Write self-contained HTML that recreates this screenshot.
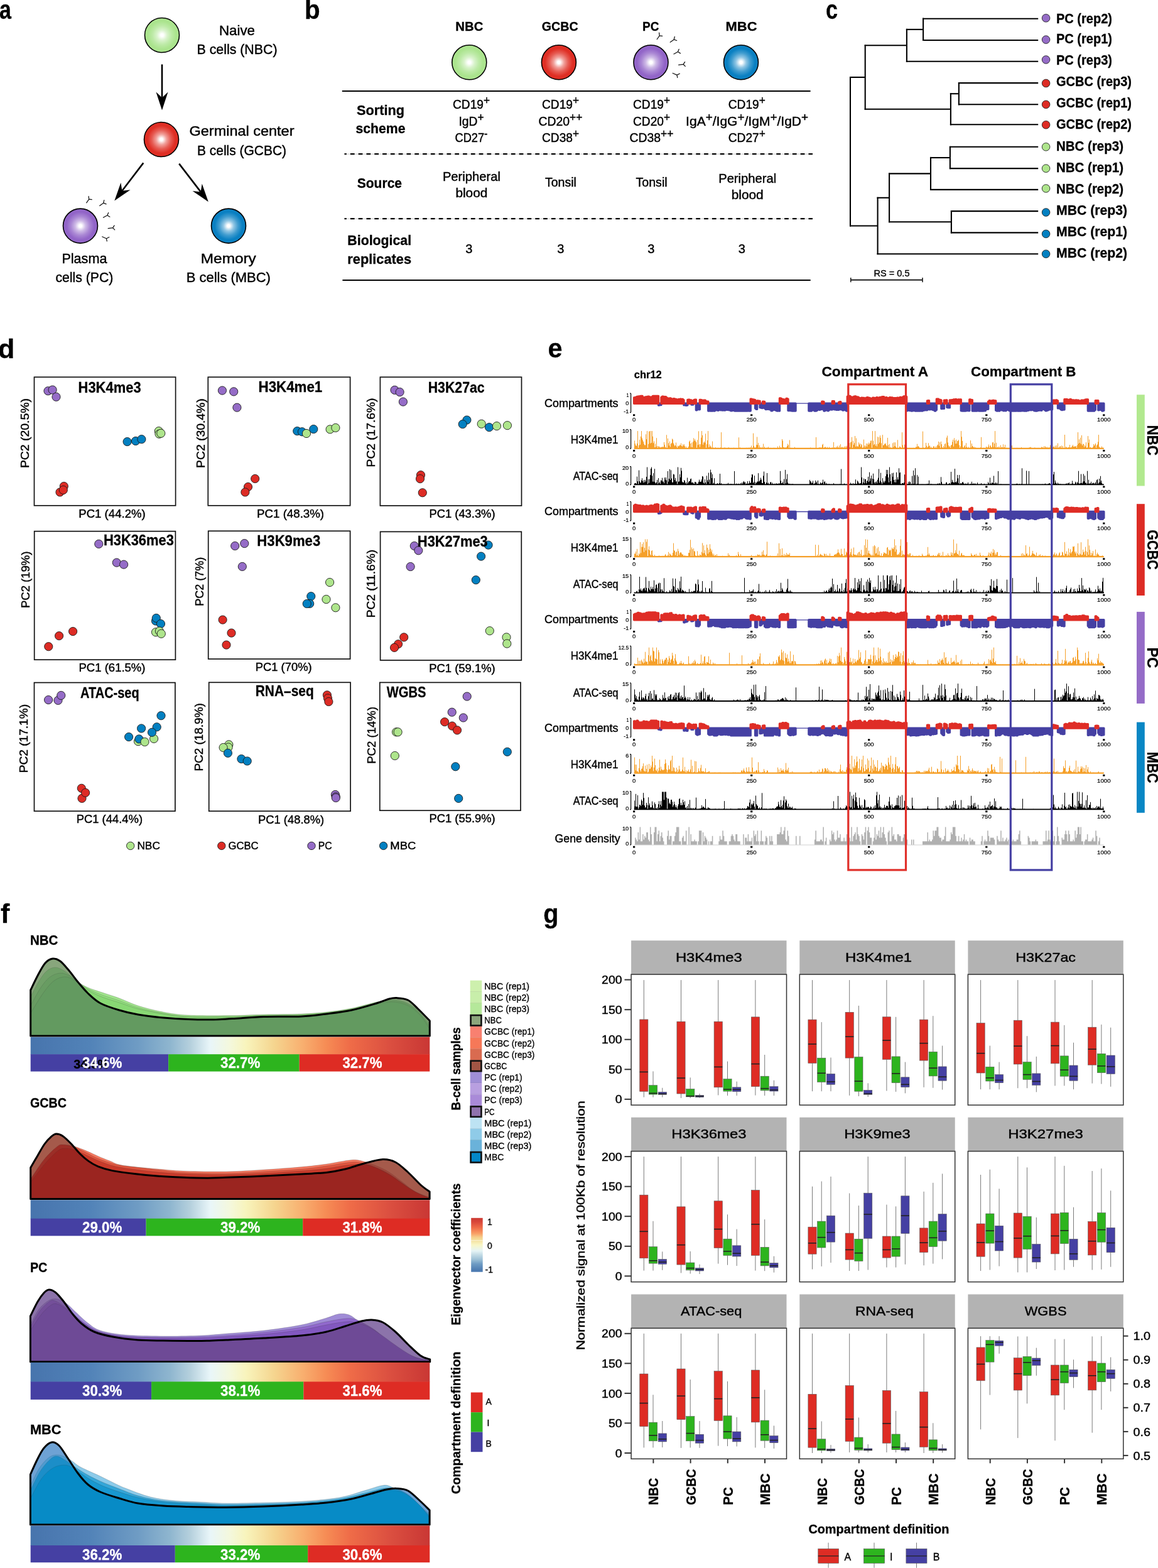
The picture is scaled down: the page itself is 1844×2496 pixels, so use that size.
<!DOCTYPE html>
<html><head><meta charset="utf-8"><title>Figure</title>
<style>html,body{margin:0;padding:0;background:#fff;}svg{display:block;}
text{font-family:"Liberation Sans", Arial, sans-serif;}</style></head>
<body><svg width="1844" height="2496" viewBox="0 0 1844 2496">
<defs><radialGradient id="gNBC" cx="50%" cy="50%" r="50%"><stop offset="0" stop-color="#fff"/><stop offset="0.08" stop-color="#fff"/><stop offset="0.3" stop-color="#d9f3cc"/><stop offset="0.55" stop-color="#bdeaa7"/><stop offset="0.8" stop-color="#abe48e"/><stop offset="1" stop-color="#abe48e"/></radialGradient>
<radialGradient id="gGCBC" cx="50%" cy="50%" r="50%"><stop offset="0" stop-color="#fff"/><stop offset="0.08" stop-color="#fff"/><stop offset="0.3" stop-color="#f1a19c"/><stop offset="0.55" stop-color="#e65c54"/><stop offset="0.8" stop-color="#df2e24"/><stop offset="1" stop-color="#df2e24"/></radialGradient>
<radialGradient id="gPC" cx="50%" cy="50%" r="50%"><stop offset="0" stop-color="#fff"/><stop offset="0.08" stop-color="#fff"/><stop offset="0.3" stop-color="#cebae6"/><stop offset="0.55" stop-color="#aa87d4"/><stop offset="0.8" stop-color="#9265c8"/><stop offset="1" stop-color="#9265c8"/></radialGradient>
<radialGradient id="gMBC" cx="50%" cy="50%" r="50%"><stop offset="0" stop-color="#fff"/><stop offset="0.08" stop-color="#fff"/><stop offset="0.3" stop-color="#91c6e4"/><stop offset="0.55" stop-color="#409ccf"/><stop offset="0.8" stop-color="#0a80c2"/><stop offset="1" stop-color="#0a80c2"/></radialGradient>
<linearGradient id="eigH" x1="0" y1="0" x2="1" y2="0"><stop offset="0" stop-color="#4774ad"/><stop offset="0.15" stop-color="#5283b8"/><stop offset="0.27" stop-color="#6f9cc4"/><stop offset="0.35" stop-color="#8fb6cf"/><stop offset="0.4" stop-color="#b5d0dd"/><stop offset="0.45" stop-color="#e9f6f9"/><stop offset="0.5" stop-color="#f4f8dc"/><stop offset="0.54" stop-color="#f8f4bc"/><stop offset="0.61" stop-color="#f5d58f"/><stop offset="0.68" stop-color="#f8b070"/><stop offset="0.74" stop-color="#f68c55"/><stop offset="0.8" stop-color="#ef6c48"/><stop offset="0.9" stop-color="#db4f40"/><stop offset="1" stop-color="#c93734"/></linearGradient>
<linearGradient id="eigV" x1="0" y1="1" x2="0" y2="0"><stop offset="0" stop-color="#4a78b0"/><stop offset="0.04" stop-color="#4f7db2"/><stop offset="0.15" stop-color="#6f9cc4"/><stop offset="0.23" stop-color="#9cc0d6"/><stop offset="0.32" stop-color="#c4dce6"/><stop offset="0.39" stop-color="#e6f4f6"/><stop offset="0.5" stop-color="#f8f6c6"/><stop offset="0.6" stop-color="#f4dc98"/><stop offset="0.64" stop-color="#f5cf8c"/><stop offset="0.71" stop-color="#f9a066"/><stop offset="0.82" stop-color="#ef6c48"/><stop offset="0.93" stop-color="#d8463a"/><stop offset="1" stop-color="#cc3a32"/></linearGradient>
<clipPath id="fc1"><path d="M48.7 1576C50.6 1572.2 56.1 1560.2 60 1553C63.9 1545.8 68 1537.5 72 1533C76 1528.5 80 1526.5 84 1526C88 1525.5 91.6 1526.8 95.9 1530C100.2 1533.2 105.2 1539.5 109.9 1545C114.6 1550.5 118.9 1557 123.9 1563C128.9 1569 133.9 1575.3 139.9 1581C145.9 1586.7 151.6 1592.5 159.9 1597C168.2 1601.5 179.8 1605 189.8 1608C199.8 1611 208.1 1613 219.8 1615C231.5 1617 246.5 1618.8 259.8 1620C273.1 1621.2 286.4 1622 299.7 1622.5C313 1623 328 1623.2 339.7 1623C351.4 1622.8 356.6 1622.2 370 1621.5C383.4 1620.8 401.7 1619.1 420 1618.5C438.3 1617.9 463.3 1618.7 479.9 1617.9C496.5 1617.2 506.5 1615.7 519.8 1614C533.1 1612.3 546.5 1610.8 559.8 1608C573.1 1605.2 589.8 1600 599.8 1597C609.8 1594 614.4 1591.4 619.7 1590C625 1588.6 626.7 1588.3 631.7 1588.6C636.7 1588.9 644 1589.1 649.7 1592C655.4 1594.9 659.9 1600.5 665.7 1606C671.5 1611.5 681.2 1621.8 684.3 1625V1649H48.7Z"/></clipPath>
<clipPath id="fc2"><path d="M48.7 1858.8C50.5 1855.7 55.7 1846.7 59.4 1840.4C63.1 1834.1 67.3 1826.2 71 1821C74.7 1815.8 78.5 1812.1 81.6 1809.4C84.7 1806.8 86.3 1805.3 89.4 1805.1C92.5 1804.9 96 1805.8 100 1808.4C104 1811.1 109.1 1816.3 113.6 1821C118.1 1825.7 122.7 1832 127.2 1836.5C131.7 1841 135.9 1844.7 140.7 1848.1C145.5 1851.5 149.7 1854.2 156.2 1856.8C162.7 1859.4 169.8 1861.7 179.5 1863.6C189.2 1865.5 202 1867 214.3 1868.4C226.6 1869.9 240.2 1871.3 253.1 1872.3C266 1873.3 278.9 1873.8 291.8 1874.3C304.7 1874.8 319.2 1875.2 330.6 1875.2C342 1875.2 345.1 1874.8 360 1874.3C374.9 1873.8 400 1872.9 420 1872C440 1871.1 463.3 1869.9 479.9 1869C496.5 1868.1 508.1 1867.7 519.8 1866.4C531.4 1865.1 539.8 1863.4 549.8 1861C559.8 1858.6 569.8 1854.6 579.8 1852C589.8 1849.4 601.4 1845.9 609.7 1845.6C618 1845.3 623 1846.6 629.7 1850C636.4 1853.4 643 1860 649.7 1866C656.4 1872 664 1880.8 669.7 1886C675.4 1891.2 681.7 1895.2 684.1 1897V1908.4H48.7Z"/></clipPath>
<clipPath id="fc3"><path d="M48.4 2095C50.3 2091.2 56.4 2078.2 60 2072C63.6 2065.8 67 2061.2 70 2058C73 2054.8 75 2053.2 78 2053C81 2052.8 84.3 2054.2 88 2057C91.7 2059.8 95.3 2064.2 100 2070C104.7 2075.8 110.9 2085.8 115.9 2092C120.9 2098.2 124.2 2102.3 129.9 2107C135.6 2111.7 141.6 2116.5 149.9 2120C158.2 2123.5 168.2 2125.8 179.9 2128C191.6 2130.2 206.5 2132 219.8 2133C233.1 2134 246.5 2133.8 259.8 2134C273.1 2134.2 288.1 2134.4 299.7 2134.5C311.3 2134.6 319.6 2134.6 329.7 2134.3C339.8 2134.1 344.9 2133.7 360 2133C375.1 2132.3 400 2131.2 420 2130C440 2128.8 463.3 2127.7 479.9 2126C496.5 2124.3 508.1 2122.5 519.8 2120C531.4 2117.5 540.5 2113.8 549.8 2111C559.1 2108.2 568.8 2104.7 575.8 2103C582.8 2101.3 586.1 2100.7 591.8 2101C597.4 2101.3 603.4 2101.8 609.7 2105C616 2108.2 623 2114.2 629.7 2120C636.4 2125.8 643 2133.7 649.7 2140C656.4 2146.3 663.9 2154 669.7 2158C675.5 2162 682.2 2163 684.7 2164V2167.8H48.4Z"/></clipPath>
<clipPath id="fc4"><path d="M48.4 2347C50.3 2342.8 56.4 2329 60 2322C63.6 2315 66.3 2309.3 70 2305C73.7 2300.7 78 2296.7 82 2296C86 2295.3 89.6 2296.8 93.9 2301C98.2 2305.2 102.9 2313.7 107.9 2321C112.9 2328.3 118.6 2338 123.9 2345C129.2 2352 133.9 2358 139.9 2363C145.9 2368 151.6 2371.3 159.9 2375C168.2 2378.7 179.8 2382 189.8 2385C199.8 2388 208.1 2391 219.8 2393C231.5 2395 246.5 2396.1 259.8 2397C273.1 2397.9 283 2398.1 299.7 2398.5C316.4 2398.9 339.9 2399.6 360 2399.5C380.1 2399.4 400 2398.8 420 2398C440 2397.2 463.3 2396 479.9 2395C496.5 2394 506.5 2393.5 519.8 2392C533.1 2390.5 548.1 2388.3 559.8 2386C571.5 2383.7 580.5 2380.5 589.8 2378C599.1 2375.5 608.7 2372.4 615.7 2371C622.7 2369.6 626 2369.1 631.7 2369.4C637.4 2369.7 643.4 2369.6 649.7 2373C656 2376.4 664 2384.8 669.7 2390C675.4 2395.2 681.7 2401.7 684.1 2404V2427.1H48.4Z"/></clipPath></defs>
<rect width="1844" height="2496" fill="#fff"/>
<text x="-0.9" y="29.5" font-size="43" font-weight="bold" stroke="#000" stroke-width="0.30" textLength="18.9" lengthAdjust="spacingAndGlyphs">a</text>
<text x="485" y="30.4" font-size="43" font-weight="bold" stroke="#000" stroke-width="0.30" textLength="24.7" lengthAdjust="spacingAndGlyphs">b</text>
<text x="1315.1" y="30.4" font-size="43" font-weight="bold" stroke="#000" stroke-width="0.30" textLength="19.1" lengthAdjust="spacingAndGlyphs">c</text>
<circle cx="258" cy="56" r="27.5" fill="url(#gNBC)" stroke="#000" stroke-width="1.6"/>
<circle cx="257" cy="222" r="27.5" fill="url(#gGCBC)" stroke="#000" stroke-width="1.6"/>
<circle cx="128" cy="359.6" r="27.5" fill="url(#gPC)" stroke="#000" stroke-width="1.6"/>
<circle cx="364" cy="359.6" r="27.5" fill="url(#gMBC)" stroke="#000" stroke-width="1.6"/>
<line x1="258" y1="102.5" x2="258" y2="155.5" stroke="#000" stroke-width="2.6"/>
<path d="M258 175.5 L248.5 146.5 L258 155.5 L267.5 146.5 Z" fill="#000"/>
<line x1="228.3" y1="259.4" x2="194.4" y2="303.7" stroke="#000" stroke-width="2.6"/>
<path d="M182.3 319.6 L192.4 290.8 L194.4 303.7 L207.5 302.3 Z" fill="#000"/>
<line x1="285.2" y1="260.6" x2="319.6" y2="305.4" stroke="#000" stroke-width="2.6"/>
<path d="M331.8 321.3 L306.6 304.1 L319.6 305.4 L321.7 292.5 Z" fill="#000"/>
<text x="377.5" y="55.5" font-size="22" text-anchor="middle" stroke="#000" stroke-width="0.42" textLength="57" lengthAdjust="spacingAndGlyphs">Naive</text>
<text x="377.5" y="86" font-size="22" text-anchor="middle" stroke="#000" stroke-width="0.42" textLength="128" lengthAdjust="spacingAndGlyphs">B cells (NBC)</text>
<text x="385" y="216" font-size="22" text-anchor="middle" stroke="#000" stroke-width="0.42" textLength="167" lengthAdjust="spacingAndGlyphs">Germinal center</text>
<text x="385" y="247" font-size="22" text-anchor="middle" stroke="#000" stroke-width="0.42" textLength="142" lengthAdjust="spacingAndGlyphs">B cells (GCBC)</text>
<text x="134.4" y="419" font-size="22" text-anchor="middle" stroke="#000" stroke-width="0.42" textLength="72" lengthAdjust="spacingAndGlyphs">Plasma</text>
<text x="134.4" y="449" font-size="22" text-anchor="middle" stroke="#000" stroke-width="0.42" textLength="92" lengthAdjust="spacingAndGlyphs">cells (PC)</text>
<text x="363.8" y="419" font-size="22" text-anchor="middle" stroke="#000" stroke-width="0.42" textLength="88" lengthAdjust="spacingAndGlyphs">Memory</text>
<text x="363.8" y="449" font-size="22" text-anchor="middle" stroke="#000" stroke-width="0.42" textLength="134" lengthAdjust="spacingAndGlyphs">B cells (MBC)</text>
<path d="M137.7 322.8L141.7 317.2M141.7 317.2L141.1 312.5M141.7 317.2L146.2 317.6M158.7 327.5L164.7 323.2M164.7 323.2L165.8 318.7M164.7 323.2L169.1 324.8M164.5 346.3L170.9 342.8M170.9 342.8L172.7 338.6M170.9 342.8L174.9 345.2M172.2 363.7L179.6 362.6M179.6 362.6L182.1 358.9M179.6 362.6L182.7 365.9M170.3 383.8L169.4 379.7M169.4 379.7L162.7 376.8M169.4 379.7L173.8 377.5" fill="none" stroke="#111" stroke-width="1.25" stroke-linecap="round"/>
<text x="747.3" y="48.5" font-size="21" font-weight="bold" text-anchor="middle" stroke="#000" stroke-width="0.30" textLength="44" lengthAdjust="spacingAndGlyphs">NBC</text>
<text x="891.8" y="48.5" font-size="21" font-weight="bold" text-anchor="middle" stroke="#000" stroke-width="0.30" textLength="58" lengthAdjust="spacingAndGlyphs">GCBC</text>
<text x="1036.2" y="48.5" font-size="21" font-weight="bold" text-anchor="middle" stroke="#000" stroke-width="0.30" textLength="26.4" lengthAdjust="spacingAndGlyphs">PC</text>
<text x="1180.5" y="48.5" font-size="21" font-weight="bold" text-anchor="middle" stroke="#000" stroke-width="0.30" textLength="50" lengthAdjust="spacingAndGlyphs">MBC</text>
<circle cx="747.3" cy="99.3" r="27.5" fill="url(#gNBC)" stroke="#000" stroke-width="1.6"/>
<circle cx="889.9" cy="99.3" r="27.5" fill="url(#gGCBC)" stroke="#000" stroke-width="1.6"/>
<circle cx="1036.5" cy="99.3" r="27.5" fill="url(#gPC)" stroke="#000" stroke-width="1.6"/>
<circle cx="1180" cy="99.3" r="27.5" fill="url(#gMBC)" stroke="#000" stroke-width="1.6"/>
<path d="M1046.2 62.5L1050.2 56.9M1050.2 56.9L1049.6 52.2M1050.2 56.9L1054.7 57.3M1067.2 67.2L1073.2 62.9M1073.2 62.9L1074.3 58.4M1073.2 62.9L1077.6 64.5M1073 86L1079.4 82.5M1079.4 82.5L1081.2 78.3M1079.4 82.5L1083.4 84.9M1080.7 103.4L1088.1 102.3M1088.1 102.3L1090.6 98.6M1088.1 102.3L1091.2 105.6M1078.8 123.5L1077.9 119.4M1077.9 119.4L1071.2 116.5M1077.9 119.4L1082.3 117.2" fill="none" stroke="#111" stroke-width="1.25" stroke-linecap="round"/>
<line x1="544.8" y1="145" x2="1290.6" y2="145" stroke="#000" stroke-width="2.2"/>
<line x1="548.5" y1="245.2" x2="1294" y2="245.2" stroke="#bdbdbd" stroke-width="0.8"/>
<line x1="548.5" y1="245.2" x2="1294" y2="245.2" stroke="#000" stroke-width="2.2" stroke-dasharray="6.7 6.1" stroke-dashoffset="3.4"/>
<line x1="548.5" y1="348.2" x2="1294" y2="348.2" stroke="#bdbdbd" stroke-width="0.8"/>
<line x1="548.5" y1="348.2" x2="1294" y2="348.2" stroke="#000" stroke-width="2.2" stroke-dasharray="6.7 6.1" stroke-dashoffset="3.4"/>
<line x1="545.4" y1="446" x2="1290.7" y2="446" stroke="#000" stroke-width="2.2"/>
<text x="606" y="183" font-size="22.5" font-weight="bold" text-anchor="middle" stroke="#000" stroke-width="0.30" textLength="76" lengthAdjust="spacingAndGlyphs">Sorting</text>
<text x="606" y="212.2" font-size="22.5" font-weight="bold" text-anchor="middle" stroke="#000" stroke-width="0.30" textLength="79" lengthAdjust="spacingAndGlyphs">scheme</text>
<text x="604.4" y="299" font-size="22.5" font-weight="bold" text-anchor="middle" stroke="#000" stroke-width="0.30" textLength="71.3" lengthAdjust="spacingAndGlyphs">Source</text>
<text x="604.2" y="390" font-size="22.5" font-weight="bold" text-anchor="middle" stroke="#000" stroke-width="0.30" textLength="101.7" lengthAdjust="spacingAndGlyphs">Biological</text>
<text x="604.2" y="419.5" font-size="22.5" font-weight="bold" text-anchor="middle" stroke="#000" stroke-width="0.30" textLength="101.7" lengthAdjust="spacingAndGlyphs">replicates</text>
<text x="750.5" y="173.3" font-size="20" text-anchor="middle" stroke="#000" stroke-width="0.42" textLength="59" lengthAdjust="spacingAndGlyphs">CD19<tspan dy="-7.5" font-size="18">+</tspan></text>
<text x="750.5" y="200.4" font-size="20" text-anchor="middle" stroke="#000" stroke-width="0.42" textLength="40" lengthAdjust="spacingAndGlyphs">IgD<tspan dy="-7.5" font-size="18">+</tspan></text>
<text x="750.5" y="226" font-size="20" text-anchor="middle" stroke="#000" stroke-width="0.42" textLength="52" lengthAdjust="spacingAndGlyphs">CD27<tspan dy="-7.5" font-size="18">-</tspan></text>
<text x="892.5" y="173.3" font-size="20" text-anchor="middle" stroke="#000" stroke-width="0.42" textLength="59" lengthAdjust="spacingAndGlyphs">CD19<tspan dy="-7.5" font-size="18">+</tspan></text>
<text x="892.5" y="200.4" font-size="20" text-anchor="middle" stroke="#000" stroke-width="0.42" textLength="70" lengthAdjust="spacingAndGlyphs">CD20<tspan dy="-7.5" font-size="18">++</tspan></text>
<text x="892.5" y="226" font-size="20" text-anchor="middle" stroke="#000" stroke-width="0.42" textLength="59" lengthAdjust="spacingAndGlyphs">CD38<tspan dy="-7.5" font-size="18">+</tspan></text>
<text x="1037.5" y="173.3" font-size="20" text-anchor="middle" stroke="#000" stroke-width="0.42" textLength="59" lengthAdjust="spacingAndGlyphs">CD19<tspan dy="-7.5" font-size="18">+</tspan></text>
<text x="1037.5" y="200.4" font-size="20" text-anchor="middle" stroke="#000" stroke-width="0.42" textLength="59" lengthAdjust="spacingAndGlyphs">CD20<tspan dy="-7.5" font-size="18">+</tspan></text>
<text x="1037.5" y="226" font-size="20" text-anchor="middle" stroke="#000" stroke-width="0.42" textLength="70" lengthAdjust="spacingAndGlyphs">CD38<tspan dy="-7.5" font-size="18">++</tspan></text>
<text x="1189.3" y="173.3" font-size="20" text-anchor="middle" stroke="#000" stroke-width="0.42" textLength="59" lengthAdjust="spacingAndGlyphs">CD19<tspan dy="-7.5" font-size="18">+</tspan></text>
<text x="1189.6" y="200.4" font-size="20" text-anchor="middle" stroke="#000" stroke-width="0.42" textLength="195" lengthAdjust="spacingAndGlyphs">IgA<tspan dy="-7.5" font-size="18">+</tspan><tspan dy="7.5">/IgG</tspan><tspan dy="-7.5" font-size="18">+</tspan><tspan dy="7.5">/IgM</tspan><tspan dy="-7.5" font-size="18">+</tspan><tspan dy="7.5">/IgD</tspan><tspan dy="-7.5" font-size="18">+</tspan></text>
<text x="1189.3" y="226" font-size="20" text-anchor="middle" stroke="#000" stroke-width="0.42" textLength="59" lengthAdjust="spacingAndGlyphs">CD27<tspan dy="-7.5" font-size="18">+</tspan></text>
<text x="750.9" y="287.6" font-size="20" text-anchor="middle" stroke="#000" stroke-width="0.42" textLength="92" lengthAdjust="spacingAndGlyphs">Peripheral</text>
<text x="750.9" y="314" font-size="20" text-anchor="middle" stroke="#000" stroke-width="0.42" textLength="51" lengthAdjust="spacingAndGlyphs">blood</text>
<text x="892.9" y="297" font-size="20" text-anchor="middle" stroke="#000" stroke-width="0.42" textLength="50" lengthAdjust="spacingAndGlyphs">Tonsil</text>
<text x="1037.6" y="297" font-size="20" text-anchor="middle" stroke="#000" stroke-width="0.42" textLength="50" lengthAdjust="spacingAndGlyphs">Tonsil</text>
<text x="1190.2" y="290.8" font-size="20" text-anchor="middle" stroke="#000" stroke-width="0.42" textLength="92" lengthAdjust="spacingAndGlyphs">Peripheral</text>
<text x="1190.2" y="317.2" font-size="20" text-anchor="middle" stroke="#000" stroke-width="0.42" textLength="51" lengthAdjust="spacingAndGlyphs">blood</text>
<text x="746.9" y="403" font-size="20" text-anchor="middle" stroke="#000" stroke-width="0.42">3</text>
<text x="892.7" y="403" font-size="20" text-anchor="middle" stroke="#000" stroke-width="0.42">3</text>
<text x="1036.8" y="403" font-size="20" text-anchor="middle" stroke="#000" stroke-width="0.42">3</text>
<text x="1181.2" y="403" font-size="20" text-anchor="middle" stroke="#000" stroke-width="0.42">3</text>
<line x1="1469" y1="29.7" x2="1653.2" y2="29.7" stroke="#000" stroke-width="2.1"/>
<line x1="1469" y1="64" x2="1653.2" y2="64" stroke="#000" stroke-width="2.1"/>
<line x1="1470.1" y1="28.6" x2="1470.1" y2="65" stroke="#000" stroke-width="2.1"/>
<line x1="1442.9" y1="46.9" x2="1470.1" y2="46.9" stroke="#000" stroke-width="2.1"/>
<line x1="1442.9" y1="97.8" x2="1653.2" y2="97.8" stroke="#000" stroke-width="2.1"/>
<line x1="1443.9" y1="45.8" x2="1443.9" y2="98.8" stroke="#000" stroke-width="2.1"/>
<line x1="1525.9" y1="132.1" x2="1653.2" y2="132.1" stroke="#000" stroke-width="2.1"/>
<line x1="1525.9" y1="166.3" x2="1653.2" y2="166.3" stroke="#000" stroke-width="2.1"/>
<line x1="1526.9" y1="131" x2="1526.9" y2="167.4" stroke="#000" stroke-width="2.1"/>
<line x1="1512.9" y1="149.2" x2="1526.9" y2="149.2" stroke="#000" stroke-width="2.1"/>
<line x1="1512.9" y1="198.3" x2="1653.2" y2="198.3" stroke="#000" stroke-width="2.1"/>
<line x1="1513.9" y1="148.1" x2="1513.9" y2="199.4" stroke="#000" stroke-width="2.1"/>
<line x1="1376.7" y1="72.3" x2="1443.9" y2="72.3" stroke="#000" stroke-width="2.1"/>
<line x1="1376.7" y1="173.8" x2="1513.9" y2="173.8" stroke="#000" stroke-width="2.1"/>
<line x1="1377.7" y1="71.3" x2="1377.7" y2="174.8" stroke="#000" stroke-width="2.1"/>
<line x1="1511.9" y1="233.8" x2="1653.2" y2="233.8" stroke="#000" stroke-width="2.1"/>
<line x1="1511.9" y1="268.1" x2="1653.2" y2="268.1" stroke="#000" stroke-width="2.1"/>
<line x1="1512.9" y1="232.8" x2="1512.9" y2="269.2" stroke="#000" stroke-width="2.1"/>
<line x1="1481" y1="251" x2="1512.9" y2="251" stroke="#000" stroke-width="2.1"/>
<line x1="1481" y1="301.9" x2="1653.2" y2="301.9" stroke="#000" stroke-width="2.1"/>
<line x1="1482" y1="249.9" x2="1482" y2="302.9" stroke="#000" stroke-width="2.1"/>
<line x1="1513.9" y1="336.1" x2="1653.2" y2="336.1" stroke="#000" stroke-width="2.1"/>
<line x1="1513.9" y1="370.4" x2="1653.2" y2="370.4" stroke="#000" stroke-width="2.1"/>
<line x1="1514.9" y1="335.1" x2="1514.9" y2="371.4" stroke="#000" stroke-width="2.1"/>
<line x1="1415" y1="276.4" x2="1482" y2="276.4" stroke="#000" stroke-width="2.1"/>
<line x1="1415" y1="353.2" x2="1514.9" y2="353.2" stroke="#000" stroke-width="2.1"/>
<line x1="1416.1" y1="275.4" x2="1416.1" y2="354.3" stroke="#000" stroke-width="2.1"/>
<line x1="1396.5" y1="314.8" x2="1416.1" y2="314.8" stroke="#000" stroke-width="2.1"/>
<line x1="1396.5" y1="404.2" x2="1653.2" y2="404.2" stroke="#000" stroke-width="2.1"/>
<line x1="1397.6" y1="313.8" x2="1397.6" y2="405.2" stroke="#000" stroke-width="2.1"/>
<line x1="1353" y1="123" x2="1377.7" y2="123" stroke="#000" stroke-width="2.1"/>
<line x1="1353" y1="359.5" x2="1397.6" y2="359.5" stroke="#000" stroke-width="2.1"/>
<line x1="1354" y1="122" x2="1354" y2="360.6" stroke="#000" stroke-width="2.1"/>
<circle cx="1665.6" cy="28.8" r="6.3" fill="#956cc7" stroke="#222" stroke-width="0.9"/>
<text x="1682" y="36.8" font-size="22.2" font-weight="bold" stroke="#000" stroke-width="0.30" textLength="89" lengthAdjust="spacingAndGlyphs">PC (rep2)</text>
<circle cx="1665.6" cy="63.1" r="6.3" fill="#956cc7" stroke="#222" stroke-width="0.9"/>
<text x="1682" y="69.2" font-size="22.2" font-weight="bold" stroke="#000" stroke-width="0.30" textLength="89" lengthAdjust="spacingAndGlyphs">PC (rep1)</text>
<circle cx="1665.6" cy="95" r="6.3" fill="#956cc7" stroke="#222" stroke-width="0.9"/>
<text x="1682" y="103" font-size="22.2" font-weight="bold" stroke="#000" stroke-width="0.30" textLength="89" lengthAdjust="spacingAndGlyphs">PC (rep3)</text>
<circle cx="1665.6" cy="132.5" r="6.3" fill="#dd2c25" stroke="#222" stroke-width="0.9"/>
<text x="1682" y="137.2" font-size="22.2" font-weight="bold" stroke="#000" stroke-width="0.30" textLength="120" lengthAdjust="spacingAndGlyphs">GCBC (rep3)</text>
<circle cx="1665.6" cy="166.3" r="6.3" fill="#dd2c25" stroke="#222" stroke-width="0.9"/>
<text x="1682" y="171" font-size="22.2" font-weight="bold" stroke="#000" stroke-width="0.30" textLength="120" lengthAdjust="spacingAndGlyphs">GCBC (rep1)</text>
<circle cx="1665.6" cy="198.7" r="6.3" fill="#dd2c25" stroke="#222" stroke-width="0.9"/>
<text x="1682" y="204.8" font-size="22.2" font-weight="bold" stroke="#000" stroke-width="0.30" textLength="120" lengthAdjust="spacingAndGlyphs">GCBC (rep2)</text>
<circle cx="1665.6" cy="233.8" r="6.3" fill="#aee58c" stroke="#222" stroke-width="0.9"/>
<text x="1682" y="239.9" font-size="22.2" font-weight="bold" stroke="#000" stroke-width="0.30" textLength="107" lengthAdjust="spacingAndGlyphs">NBC (rep3)</text>
<circle cx="1665.6" cy="268.1" r="6.3" fill="#aee58c" stroke="#222" stroke-width="0.9"/>
<text x="1682" y="273.7" font-size="22.2" font-weight="bold" stroke="#000" stroke-width="0.30" textLength="107" lengthAdjust="spacingAndGlyphs">NBC (rep1)</text>
<circle cx="1665.6" cy="300" r="6.3" fill="#aee58c" stroke="#222" stroke-width="0.9"/>
<text x="1682" y="308" font-size="22.2" font-weight="bold" stroke="#000" stroke-width="0.30" textLength="107" lengthAdjust="spacingAndGlyphs">NBC (rep2)</text>
<circle cx="1665.6" cy="338" r="6.3" fill="#0380c1" stroke="#222" stroke-width="0.9"/>
<text x="1682" y="341.8" font-size="22.2" font-weight="bold" stroke="#000" stroke-width="0.30" textLength="113" lengthAdjust="spacingAndGlyphs">MBC (rep3)</text>
<circle cx="1665.6" cy="372.3" r="6.3" fill="#0380c1" stroke="#222" stroke-width="0.9"/>
<text x="1682" y="376" font-size="22.2" font-weight="bold" stroke="#000" stroke-width="0.30" textLength="113" lengthAdjust="spacingAndGlyphs">MBC (rep1)</text>
<circle cx="1665.6" cy="404.2" r="6.3" fill="#0380c1" stroke="#222" stroke-width="0.9"/>
<text x="1682" y="410.3" font-size="22.2" font-weight="bold" stroke="#000" stroke-width="0.30" textLength="113" lengthAdjust="spacingAndGlyphs">MBC (rep2)</text>
<line x1="1354.8" y1="445.6" x2="1469" y2="445.6" stroke="#000" stroke-width="1.8"/>
<line x1="1354.8" y1="442" x2="1354.8" y2="449.2" stroke="#000" stroke-width="1.4"/>
<line x1="1469" y1="442" x2="1469" y2="449.2" stroke="#000" stroke-width="1.4"/>
<text x="1420" y="439.5" font-size="15.5" text-anchor="middle" stroke="#000" stroke-width="0.36" textLength="57" lengthAdjust="spacingAndGlyphs">RS = 0.5</text>
<text x="-3.1" y="570.3" font-size="43" font-weight="bold" stroke="#000" stroke-width="0.30">d</text>
<rect x="54.5" y="600.3" width="225.1" height="204.5" fill="none" stroke="#111" stroke-width="1.7"/>
<circle cx="76.5" cy="622.3" r="6.6" fill="#956cc7" stroke="#1a1a1a" stroke-width="0.9"/>
<circle cx="83.6" cy="620.6" r="6.6" fill="#956cc7" stroke="#1a1a1a" stroke-width="0.9"/>
<circle cx="89.5" cy="631.8" r="6.6" fill="#956cc7" stroke="#1a1a1a" stroke-width="0.9"/>
<circle cx="202.6" cy="703.1" r="6.6" fill="#0380c1" stroke="#1a1a1a" stroke-width="0.9"/>
<circle cx="216" cy="702" r="6.6" fill="#0380c1" stroke="#1a1a1a" stroke-width="0.9"/>
<circle cx="225.4" cy="699.2" r="6.6" fill="#0380c1" stroke="#1a1a1a" stroke-width="0.9"/>
<circle cx="252.8" cy="686.2" r="6.6" fill="#aee58c" stroke="#1a1a1a" stroke-width="0.9"/>
<circle cx="253.5" cy="690.8" r="6.6" fill="#aee58c" stroke="#1a1a1a" stroke-width="0.9"/>
<circle cx="256.3" cy="689.8" r="6.6" fill="#aee58c" stroke="#1a1a1a" stroke-width="0.9"/>
<circle cx="101.8" cy="774" r="6.6" fill="#dd2c25" stroke="#1a1a1a" stroke-width="0.9"/>
<circle cx="95.5" cy="783.5" r="6.6" fill="#dd2c25" stroke="#1a1a1a" stroke-width="0.9"/>
<circle cx="100.8" cy="780" r="6.6" fill="#dd2c25" stroke="#1a1a1a" stroke-width="0.9"/>
<text x="174.6" y="624.8" font-size="23" font-weight="bold" text-anchor="middle" stroke="#000" stroke-width="0.30" textLength="100.1" lengthAdjust="spacingAndGlyphs">H3K4me3</text>
<text x="178.5" y="824.2" font-size="18.5" text-anchor="middle" stroke="#000" stroke-width="0.42" textLength="106.4" lengthAdjust="spacingAndGlyphs">PC1 (44.2%)</text>
<text x="45.6" y="689.6" font-size="18.5" text-anchor="middle" stroke="#000" stroke-width="0.42" textLength="111" lengthAdjust="spacingAndGlyphs" transform="rotate(-90 45.6 689.6)">PC2 (20.5%)</text>
<rect x="331.3" y="600.3" width="226.3" height="204.5" fill="none" stroke="#111" stroke-width="1.7"/>
<circle cx="353.9" cy="621.6" r="6.6" fill="#956cc7" stroke="#1a1a1a" stroke-width="0.9"/>
<circle cx="372.2" cy="623.4" r="6.6" fill="#956cc7" stroke="#1a1a1a" stroke-width="0.9"/>
<circle cx="377.4" cy="648.7" r="6.6" fill="#956cc7" stroke="#1a1a1a" stroke-width="0.9"/>
<circle cx="473.3" cy="686.2" r="6.6" fill="#0380c1" stroke="#1a1a1a" stroke-width="0.9"/>
<circle cx="481" cy="687.3" r="6.6" fill="#0380c1" stroke="#1a1a1a" stroke-width="0.9"/>
<circle cx="488" cy="690" r="6.6" fill="#aee58c" stroke="#1a1a1a" stroke-width="0.9"/>
<circle cx="499.3" cy="683.1" r="6.6" fill="#0380c1" stroke="#1a1a1a" stroke-width="0.9"/>
<circle cx="525.6" cy="683.4" r="6.6" fill="#aee58c" stroke="#1a1a1a" stroke-width="0.9"/>
<circle cx="534.4" cy="681" r="6.6" fill="#aee58c" stroke="#1a1a1a" stroke-width="0.9"/>
<circle cx="406.2" cy="762" r="6.6" fill="#dd2c25" stroke="#1a1a1a" stroke-width="0.9"/>
<circle cx="395" cy="775" r="6.6" fill="#dd2c25" stroke="#1a1a1a" stroke-width="0.9"/>
<circle cx="390.4" cy="783.5" r="6.6" fill="#dd2c25" stroke="#1a1a1a" stroke-width="0.9"/>
<text x="462.4" y="623.6" font-size="23" font-weight="bold" text-anchor="middle" stroke="#000" stroke-width="0.30" textLength="101.8" lengthAdjust="spacingAndGlyphs">H3K4me1</text>
<text x="462.6" y="824.2" font-size="18.5" text-anchor="middle" stroke="#000" stroke-width="0.42" textLength="107" lengthAdjust="spacingAndGlyphs">PC1 (48.3%)</text>
<text x="326.4" y="689.6" font-size="18.5" text-anchor="middle" stroke="#000" stroke-width="0.42" textLength="110.6" lengthAdjust="spacingAndGlyphs" transform="rotate(-90 326.4 689.6)">PC2 (30.4%)</text>
<rect x="605.4" y="600.3" width="225.1" height="204.7" fill="none" stroke="#111" stroke-width="1.7"/>
<circle cx="628.5" cy="620.9" r="6.6" fill="#956cc7" stroke="#1a1a1a" stroke-width="0.9"/>
<circle cx="636.6" cy="624.1" r="6.6" fill="#956cc7" stroke="#1a1a1a" stroke-width="0.9"/>
<circle cx="641.9" cy="639.6" r="6.6" fill="#956cc7" stroke="#1a1a1a" stroke-width="0.9"/>
<circle cx="743.4" cy="668.6" r="6.6" fill="#0380c1" stroke="#1a1a1a" stroke-width="0.9"/>
<circle cx="736.7" cy="675.2" r="6.6" fill="#0380c1" stroke="#1a1a1a" stroke-width="0.9"/>
<circle cx="766.7" cy="674.8" r="6.6" fill="#aee58c" stroke="#1a1a1a" stroke-width="0.9"/>
<circle cx="779" cy="680.2" r="6.6" fill="#0380c1" stroke="#1a1a1a" stroke-width="0.9"/>
<circle cx="791" cy="678.2" r="6.6" fill="#aee58c" stroke="#1a1a1a" stroke-width="0.9"/>
<circle cx="807.9" cy="677.2" r="6.6" fill="#aee58c" stroke="#1a1a1a" stroke-width="0.9"/>
<circle cx="670" cy="756.2" r="6.6" fill="#dd2c25" stroke="#1a1a1a" stroke-width="0.9"/>
<circle cx="669" cy="762.2" r="6.6" fill="#dd2c25" stroke="#1a1a1a" stroke-width="0.9"/>
<circle cx="672.8" cy="784.3" r="6.6" fill="#dd2c25" stroke="#1a1a1a" stroke-width="0.9"/>
<text x="726.7" y="624.5" font-size="23" font-weight="bold" text-anchor="middle" stroke="#000" stroke-width="0.30" textLength="89.9" lengthAdjust="spacingAndGlyphs">H3K27ac</text>
<text x="736" y="823.8" font-size="18.5" text-anchor="middle" stroke="#000" stroke-width="0.42" textLength="105" lengthAdjust="spacingAndGlyphs">PC1 (43.3%)</text>
<text x="597.3" y="688.5" font-size="18.5" text-anchor="middle" stroke="#000" stroke-width="0.42" textLength="109.8" lengthAdjust="spacingAndGlyphs" transform="rotate(-90 597.3 688.5)">PC2 (17.6%)</text>
<rect x="54.7" y="845.7" width="224.7" height="204.5" fill="none" stroke="#111" stroke-width="1.7"/>
<circle cx="157.3" cy="865.9" r="6.6" fill="#956cc7" stroke="#1a1a1a" stroke-width="0.9"/>
<circle cx="185.8" cy="895.6" r="6.6" fill="#956cc7" stroke="#1a1a1a" stroke-width="0.9"/>
<circle cx="197.1" cy="898.6" r="6.6" fill="#956cc7" stroke="#1a1a1a" stroke-width="0.9"/>
<circle cx="248" cy="988.5" r="6.6" fill="#0380c1" stroke="#1a1a1a" stroke-width="0.9"/>
<circle cx="248.8" cy="983.9" r="6.6" fill="#0380c1" stroke="#1a1a1a" stroke-width="0.9"/>
<circle cx="256" cy="993" r="6.6" fill="#0380c1" stroke="#1a1a1a" stroke-width="0.9"/>
<circle cx="248" cy="1006.3" r="6.6" fill="#aee58c" stroke="#1a1a1a" stroke-width="0.9"/>
<circle cx="253.9" cy="1004.6" r="6.6" fill="#aee58c" stroke="#1a1a1a" stroke-width="0.9"/>
<circle cx="256.8" cy="1008.8" r="6.6" fill="#aee58c" stroke="#1a1a1a" stroke-width="0.9"/>
<circle cx="116.1" cy="1005.1" r="6.6" fill="#dd2c25" stroke="#1a1a1a" stroke-width="0.9"/>
<circle cx="94.1" cy="1012.2" r="6.6" fill="#dd2c25" stroke="#1a1a1a" stroke-width="0.9"/>
<circle cx="77.3" cy="1029.2" r="6.6" fill="#dd2c25" stroke="#1a1a1a" stroke-width="0.9"/>
<text x="220.9" y="868.1" font-size="23" font-weight="bold" text-anchor="middle" stroke="#000" stroke-width="0.30" textLength="111.9" lengthAdjust="spacingAndGlyphs">H3K36me3</text>
<text x="178.5" y="1068.7" font-size="18.5" text-anchor="middle" stroke="#000" stroke-width="0.42" textLength="106" lengthAdjust="spacingAndGlyphs">PC1 (61.5%)</text>
<text x="46.9" y="922.8" font-size="18.5" text-anchor="middle" stroke="#000" stroke-width="0.42" textLength="90.6" lengthAdjust="spacingAndGlyphs" transform="rotate(-90 46.9 922.8)">PC2 (19%)</text>
<rect x="331.7" y="845.3" width="225.9" height="203.7" fill="none" stroke="#111" stroke-width="1.7"/>
<circle cx="374.2" cy="869" r="6.6" fill="#956cc7" stroke="#1a1a1a" stroke-width="0.9"/>
<circle cx="389.3" cy="865.1" r="6.6" fill="#956cc7" stroke="#1a1a1a" stroke-width="0.9"/>
<circle cx="385.8" cy="901.9" r="6.6" fill="#956cc7" stroke="#1a1a1a" stroke-width="0.9"/>
<circle cx="495.3" cy="949.2" r="6.6" fill="#0380c1" stroke="#1a1a1a" stroke-width="0.9"/>
<circle cx="493.2" cy="960.9" r="6.6" fill="#0380c1" stroke="#1a1a1a" stroke-width="0.9"/>
<circle cx="488.7" cy="961" r="6.6" fill="#0380c1" stroke="#1a1a1a" stroke-width="0.9"/>
<circle cx="525.1" cy="927" r="6.6" fill="#aee58c" stroke="#1a1a1a" stroke-width="0.9"/>
<circle cx="519.5" cy="954" r="6.6" fill="#aee58c" stroke="#1a1a1a" stroke-width="0.9"/>
<circle cx="534.4" cy="967.3" r="6.6" fill="#aee58c" stroke="#1a1a1a" stroke-width="0.9"/>
<circle cx="354.6" cy="986.6" r="6.6" fill="#dd2c25" stroke="#1a1a1a" stroke-width="0.9"/>
<circle cx="368.5" cy="1007.6" r="6.6" fill="#dd2c25" stroke="#1a1a1a" stroke-width="0.9"/>
<circle cx="360.5" cy="1026.6" r="6.6" fill="#dd2c25" stroke="#1a1a1a" stroke-width="0.9"/>
<text x="459.8" y="869" font-size="23" font-weight="bold" text-anchor="middle" stroke="#000" stroke-width="0.30" textLength="100.9" lengthAdjust="spacingAndGlyphs">H3K9me3</text>
<text x="451.7" y="1067.8" font-size="18.5" text-anchor="middle" stroke="#000" stroke-width="0.42" textLength="89.8" lengthAdjust="spacingAndGlyphs">PC1 (70%)</text>
<text x="324.4" y="925.8" font-size="18.5" text-anchor="middle" stroke="#000" stroke-width="0.42" textLength="78" lengthAdjust="spacingAndGlyphs" transform="rotate(-90 324.4 925.8)">PC2 (7%)</text>
<rect x="605.6" y="846.4" width="224.7" height="204.6" fill="none" stroke="#111" stroke-width="1.7"/>
<circle cx="659.8" cy="869" r="6.6" fill="#956cc7" stroke="#1a1a1a" stroke-width="0.9"/>
<circle cx="666.3" cy="876.3" r="6.6" fill="#956cc7" stroke="#1a1a1a" stroke-width="0.9"/>
<circle cx="653.6" cy="902" r="6.6" fill="#956cc7" stroke="#1a1a1a" stroke-width="0.9"/>
<circle cx="777.6" cy="867.6" r="6.6" fill="#0380c1" stroke="#1a1a1a" stroke-width="0.9"/>
<circle cx="766.1" cy="885.6" r="6.6" fill="#0380c1" stroke="#1a1a1a" stroke-width="0.9"/>
<circle cx="757.8" cy="923.2" r="6.6" fill="#0380c1" stroke="#1a1a1a" stroke-width="0.9"/>
<circle cx="779.8" cy="1004.2" r="6.6" fill="#aee58c" stroke="#1a1a1a" stroke-width="0.9"/>
<circle cx="806.5" cy="1014.4" r="6.6" fill="#aee58c" stroke="#1a1a1a" stroke-width="0.9"/>
<circle cx="807.3" cy="1024.6" r="6.6" fill="#aee58c" stroke="#1a1a1a" stroke-width="0.9"/>
<circle cx="643.2" cy="1014.4" r="6.6" fill="#dd2c25" stroke="#1a1a1a" stroke-width="0.9"/>
<circle cx="634.1" cy="1025.3" r="6.6" fill="#dd2c25" stroke="#1a1a1a" stroke-width="0.9"/>
<circle cx="628" cy="1030.9" r="6.6" fill="#dd2c25" stroke="#1a1a1a" stroke-width="0.9"/>
<text x="720.8" y="869.8" font-size="23" font-weight="bold" text-anchor="middle" stroke="#000" stroke-width="0.30" textLength="111.9" lengthAdjust="spacingAndGlyphs">H3K27me3</text>
<text x="736" y="1070.2" font-size="18.5" text-anchor="middle" stroke="#000" stroke-width="0.42" textLength="105.5" lengthAdjust="spacingAndGlyphs">PC1 (59.1%)</text>
<text x="597.4" y="929.1" font-size="18.5" text-anchor="middle" stroke="#000" stroke-width="0.42" textLength="108.5" lengthAdjust="spacingAndGlyphs" transform="rotate(-90 597.4 929.1)">PC2 (11.6%)</text>
<rect x="54.5" y="1086.6" width="224.4" height="204.6" fill="none" stroke="#111" stroke-width="1.7"/>
<circle cx="77.1" cy="1114.1" r="6.6" fill="#956cc7" stroke="#1a1a1a" stroke-width="0.9"/>
<circle cx="92.5" cy="1114.9" r="6.6" fill="#956cc7" stroke="#1a1a1a" stroke-width="0.9"/>
<circle cx="97.3" cy="1107" r="6.6" fill="#956cc7" stroke="#1a1a1a" stroke-width="0.9"/>
<circle cx="220" cy="1180.2" r="6.6" fill="#aee58c" stroke="#1a1a1a" stroke-width="0.9"/>
<circle cx="245.1" cy="1175.9" r="6.6" fill="#aee58c" stroke="#1a1a1a" stroke-width="0.9"/>
<circle cx="256.5" cy="1139.2" r="6.6" fill="#0380c1" stroke="#1a1a1a" stroke-width="0.9"/>
<circle cx="249.7" cy="1157.3" r="6.6" fill="#0380c1" stroke="#1a1a1a" stroke-width="0.9"/>
<circle cx="225.1" cy="1159.5" r="6.6" fill="#0380c1" stroke="#1a1a1a" stroke-width="0.9"/>
<circle cx="242" cy="1165.8" r="6.6" fill="#0380c1" stroke="#1a1a1a" stroke-width="0.9"/>
<circle cx="205.1" cy="1173.1" r="6.6" fill="#0380c1" stroke="#1a1a1a" stroke-width="0.9"/>
<circle cx="221.4" cy="1176.4" r="6.6" fill="#0380c1" stroke="#1a1a1a" stroke-width="0.9"/>
<circle cx="230.5" cy="1181" r="6.6" fill="#aee58c" stroke="#1a1a1a" stroke-width="0.9"/>
<circle cx="129.8" cy="1254.8" r="6.6" fill="#dd2c25" stroke="#1a1a1a" stroke-width="0.9"/>
<circle cx="130.5" cy="1270.9" r="6.6" fill="#dd2c25" stroke="#1a1a1a" stroke-width="0.9"/>
<circle cx="136.1" cy="1261.9" r="6.6" fill="#dd2c25" stroke="#1a1a1a" stroke-width="0.9"/>
<text x="174.9" y="1111" font-size="23" font-weight="bold" text-anchor="middle" stroke="#000" stroke-width="0.30" textLength="93.6" lengthAdjust="spacingAndGlyphs">ATAC-seq</text>
<text x="174.4" y="1310.4" font-size="18.5" text-anchor="middle" stroke="#000" stroke-width="0.42" textLength="105.4" lengthAdjust="spacingAndGlyphs">PC1 (44.4%)</text>
<text x="43.6" y="1175.6" font-size="18.5" text-anchor="middle" stroke="#000" stroke-width="0.42" textLength="109.3" lengthAdjust="spacingAndGlyphs" transform="rotate(-90 43.6 1175.6)">PC2 (17.1%)</text>
<rect x="332.7" y="1086.3" width="225.4" height="204.9" fill="none" stroke="#111" stroke-width="1.7"/>
<circle cx="520.9" cy="1106.4" r="6.6" fill="#dd2c25" stroke="#1a1a1a" stroke-width="0.9"/>
<circle cx="522" cy="1111.5" r="6.6" fill="#dd2c25" stroke="#1a1a1a" stroke-width="0.9"/>
<circle cx="523.4" cy="1117" r="6.6" fill="#dd2c25" stroke="#1a1a1a" stroke-width="0.9"/>
<circle cx="364.4" cy="1185.3" r="6.6" fill="#aee58c" stroke="#1a1a1a" stroke-width="0.9"/>
<circle cx="363.6" cy="1189.5" r="6.6" fill="#aee58c" stroke="#1a1a1a" stroke-width="0.9"/>
<circle cx="355.6" cy="1190" r="6.6" fill="#aee58c" stroke="#1a1a1a" stroke-width="0.9"/>
<circle cx="362.9" cy="1198.8" r="6.6" fill="#0380c1" stroke="#1a1a1a" stroke-width="0.9"/>
<circle cx="384.4" cy="1208.1" r="6.6" fill="#0380c1" stroke="#1a1a1a" stroke-width="0.9"/>
<circle cx="393.7" cy="1211.5" r="6.6" fill="#0380c1" stroke="#1a1a1a" stroke-width="0.9"/>
<circle cx="533.9" cy="1264.9" r="6.6" fill="#956cc7" stroke="#1a1a1a" stroke-width="0.9"/>
<circle cx="534.8" cy="1268.3" r="6.6" fill="#956cc7" stroke="#1a1a1a" stroke-width="0.9"/>
<circle cx="534.8" cy="1270" r="6.6" fill="#956cc7" stroke="#1a1a1a" stroke-width="0.9"/>
<text x="453.2" y="1108.1" font-size="23" font-weight="bold" text-anchor="middle" stroke="#000" stroke-width="0.30" textLength="92.9" lengthAdjust="spacingAndGlyphs">RNA–seq</text>
<text x="463.6" y="1310.7" font-size="18.5" text-anchor="middle" stroke="#000" stroke-width="0.42" textLength="105.1" lengthAdjust="spacingAndGlyphs">PC1 (48.8%)</text>
<text x="322.8" y="1173.4" font-size="18.5" text-anchor="middle" stroke="#000" stroke-width="0.42" textLength="108.4" lengthAdjust="spacingAndGlyphs" transform="rotate(-90 322.8 1173.4)">PC2 (18.9%)</text>
<rect x="604.8" y="1086.4" width="224.2" height="203.8" fill="none" stroke="#111" stroke-width="1.7"/>
<circle cx="743.7" cy="1108.6" r="6.6" fill="#956cc7" stroke="#1a1a1a" stroke-width="0.9"/>
<circle cx="719.7" cy="1133.7" r="6.6" fill="#956cc7" stroke="#1a1a1a" stroke-width="0.9"/>
<circle cx="737.8" cy="1142.5" r="6.6" fill="#956cc7" stroke="#1a1a1a" stroke-width="0.9"/>
<circle cx="708.1" cy="1149.2" r="6.6" fill="#dd2c25" stroke="#1a1a1a" stroke-width="0.9"/>
<circle cx="720" cy="1155.6" r="6.6" fill="#dd2c25" stroke="#1a1a1a" stroke-width="0.9"/>
<circle cx="728" cy="1162.4" r="6.6" fill="#dd2c25" stroke="#1a1a1a" stroke-width="0.9"/>
<circle cx="631" cy="1165.3" r="6.6" fill="#aee58c" stroke="#1a1a1a" stroke-width="0.9"/>
<circle cx="633.6" cy="1165.3" r="6.6" fill="#aee58c" stroke="#1a1a1a" stroke-width="0.9"/>
<circle cx="628.8" cy="1203" r="6.6" fill="#aee58c" stroke="#1a1a1a" stroke-width="0.9"/>
<circle cx="807.8" cy="1196.8" r="6.6" fill="#0380c1" stroke="#1a1a1a" stroke-width="0.9"/>
<circle cx="725.3" cy="1220.3" r="6.6" fill="#0380c1" stroke="#1a1a1a" stroke-width="0.9"/>
<circle cx="730.2" cy="1270.9" r="6.6" fill="#0380c1" stroke="#1a1a1a" stroke-width="0.9"/>
<text x="647.1" y="1109.8" font-size="23" font-weight="bold" text-anchor="middle" stroke="#000" stroke-width="0.30" textLength="62.7" lengthAdjust="spacingAndGlyphs">WGBS</text>
<text x="736.1" y="1309.3" font-size="18.5" text-anchor="middle" stroke="#000" stroke-width="0.42" textLength="105.1" lengthAdjust="spacingAndGlyphs">PC1 (55.9%)</text>
<text x="597.8" y="1170.4" font-size="18.5" text-anchor="middle" stroke="#000" stroke-width="0.42" textLength="90.8" lengthAdjust="spacingAndGlyphs" transform="rotate(-90 597.8 1170.4)">PC2 (14%)</text>
<circle cx="207.7" cy="1346.4" r="6.2" fill="#aee58c" stroke="#1a1a1a" stroke-width="0.9"/>
<text x="218.4" y="1351.9" font-size="17" stroke="#000" stroke-width="0.40" textLength="36.5" lengthAdjust="spacingAndGlyphs">NBC</text>
<circle cx="352.8" cy="1346.4" r="6.2" fill="#dd2c25" stroke="#1a1a1a" stroke-width="0.9"/>
<text x="363.5" y="1351.9" font-size="17" stroke="#000" stroke-width="0.40" textLength="48.1" lengthAdjust="spacingAndGlyphs">GCBC</text>
<circle cx="496" cy="1346.4" r="6.2" fill="#956cc7" stroke="#1a1a1a" stroke-width="0.9"/>
<text x="506.7" y="1351.9" font-size="17" stroke="#000" stroke-width="0.40" textLength="22" lengthAdjust="spacingAndGlyphs">PC</text>
<circle cx="610.6" cy="1346.4" r="6.2" fill="#0380c1" stroke="#1a1a1a" stroke-width="0.9"/>
<text x="621.3" y="1351.9" font-size="17" stroke="#000" stroke-width="0.40" textLength="41" lengthAdjust="spacingAndGlyphs">MBC</text>
<text x="872.4" y="569" font-size="43" font-weight="bold" stroke="#000" stroke-width="0.30" textLength="23" lengthAdjust="spacingAndGlyphs">e</text>
<text x="1009.8" y="602" font-size="16" font-weight="bold" stroke="#000" stroke-width="0.27" textLength="44" lengthAdjust="spacingAndGlyphs">chr12</text>
<text x="1393.3" y="598.7" font-size="22" font-weight="bold" text-anchor="middle" stroke="#000" stroke-width="0.30" textLength="169.7" lengthAdjust="spacingAndGlyphs">Compartment A</text>
<text x="1629.8" y="598.7" font-size="22" font-weight="bold" text-anchor="middle" stroke="#000" stroke-width="0.30" textLength="167.4" lengthAdjust="spacingAndGlyphs">Compartment B</text>
<line x1="1009.6" y1="642.2" x2="1757.8" y2="642.2" stroke="#4540a3" stroke-width="1.3"/>
<path d="M1048.5 642.2V645.1H1050V644.2H1051.5V644.5H1053V642.2ZM1088.9 642.2V644.9H1090.4V644.7H1091.9V645.2H1093.4V645.1H1094.9V642.2ZM1100.9 642.2V644H1102.4V644H1103.9V642.2ZM1108.4 642.2V652.8H1109.9V651.6H1111.4V650.6H1112.9V651.8H1114.3V642.2ZM1127.8 642.2V654H1129.3V653.8H1130.8V654H1132.3V654H1133.8V654H1135.3V653.8H1136.8V654H1138.3V652.3H1139.8V652.9H1141.3V652.9H1142.8V653.3H1144.3V652.2H1145.8V652.3H1147.3V652.8H1148.8V652.2H1150.3V653H1151.8V652H1153.3V653H1154.8V651.2H1156.2V652.4H1157.7V651.5H1159.2V652.6H1160.7V651.6H1162.2V653.1H1163.7V653.7H1165.2V653.5H1166.7V652.6H1168.2V653.2H1169.7V654H1171.2V654H1172.7V654H1174.2V654H1175.7V654H1177.2V654H1178.7V654H1180.2V654H1181.7V654H1183.2V654H1184.7V654H1186.2V654H1187.7V654H1189.2V654H1190.7V653.6H1192.2V654H1193.7V654H1195.2V642.2ZM1202.6 642.2V650H1204.1V651.4H1205.6V642.2ZM1210.1 642.2V648.8H1211.6V649H1213.1V649.6H1214.6V642.2ZM1217.6 642.2V650.1H1219.1V651.5H1220.6V650.9H1222.1V651.4H1223.6V650.9H1225.1V651.8H1226.6V652.1H1228.1V653.9H1229.6V652.8H1231.1V652.6H1232.6V652.2H1234.1V652.6H1235.6V653.4H1237.1V654H1238.5V653.7H1240V654H1241.5V642.2ZM1255 642.2V653.5H1256.5V653.5H1258V653.1H1259.5V653.7H1261V654H1262.5V654H1264V654H1265.5V654H1267V642.2ZM1287.9 642.2V654H1289.4V654H1290.9V654H1292.4V652.9H1293.9V652.9H1295.4V652.8H1296.9V654H1298.4V654H1299.9V653.2H1301.4V651.9H1302.9V650.4H1304.4V652.2H1305.9V650.8H1307.4V651.6H1308.9V642.2ZM1311.9 642.2V654H1313.4V653.3H1314.9V652.2H1316.4V652.7H1317.9V653.7H1319.4V652.4H1320.9V651.9H1322.3V651.4H1323.8V652H1325.3V642.2ZM1328.3 642.2V651.7H1329.8V651.3H1331.3V652.2H1332.8V652H1334.3V652.4H1335.8V642.2ZM1338.8 642.2V651.9H1340.3V650.4H1341.8V653.1H1343.3V651.8H1344.8V651.7H1346.3V653H1347.8V654H1349.3V642.2ZM1443.6 642.2V653.8H1445.1V652.3H1446.5V652.2H1448V653.5H1449.5V653.4H1451V654H1452.5V653.9H1454V653H1455.5V653.4H1457V654H1458.5V654H1460V654H1461.5V654H1463V654H1464.5V654H1466V652.7H1467.5V654H1469V653.4H1470.5V653H1472V652.7H1473.5V652.6H1475V652.7H1476.5V642.2ZM1479.5 642.2V651.9H1481V651.5H1482.5V650.6H1484V651.8H1485.5V652.5H1487V652.7H1488.4V654H1489.9V652.4H1491.4V642.2ZM1498.9 642.2V650.5H1500.4V650.1H1501.9V650.4H1503.4V642.2ZM1507.9 642.2V648.4H1509.4V648.9H1510.9V648.9H1512.4V642.2ZM1530.3 642.2V653.7H1531.8V654H1533.3V654H1534.8V654H1536.3V654H1537.8V653.8H1539.3V652.2H1540.8V653.5H1542.3V653.7H1543.8V642.2ZM1548.3 642.2V654H1549.8V654H1551.3V654H1552.8V654H1554.3V654H1555.8V653.2H1557.3V653.9H1558.8V654H1560.3V654H1561.8V654H1563.3V654H1564.8V654H1566.3V653.8H1567.8V653.8H1569.3V651.8H1570.8V651.3H1572.2V651.3H1573.7V642.2ZM1585.7 642.2V653.3H1587.2V654H1588.7V652.2H1590.2V654H1591.7V652.2H1593.2V652.8H1594.7V651.4H1596.2V653.1H1597.7V653.7H1599.2V652.8H1600.7V653.7H1602.2V652.4H1603.7V651.6H1605.2V652.2H1606.7V653.6H1608.2V654H1609.7V654H1611.2V654H1612.6V654H1614.1V654H1615.6V654H1617.1V654H1618.6V653.9H1620.1V654H1621.6V654H1623.1V654H1624.6V654H1626.1V652.6H1627.6V653.7H1629.1V652.5H1630.6V654H1632.1V654H1633.6V654H1635.1V652.5H1636.6V653.3H1638.1V652.6H1639.6V652H1641.1V652.8H1642.6V651.1H1644.1V652.4H1645.6V653.1H1647.1V653.9H1648.6V654H1650.1V654H1651.6V652.9H1653.1V653.3H1654.5V651.8H1656V653H1657.5V653.2H1659V651.4H1660.5V650.6H1662V651.5H1663.5V652.6H1665V653.9H1666.5V653.3H1668V652.8H1669.5V652H1671V651.8H1672.5V651.1H1674V651.7H1675.5V642.2ZM1684.5 642.2V649.9H1686V649.9H1687.5V650.3H1689V651.8H1690.5V652.5H1692V650.8H1693.5V652H1695V642.2ZM1732.4 642.2V654H1733.9V654H1735.4V654H1736.9V654H1738.3V654H1739.8V654H1741.3V654H1742.8V652.6H1744.3V642.2ZM1748.8 642.2V652.8H1750.3V651.7H1751.8V652.3H1753.3V652H1754.8V654H1756.3V653.5H1757.8V642.2Z" fill="#4540a3" stroke="#4540a3" stroke-width="3.4" stroke-linejoin="round"/>
<path d="M1009.6 642.2V633H1011.1V632.7H1012.6V632.3H1014.1V631.5H1015.6V631.2H1017.1V630.9H1018.6V631.6H1020.1V630.4H1021.6V630.5H1023.1V632.5H1024.6V633.1H1026.1V632.7H1027.6V631.9H1029.1V632.1H1030.5V631.5H1032V631.2H1033.5V632H1035V632.7H1036.5V632.2H1038V631.8H1039.5V630.5H1041V630.4H1042.5V630.4H1044V630.4H1045.5V630.5H1047V630.4H1048.5V642.2ZM1053 642.2V632.4H1054.5V631.2H1056V631.5H1057.5V632.1H1059V631.8H1060.5V632.9H1062V633.9H1063.5V634.5H1065V634.2H1066.5V633.9H1068V634.8H1069.5V636.6H1071V636H1072.4V634.8H1073.9V635.9H1075.4V635.4H1076.9V636.5H1078.4V636.4H1079.9V635.8H1081.4V636.5H1082.9V635.3H1084.4V636.9H1085.9V635.5H1087.4V636.6H1088.9V642.2ZM1094.9 642.2V636.5H1096.4V636.3H1097.9V636.9H1099.4V636.9H1100.9V642.2ZM1103.9 642.2V637.5H1105.4V636.4H1106.9V636.1H1108.4V642.2ZM1114.3 642.2V636.4H1115.8V636.7H1117.3V637.8H1118.8V637.4H1120.3V637.2H1121.8V637.2H1123.3V638.8H1124.8V639.7H1126.3V639.2H1127.8V642.2ZM1195.2 642.2V635.1H1196.7V635.6H1198.1V635.9H1199.6V636.1H1201.1V636.7H1202.6V642.2ZM1205.6 642.2V637.9H1207.1V638.1H1208.6V638.4H1210.1V642.2ZM1214.6 642.2V639.3H1216.1V639.4H1217.6V642.2ZM1241.5 642.2V633.9H1243V634.4H1244.5V635.7H1246V635.8H1247.5V636H1249V636.9H1250.5V636.3H1252V634.5H1253.5V635.3H1255V642.2ZM1308.9 642.2V639.1H1310.4V639.5H1311.9V642.2ZM1325.3 642.2V638.8H1326.8V638.7H1328.3V642.2ZM1335.8 642.2V640.1H1337.3V639.7H1338.8V642.2ZM1349.3 642.2V631.1H1350.8V630.4H1352.3V630.5H1353.8V631.6H1355.3V632.2H1356.8V633.1H1358.3V632.3H1359.8V631.3H1361.3V631H1362.8V632.1H1364.2V632H1365.7V632.2H1367.2V633.5H1368.7V634.1H1370.2V634H1371.7V633.3H1373.2V633.8H1374.7V633.5H1376.2V635.1H1377.7V635.4H1379.2V633.2H1380.7V632.7H1382.2V634.1H1383.7V633.5H1385.2V634.6H1386.7V634.5H1388.2V634.7H1389.7V633.2H1391.2V633.4H1392.7V633.7H1394.2V633.9H1395.7V632.8H1397.2V633.6H1398.7V633.6H1400.2V632.6H1401.7V632.5H1403.2V632.2H1404.6V631.8H1406.1V631.8H1407.6V633.3H1409.1V633.7H1410.6V632.6H1412.1V633.8H1413.6V633.8H1415.1V634.9H1416.6V632.7H1418.1V633.7H1419.6V632.9H1421.1V633.6H1422.6V633.6H1424.1V633.8H1425.6V633.8H1427.1V633.7H1428.6V633.3H1430.1V634.1H1431.6V633.4H1433.1V632.5H1434.6V633.5H1436.1V632.9H1437.6V632H1439.1V630.9H1440.6V631.5H1442.1V631.4H1443.6V642.2ZM1476.5 642.2V638H1478V637.6H1479.5V642.2ZM1491.4 642.2V635.3H1492.9V635.3H1494.4V636.1H1495.9V636.4H1497.4V636.9H1498.9V642.2ZM1503.4 642.2V637.3H1504.9V637.1H1506.4V636.9H1507.9V642.2ZM1512.4 642.2V637H1513.9V637.9H1515.4V636.7H1516.9V637H1518.4V635.9H1519.9V636.2H1521.4V635.7H1522.9V636.8H1524.4V636.4H1525.9V636H1527.4V636.1H1528.9V635.9H1530.3V642.2ZM1543.8 642.2V636H1545.3V636.5H1546.8V636.6H1548.3V642.2ZM1573.7 642.2V639.1H1575.2V637.7H1576.7V638.2H1578.2V638.1H1579.7V637.7H1581.2V637.5H1582.7V638.6H1584.2V638H1585.7V642.2ZM1675.5 642.2V637.9H1677V637.1H1678.5V637.3H1680V637.4H1681.5V637H1683V637.9H1684.5V642.2ZM1695 642.2V635.7H1696.4V636.4H1697.9V635.8H1699.4V637H1700.9V637.7H1702.4V636.1H1703.9V635.8H1705.4V636.7H1706.9V637.3H1708.4V636.9H1709.9V637.9H1711.4V637.3H1712.9V636.9H1714.4V637.6H1715.9V637.3H1717.4V638.4H1718.9V638.3H1720.4V638.3H1721.9V637.3H1723.4V638.4H1724.9V637.1H1726.4V637.2H1727.9V636.3H1729.4V636H1730.9V636H1732.4V642.2ZM1744.3 642.2V637.8H1745.8V637.6H1747.3V637.8H1748.8V642.2Z" fill="#df2d26" stroke="#df2d26" stroke-width="3.4" stroke-linejoin="round"/>
<line x1="1004.6" y1="626.2" x2="1004.6" y2="656.6" stroke="#000" stroke-width="1.2"/>
<line x1="1003" y1="626.2" x2="1004.6" y2="626.2" stroke="#000" stroke-width="1.2"/>
<line x1="1003" y1="656.6" x2="1004.6" y2="656.6" stroke="#000" stroke-width="1.2"/>
<text x="1001.2" y="632.4" font-size="8.8" text-anchor="end" stroke="#000" stroke-width="0.21" textLength="3.8" lengthAdjust="spacingAndGlyphs">1</text>
<text x="1001.2" y="658.4" font-size="8.8" text-anchor="end" stroke="#000" stroke-width="0.21" textLength="8" lengthAdjust="spacingAndGlyphs">-1</text>
<text x="1001.2" y="645.4" font-size="8.8" text-anchor="end" stroke="#000" stroke-width="0.21" textLength="5" lengthAdjust="spacingAndGlyphs">0</text>
<text x="984.5" y="647.6" font-size="17.5" text-anchor="end" stroke="#000" stroke-width="0.41" textLength="117.4" lengthAdjust="spacingAndGlyphs">Compartments</text>
<rect x="1008" y="659.4" width="3.2" height="2.8" fill="#000"/>
<text x="1009.6" y="671.4" font-size="9.2" text-anchor="middle" stroke="#000" stroke-width="0.21" textLength="5.3" lengthAdjust="spacingAndGlyphs">0</text>
<rect x="1195.1" y="659.4" width="3.2" height="2.8" fill="#000"/>
<text x="1196.7" y="671.4" font-size="9.2" text-anchor="middle" stroke="#000" stroke-width="0.21" textLength="16" lengthAdjust="spacingAndGlyphs">250</text>
<rect x="1382.1" y="659.4" width="3.2" height="2.8" fill="#000"/>
<text x="1383.7" y="671.4" font-size="9.2" text-anchor="middle" stroke="#000" stroke-width="0.21" textLength="16" lengthAdjust="spacingAndGlyphs">500</text>
<rect x="1569.2" y="659.4" width="3.2" height="2.8" fill="#000"/>
<text x="1570.8" y="671.4" font-size="9.2" text-anchor="middle" stroke="#000" stroke-width="0.21" textLength="16" lengthAdjust="spacingAndGlyphs">750</text>
<rect x="1756.2" y="659.4" width="3.2" height="2.8" fill="#000"/>
<text x="1757.8" y="671.4" font-size="9.2" text-anchor="middle" stroke="#000" stroke-width="0.21" textLength="21.4" lengthAdjust="spacingAndGlyphs">1000</text>
<path d="M1010.5 714.2v-12.8M1011.5 714.2v-7.9M1012.5 714.2v-5.1M1013.5 714.2v-4.4M1014.5 714.2v-8.2M1015.5 714.2v-28.1M1017.5 714.2v-5.4M1018.5 714.2v-14.3M1019.5 714.2v-6.3M1020.5 714.2v-19.4M1021.5 714.2v-28.1M1022.5 714.2v-16.7M1023.5 714.2v-13.7M1024.5 714.2v-11.2M1025.5 714.2v-7.7M1026.5 714.2v-5.7M1027.5 714.2v-5.7M1028.5 714.2v-22.9M1029.5 714.2v-15M1030.5 714.2v-28.1M1032.5 714.2v-7.4M1033.5 714.2v-27.1M1034.5 714.2v-28.1M1035.5 714.2v-8.6M1036.5 714.2v-28.1M1037.5 714.2v-9.3M1038.5 714.2v-28.1M1039.5 714.2v-19.5M1040.5 714.2v-8.9M1041.5 714.2v-11.8M1042.5 714.2v-2.2M1043.5 714.2v-7.8M1044.5 714.2v-2.6M1045.5 714.2v-17M1046.5 714.2v-4.2M1048.5 714.2v-3.7M1049.5 714.2v-3.8M1050.5 714.2v-2.3M1051.5 714.2v-1.6M1052.5 714.2v-2.8M1053.5 714.2v-2.2M1054.5 714.2v-2.9M1055.5 714.2v-2.9M1056.5 714.2v-2.7M1057.5 714.2v-10.3M1058.5 714.2v-6.3M1059.5 714.2v-2.7M1060.5 714.2v-1.5M1061.5 714.2v-21.9M1063.5 714.2v-16.2M1064.5 714.2v-8.8M1065.5 714.2v-4.9M1066.5 714.2v-11.6M1067.5 714.2v-2.9M1068.5 714.2v-7.7M1069.5 714.2v-9.1M1070.5 714.2v-15.8M1071.5 714.2v-14.5M1072.5 714.2v-8.6M1073.5 714.2v-6.5M1074.5 714.2v-4M1075.5 714.2v-5.4M1076.5 714.2v-9.7M1077.5 714.2v-3.5M1079.5 714.2v-4.8M1080.5 714.2v-3.6M1081.5 714.2v-4.3M1082.5 714.2v-6M1083.5 714.2v-5.3M1084.5 714.2v-8.6M1085.5 714.2v-4.5M1086.5 714.2v-3.5M1087.5 714.2v-7M1088.5 714.2v-4.8M1089.5 714.2v-7M1090.5 714.2v-4M1091.5 714.2v-1.2M1092.5 714.2v-3.6M1094.5 714.2v-1M1095.5 714.2v-1M1096.5 714.2v-3.4M1097.5 714.2v-11.1M1098.5 714.2v-12.9M1099.5 714.2v-8.2M1100.5 714.2v-2.6M1101.5 714.2v-9.6M1102.5 714.2v-2.3M1103.5 714.2v-10.8M1104.5 714.2v-16.8M1105.5 714.2v-12.7M1106.5 714.2v-15.4M1107.5 714.2v-12.6M1108.5 714.2v-10.3M1110.5 714.2v-13.9M1111.5 714.2v-5.8M1112.5 714.2v-27.8M1113.5 714.2v-7M1114.5 714.2v-2.7M1115.5 714.2v-7M1116.5 714.2v-17.5M1117.5 714.2v-28.1M1118.5 714.2v-21.3M1119.5 714.2v-6.4M1120.5 714.2v-9.7M1121.5 714.2v-11.6M1122.5 714.2v-9.5M1123.5 714.2v-23.8M1125.5 714.2v-7M1126.5 714.2v-13.2M1127.5 714.2v-28.1M1128.5 714.2v-2.3M1129.5 714.2v-6.9M1130.5 714.2v-3M1131.5 714.2v-4.9M1132.5 714.2v-2.8M1133.5 714.2v-1.1M1134.5 714.2v-11.7M1135.5 714.2v-1.8M1136.5 714.2v-1M1137.5 714.2v-0.8M1138.5 714.2v-1.5M1139.5 714.2v-2M1141.5 714.2v-0.9M1142.5 714.2v-0.8M1143.5 714.2v-1.4M1144.5 714.2v-0.4M1145.5 714.2v-0.8M1146.5 714.2v-0.7M1147.5 714.2v-1.9M1148.5 714.2v-26.1M1150.5 714.2v-0.7M1151.5 714.2v-1.3M1152.5 714.2v-0.6M1153.5 714.2v-1.6M1154.5 714.2v-1.7M1155.5 714.2v-0.9M1157.5 714.2v-1.2M1158.5 714.2v-0.4M1159.5 714.2v-1.5M1160.5 714.2v-1.9M1161.5 714.2v-0.3M1162.5 714.2v-0.8M1163.5 714.2v-0.5M1165.5 714.2v-0.7M1166.5 714.2v-0.5M1167.5 714.2v-0.3M1168.5 714.2v-1.5M1169.5 714.2v-0.5M1172.5 714.2v-0.3M1173.5 714.2v-0.4M1174.5 714.2v-0.5M1175.5 714.2v-0.5M1176.5 714.2v-17.9M1177.5 714.2v-0.7M1178.5 714.2v-2M1181.5 714.2v-0.3M1182.5 714.2v-1M1183.5 714.2v-0.6M1185.5 714.2v-0.4M1188.5 714.2v-1.5M1189.5 714.2v-1M1190.5 714.2v-0.8M1191.5 714.2v-1.7M1192.5 714.2v-0.9M1193.5 714.2v-1.1M1194.5 714.2v-2.4M1195.5 714.2v-0.7M1196.5 714.2v-4.8M1197.5 714.2v-0.8M1198.5 714.2v-1.5M1199.5 714.2v-24.5M1200.5 714.2v-4.4M1201.5 714.2v-2.1M1203.5 714.2v-2.4M1204.5 714.2v-6M1205.5 714.2v-18.7M1206.5 714.2v-5.9M1207.5 714.2v-9.3M1208.5 714.2v-1.5M1209.5 714.2v-5.4M1210.5 714.2v-2.1M1211.5 714.2v-1.6M1212.5 714.2v-0.9M1213.5 714.2v-2.7M1214.5 714.2v-0.6M1215.5 714.2v-7.7M1216.5 714.2v-1.4M1217.5 714.2v-3.1M1219.5 714.2v-0.8M1220.5 714.2v-0.8M1221.5 714.2v-1.8M1222.5 714.2v-0.9M1223.5 714.2v-2.9M1224.5 714.2v-0.3M1225.5 714.2v-0.7M1226.5 714.2v-1.3M1227.5 714.2v-0.6M1228.5 714.2v-1.2M1229.5 714.2v-0.8M1231.5 714.2v-0.8M1232.5 714.2v-1.5M1234.5 714.2v-0.6M1235.5 714.2v-0.7M1236.5 714.2v-0.5M1237.5 714.2v-1.1M1238.5 714.2v-3.7M1239.5 714.2v-1.3M1240.5 714.2v-0.7M1241.5 714.2v-4.6M1242.5 714.2v-2M1243.5 714.2v-1.7M1244.5 714.2v-1.5M1245.5 714.2v-15.2M1246.5 714.2v-12.7M1247.5 714.2v-2.3M1248.5 714.2v-2.4M1250.5 714.2v-2.4M1251.5 714.2v-1.2M1252.5 714.2v-2.5M1253.5 714.2v-4M1254.5 714.2v-7.7M1255.5 714.2v-5.7M1256.5 714.2v-0.7M1257.5 714.2v-13.7M1258.5 714.2v-0.7M1259.5 714.2v-1.4M1260.5 714.2v-0.4M1261.5 714.2v-1.1M1262.5 714.2v-0.7M1263.5 714.2v-1.1M1265.5 714.2v-2.6M1266.5 714.2v-0.7M1267.5 714.2v-0.5M1289.5 714.2v-0.5M1290.5 714.2v-1.8M1292.5 714.2v-1.3M1293.5 714.2v-0.3M1294.5 714.2v-0.7M1296.5 714.2v-0.3M1297.5 714.2v-0.5M1298.5 714.2v-1.1M1299.5 714.2v-18.2M1300.5 714.2v-0.5M1301.5 714.2v-0.5M1302.5 714.2v-0.8M1303.5 714.2v-0.9M1304.5 714.2v-2M1305.5 714.2v-1.5M1306.5 714.2v-2.2M1307.5 714.2v-1.2M1308.5 714.2v-2M1309.5 714.2v-6.1M1310.5 714.2v-7.6M1312.5 714.2v-2M1313.5 714.2v-2.3M1314.5 714.2v-2.9M1315.5 714.2v-1.6M1316.5 714.2v-1M1317.5 714.2v-2.7M1318.5 714.2v-0.7M1319.5 714.2v-1.2M1320.5 714.2v-2.7M1321.5 714.2v-0.4M1322.5 714.2v-1.1M1323.5 714.2v-0.3M1324.5 714.2v-0.6M1325.5 714.2v-2M1327.5 714.2v-10.4M1328.5 714.2v-1.9M1329.5 714.2v-1.5M1330.5 714.2v-1M1331.5 714.2v-3M1332.5 714.2v-1.5M1333.5 714.2v-4.5M1334.5 714.2v-2.3M1335.5 714.2v-1.4M1336.5 714.2v-4.9M1337.5 714.2v-1.4M1338.5 714.2v-7M1339.5 714.2v-1.5M1340.5 714.2v-2.5M1341.5 714.2v-2.7M1343.5 714.2v-1.9M1344.5 714.2v-3.6M1345.5 714.2v-1.1M1346.5 714.2v-3.9M1347.5 714.2v-1.8M1348.5 714.2v-4.5M1349.5 714.2v-2.1M1350.5 714.2v-15.6M1351.5 714.2v-5.4M1352.5 714.2v-9.1M1353.5 714.2v-2.4M1354.5 714.2v-10M1355.5 714.2v-10.9M1356.5 714.2v-18.4M1358.5 714.2v-12.5M1359.5 714.2v-6.2M1360.5 714.2v-9M1361.5 714.2v-20.2M1362.5 714.2v-3.3M1363.5 714.2v-16.7M1364.5 714.2v-3.6M1365.5 714.2v-3.9M1366.5 714.2v-3.3M1367.5 714.2v-9.9M1368.5 714.2v-6.4M1369.5 714.2v-8.2M1370.5 714.2v-3.2M1371.5 714.2v-7.3M1372.5 714.2v-5.8M1374.5 714.2v-2M1375.5 714.2v-14.5M1376.5 714.2v-4.9M1377.5 714.2v-2M1378.5 714.2v-4.6M1379.5 714.2v-8.2M1380.5 714.2v-3.2M1381.5 714.2v-8.3M1382.5 714.2v-6.3M1383.5 714.2v-9.6M1384.5 714.2v-7M1385.5 714.2v-9.2M1386.5 714.2v-12.5M1387.5 714.2v-12.9M1389.5 714.2v-28.1M1390.5 714.2v-12.5M1391.5 714.2v-5.9M1392.5 714.2v-7.2M1393.5 714.2v-28.1M1394.5 714.2v-4.5M1395.5 714.2v-7.1M1396.5 714.2v-3.6M1397.5 714.2v-18.8M1398.5 714.2v-7.5M1399.5 714.2v-18.3M1400.5 714.2v-9.6M1401.5 714.2v-21M1402.5 714.2v-17.3M1403.5 714.2v-8.8M1405.5 714.2v-22M1406.5 714.2v-5.2M1407.5 714.2v-5.9M1408.5 714.2v-8M1409.5 714.2v-7.3M1410.5 714.2v-8.8M1411.5 714.2v-5.3M1412.5 714.2v-3.7M1413.5 714.2v-17.3M1414.5 714.2v-5.9M1415.5 714.2v-2M1416.5 714.2v-7.4M1417.5 714.2v-1.3M1418.5 714.2v-2.6M1420.5 714.2v-1.2M1421.5 714.2v-8.8M1422.5 714.2v-2.5M1423.5 714.2v-10M1424.5 714.2v-3.9M1425.5 714.2v-10M1426.5 714.2v-3.4M1427.5 714.2v-1.5M1428.5 714.2v-0.9M1429.5 714.2v-13.9M1430.5 714.2v-1.2M1431.5 714.2v-1M1432.5 714.2v-3.5M1433.5 714.2v-3.1M1434.5 714.2v-2M1436.5 714.2v-26M1437.5 714.2v-5.7M1438.5 714.2v-1.4M1439.5 714.2v-2M1440.5 714.2v-6.4M1441.5 714.2v-6.5M1442.5 714.2v-15.1M1443.5 714.2v-7.5M1444.5 714.2v-1.4M1445.5 714.2v-0.9M1446.5 714.2v-0.7M1448.5 714.2v-1.3M1449.5 714.2v-0.7M1451.5 714.2v-0.5M1452.5 714.2v-0.4M1453.5 714.2v-0.3M1454.5 714.2v-1.3M1455.5 714.2v-0.5M1457.5 714.2v-0.4M1458.5 714.2v-2.9M1459.5 714.2v-2.7M1460.5 714.2v-7.5M1461.5 714.2v-3.3M1462.5 714.2v-4.2M1463.5 714.2v-2.9M1464.5 714.2v-0.4M1465.5 714.2v-0.5M1467.5 714.2v-0.4M1469.5 714.2v-27.5M1470.5 714.2v-1.7M1471.5 714.2v-1M1472.5 714.2v-0.9M1473.5 714.2v-1.8M1474.5 714.2v-9.3M1475.5 714.2v-4.5M1476.5 714.2v-1.7M1477.5 714.2v-3.2M1478.5 714.2v-8.9M1479.5 714.2v-3.9M1480.5 714.2v-5M1482.5 714.2v-3.1M1483.5 714.2v-0.8M1484.5 714.2v-0.9M1485.5 714.2v-1.3M1486.5 714.2v-3.7M1487.5 714.2v-3.8M1488.5 714.2v-0.8M1489.5 714.2v-1.5M1490.5 714.2v-3.9M1491.5 714.2v-1M1492.5 714.2v-5M1493.5 714.2v-6.5M1494.5 714.2v-11.3M1495.5 714.2v-4.4M1496.5 714.2v-10.1M1498.5 714.2v-11.4M1499.5 714.2v-7.1M1500.5 714.2v-2.2M1501.5 714.2v-1.1M1502.5 714.2v-4.3M1503.5 714.2v-1.8M1504.5 714.2v-7.3M1505.5 714.2v-8.6M1506.5 714.2v-1.7M1507.5 714.2v-17.6M1508.5 714.2v-20.7M1509.5 714.2v-9.8M1510.5 714.2v-5M1511.5 714.2v-2.7M1512.5 714.2v-4.3M1514.5 714.2v-5.4M1515.5 714.2v-6.1M1516.5 714.2v-10.8M1517.5 714.2v-14.2M1518.5 714.2v-3.4M1519.5 714.2v-16.8M1520.5 714.2v-13M1521.5 714.2v-7.9M1522.5 714.2v-14.5M1523.5 714.2v-8.1M1524.5 714.2v-12.1M1525.5 714.2v-12.4M1526.5 714.2v-14M1527.5 714.2v-5.6M1529.5 714.2v-3.7M1530.5 714.2v-28.1M1531.5 714.2v-18.9M1532.5 714.2v-12.3M1533.5 714.2v-2.5M1534.5 714.2v-1.6M1535.5 714.2v-3.9M1536.5 714.2v-5.5M1537.5 714.2v-1.7M1538.5 714.2v-8.9M1539.5 714.2v-2.7M1540.5 714.2v-1.7M1541.5 714.2v-0.5M1542.5 714.2v-2.8M1543.5 714.2v-1M1545.5 714.2v-13.1M1546.5 714.2v-2M1547.5 714.2v-8.1M1548.5 714.2v-4.3M1549.5 714.2v-3.1M1550.5 714.2v-1.8M1551.5 714.2v-2.9M1552.5 714.2v-0.4M1553.5 714.2v-2.2M1556.5 714.2v-0.6M1557.5 714.2v-1M1558.5 714.2v-0.4M1560.5 714.2v-0.7M1561.5 714.2v-2M1562.5 714.2v-18.4M1563.5 714.2v-0.5M1564.5 714.2v-0.7M1565.5 714.2v-1.4M1566.5 714.2v-1.3M1567.5 714.2v-0.7M1568.5 714.2v-0.8M1569.5 714.2v-0.7M1570.5 714.2v-3.5M1571.5 714.2v-2.2M1572.5 714.2v-1.7M1573.5 714.2v-3.4M1574.5 714.2v-6.6M1576.5 714.2v-4.1M1577.5 714.2v-5.5M1578.5 714.2v-2.1M1579.5 714.2v-2.7M1580.5 714.2v-9.8M1581.5 714.2v-10.6M1582.5 714.2v-2.7M1583.5 714.2v-8.1M1584.5 714.2v-28.1M1585.5 714.2v-2M1586.5 714.2v-9.5M1587.5 714.2v-1.6M1588.5 714.2v-2.2M1589.5 714.2v-3.2M1591.5 714.2v-3.3M1592.5 714.2v-0.9M1593.5 714.2v-5.6M1594.5 714.2v-1.9M1595.5 714.2v-2.5M1596.5 714.2v-1.9M1597.5 714.2v-6.9M1598.5 714.2v-1.8M1599.5 714.2v-2.4M1600.5 714.2v-6.2M1601.5 714.2v-1.2M1602.5 714.2v-1.5M1603.5 714.2v-1.4M1604.5 714.2v-0.7M1605.5 714.2v-1.3M1607.5 714.2v-1M1608.5 714.2v-1.6M1609.5 714.2v-1.8M1610.5 714.2v-0.6M1611.5 714.2v-5M1612.5 714.2v-0.4M1613.5 714.2v-0.5M1614.5 714.2v-0.6M1615.5 714.2v-0.7M1616.5 714.2v-0.4M1617.5 714.2v-0.3M1618.5 714.2v-0.3M1619.5 714.2v-1.4M1620.5 714.2v-0.5M1622.5 714.2v-0.3M1624.5 714.2v-0.3M1626.5 714.2v-2.3M1627.5 714.2v-0.7M1628.5 714.2v-0.6M1629.5 714.2v-0.5M1630.5 714.2v-0.3M1631.5 714.2v-0.9M1632.5 714.2v-0.5M1634.5 714.2v-0.9M1635.5 714.2v-0.4M1636.5 714.2v-0.7M1638.5 714.2v-1.5M1639.5 714.2v-2M1640.5 714.2v-1.9M1641.5 714.2v-2.7M1642.5 714.2v-1.1M1643.5 714.2v-0.6M1644.5 714.2v-1.1M1645.5 714.2v-0.9M1646.5 714.2v-0.5M1647.5 714.2v-1.7M1648.5 714.2v-1.4M1649.5 714.2v-0.6M1650.5 714.2v-1.2M1651.5 714.2v-0.9M1653.5 714.2v-1.3M1654.5 714.2v-0.6M1655.5 714.2v-0.7M1656.5 714.2v-0.6M1657.5 714.2v-0.6M1658.5 714.2v-2.8M1659.5 714.2v-2.1M1660.5 714.2v-2M1661.5 714.2v-1.1M1662.5 714.2v-3.9M1663.5 714.2v-1.2M1664.5 714.2v-3.9M1665.5 714.2v-2.2M1666.5 714.2v-1.5M1667.5 714.2v-2.7M1669.5 714.2v-1.8M1670.5 714.2v-1.6M1671.5 714.2v-1.8M1672.5 714.2v-5.6M1673.5 714.2v-2M1674.5 714.2v-0.7M1675.5 714.2v-0.7M1676.5 714.2v-2M1677.5 714.2v-3.3M1678.5 714.2v-3.1M1679.5 714.2v-1.3M1680.5 714.2v-4.7M1681.5 714.2v-1.6M1682.5 714.2v-5.2M1684.5 714.2v-8.6M1685.5 714.2v-1.7M1686.5 714.2v-1.5M1687.5 714.2v-3.4M1688.5 714.2v-4M1689.5 714.2v-1.3M1690.5 714.2v-4.8M1691.5 714.2v-1.1M1692.5 714.2v-4.1M1693.5 714.2v-0.9M1694.5 714.2v-0.9M1695.5 714.2v-22.2M1696.5 714.2v-1.4M1697.5 714.2v-3.3M1698.5 714.2v-2.1M1700.5 714.2v-1.7M1701.5 714.2v-2.3M1702.5 714.2v-1.9M1703.5 714.2v-6.1M1704.5 714.2v-1.8M1705.5 714.2v-1.7M1706.5 714.2v-2.9M1707.5 714.2v-4.1M1708.5 714.2v-6M1709.5 714.2v-3.2M1710.5 714.2v-3.3M1711.5 714.2v-3.8M1712.5 714.2v-3.3M1713.5 714.2v-4.3M1715.5 714.2v-5.6M1716.5 714.2v-26.1M1717.5 714.2v-8M1718.5 714.2v-14.8M1719.5 714.2v-9.2M1720.5 714.2v-17.5M1721.5 714.2v-7.4M1722.5 714.2v-21.3M1723.5 714.2v-5M1724.5 714.2v-7.4M1725.5 714.2v-7.5M1726.5 714.2v-2.6M1727.5 714.2v-5.6M1728.5 714.2v-3.6M1729.5 714.2v-10.1M1731.5 714.2v-1.8M1732.5 714.2v-20.1M1733.5 714.2v-9.3M1734.5 714.2v-14.6M1735.5 714.2v-1.7M1736.5 714.2v-2.7M1737.5 714.2v-1.3M1738.5 714.2v-1M1739.5 714.2v-0.9M1740.5 714.2v-2.8M1741.5 714.2v-7.2M1742.5 714.2v-4.5M1743.5 714.2v-6.4M1744.5 714.2v-8.4M1746.5 714.2v-5.2M1747.5 714.2v-6.7M1748.5 714.2v-10.8M1749.5 714.2v-22.1M1750.5 714.2v-3M1751.5 714.2v-1.5M1752.5 714.2v-1.3M1753.5 714.2v-0.6M1754.5 714.2v-3.7M1755.5 714.2v-1.5M1756.5 714.2v-1.3M1757.5 714.2v-0.5" fill="none" stroke="#f5a02a" stroke-width="1.0"/>
<line x1="1009.6" y1="713.8" x2="1757.8" y2="713.8" stroke="#f5a02a" stroke-width="2.2"/>
<line x1="1004.6" y1="683.7" x2="1004.6" y2="714.2" stroke="#000" stroke-width="1.2"/>
<line x1="1003" y1="683.7" x2="1004.6" y2="683.7" stroke="#000" stroke-width="1.2"/>
<line x1="1003" y1="714.2" x2="1004.6" y2="714.2" stroke="#000" stroke-width="1.2"/>
<text x="1001.2" y="688.9" font-size="8.8" text-anchor="end" stroke="#000" stroke-width="0.21" textLength="10.2" lengthAdjust="spacingAndGlyphs">10</text>
<text x="1001.2" y="715.4" font-size="8.8" text-anchor="end" stroke="#000" stroke-width="0.21" textLength="5" lengthAdjust="spacingAndGlyphs">0</text>
<text x="984.5" y="705.6" font-size="17.5" text-anchor="end" stroke="#000" stroke-width="0.41" textLength="75.7" lengthAdjust="spacingAndGlyphs">H3K4me1</text>
<rect x="1008" y="716" width="3.2" height="2.8" fill="#000"/>
<text x="1009.6" y="728.6" font-size="9.2" text-anchor="middle" stroke="#000" stroke-width="0.21" textLength="5.3" lengthAdjust="spacingAndGlyphs">0</text>
<rect x="1195.1" y="716" width="3.2" height="2.8" fill="#000"/>
<text x="1196.7" y="728.6" font-size="9.2" text-anchor="middle" stroke="#000" stroke-width="0.21" textLength="16" lengthAdjust="spacingAndGlyphs">250</text>
<rect x="1382.1" y="716" width="3.2" height="2.8" fill="#000"/>
<text x="1383.7" y="728.6" font-size="9.2" text-anchor="middle" stroke="#000" stroke-width="0.21" textLength="16" lengthAdjust="spacingAndGlyphs">500</text>
<rect x="1569.2" y="716" width="3.2" height="2.8" fill="#000"/>
<text x="1570.8" y="728.6" font-size="9.2" text-anchor="middle" stroke="#000" stroke-width="0.21" textLength="16" lengthAdjust="spacingAndGlyphs">750</text>
<rect x="1756.2" y="716" width="3.2" height="2.8" fill="#000"/>
<text x="1757.8" y="728.6" font-size="9.2" text-anchor="middle" stroke="#000" stroke-width="0.21" textLength="21.4" lengthAdjust="spacingAndGlyphs">1000</text>
<path d="M1010.5 771.7v-2.1M1011.5 771.7v-2.8M1012.5 771.7v-2.5M1013.5 771.7v-1.4M1014.5 771.7v-13.1M1015.5 771.7v-5.6M1017.5 771.7v-23.1M1018.5 771.7v-5.6M1019.5 771.7v-3.2M1020.5 771.7v-3.8M1021.5 771.7v-7.1M1022.5 771.7v-10.4M1023.5 771.7v-6.2M1024.5 771.7v-3.3M1025.5 771.7v-7.5M1026.5 771.7v-4M1027.5 771.7v-7.9M1028.5 771.7v-5.2M1029.5 771.7v-12.7M1030.5 771.7v-28.1M1032.5 771.7v-8.8M1033.5 771.7v-2.9M1034.5 771.7v-9M1035.5 771.7v-15.5M1036.5 771.7v-25.6M1037.5 771.7v-28.1M1038.5 771.7v-14.3M1039.5 771.7v-5M1040.5 771.7v-18.5M1041.5 771.7v-4.9M1042.5 771.7v-25.4M1043.5 771.7v-3.5M1044.5 771.7v-2M1045.5 771.7v-4M1046.5 771.7v-7.8M1048.5 771.7v-10.6M1049.5 771.7v-2.7M1050.5 771.7v-4.6M1051.5 771.7v-1.3M1052.5 771.7v-7.2M1053.5 771.7v-6.6M1054.5 771.7v-11M1055.5 771.7v-5.2M1056.5 771.7v-5.1M1057.5 771.7v-2.4M1058.5 771.7v-11.6M1059.5 771.7v-8M1060.5 771.7v-11.7M1061.5 771.7v-7.2M1063.5 771.7v-21.7M1064.5 771.7v-4.9M1065.5 771.7v-9.6M1066.5 771.7v-24.8M1067.5 771.7v-7.7M1068.5 771.7v-23.3M1069.5 771.7v-10.1M1070.5 771.7v-3.9M1071.5 771.7v-3.9M1072.5 771.7v-17.1M1073.5 771.7v-16.3M1074.5 771.7v-7.5M1075.5 771.7v-10.9M1076.5 771.7v-5.1M1077.5 771.7v-5.8M1079.5 771.7v-28.1M1080.5 771.7v-4.6M1081.5 771.7v-5.4M1082.5 771.7v-16.8M1083.5 771.7v-11.8M1084.5 771.7v-26.9M1085.5 771.7v-22.2M1086.5 771.7v-5M1087.5 771.7v-3.6M1088.5 771.7v-3.8M1089.5 771.7v-7.5M1090.5 771.7v-6.4M1091.5 771.7v-2.1M1092.5 771.7v-3.9M1094.5 771.7v-11.2M1095.5 771.7v-2.3M1096.5 771.7v-4.6M1097.5 771.7v-5.8M1098.5 771.7v-5.9M1099.5 771.7v-9.1M1100.5 771.7v-10M1101.5 771.7v-3.5M1102.5 771.7v-3.6M1103.5 771.7v-3.8M1104.5 771.7v-2.2M1105.5 771.7v-1.3M1106.5 771.7v-4.7M1107.5 771.7v-4.5M1108.5 771.7v-3.6M1110.5 771.7v-1.9M1111.5 771.7v-1.8M1112.5 771.7v-4.7M1113.5 771.7v-8.1M1114.5 771.7v-5M1115.5 771.7v-4.6M1116.5 771.7v-5.3M1117.5 771.7v-8.4M1118.5 771.7v-13.8M1119.5 771.7v-13M1120.5 771.7v-3.2M1121.5 771.7v-1.9M1122.5 771.7v-8.6M1123.5 771.7v-3.7M1125.5 771.7v-14.3M1126.5 771.7v-7.4M1127.5 771.7v-4.4M1128.5 771.7v-19.1M1129.5 771.7v-8.2M1130.5 771.7v-1.5M1131.5 771.7v-24.1M1132.5 771.7v-19.7M1133.5 771.7v-10.6M1134.5 771.7v-16.8M1135.5 771.7v-1.7M1136.5 771.7v-3M1137.5 771.7v-10.5M1138.5 771.7v-0.9M1139.5 771.7v-0.9M1141.5 771.7v-1.5M1142.5 771.7v-2.6M1143.5 771.7v-1.6M1144.5 771.7v-0.6M1145.5 771.7v-2.6M1146.5 771.7v-17.6M1147.5 771.7v-1.2M1148.5 771.7v-2.7M1150.5 771.7v-0.7M1151.5 771.7v-0.7M1153.5 771.7v-0.3M1154.5 771.7v-0.5M1155.5 771.7v-0.4M1157.5 771.7v-1.2M1158.5 771.7v-0.8M1159.5 771.7v-3M1160.5 771.7v-0.6M1161.5 771.7v-1M1162.5 771.7v-1.1M1163.5 771.7v-1.2M1164.5 771.7v-1.2M1165.5 771.7v-1.2M1166.5 771.7v-0.5M1167.5 771.7v-1.1M1168.5 771.7v-0.6M1169.5 771.7v-21.7M1170.5 771.7v-0.8M1172.5 771.7v-2.1M1173.5 771.7v-0.3M1174.5 771.7v-1.4M1175.5 771.7v-0.5M1176.5 771.7v-1.9M1177.5 771.7v-0.9M1178.5 771.7v-0.5M1179.5 771.7v-2.8M1180.5 771.7v-0.6M1181.5 771.7v-3.6M1182.5 771.7v-1.2M1183.5 771.7v-4.3M1184.5 771.7v-5.9M1185.5 771.7v-3.8M1186.5 771.7v-4.3M1188.5 771.7v-2.2M1189.5 771.7v-1.5M1190.5 771.7v-5.6M1191.5 771.7v-1.8M1192.5 771.7v-2.1M1193.5 771.7v-6.1M1194.5 771.7v-3.2M1195.5 771.7v-3M1196.5 771.7v-11.5M1197.5 771.7v-16.7M1198.5 771.7v-16.2M1199.5 771.7v-2.7M1200.5 771.7v-4.4M1201.5 771.7v-14.5M1203.5 771.7v-4.2M1204.5 771.7v-2.5M1205.5 771.7v-4.4M1206.5 771.7v-5.3M1207.5 771.7v-18.5M1208.5 771.7v-5.1M1209.5 771.7v-6.2M1210.5 771.7v-7.6M1211.5 771.7v-11.1M1212.5 771.7v-8.1M1213.5 771.7v-2.7M1214.5 771.7v-2.6M1215.5 771.7v-14.2M1216.5 771.7v-21.1M1217.5 771.7v-4.6M1219.5 771.7v-1.2M1220.5 771.7v-3.6M1221.5 771.7v-18.7M1222.5 771.7v-2M1223.5 771.7v-3.3M1224.5 771.7v-0.7M1225.5 771.7v-0.8M1226.5 771.7v-3.7M1227.5 771.7v-4.7M1228.5 771.7v-0.9M1229.5 771.7v-3.4M1230.5 771.7v-1.4M1231.5 771.7v-0.5M1232.5 771.7v-1.8M1234.5 771.7v-2M1235.5 771.7v-0.8M1236.5 771.7v-2.4M1237.5 771.7v-1.7M1238.5 771.7v-1.2M1239.5 771.7v-1.3M1240.5 771.7v-2.7M1241.5 771.7v-1.4M1242.5 771.7v-21.9M1243.5 771.7v-6.3M1244.5 771.7v-2.3M1245.5 771.7v-2.7M1246.5 771.7v-4.7M1247.5 771.7v-1.6M1248.5 771.7v-9.1M1250.5 771.7v-23.8M1251.5 771.7v-2.3M1252.5 771.7v-9M1253.5 771.7v-17M1254.5 771.7v-3.3M1255.5 771.7v-1.9M1256.5 771.7v-0.9M1257.5 771.7v-1.9M1258.5 771.7v-0.9M1259.5 771.7v-0.8M1260.5 771.7v-1.2M1261.5 771.7v-0.9M1262.5 771.7v-1.5M1263.5 771.7v-0.6M1265.5 771.7v-0.4M1266.5 771.7v-0.6M1289.5 771.7v-7.8M1290.5 771.7v-5.6M1291.5 771.7v-4.9M1292.5 771.7v-2.4M1293.5 771.7v-3.3M1294.5 771.7v-6.3M1296.5 771.7v-2.2M1297.5 771.7v-1.9M1298.5 771.7v-6.8M1299.5 771.7v-3.4M1300.5 771.7v-5.1M1301.5 771.7v-1.2M1302.5 771.7v-6.9M1303.5 771.7v-1.3M1304.5 771.7v-0.5M1305.5 771.7v-1M1306.5 771.7v-3.8M1307.5 771.7v-2.1M1308.5 771.7v-2.4M1309.5 771.7v-3.4M1310.5 771.7v-8.1M1312.5 771.7v-4.6M1313.5 771.7v-5.5M1314.5 771.7v-0.8M1315.5 771.7v-3.1M1316.5 771.7v-1.4M1317.5 771.7v-0.8M1318.5 771.7v-1.3M1319.5 771.7v-0.7M1320.5 771.7v-1.5M1323.5 771.7v-0.7M1325.5 771.7v-0.7M1327.5 771.7v-2.5M1328.5 771.7v-0.9M1329.5 771.7v-0.4M1334.5 771.7v-0.3M1337.5 771.7v-1.2M1338.5 771.7v-0.7M1339.5 771.7v-25.1M1340.5 771.7v-0.3M1341.5 771.7v-0.3M1343.5 771.7v-0.3M1344.5 771.7v-2.2M1345.5 771.7v-0.4M1346.5 771.7v-0.3M1347.5 771.7v-0.5M1348.5 771.7v-0.4M1349.5 771.7v-0.4M1350.5 771.7v-25.3M1351.5 771.7v-1.2M1352.5 771.7v-1.3M1353.5 771.7v-0.8M1354.5 771.7v-3.3M1355.5 771.7v-1.7M1356.5 771.7v-1.4M1358.5 771.7v-2.7M1359.5 771.7v-0.4M1360.5 771.7v-1.4M1361.5 771.7v-1.7M1362.5 771.7v-8.4M1363.5 771.7v-1.4M1364.5 771.7v-1.4M1365.5 771.7v-6.6M1366.5 771.7v-5M1367.5 771.7v-2.4M1368.5 771.7v-1.7M1369.5 771.7v-2.6M1370.5 771.7v-2.3M1371.5 771.7v-28.1M1372.5 771.7v-11.6M1374.5 771.7v-3.8M1375.5 771.7v-10.1M1376.5 771.7v-2.4M1377.5 771.7v-8.9M1378.5 771.7v-8.9M1379.5 771.7v-2.4M1380.5 771.7v-5.7M1381.5 771.7v-6.7M1382.5 771.7v-12.8M1383.5 771.7v-4.5M1384.5 771.7v-20M1385.5 771.7v-6.2M1386.5 771.7v-10.1M1387.5 771.7v-14.7M1389.5 771.7v-9.6M1390.5 771.7v-17.9M1391.5 771.7v-8.8M1392.5 771.7v-4M1393.5 771.7v-1.9M1394.5 771.7v-4.5M1395.5 771.7v-5.4M1396.5 771.7v-2.2M1397.5 771.7v-7.9M1398.5 771.7v-11M1399.5 771.7v-25.1M1400.5 771.7v-3.2M1401.5 771.7v-6.2M1402.5 771.7v-19M1403.5 771.7v-4M1405.5 771.7v-10.5M1406.5 771.7v-3.5M1407.5 771.7v-6.2M1408.5 771.7v-3.5M1409.5 771.7v-6M1410.5 771.7v-13.7M1411.5 771.7v-23.8M1412.5 771.7v-16.8M1413.5 771.7v-23.6M1414.5 771.7v-11.7M1415.5 771.7v-3.8M1416.5 771.7v-28.1M1417.5 771.7v-16.7M1418.5 771.7v-5.7M1420.5 771.7v-18.4M1421.5 771.7v-12.8M1422.5 771.7v-19.1M1423.5 771.7v-7.7M1424.5 771.7v-4M1425.5 771.7v-8.4M1426.5 771.7v-3.7M1427.5 771.7v-19.8M1428.5 771.7v-8.2M1429.5 771.7v-12.1M1430.5 771.7v-8.3M1431.5 771.7v-26.3M1432.5 771.7v-18.9M1433.5 771.7v-19.9M1434.5 771.7v-1.5M1436.5 771.7v-2.7M1437.5 771.7v-2.8M1438.5 771.7v-2M1439.5 771.7v-3.5M1440.5 771.7v-16.3M1441.5 771.7v-3.8M1442.5 771.7v-6.7M1443.5 771.7v-9.3M1444.5 771.7v-1M1445.5 771.7v-0.9M1446.5 771.7v-4.8M1447.5 771.7v-1.5M1448.5 771.7v-5.3M1449.5 771.7v-4.3M1451.5 771.7v-1.3M1452.5 771.7v-14M1453.5 771.7v-1.2M1454.5 771.7v-22.7M1455.5 771.7v-1.7M1456.5 771.7v-15.3M1457.5 771.7v-26.4M1458.5 771.7v-0.3M1459.5 771.7v-0.5M1460.5 771.7v-15.5M1461.5 771.7v-1.6M1462.5 771.7v-13.1M1463.5 771.7v-0.6M1464.5 771.7v-0.4M1465.5 771.7v-0.4M1467.5 771.7v-0.9M1468.5 771.7v-0.4M1469.5 771.7v-0.9M1470.5 771.7v-0.5M1471.5 771.7v-0.6M1472.5 771.7v-0.3M1473.5 771.7v-0.8M1474.5 771.7v-0.7M1475.5 771.7v-1.2M1476.5 771.7v-0.8M1477.5 771.7v-1.7M1478.5 771.7v-1.1M1479.5 771.7v-7M1480.5 771.7v-0.7M1482.5 771.7v-1.7M1483.5 771.7v-0.5M1484.5 771.7v-0.9M1485.5 771.7v-0.7M1486.5 771.7v-0.3M1487.5 771.7v-0.3M1491.5 771.7v-0.7M1492.5 771.7v-1.2M1493.5 771.7v-2.1M1494.5 771.7v-0.6M1495.5 771.7v-2.3M1496.5 771.7v-2.3M1498.5 771.7v-12.4M1499.5 771.7v-4.4M1500.5 771.7v-1M1502.5 771.7v-0.4M1503.5 771.7v-0.4M1505.5 771.7v-0.5M1506.5 771.7v-3.5M1507.5 771.7v-4M1508.5 771.7v-0.8M1509.5 771.7v-0.6M1510.5 771.7v-1.3M1511.5 771.7v-2.1M1512.5 771.7v-2.8M1514.5 771.7v-20.7M1515.5 771.7v-3.9M1516.5 771.7v-7.9M1517.5 771.7v-4.9M1518.5 771.7v-3.5M1519.5 771.7v-3.6M1520.5 771.7v-25.5M1521.5 771.7v-4.5M1522.5 771.7v-3.6M1523.5 771.7v-5.5M1524.5 771.7v-15.7M1525.5 771.7v-10.3M1526.5 771.7v-2.3M1527.5 771.7v-15.6M1529.5 771.7v-2.7M1530.5 771.7v-2M1531.5 771.7v-2.3M1532.5 771.7v-4M1533.5 771.7v-4.6M1534.5 771.7v-2.3M1535.5 771.7v-1.6M1536.5 771.7v-0.6M1537.5 771.7v-2.1M1538.5 771.7v-1.5M1539.5 771.7v-0.9M1540.5 771.7v-1.4M1541.5 771.7v-3.9M1542.5 771.7v-0.8M1543.5 771.7v-0.5M1545.5 771.7v-1.7M1546.5 771.7v-1M1547.5 771.7v-4.9M1548.5 771.7v-1.6M1549.5 771.7v-1.2M1550.5 771.7v-2.1M1551.5 771.7v-2M1552.5 771.7v-0.9M1553.5 771.7v-2.1M1554.5 771.7v-0.8M1555.5 771.7v-0.6M1556.5 771.7v-3.5M1557.5 771.7v-0.9M1558.5 771.7v-0.3M1560.5 771.7v-1M1561.5 771.7v-0.3M1562.5 771.7v-2.7M1564.5 771.7v-0.3M1565.5 771.7v-0.3M1567.5 771.7v-1.8M1568.5 771.7v-0.5M1569.5 771.7v-0.5M1570.5 771.7v-0.4M1571.5 771.7v-0.5M1572.5 771.7v-0.6M1573.5 771.7v-4.4M1574.5 771.7v-2.5M1576.5 771.7v-11.3M1577.5 771.7v-2.2M1578.5 771.7v-1.6M1579.5 771.7v-3.5M1580.5 771.7v-3.4M1581.5 771.7v-2.3M1582.5 771.7v-14.2M1583.5 771.7v-1.9M1584.5 771.7v-2.1M1585.5 771.7v-3.9M1586.5 771.7v-1.3M1587.5 771.7v-3.1M1588.5 771.7v-0.6M1589.5 771.7v-21.7M1591.5 771.7v-0.8M1592.5 771.7v-1.1M1593.5 771.7v-0.3M1594.5 771.7v-1.1M1595.5 771.7v-0.5M1596.5 771.7v-0.3M1598.5 771.7v-0.4M1602.5 771.7v-0.5M1603.5 771.7v-0.5M1604.5 771.7v-0.3M1605.5 771.7v-0.6M1608.5 771.7v-0.6M1609.5 771.7v-0.3M1612.5 771.7v-0.8M1614.5 771.7v-0.3M1615.5 771.7v-0.3M1616.5 771.7v-0.6M1617.5 771.7v-0.8M1618.5 771.7v-1.3M1619.5 771.7v-2M1620.5 771.7v-1.1M1622.5 771.7v-0.6M1623.5 771.7v-1.4M1625.5 771.7v-0.3M1626.5 771.7v-1.2M1627.5 771.7v-26.3M1629.5 771.7v-0.6M1630.5 771.7v-0.4M1634.5 771.7v-22.3M1636.5 771.7v-0.3M1638.5 771.7v-21.8M1639.5 771.7v-0.4M1640.5 771.7v-0.4M1641.5 771.7v-0.5M1643.5 771.7v-0.4M1644.5 771.7v-0.4M1645.5 771.7v-0.3M1646.5 771.7v-0.3M1647.5 771.7v-0.4M1650.5 771.7v-0.3M1651.5 771.7v-0.3M1655.5 771.7v-0.4M1657.5 771.7v-0.4M1658.5 771.7v-0.3M1659.5 771.7v-0.9M1660.5 771.7v-0.9M1661.5 771.7v-0.6M1662.5 771.7v-0.6M1663.5 771.7v-1M1664.5 771.7v-2.1M1665.5 771.7v-0.4M1666.5 771.7v-0.6M1667.5 771.7v-0.9M1669.5 771.7v-1.5M1670.5 771.7v-2.3M1671.5 771.7v-2.6M1672.5 771.7v-0.8M1673.5 771.7v-1.9M1674.5 771.7v-0.8M1675.5 771.7v-2M1676.5 771.7v-1.7M1677.5 771.7v-16.5M1678.5 771.7v-20.5M1679.5 771.7v-1.8M1680.5 771.7v-6.9M1681.5 771.7v-3.5M1682.5 771.7v-1.8M1684.5 771.7v-3.4M1685.5 771.7v-1.5M1686.5 771.7v-1.1M1687.5 771.7v-1.1M1688.5 771.7v-1.1M1689.5 771.7v-1.2M1690.5 771.7v-0.3M1692.5 771.7v-0.9M1693.5 771.7v-0.4M1694.5 771.7v-0.3M1695.5 771.7v-0.8M1696.5 771.7v-0.8M1697.5 771.7v-1.8M1698.5 771.7v-2.2M1700.5 771.7v-2.7M1701.5 771.7v-2.1M1702.5 771.7v-3.6M1703.5 771.7v-0.4M1704.5 771.7v-0.3M1705.5 771.7v-1.8M1706.5 771.7v-0.8M1707.5 771.7v-6.3M1708.5 771.7v-2.2M1709.5 771.7v-0.9M1710.5 771.7v-0.9M1711.5 771.7v-1.3M1712.5 771.7v-4.9M1713.5 771.7v-3.2M1715.5 771.7v-4.6M1716.5 771.7v-2.8M1717.5 771.7v-22M1718.5 771.7v-1.5M1719.5 771.7v-2.3M1720.5 771.7v-2.4M1721.5 771.7v-17.1M1722.5 771.7v-2.9M1723.5 771.7v-2.2M1724.5 771.7v-5.1M1725.5 771.7v-17.2M1726.5 771.7v-5.5M1727.5 771.7v-14.4M1728.5 771.7v-3.2M1729.5 771.7v-3M1731.5 771.7v-22M1732.5 771.7v-2M1733.5 771.7v-8M1734.5 771.7v-1.4M1735.5 771.7v-2.4M1736.5 771.7v-2.1M1737.5 771.7v-4.9M1738.5 771.7v-1.2M1739.5 771.7v-2.3M1740.5 771.7v-2.6M1741.5 771.7v-3.2M1742.5 771.7v-0.9M1743.5 771.7v-2.5M1744.5 771.7v-4.3M1746.5 771.7v-7.4M1747.5 771.7v-8.8M1748.5 771.7v-1.1M1749.5 771.7v-3.1M1750.5 771.7v-9.7M1751.5 771.7v-3.8M1752.5 771.7v-13.9M1753.5 771.7v-6.6M1754.5 771.7v-3M1755.5 771.7v-1.2M1756.5 771.7v-0.6M1757.5 771.7v-0.7" fill="none" stroke="#000" stroke-width="1.0"/>
<line x1="1009.6" y1="771.4" x2="1757.8" y2="771.4" stroke="#000" stroke-width="1.8"/>
<line x1="1004.6" y1="742.6" x2="1004.6" y2="771.7" stroke="#000" stroke-width="1.2"/>
<line x1="1003" y1="742.6" x2="1004.6" y2="742.6" stroke="#000" stroke-width="1.2"/>
<line x1="1003" y1="771.7" x2="1004.6" y2="771.7" stroke="#000" stroke-width="1.2"/>
<text x="1001.2" y="747.8" font-size="8.8" text-anchor="end" stroke="#000" stroke-width="0.21" textLength="10.2" lengthAdjust="spacingAndGlyphs">20</text>
<text x="1001.2" y="772.9" font-size="8.8" text-anchor="end" stroke="#000" stroke-width="0.21" textLength="5" lengthAdjust="spacingAndGlyphs">0</text>
<text x="984.5" y="764.1" font-size="17.5" text-anchor="end" stroke="#000" stroke-width="0.41" textLength="71.7" lengthAdjust="spacingAndGlyphs">ATAC-seq</text>
<rect x="1008" y="773.5" width="3.2" height="2.8" fill="#000"/>
<text x="1009.6" y="785.9" font-size="9.2" text-anchor="middle" stroke="#000" stroke-width="0.21" textLength="5.3" lengthAdjust="spacingAndGlyphs">0</text>
<rect x="1195.1" y="773.5" width="3.2" height="2.8" fill="#000"/>
<text x="1196.7" y="785.9" font-size="9.2" text-anchor="middle" stroke="#000" stroke-width="0.21" textLength="16" lengthAdjust="spacingAndGlyphs">250</text>
<rect x="1382.1" y="773.5" width="3.2" height="2.8" fill="#000"/>
<text x="1383.7" y="785.9" font-size="9.2" text-anchor="middle" stroke="#000" stroke-width="0.21" textLength="16" lengthAdjust="spacingAndGlyphs">500</text>
<rect x="1569.2" y="773.5" width="3.2" height="2.8" fill="#000"/>
<text x="1570.8" y="785.9" font-size="9.2" text-anchor="middle" stroke="#000" stroke-width="0.21" textLength="16" lengthAdjust="spacingAndGlyphs">750</text>
<rect x="1756.2" y="773.5" width="3.2" height="2.8" fill="#000"/>
<text x="1757.8" y="785.9" font-size="9.2" text-anchor="middle" stroke="#000" stroke-width="0.21" textLength="21.4" lengthAdjust="spacingAndGlyphs">1000</text>
<line x1="1009.6" y1="814.5" x2="1757.8" y2="814.5" stroke="#4540a3" stroke-width="1.3"/>
<path d="M1048.5 814.5V817.2H1050V817H1051.5V816.3H1053V814.5ZM1088.9 814.5V818.3H1090.4V818.5H1091.9V818.6H1093.4V818.5H1094.9V814.5ZM1100.9 814.5V816.4H1102.4V817H1103.9V814.5ZM1108.4 814.5V823.9H1109.9V824.4H1111.4V825.9H1112.9V823.1H1114.3V814.5ZM1127.8 814.5V825.7H1129.3V824.5H1130.8V825.5H1132.3V825.8H1133.8V826.3H1135.3V826.3H1136.8V825.9H1138.3V826.1H1139.8V823.6H1141.3V824.6H1142.8V825H1144.3V826.2H1145.8V826.3H1147.3V826.3H1148.8V826.3H1150.3V825.4H1151.8V825.3H1153.3V825.9H1154.8V826H1156.2V824.5H1157.7V823.6H1159.2V823.8H1160.7V824H1162.2V822.5H1163.7V824.8H1165.2V825H1166.7V825.1H1168.2V825.6H1169.7V825.4H1171.2V825H1172.7V826.3H1174.2V825.3H1175.7V826.3H1177.2V825.3H1178.7V823.6H1180.2V825H1181.7V823.9H1183.2V822.3H1184.7V822.4H1186.2V823.6H1187.7V825.1H1189.2V825.5H1190.7V825.6H1192.2V825.3H1193.7V826.1H1195.2V814.5ZM1202.6 814.5V821.9H1204.1V823.8H1205.6V814.5ZM1210.1 814.5V820.3H1211.6V820.8H1213.1V820H1214.6V814.5ZM1217.6 814.5V825.9H1219.1V826H1220.6V826.3H1222.1V826.2H1223.6V824.6H1225.1V822.9H1226.6V824.7H1228.1V824.7H1229.6V825.3H1231.1V823.9H1232.6V824.5H1234.1V825.8H1235.6V825.5H1237.1V825H1238.5V826H1240V826.3H1241.5V814.5ZM1255 814.5V822.5H1256.5V824.5H1258V824.6H1259.5V824.5H1261V823.5H1262.5V823.7H1264V824.8H1265.5V826H1267V814.5ZM1287.9 814.5V824.9H1289.4V824.6H1290.9V825.3H1292.4V824.8H1293.9V824.3H1295.4V824.9H1296.9V824.3H1298.4V824.8H1299.9V823.8H1301.4V825.9H1302.9V826.1H1304.4V825.6H1305.9V825.6H1307.4V825.5H1308.9V814.5ZM1311.9 814.5V826.3H1313.4V824.5H1314.9V825.9H1316.4V824.1H1317.9V825H1319.4V824.7H1320.9V825H1322.3V825.5H1323.8V824.8H1325.3V814.5ZM1328.3 814.5V824.1H1329.8V825.4H1331.3V825.8H1332.8V825.8H1334.3V824.9H1335.8V814.5ZM1338.8 814.5V823.5H1340.3V824.4H1341.8V824.7H1343.3V823.2H1344.8V824.2H1346.3V823.5H1347.8V823.8H1349.3V814.5ZM1443.6 814.5V825.8H1445.1V825.3H1446.5V824.5H1448V826.3H1449.5V824.5H1451V825.1H1452.5V825H1454V824.6H1455.5V825.7H1457V825.6H1458.5V824.3H1460V825.8H1461.5V824.8H1463V824.2H1464.5V826.3H1466V825.1H1467.5V825.5H1469V825.3H1470.5V826.3H1472V826.3H1473.5V826.3H1475V824.6H1476.5V814.5ZM1479.5 814.5V825.3H1481V826.3H1482.5V825.8H1484V825.7H1485.5V826H1487V824.6H1488.4V824.7H1489.9V825.9H1491.4V814.5ZM1498.9 814.5V822.3H1500.4V822.9H1501.9V823.3H1503.4V814.5ZM1507.9 814.5V819.8H1509.4V821.9H1510.9V820.8H1512.4V814.5ZM1530.3 814.5V825.1H1531.8V826.3H1533.3V826.3H1534.8V826.2H1536.3V826.3H1537.8V826.3H1539.3V824.8H1540.8V826.3H1542.3V826.3H1543.8V814.5ZM1548.3 814.5V823.1H1549.8V824.3H1551.3V825.9H1552.8V826.3H1554.3V825.8H1555.8V825.8H1557.3V824.3H1558.8V825.5H1560.3V823.1H1561.8V824.3H1563.3V824.7H1564.8V824.4H1566.3V823.9H1567.8V825.5H1569.3V824.4H1570.8V823.6H1572.2V824.4H1573.7V814.5ZM1585.7 814.5V825.5H1587.2V824.6H1588.7V824.6H1590.2V823.8H1591.7V823.4H1593.2V823.3H1594.7V821.9H1596.2V822.2H1597.7V821.6H1599.2V823.7H1600.7V823.9H1602.2V822.6H1603.7V824.7H1605.2V825.7H1606.7V825.1H1608.2V825H1609.7V825.9H1611.2V825.4H1612.6V825.3H1614.1V826.1H1615.6V824.5H1617.1V823.4H1618.6V823.8H1620.1V824.6H1621.6V823.9H1623.1V825.2H1624.6V824.1H1626.1V823.7H1627.6V824.1H1629.1V823H1630.6V824.6H1632.1V823.9H1633.6V825.6H1635.1V825.3H1636.6V826.3H1638.1V825.4H1639.6V825.4H1641.1V824.3H1642.6V824.2H1644.1V825.3H1645.6V824.5H1647.1V826.3H1648.6V826.3H1650.1V824.5H1651.6V825.1H1653.1V824.8H1654.5V824H1656V823.9H1657.5V822.9H1659V823.8H1660.5V823H1662V823.3H1663.5V822.4H1665V821.6H1666.5V822.2H1668V822.7H1669.5V823.2H1671V825.5H1672.5V825.7H1674V824.3H1675.5V814.5ZM1684.5 814.5V822.9H1686V821.2H1687.5V823.7H1689V822.1H1690.5V824.6H1692V824.6H1693.5V822.6H1695V814.5ZM1732.4 814.5V825.3H1733.9V824.5H1735.4V821.9H1736.9V824.6H1738.3V823.2H1739.8V825.9H1741.3V826.3H1742.8V825.4H1744.3V814.5ZM1748.8 814.5V824.3H1750.3V825.8H1751.8V826.3H1753.3V826.3H1754.8V826.2H1756.3V824.6H1757.8V814.5Z" fill="#4540a3" stroke="#4540a3" stroke-width="3.4" stroke-linejoin="round"/>
<path d="M1009.6 814.5V804.7H1011.1V803.4H1012.6V805.4H1014.1V804.2H1015.6V806.4H1017.1V804.8H1018.6V804.8H1020.1V806.1H1021.6V805.7H1023.1V805.1H1024.6V806.1H1026.1V806.3H1027.6V805.9H1029.1V805.5H1030.5V806.8H1032V806.8H1033.5V805.6H1035V804.9H1036.5V804.7H1038V806.7H1039.5V806H1041V804.6H1042.5V803.3H1044V805H1045.5V802.7H1047V803.1H1048.5V814.5ZM1053 814.5V805.1H1054.5V806.5H1056V803.5H1057.5V804.7H1059V806H1060.5V806H1062V807.2H1063.5V806.6H1065V805.5H1066.5V805.1H1068V806.6H1069.5V809H1071V808.2H1072.4V808.2H1073.9V808.6H1075.4V807.9H1076.9V808.9H1078.4V810.2H1079.9V807.7H1081.4V807.9H1082.9V806.6H1084.4V806.2H1085.9V807.3H1087.4V807.3H1088.9V814.5ZM1094.9 814.5V808.3H1096.4V808.3H1097.9V809.6H1099.4V808.1H1100.9V814.5ZM1103.9 814.5V808.8H1105.4V808H1106.9V807.3H1108.4V814.5ZM1114.3 814.5V808H1115.8V809H1117.3V809.4H1118.8V807.5H1120.3V808.6H1121.8V807.7H1123.3V812H1124.8V810.7H1126.3V811.3H1127.8V814.5ZM1195.2 814.5V809H1196.7V807H1198.1V808.1H1199.6V809.6H1201.1V807.7H1202.6V814.5ZM1205.6 814.5V810.6H1207.1V810.4H1208.6V810.9H1210.1V814.5ZM1214.6 814.5V811.5H1216.1V811.3H1217.6V814.5ZM1241.5 814.5V808.2H1243V808.9H1244.5V808.7H1246V809.7H1247.5V808.1H1249V808.4H1250.5V808.3H1252V810.2H1253.5V809.4H1255V814.5ZM1308.9 814.5V810.9H1310.4V811.2H1311.9V814.5ZM1325.3 814.5V811.7H1326.8V810.3H1328.3V814.5ZM1335.8 814.5V810.9H1337.3V811.4H1338.8V814.5ZM1349.3 814.5V805.4H1350.8V804.7H1352.3V803.9H1353.8V803.3H1355.3V803.6H1356.8V803.8H1358.3V804.2H1359.8V805.1H1361.3V805.3H1362.8V805.1H1364.2V804.9H1365.7V804.1H1367.2V804.2H1368.7V802.9H1370.2V803H1371.7V805.2H1373.2V807H1374.7V804.4H1376.2V804.3H1377.7V804.9H1379.2V804H1380.7V803.6H1382.2V805.9H1383.7V805.4H1385.2V804.2H1386.7V804H1388.2V806.8H1389.7V806H1391.2V806.4H1392.7V805.3H1394.2V804.6H1395.7V805.2H1397.2V803.1H1398.7V802.7H1400.2V802.7H1401.7V804.7H1403.2V805.4H1404.6V803.9H1406.1V804.8H1407.6V806.1H1409.1V805.9H1410.6V804.8H1412.1V803.5H1413.6V805.5H1415.1V804.8H1416.6V806.5H1418.1V805.6H1419.6V804.4H1421.1V804.2H1422.6V807H1424.1V806.8H1425.6V804.7H1427.1V804.6H1428.6V803.2H1430.1V803.2H1431.6V805.3H1433.1V805.7H1434.6V806.2H1436.1V804H1437.6V804.8H1439.1V804.1H1440.6V805.3H1442.1V804.3H1443.6V814.5ZM1476.5 814.5V809.9H1478V809.6H1479.5V814.5ZM1491.4 814.5V808.1H1492.9V807.9H1494.4V808.4H1495.9V807.8H1497.4V807.3H1498.9V814.5ZM1503.4 814.5V810.4H1504.9V809.9H1506.4V809.8H1507.9V814.5ZM1512.4 814.5V808.1H1513.9V807.1H1515.4V809.1H1516.9V808.1H1518.4V809.6H1519.9V808.9H1521.4V808.4H1522.9V808.7H1524.4V809.2H1525.9V808.5H1527.4V808.3H1528.9V808.1H1530.3V814.5ZM1543.8 814.5V810.1H1545.3V809.7H1546.8V808.5H1548.3V814.5ZM1573.7 814.5V810.6H1575.2V810.5H1576.7V811.1H1578.2V811.1H1579.7V810.9H1581.2V810.9H1582.7V811.3H1584.2V811.3H1585.7V814.5ZM1675.5 814.5V810.8H1677V810H1678.5V810.3H1680V810.7H1681.5V809.8H1683V810.1H1684.5V814.5ZM1695 814.5V809.6H1696.4V808.2H1697.9V807.6H1699.4V808H1700.9V808.4H1702.4V808.7H1703.9V808.9H1705.4V808.3H1706.9V809.4H1708.4V808.4H1709.9V809H1711.4V809.5H1712.9V808.8H1714.4V808.8H1715.9V809.5H1717.4V809.3H1718.9V809.2H1720.4V809.6H1721.9V810H1723.4V809H1724.9V809.9H1726.4V809.9H1727.9V808.2H1729.4V808.7H1730.9V808.4H1732.4V814.5ZM1744.3 814.5V809.6H1745.8V809.8H1747.3V808.7H1748.8V814.5Z" fill="#df2d26" stroke="#df2d26" stroke-width="3.4" stroke-linejoin="round"/>
<line x1="1004.6" y1="798.5" x2="1004.6" y2="828.9" stroke="#000" stroke-width="1.2"/>
<line x1="1003" y1="798.5" x2="1004.6" y2="798.5" stroke="#000" stroke-width="1.2"/>
<line x1="1003" y1="828.9" x2="1004.6" y2="828.9" stroke="#000" stroke-width="1.2"/>
<text x="1001.2" y="804.7" font-size="8.8" text-anchor="end" stroke="#000" stroke-width="0.21" textLength="3.8" lengthAdjust="spacingAndGlyphs">1</text>
<text x="1001.2" y="830.7" font-size="8.8" text-anchor="end" stroke="#000" stroke-width="0.21" textLength="8" lengthAdjust="spacingAndGlyphs">-1</text>
<text x="1001.2" y="817.7" font-size="8.8" text-anchor="end" stroke="#000" stroke-width="0.21" textLength="5" lengthAdjust="spacingAndGlyphs">0</text>
<text x="984.5" y="819.9" font-size="17.5" text-anchor="end" stroke="#000" stroke-width="0.41" textLength="117.4" lengthAdjust="spacingAndGlyphs">Compartments</text>
<rect x="1008" y="831.7" width="3.2" height="2.8" fill="#000"/>
<text x="1009.6" y="843.7" font-size="9.2" text-anchor="middle" stroke="#000" stroke-width="0.21" textLength="5.3" lengthAdjust="spacingAndGlyphs">0</text>
<rect x="1195.1" y="831.7" width="3.2" height="2.8" fill="#000"/>
<text x="1196.7" y="843.7" font-size="9.2" text-anchor="middle" stroke="#000" stroke-width="0.21" textLength="16" lengthAdjust="spacingAndGlyphs">250</text>
<rect x="1382.1" y="831.7" width="3.2" height="2.8" fill="#000"/>
<text x="1383.7" y="843.7" font-size="9.2" text-anchor="middle" stroke="#000" stroke-width="0.21" textLength="16" lengthAdjust="spacingAndGlyphs">500</text>
<rect x="1569.2" y="831.7" width="3.2" height="2.8" fill="#000"/>
<text x="1570.8" y="843.7" font-size="9.2" text-anchor="middle" stroke="#000" stroke-width="0.21" textLength="16" lengthAdjust="spacingAndGlyphs">750</text>
<rect x="1756.2" y="831.7" width="3.2" height="2.8" fill="#000"/>
<text x="1757.8" y="843.7" font-size="9.2" text-anchor="middle" stroke="#000" stroke-width="0.21" textLength="21.4" lengthAdjust="spacingAndGlyphs">1000</text>
<path d="M1010.5 886.5v-5.1M1011.5 886.5v-5.1M1012.5 886.5v-8.6M1013.5 886.5v-2.3M1014.5 886.5v-12.7M1015.5 886.5v-2.8M1017.5 886.5v-5.6M1018.5 886.5v-3.9M1019.5 886.5v-23.5M1020.5 886.5v-6.1M1021.5 886.5v-15.8M1022.5 886.5v-20.5M1023.5 886.5v-15.8M1024.5 886.5v-23.3M1025.5 886.5v-7.8M1026.5 886.5v-14.4M1027.5 886.5v-28.1M1028.5 886.5v-10.2M1029.5 886.5v-24M1030.5 886.5v-28.1M1032.5 886.5v-11.7M1033.5 886.5v-16.9M1034.5 886.5v-10.6M1035.5 886.5v-4.1M1036.5 886.5v-2.5M1037.5 886.5v-9.5M1038.5 886.5v-10.5M1039.5 886.5v-2.7M1040.5 886.5v-1.4M1041.5 886.5v-0.8M1042.5 886.5v-3.5M1043.5 886.5v-1M1044.5 886.5v-1M1045.5 886.5v-1.3M1046.5 886.5v-0.8M1048.5 886.5v-1.4M1049.5 886.5v-2.3M1050.5 886.5v-0.3M1051.5 886.5v-0.4M1052.5 886.5v-0.3M1053.5 886.5v-1.4M1054.5 886.5v-1.8M1055.5 886.5v-1.3M1056.5 886.5v-1.8M1057.5 886.5v-1M1058.5 886.5v-2.2M1059.5 886.5v-4.5M1060.5 886.5v-2.5M1061.5 886.5v-1.2M1063.5 886.5v-3M1064.5 886.5v-7.8M1065.5 886.5v-1.5M1066.5 886.5v-5.6M1067.5 886.5v-4.2M1068.5 886.5v-2.7M1069.5 886.5v-1.9M1070.5 886.5v-2.2M1071.5 886.5v-6.6M1072.5 886.5v-21.9M1073.5 886.5v-10.6M1074.5 886.5v-9.4M1075.5 886.5v-2.8M1076.5 886.5v-7.5M1077.5 886.5v-8.9M1079.5 886.5v-12.8M1080.5 886.5v-9.2M1081.5 886.5v-3.1M1082.5 886.5v-6.1M1083.5 886.5v-7M1084.5 886.5v-7.5M1085.5 886.5v-5.4M1086.5 886.5v-3.7M1087.5 886.5v-4.1M1088.5 886.5v-2M1089.5 886.5v-1.6M1090.5 886.5v-2.7M1091.5 886.5v-0.8M1092.5 886.5v-1.8M1094.5 886.5v-0.5M1095.5 886.5v-1.3M1096.5 886.5v-6.6M1097.5 886.5v-6.3M1098.5 886.5v-11.1M1099.5 886.5v-27.2M1100.5 886.5v-1.4M1101.5 886.5v-15.1M1102.5 886.5v-12.3M1103.5 886.5v-1.3M1104.5 886.5v-13.5M1105.5 886.5v-9.6M1106.5 886.5v-8.4M1107.5 886.5v-2.2M1108.5 886.5v-1.7M1110.5 886.5v-9.2M1111.5 886.5v-2M1112.5 886.5v-2.2M1113.5 886.5v-1.4M1114.5 886.5v-3.9M1115.5 886.5v-3.1M1116.5 886.5v-2.3M1117.5 886.5v-7.8M1118.5 886.5v-22.1M1119.5 886.5v-5.8M1120.5 886.5v-18.3M1121.5 886.5v-6.1M1122.5 886.5v-10.6M1123.5 886.5v-3.5M1125.5 886.5v-19.6M1126.5 886.5v-14.4M1127.5 886.5v-5.1M1128.5 886.5v-11.8M1129.5 886.5v-7.4M1130.5 886.5v-20.2M1131.5 886.5v-13M1132.5 886.5v-8.3M1133.5 886.5v-11.3M1134.5 886.5v-5.3M1135.5 886.5v-2.5M1136.5 886.5v-5M1137.5 886.5v-1.1M1138.5 886.5v-2.7M1139.5 886.5v-3M1141.5 886.5v-4.3M1142.5 886.5v-0.8M1143.5 886.5v-0.5M1144.5 886.5v-0.4M1145.5 886.5v-0.4M1146.5 886.5v-0.5M1148.5 886.5v-1M1149.5 886.5v-0.5M1150.5 886.5v-1.8M1151.5 886.5v-1.4M1152.5 886.5v-0.4M1153.5 886.5v-0.6M1154.5 886.5v-0.7M1155.5 886.5v-1.5M1157.5 886.5v-1.2M1158.5 886.5v-0.7M1159.5 886.5v-5.8M1160.5 886.5v-2M1161.5 886.5v-3.4M1162.5 886.5v-1M1163.5 886.5v-1.4M1164.5 886.5v-0.5M1165.5 886.5v-1M1166.5 886.5v-0.6M1167.5 886.5v-1.1M1168.5 886.5v-0.4M1169.5 886.5v-0.8M1170.5 886.5v-0.6M1172.5 886.5v-2.5M1173.5 886.5v-0.6M1174.5 886.5v-1.5M1175.5 886.5v-7.9M1176.5 886.5v-4.1M1177.5 886.5v-1.3M1178.5 886.5v-0.6M1179.5 886.5v-4.3M1180.5 886.5v-0.5M1181.5 886.5v-1.1M1182.5 886.5v-0.5M1183.5 886.5v-0.8M1184.5 886.5v-0.3M1185.5 886.5v-0.9M1186.5 886.5v-0.5M1188.5 886.5v-0.7M1190.5 886.5v-0.5M1191.5 886.5v-0.5M1195.5 886.5v-0.6M1196.5 886.5v-3M1197.5 886.5v-1.1M1198.5 886.5v-0.8M1199.5 886.5v-0.9M1200.5 886.5v-0.9M1201.5 886.5v-1.1M1203.5 886.5v-2M1204.5 886.5v-0.9M1205.5 886.5v-2M1206.5 886.5v-4.1M1207.5 886.5v-2.9M1208.5 886.5v-2.9M1209.5 886.5v-3.6M1210.5 886.5v-1.2M1211.5 886.5v-2.8M1212.5 886.5v-1.8M1213.5 886.5v-8.1M1214.5 886.5v-3.6M1215.5 886.5v-10.5M1216.5 886.5v-3.5M1217.5 886.5v-3.1M1219.5 886.5v-2.6M1220.5 886.5v-4.1M1221.5 886.5v-24.2M1222.5 886.5v-1.1M1223.5 886.5v-0.5M1224.5 886.5v-0.7M1225.5 886.5v-0.6M1226.5 886.5v-2.1M1227.5 886.5v-1.5M1228.5 886.5v-0.4M1229.5 886.5v-1.6M1230.5 886.5v-1M1231.5 886.5v-0.6M1232.5 886.5v-0.4M1234.5 886.5v-1M1235.5 886.5v-1.1M1236.5 886.5v-1.9M1237.5 886.5v-0.9M1238.5 886.5v-5.5M1239.5 886.5v-1.5M1240.5 886.5v-21.7M1241.5 886.5v-1.6M1242.5 886.5v-12.7M1243.5 886.5v-1.3M1244.5 886.5v-2.8M1245.5 886.5v-13.7M1246.5 886.5v-2.5M1247.5 886.5v-1.2M1248.5 886.5v-4.8M1250.5 886.5v-3.5M1251.5 886.5v-2.1M1252.5 886.5v-6.2M1253.5 886.5v-2.5M1254.5 886.5v-4.5M1255.5 886.5v-3.4M1256.5 886.5v-3.2M1257.5 886.5v-6M1258.5 886.5v-1.4M1259.5 886.5v-0.7M1260.5 886.5v-0.5M1261.5 886.5v-0.3M1262.5 886.5v-0.4M1263.5 886.5v-0.3M1265.5 886.5v-0.5M1266.5 886.5v-1M1289.5 886.5v-0.3M1291.5 886.5v-0.3M1294.5 886.5v-0.4M1296.5 886.5v-0.4M1297.5 886.5v-0.7M1298.5 886.5v-19.4M1299.5 886.5v-0.3M1300.5 886.5v-0.4M1301.5 886.5v-3.6M1302.5 886.5v-0.7M1303.5 886.5v-19M1304.5 886.5v-0.7M1305.5 886.5v-3.1M1306.5 886.5v-4.9M1307.5 886.5v-3.9M1308.5 886.5v-2.6M1309.5 886.5v-2.6M1310.5 886.5v-1.8M1312.5 886.5v-5.4M1313.5 886.5v-4.3M1314.5 886.5v-1.2M1315.5 886.5v-4.9M1316.5 886.5v-1.5M1317.5 886.5v-2.8M1318.5 886.5v-1.3M1319.5 886.5v-2.2M1320.5 886.5v-1M1321.5 886.5v-5.4M1322.5 886.5v-0.3M1323.5 886.5v-1.1M1324.5 886.5v-0.9M1325.5 886.5v-1.1M1327.5 886.5v-0.9M1328.5 886.5v-3.5M1329.5 886.5v-3.5M1330.5 886.5v-4.6M1331.5 886.5v-3.9M1332.5 886.5v-5.5M1333.5 886.5v-6.6M1334.5 886.5v-12M1335.5 886.5v-7.1M1336.5 886.5v-6.2M1337.5 886.5v-3.8M1338.5 886.5v-2.6M1339.5 886.5v-12.9M1340.5 886.5v-4.6M1341.5 886.5v-4.6M1343.5 886.5v-1.8M1344.5 886.5v-13.4M1345.5 886.5v-2.2M1346.5 886.5v-3.5M1347.5 886.5v-8.6M1348.5 886.5v-6.7M1349.5 886.5v-22.8M1350.5 886.5v-10.1M1351.5 886.5v-16.9M1352.5 886.5v-2.1M1353.5 886.5v-4.2M1354.5 886.5v-7.5M1355.5 886.5v-13M1356.5 886.5v-3.4M1358.5 886.5v-4.7M1359.5 886.5v-15M1360.5 886.5v-3.5M1361.5 886.5v-3.7M1362.5 886.5v-3.4M1363.5 886.5v-2.2M1364.5 886.5v-3.3M1365.5 886.5v-5.9M1366.5 886.5v-2M1367.5 886.5v-7.4M1368.5 886.5v-8.2M1369.5 886.5v-1.7M1370.5 886.5v-4.8M1371.5 886.5v-11.3M1372.5 886.5v-2.3M1374.5 886.5v-3.3M1375.5 886.5v-2.4M1376.5 886.5v-18.7M1377.5 886.5v-3.3M1378.5 886.5v-28.1M1379.5 886.5v-14.5M1380.5 886.5v-2.8M1381.5 886.5v-27.5M1382.5 886.5v-6M1383.5 886.5v-9.8M1384.5 886.5v-5.3M1385.5 886.5v-5M1386.5 886.5v-2.8M1387.5 886.5v-3.4M1389.5 886.5v-3.1M1390.5 886.5v-17M1391.5 886.5v-2M1392.5 886.5v-18.7M1393.5 886.5v-17M1394.5 886.5v-5.2M1395.5 886.5v-6.1M1396.5 886.5v-13.8M1397.5 886.5v-3.3M1398.5 886.5v-15.7M1399.5 886.5v-3.4M1400.5 886.5v-9.1M1401.5 886.5v-2.1M1402.5 886.5v-1.9M1403.5 886.5v-5.6M1405.5 886.5v-1.7M1406.5 886.5v-4.5M1407.5 886.5v-7.3M1408.5 886.5v-6.2M1409.5 886.5v-6.2M1410.5 886.5v-5.1M1411.5 886.5v-5M1412.5 886.5v-14.6M1413.5 886.5v-15.7M1414.5 886.5v-3.2M1415.5 886.5v-11.9M1416.5 886.5v-10.1M1417.5 886.5v-10.1M1418.5 886.5v-11.7M1420.5 886.5v-14.7M1421.5 886.5v-12.9M1422.5 886.5v-12.4M1423.5 886.5v-15.2M1424.5 886.5v-28.1M1425.5 886.5v-8.2M1426.5 886.5v-18.3M1427.5 886.5v-11.8M1428.5 886.5v-3.6M1429.5 886.5v-3.2M1430.5 886.5v-4.9M1431.5 886.5v-3.7M1432.5 886.5v-7M1433.5 886.5v-17.6M1434.5 886.5v-28.1M1436.5 886.5v-10M1437.5 886.5v-3.2M1438.5 886.5v-4.5M1439.5 886.5v-3.6M1440.5 886.5v-3.2M1441.5 886.5v-8.3M1442.5 886.5v-7.4M1443.5 886.5v-2.8M1444.5 886.5v-23.5M1445.5 886.5v-4M1446.5 886.5v-4.7M1447.5 886.5v-2.8M1448.5 886.5v-5.5M1449.5 886.5v-5.9M1451.5 886.5v-1.7M1452.5 886.5v-0.6M1453.5 886.5v-3.1M1454.5 886.5v-1.2M1455.5 886.5v-0.9M1456.5 886.5v-0.5M1457.5 886.5v-1.7M1458.5 886.5v-0.8M1459.5 886.5v-1.9M1460.5 886.5v-1.5M1461.5 886.5v-0.5M1462.5 886.5v-1.4M1463.5 886.5v-2.8M1464.5 886.5v-0.5M1465.5 886.5v-0.6M1467.5 886.5v-1.4M1468.5 886.5v-5M1469.5 886.5v-2.7M1470.5 886.5v-0.9M1471.5 886.5v-1.6M1472.5 886.5v-1M1473.5 886.5v-1M1474.5 886.5v-2.4M1475.5 886.5v-1.5M1476.5 886.5v-3.6M1477.5 886.5v-15.7M1478.5 886.5v-3.2M1479.5 886.5v-5.7M1480.5 886.5v-3.1M1482.5 886.5v-0.9M1483.5 886.5v-2M1484.5 886.5v-1.2M1485.5 886.5v-2.2M1486.5 886.5v-3M1487.5 886.5v-1.1M1488.5 886.5v-0.5M1489.5 886.5v-2.1M1490.5 886.5v-1M1491.5 886.5v-1.1M1492.5 886.5v-2.5M1493.5 886.5v-4.5M1494.5 886.5v-6.5M1495.5 886.5v-2.9M1496.5 886.5v-6.1M1498.5 886.5v-1.8M1499.5 886.5v-2.5M1500.5 886.5v-0.9M1501.5 886.5v-8M1502.5 886.5v-1.1M1503.5 886.5v-0.6M1504.5 886.5v-0.5M1505.5 886.5v-1.1M1506.5 886.5v-3.1M1507.5 886.5v-1.9M1508.5 886.5v-1.8M1509.5 886.5v-5.6M1510.5 886.5v-2.5M1511.5 886.5v-1.7M1512.5 886.5v-2.1M1514.5 886.5v-7.2M1515.5 886.5v-3.4M1516.5 886.5v-6.6M1517.5 886.5v-2M1518.5 886.5v-27.8M1519.5 886.5v-5.3M1520.5 886.5v-6.1M1521.5 886.5v-10.5M1522.5 886.5v-6.8M1523.5 886.5v-21.2M1524.5 886.5v-4.7M1525.5 886.5v-4.6M1526.5 886.5v-2.6M1527.5 886.5v-9.9M1529.5 886.5v-2.1M1530.5 886.5v-5.2M1531.5 886.5v-6.4M1532.5 886.5v-3M1533.5 886.5v-2.2M1534.5 886.5v-3M1535.5 886.5v-2.4M1536.5 886.5v-0.7M1537.5 886.5v-0.8M1538.5 886.5v-0.4M1539.5 886.5v-0.4M1540.5 886.5v-0.8M1541.5 886.5v-1.1M1542.5 886.5v-0.6M1543.5 886.5v-0.5M1545.5 886.5v-1.2M1546.5 886.5v-5.8M1547.5 886.5v-3.7M1548.5 886.5v-2.5M1549.5 886.5v-0.5M1550.5 886.5v-2.2M1551.5 886.5v-3.5M1552.5 886.5v-3.6M1553.5 886.5v-0.7M1554.5 886.5v-4.9M1555.5 886.5v-1.4M1556.5 886.5v-2M1557.5 886.5v-2.1M1558.5 886.5v-1.7M1560.5 886.5v-6.7M1561.5 886.5v-2.9M1562.5 886.5v-1M1563.5 886.5v-1.8M1564.5 886.5v-1.4M1565.5 886.5v-2.6M1566.5 886.5v-1M1567.5 886.5v-0.8M1568.5 886.5v-0.5M1570.5 886.5v-0.3M1571.5 886.5v-0.3M1572.5 886.5v-0.3M1573.5 886.5v-3.2M1574.5 886.5v-7M1576.5 886.5v-6.3M1577.5 886.5v-4.6M1578.5 886.5v-8.4M1579.5 886.5v-1.9M1580.5 886.5v-6.6M1581.5 886.5v-12.6M1582.5 886.5v-6.8M1583.5 886.5v-10.9M1584.5 886.5v-2.9M1585.5 886.5v-5.8M1586.5 886.5v-3.3M1587.5 886.5v-7.4M1588.5 886.5v-7.8M1589.5 886.5v-1.6M1591.5 886.5v-0.5M1592.5 886.5v-1M1593.5 886.5v-2.9M1594.5 886.5v-0.3M1595.5 886.5v-0.5M1596.5 886.5v-0.5M1598.5 886.5v-0.4M1601.5 886.5v-0.5M1602.5 886.5v-1M1604.5 886.5v-0.4M1605.5 886.5v-1.8M1607.5 886.5v-0.7M1609.5 886.5v-0.6M1610.5 886.5v-0.5M1611.5 886.5v-0.8M1612.5 886.5v-0.5M1613.5 886.5v-0.3M1614.5 886.5v-0.8M1615.5 886.5v-0.6M1616.5 886.5v-0.4M1617.5 886.5v-0.8M1618.5 886.5v-0.7M1619.5 886.5v-0.5M1620.5 886.5v-0.7M1622.5 886.5v-0.3M1623.5 886.5v-1.3M1624.5 886.5v-1.1M1625.5 886.5v-1.2M1626.5 886.5v-5.1M1627.5 886.5v-1.2M1628.5 886.5v-5.9M1629.5 886.5v-1.8M1630.5 886.5v-4.3M1631.5 886.5v-2.6M1632.5 886.5v-2M1633.5 886.5v-18.5M1634.5 886.5v-4.7M1635.5 886.5v-5.7M1636.5 886.5v-2.2M1638.5 886.5v-3.7M1639.5 886.5v-16.1M1640.5 886.5v-1.3M1641.5 886.5v-2.1M1642.5 886.5v-2.8M1643.5 886.5v-5.6M1644.5 886.5v-9.6M1645.5 886.5v-5.1M1646.5 886.5v-4.9M1647.5 886.5v-3.8M1648.5 886.5v-2.9M1649.5 886.5v-1.7M1650.5 886.5v-6.9M1651.5 886.5v-1.7M1653.5 886.5v-0.6M1654.5 886.5v-3.4M1655.5 886.5v-1.9M1656.5 886.5v-4.2M1657.5 886.5v-0.9M1658.5 886.5v-0.7M1659.5 886.5v-2.2M1660.5 886.5v-2.1M1661.5 886.5v-1M1662.5 886.5v-1.7M1663.5 886.5v-0.9M1664.5 886.5v-2.1M1665.5 886.5v-1.1M1666.5 886.5v-1.3M1667.5 886.5v-0.8M1669.5 886.5v-0.5M1670.5 886.5v-0.7M1671.5 886.5v-1.1M1672.5 886.5v-0.7M1673.5 886.5v-0.5M1674.5 886.5v-1.4M1675.5 886.5v-0.7M1676.5 886.5v-1.5M1677.5 886.5v-3.9M1678.5 886.5v-4.1M1679.5 886.5v-7M1680.5 886.5v-2.2M1681.5 886.5v-3.7M1682.5 886.5v-5.5M1684.5 886.5v-3.1M1685.5 886.5v-1.9M1686.5 886.5v-5.7M1687.5 886.5v-7.2M1688.5 886.5v-0.8M1689.5 886.5v-2.6M1690.5 886.5v-2.4M1691.5 886.5v-8M1692.5 886.5v-7.1M1693.5 886.5v-2.7M1694.5 886.5v-1.6M1695.5 886.5v-23.6M1696.5 886.5v-5.2M1697.5 886.5v-4.5M1698.5 886.5v-9M1700.5 886.5v-3.8M1701.5 886.5v-13.5M1702.5 886.5v-2.1M1703.5 886.5v-7M1704.5 886.5v-12.3M1705.5 886.5v-5.4M1706.5 886.5v-7.6M1707.5 886.5v-9M1708.5 886.5v-16.6M1709.5 886.5v-16M1710.5 886.5v-17M1711.5 886.5v-8.2M1712.5 886.5v-5.5M1713.5 886.5v-8.4M1715.5 886.5v-5.6M1716.5 886.5v-21.6M1717.5 886.5v-3.8M1718.5 886.5v-2.5M1719.5 886.5v-5.5M1720.5 886.5v-4M1721.5 886.5v-23.3M1722.5 886.5v-3.1M1723.5 886.5v-3.5M1724.5 886.5v-11.7M1725.5 886.5v-7.2M1726.5 886.5v-8.4M1727.5 886.5v-3.6M1728.5 886.5v-15.9M1729.5 886.5v-9.3M1731.5 886.5v-7.7M1732.5 886.5v-28.1M1733.5 886.5v-3.4M1734.5 886.5v-18.2M1735.5 886.5v-11.2M1736.5 886.5v-2.3M1737.5 886.5v-6.7M1738.5 886.5v-2.7M1739.5 886.5v-5.7M1740.5 886.5v-9.3M1741.5 886.5v-1.3M1742.5 886.5v-2.2M1743.5 886.5v-1.3M1744.5 886.5v-11.8M1746.5 886.5v-4.2M1747.5 886.5v-6.7M1748.5 886.5v-3.9M1749.5 886.5v-3.9M1750.5 886.5v-1.9M1751.5 886.5v-0.7M1752.5 886.5v-1.2M1753.5 886.5v-1.2M1754.5 886.5v-1.3M1755.5 886.5v-2.3M1756.5 886.5v-1M1757.5 886.5v-0.6" fill="none" stroke="#f5a02a" stroke-width="1.0"/>
<line x1="1009.6" y1="886.1" x2="1757.8" y2="886.1" stroke="#f5a02a" stroke-width="2.2"/>
<line x1="1004.6" y1="856" x2="1004.6" y2="886.5" stroke="#000" stroke-width="1.2"/>
<line x1="1003" y1="856" x2="1004.6" y2="856" stroke="#000" stroke-width="1.2"/>
<line x1="1003" y1="886.5" x2="1004.6" y2="886.5" stroke="#000" stroke-width="1.2"/>
<text x="1001.2" y="861.2" font-size="8.8" text-anchor="end" stroke="#000" stroke-width="0.21" textLength="10.2" lengthAdjust="spacingAndGlyphs">15</text>
<text x="1001.2" y="887.7" font-size="8.8" text-anchor="end" stroke="#000" stroke-width="0.21" textLength="5" lengthAdjust="spacingAndGlyphs">0</text>
<text x="984.5" y="877.9" font-size="17.5" text-anchor="end" stroke="#000" stroke-width="0.41" textLength="75.7" lengthAdjust="spacingAndGlyphs">H3K4me1</text>
<rect x="1008" y="888.3" width="3.2" height="2.8" fill="#000"/>
<text x="1009.6" y="900.9" font-size="9.2" text-anchor="middle" stroke="#000" stroke-width="0.21" textLength="5.3" lengthAdjust="spacingAndGlyphs">0</text>
<rect x="1195.1" y="888.3" width="3.2" height="2.8" fill="#000"/>
<text x="1196.7" y="900.9" font-size="9.2" text-anchor="middle" stroke="#000" stroke-width="0.21" textLength="16" lengthAdjust="spacingAndGlyphs">250</text>
<rect x="1382.1" y="888.3" width="3.2" height="2.8" fill="#000"/>
<text x="1383.7" y="900.9" font-size="9.2" text-anchor="middle" stroke="#000" stroke-width="0.21" textLength="16" lengthAdjust="spacingAndGlyphs">500</text>
<rect x="1569.2" y="888.3" width="3.2" height="2.8" fill="#000"/>
<text x="1570.8" y="900.9" font-size="9.2" text-anchor="middle" stroke="#000" stroke-width="0.21" textLength="16" lengthAdjust="spacingAndGlyphs">750</text>
<rect x="1756.2" y="888.3" width="3.2" height="2.8" fill="#000"/>
<text x="1757.8" y="900.9" font-size="9.2" text-anchor="middle" stroke="#000" stroke-width="0.21" textLength="21.4" lengthAdjust="spacingAndGlyphs">1000</text>
<path d="M1010.5 944v-1.1M1011.5 944v-0.6M1012.5 944v-0.8M1013.5 944v-2.6M1014.5 944v-3.4M1015.5 944v-0.7M1017.5 944v-5.7M1018.5 944v-26M1019.5 944v-4.7M1020.5 944v-7.1M1021.5 944v-4.1M1022.5 944v-2.8M1023.5 944v-5.6M1024.5 944v-7.6M1025.5 944v-7.1M1026.5 944v-8.6M1027.5 944v-4.1M1028.5 944v-25.5M1029.5 944v-8.2M1030.5 944v-3.3M1032.5 944v-7.7M1033.5 944v-19.2M1034.5 944v-5.4M1035.5 944v-3.3M1036.5 944v-10.2M1037.5 944v-6.3M1038.5 944v-6.5M1039.5 944v-9.6M1040.5 944v-6M1041.5 944v-20.3M1042.5 944v-2.6M1043.5 944v-7.3M1044.5 944v-12.8M1045.5 944v-13.7M1046.5 944v-8.4M1048.5 944v-14.9M1049.5 944v-16.5M1050.5 944v-2.3M1051.5 944v-15.9M1052.5 944v-5.8M1053.5 944v-1.2M1054.5 944v-5.9M1055.5 944v-3.5M1056.5 944v-2.3M1057.5 944v-23.7M1058.5 944v-1.3M1059.5 944v-1.1M1060.5 944v-0.8M1061.5 944v-2.8M1063.5 944v-1.3M1064.5 944v-0.6M1065.5 944v-1.3M1066.5 944v-4.4M1067.5 944v-2.9M1068.5 944v-0.9M1069.5 944v-6.4M1070.5 944v-2.1M1071.5 944v-23.3M1072.5 944v-11.1M1073.5 944v-10.1M1074.5 944v-1.3M1075.5 944v-22.9M1076.5 944v-5.2M1077.5 944v-4.1M1079.5 944v-8M1080.5 944v-5.8M1081.5 944v-4.2M1082.5 944v-18.7M1083.5 944v-7.5M1084.5 944v-26.1M1085.5 944v-2.5M1086.5 944v-5.4M1087.5 944v-4.5M1088.5 944v-3.5M1089.5 944v-2.7M1090.5 944v-0.9M1091.5 944v-3.3M1092.5 944v-1.5M1094.5 944v-1.3M1095.5 944v-0.5M1096.5 944v-0.9M1097.5 944v-6.5M1098.5 944v-0.8M1099.5 944v-1.6M1100.5 944v-0.6M1101.5 944v-2.8M1102.5 944v-1.5M1103.5 944v-2.1M1104.5 944v-3.3M1105.5 944v-3.5M1106.5 944v-3.3M1107.5 944v-15.1M1108.5 944v-13.9M1110.5 944v-3.9M1111.5 944v-21.5M1112.5 944v-13.6M1113.5 944v-1.2M1114.5 944v-3M1115.5 944v-1.2M1116.5 944v-2.1M1117.5 944v-3.7M1118.5 944v-19M1119.5 944v-0.9M1120.5 944v-1.8M1121.5 944v-0.9M1122.5 944v-0.7M1123.5 944v-8.4M1125.5 944v-1.7M1126.5 944v-1M1127.5 944v-1M1128.5 944v-1.2M1129.5 944v-7M1130.5 944v-7.7M1131.5 944v-0.9M1132.5 944v-3.2M1133.5 944v-19.2M1134.5 944v-1.9M1135.5 944v-0.5M1137.5 944v-0.3M1139.5 944v-0.6M1144.5 944v-0.3M1146.5 944v-0.6M1149.5 944v-0.3M1150.5 944v-0.3M1152.5 944v-1M1158.5 944v-0.7M1161.5 944v-0.6M1163.5 944v-0.3M1169.5 944v-0.6M1174.5 944v-0.4M1175.5 944v-0.3M1176.5 944v-0.3M1177.5 944v-0.6M1178.5 944v-0.7M1179.5 944v-0.3M1180.5 944v-0.3M1181.5 944v-1.4M1183.5 944v-0.4M1185.5 944v-24.2M1186.5 944v-0.3M1188.5 944v-0.6M1189.5 944v-0.7M1190.5 944v-1.2M1191.5 944v-0.4M1192.5 944v-1.1M1193.5 944v-4.7M1194.5 944v-0.5M1195.5 944v-2.6M1196.5 944v-2.9M1197.5 944v-2.2M1198.5 944v-3.7M1199.5 944v-5.9M1200.5 944v-1.1M1201.5 944v-1.7M1203.5 944v-2.1M1204.5 944v-0.8M1205.5 944v-1M1206.5 944v-2.5M1207.5 944v-3.8M1208.5 944v-14.5M1209.5 944v-1.4M1210.5 944v-2.5M1211.5 944v-0.9M1212.5 944v-1.3M1213.5 944v-0.4M1214.5 944v-1.8M1215.5 944v-0.9M1216.5 944v-1.3M1217.5 944v-2.6M1219.5 944v-4.5M1220.5 944v-0.6M1221.5 944v-2.2M1222.5 944v-0.9M1223.5 944v-1.2M1224.5 944v-2.3M1225.5 944v-4.9M1226.5 944v-0.7M1227.5 944v-1.8M1228.5 944v-0.4M1229.5 944v-0.5M1230.5 944v-2.8M1231.5 944v-1.9M1232.5 944v-1.2M1234.5 944v-2.8M1235.5 944v-1M1236.5 944v-6M1237.5 944v-1.6M1238.5 944v-2.6M1239.5 944v-2.5M1240.5 944v-3.8M1241.5 944v-1.8M1242.5 944v-2.9M1243.5 944v-16.3M1244.5 944v-2.8M1245.5 944v-7.7M1246.5 944v-5.4M1247.5 944v-2.1M1248.5 944v-2.1M1250.5 944v-2.1M1251.5 944v-1.4M1252.5 944v-5.5M1253.5 944v-7.8M1254.5 944v-22.4M1255.5 944v-2.3M1256.5 944v-3.4M1257.5 944v-1.6M1258.5 944v-4.5M1259.5 944v-2.5M1260.5 944v-1.6M1261.5 944v-1.7M1262.5 944v-0.5M1263.5 944v-0.6M1266.5 944v-0.7M1267.5 944v-0.5M1290.5 944v-0.5M1291.5 944v-0.4M1293.5 944v-0.4M1294.5 944v-0.3M1297.5 944v-0.5M1299.5 944v-0.4M1300.5 944v-0.3M1302.5 944v-0.3M1306.5 944v-0.4M1307.5 944v-0.5M1308.5 944v-0.4M1309.5 944v-1.3M1310.5 944v-0.6M1312.5 944v-3.7M1313.5 944v-0.9M1314.5 944v-2M1315.5 944v-3.5M1316.5 944v-4M1317.5 944v-1.5M1318.5 944v-1.6M1319.5 944v-4.7M1320.5 944v-7.2M1321.5 944v-3.3M1322.5 944v-8.1M1323.5 944v-10.2M1324.5 944v-8.5M1325.5 944v-23M1327.5 944v-14.2M1328.5 944v-2.9M1329.5 944v-2.6M1330.5 944v-5.4M1331.5 944v-2.2M1332.5 944v-2.4M1333.5 944v-13M1334.5 944v-3.5M1335.5 944v-1.4M1336.5 944v-7.3M1337.5 944v-6.7M1338.5 944v-1.4M1339.5 944v-2.8M1340.5 944v-15.1M1341.5 944v-2.7M1343.5 944v-5.3M1344.5 944v-2.2M1345.5 944v-8.2M1346.5 944v-16M1347.5 944v-22.3M1348.5 944v-2.4M1349.5 944v-7.1M1350.5 944v-4.6M1351.5 944v-9.7M1352.5 944v-4.1M1353.5 944v-4.8M1354.5 944v-3.4M1355.5 944v-7.6M1356.5 944v-4.6M1358.5 944v-5.9M1359.5 944v-7.8M1360.5 944v-5.4M1361.5 944v-24M1362.5 944v-5.8M1363.5 944v-3.7M1364.5 944v-4.3M1365.5 944v-17.1M1366.5 944v-8.2M1367.5 944v-22.3M1368.5 944v-13.5M1369.5 944v-18.9M1370.5 944v-2.8M1371.5 944v-23.7M1372.5 944v-2M1374.5 944v-4.4M1375.5 944v-12.5M1376.5 944v-5.5M1377.5 944v-3.5M1378.5 944v-2.3M1379.5 944v-18.2M1380.5 944v-3.9M1381.5 944v-21.5M1382.5 944v-2.3M1383.5 944v-17.8M1384.5 944v-24.1M1385.5 944v-16.1M1386.5 944v-20.2M1387.5 944v-2.7M1389.5 944v-2.8M1390.5 944v-9.4M1391.5 944v-5.7M1392.5 944v-4.5M1393.5 944v-9.9M1394.5 944v-5.5M1395.5 944v-2.4M1396.5 944v-6.3M1397.5 944v-5.4M1398.5 944v-28.1M1399.5 944v-2.3M1400.5 944v-4.3M1401.5 944v-5.4M1402.5 944v-17.8M1403.5 944v-7M1405.5 944v-2.4M1406.5 944v-28.1M1407.5 944v-7.1M1408.5 944v-20.8M1409.5 944v-2.7M1410.5 944v-8.1M1411.5 944v-7.5M1412.5 944v-28.1M1413.5 944v-28.1M1414.5 944v-5.3M1415.5 944v-13.9M1416.5 944v-26.7M1417.5 944v-20.6M1418.5 944v-27.7M1420.5 944v-28.1M1421.5 944v-13M1422.5 944v-19.9M1423.5 944v-3.8M1424.5 944v-10.2M1425.5 944v-16.4M1426.5 944v-11.2M1427.5 944v-28.1M1428.5 944v-2.9M1429.5 944v-15.1M1430.5 944v-3.1M1431.5 944v-3.4M1432.5 944v-14.2M1433.5 944v-6.1M1434.5 944v-22.1M1436.5 944v-2.7M1437.5 944v-2.4M1438.5 944v-5.3M1439.5 944v-8.4M1440.5 944v-9.7M1441.5 944v-9.6M1442.5 944v-9M1443.5 944v-5.4M1444.5 944v-3.2M1445.5 944v-2.5M1446.5 944v-1M1447.5 944v-0.8M1448.5 944v-3.3M1449.5 944v-4M1451.5 944v-2.5M1452.5 944v-3M1453.5 944v-1.2M1454.5 944v-0.7M1455.5 944v-1.3M1456.5 944v-3.5M1457.5 944v-0.9M1458.5 944v-1.9M1459.5 944v-0.5M1460.5 944v-1.8M1461.5 944v-1.8M1462.5 944v-0.6M1463.5 944v-1.4M1464.5 944v-0.5M1465.5 944v-0.9M1467.5 944v-3.7M1468.5 944v-1M1469.5 944v-0.7M1470.5 944v-0.3M1471.5 944v-0.6M1472.5 944v-0.3M1473.5 944v-0.4M1474.5 944v-0.4M1475.5 944v-0.3M1477.5 944v-0.6M1478.5 944v-2.8M1479.5 944v-3.5M1480.5 944v-0.4M1482.5 944v-0.4M1484.5 944v-1.1M1485.5 944v-0.3M1486.5 944v-0.5M1490.5 944v-0.5M1492.5 944v-1.2M1493.5 944v-0.7M1494.5 944v-5M1495.5 944v-0.8M1496.5 944v-1.7M1498.5 944v-1.3M1499.5 944v-0.9M1500.5 944v-1.6M1501.5 944v-0.9M1502.5 944v-5.2M1503.5 944v-4.2M1504.5 944v-1.2M1505.5 944v-1.3M1506.5 944v-6M1507.5 944v-1.3M1508.5 944v-0.9M1509.5 944v-0.9M1510.5 944v-0.8M1511.5 944v-3.5M1512.5 944v-4.1M1514.5 944v-0.7M1515.5 944v-0.7M1516.5 944v-2.5M1517.5 944v-3.4M1518.5 944v-19.7M1519.5 944v-1.4M1520.5 944v-1.2M1521.5 944v-3.7M1522.5 944v-2M1523.5 944v-23.1M1524.5 944v-2.3M1525.5 944v-5.9M1526.5 944v-1.9M1527.5 944v-0.9M1529.5 944v-3.6M1530.5 944v-4.8M1531.5 944v-4.7M1532.5 944v-1.2M1533.5 944v-0.5M1534.5 944v-0.3M1535.5 944v-0.6M1536.5 944v-1M1537.5 944v-0.4M1538.5 944v-1.6M1539.5 944v-1.2M1540.5 944v-1.4M1541.5 944v-2.8M1542.5 944v-0.7M1543.5 944v-1.2M1545.5 944v-4.8M1546.5 944v-6.6M1547.5 944v-2.4M1548.5 944v-0.9M1549.5 944v-1.4M1550.5 944v-6.7M1551.5 944v-2.1M1552.5 944v-2.1M1553.5 944v-1.4M1554.5 944v-4.7M1555.5 944v-1.1M1556.5 944v-1.4M1557.5 944v-1.7M1558.5 944v-0.4M1560.5 944v-2.3M1561.5 944v-0.5M1562.5 944v-0.7M1563.5 944v-1.2M1564.5 944v-1.7M1565.5 944v-1.1M1566.5 944v-4.8M1567.5 944v-0.8M1568.5 944v-1.1M1569.5 944v-1.5M1570.5 944v-3.7M1571.5 944v-1.1M1572.5 944v-1.9M1573.5 944v-4.3M1574.5 944v-3.2M1576.5 944v-12M1577.5 944v-10.7M1578.5 944v-22.1M1579.5 944v-4.6M1580.5 944v-3.5M1581.5 944v-8.7M1582.5 944v-19.5M1583.5 944v-8.2M1584.5 944v-8.4M1585.5 944v-6.5M1586.5 944v-11.3M1587.5 944v-22.3M1588.5 944v-11M1589.5 944v-2.7M1591.5 944v-1.5M1592.5 944v-4.5M1593.5 944v-1M1594.5 944v-6.7M1595.5 944v-3.6M1596.5 944v-4.1M1597.5 944v-1M1598.5 944v-0.5M1599.5 944v-0.9M1600.5 944v-3M1601.5 944v-0.5M1602.5 944v-1.3M1603.5 944v-21.3M1604.5 944v-0.7M1605.5 944v-0.5M1607.5 944v-0.5M1608.5 944v-18.3M1609.5 944v-0.3M1610.5 944v-1.5M1612.5 944v-23.9M1613.5 944v-0.5M1614.5 944v-0.5M1616.5 944v-0.3M1617.5 944v-0.4M1618.5 944v-0.6M1619.5 944v-0.3M1620.5 944v-0.6M1622.5 944v-0.5M1628.5 944v-0.4M1635.5 944v-0.5M1638.5 944v-0.8M1639.5 944v-0.6M1640.5 944v-0.3M1641.5 944v-0.6M1642.5 944v-0.3M1643.5 944v-0.4M1644.5 944v-0.9M1645.5 944v-0.9M1646.5 944v-4.4M1647.5 944v-2.1M1648.5 944v-1.5M1649.5 944v-1.2M1650.5 944v-25.5M1651.5 944v-2.6M1653.5 944v-16.4M1654.5 944v-0.4M1655.5 944v-2.7M1657.5 944v-0.4M1659.5 944v-0.9M1661.5 944v-0.7M1663.5 944v-0.3M1665.5 944v-0.3M1666.5 944v-0.5M1672.5 944v-0.3M1676.5 944v-1.1M1677.5 944v-0.8M1678.5 944v-1.8M1679.5 944v-4M1680.5 944v-1.6M1681.5 944v-1.1M1682.5 944v-2M1684.5 944v-1.2M1685.5 944v-3.3M1686.5 944v-0.6M1687.5 944v-1.1M1688.5 944v-1.3M1689.5 944v-6.3M1690.5 944v-0.8M1691.5 944v-3M1692.5 944v-6.2M1693.5 944v-1.7M1694.5 944v-0.6M1695.5 944v-4.1M1696.5 944v-1.1M1697.5 944v-7.8M1698.5 944v-11.6M1700.5 944v-0.8M1701.5 944v-1.7M1702.5 944v-0.7M1703.5 944v-4.2M1704.5 944v-6.2M1705.5 944v-8.6M1706.5 944v-0.8M1707.5 944v-1.6M1708.5 944v-1.6M1709.5 944v-5.9M1710.5 944v-1.7M1711.5 944v-6.7M1712.5 944v-2.8M1713.5 944v-2.4M1715.5 944v-7.3M1716.5 944v-3.3M1717.5 944v-3.1M1718.5 944v-13M1719.5 944v-7.7M1720.5 944v-2.9M1721.5 944v-2.7M1722.5 944v-23.9M1723.5 944v-4.6M1724.5 944v-12.1M1725.5 944v-2.3M1726.5 944v-6.5M1727.5 944v-5.4M1728.5 944v-4.9M1729.5 944v-6.9M1731.5 944v-4.3M1732.5 944v-3.9M1733.5 944v-1.6M1734.5 944v-8.8M1735.5 944v-7.4M1736.5 944v-2.2M1737.5 944v-3.9M1738.5 944v-1.2M1739.5 944v-1.4M1740.5 944v-1.5M1741.5 944v-1.7M1742.5 944v-1.3M1743.5 944v-2.3M1744.5 944v-5.7M1746.5 944v-2.1M1747.5 944v-2.5M1748.5 944v-11.5M1749.5 944v-6.2M1750.5 944v-3.9M1751.5 944v-7.4M1752.5 944v-2.5M1753.5 944v-4.2M1754.5 944v-2.5M1755.5 944v-18.1M1756.5 944v-24.2M1757.5 944v-1.5" fill="none" stroke="#000" stroke-width="1.0"/>
<line x1="1009.6" y1="943.7" x2="1757.8" y2="943.7" stroke="#000" stroke-width="1.8"/>
<line x1="1004.6" y1="914.9" x2="1004.6" y2="944" stroke="#000" stroke-width="1.2"/>
<line x1="1003" y1="914.9" x2="1004.6" y2="914.9" stroke="#000" stroke-width="1.2"/>
<line x1="1003" y1="944" x2="1004.6" y2="944" stroke="#000" stroke-width="1.2"/>
<text x="1001.2" y="920.1" font-size="8.8" text-anchor="end" stroke="#000" stroke-width="0.21" textLength="10.2" lengthAdjust="spacingAndGlyphs">15</text>
<text x="1001.2" y="945.2" font-size="8.8" text-anchor="end" stroke="#000" stroke-width="0.21" textLength="5" lengthAdjust="spacingAndGlyphs">0</text>
<text x="984.5" y="936.4" font-size="17.5" text-anchor="end" stroke="#000" stroke-width="0.41" textLength="71.7" lengthAdjust="spacingAndGlyphs">ATAC-seq</text>
<rect x="1008" y="945.8" width="3.2" height="2.8" fill="#000"/>
<text x="1009.6" y="958.2" font-size="9.2" text-anchor="middle" stroke="#000" stroke-width="0.21" textLength="5.3" lengthAdjust="spacingAndGlyphs">0</text>
<rect x="1195.1" y="945.8" width="3.2" height="2.8" fill="#000"/>
<text x="1196.7" y="958.2" font-size="9.2" text-anchor="middle" stroke="#000" stroke-width="0.21" textLength="16" lengthAdjust="spacingAndGlyphs">250</text>
<rect x="1382.1" y="945.8" width="3.2" height="2.8" fill="#000"/>
<text x="1383.7" y="958.2" font-size="9.2" text-anchor="middle" stroke="#000" stroke-width="0.21" textLength="16" lengthAdjust="spacingAndGlyphs">500</text>
<rect x="1569.2" y="945.8" width="3.2" height="2.8" fill="#000"/>
<text x="1570.8" y="958.2" font-size="9.2" text-anchor="middle" stroke="#000" stroke-width="0.21" textLength="16" lengthAdjust="spacingAndGlyphs">750</text>
<rect x="1756.2" y="945.8" width="3.2" height="2.8" fill="#000"/>
<text x="1757.8" y="958.2" font-size="9.2" text-anchor="middle" stroke="#000" stroke-width="0.21" textLength="21.4" lengthAdjust="spacingAndGlyphs">1000</text>
<line x1="1009.6" y1="986.8" x2="1757.8" y2="986.8" stroke="#4540a3" stroke-width="1.3"/>
<path d="M1048.5 986.8V988.8H1050V988.6H1051.5V988.6H1053V986.8ZM1088.9 986.8V990.7H1090.4V989.5H1091.9V989.9H1093.4V989.1H1094.9V986.8ZM1100.9 986.8V988.9H1102.4V988.6H1103.9V986.8ZM1108.4 986.8V996.6H1109.9V995.8H1111.4V996.9H1112.9V995.1H1114.3V986.8ZM1127.8 986.8V997H1129.3V996.6H1130.8V996.9H1132.3V996H1133.8V995.3H1135.3V994.1H1136.8V995.3H1138.3V996.5H1139.8V996.4H1141.3V996.7H1142.8V996.7H1144.3V996.5H1145.8V997.5H1147.3V997.3H1148.8V998.5H1150.3V998.6H1151.8V998.6H1153.3V998.6H1154.8V996.6H1156.2V996.3H1157.7V997.6H1159.2V997.4H1160.7V996.4H1162.2V995.3H1163.7V997.4H1165.2V997.3H1166.7V998.6H1168.2V998.6H1169.7V998.1H1171.2V998.6H1172.7V998.3H1174.2V998.2H1175.7V998.6H1177.2V998.6H1178.7V998.6H1180.2V998.6H1181.7V998.6H1183.2V998.6H1184.7V998.4H1186.2V998.6H1187.7V998.5H1189.2V998.6H1190.7V998.4H1192.2V997.2H1193.7V996.9H1195.2V986.8ZM1202.6 986.8V998.2H1204.1V998.6H1205.6V986.8ZM1210.1 986.8V995.6H1211.6V994.2H1213.1V992.7H1214.6V986.8ZM1217.6 986.8V997.2H1219.1V998.6H1220.6V998.6H1222.1V998.5H1223.6V998H1225.1V996.7H1226.6V995.3H1228.1V994.8H1229.6V997.4H1231.1V997.7H1232.6V997.9H1234.1V998H1235.6V997.4H1237.1V997H1238.5V997.4H1240V998.3H1241.5V986.8ZM1255 986.8V998.6H1256.5V998.6H1258V998.6H1259.5V998.5H1261V998.6H1262.5V998.6H1264V997.8H1265.5V998.4H1267V986.8ZM1287.9 986.8V997.2H1289.4V997.5H1290.9V998.1H1292.4V996.5H1293.9V997.5H1295.4V997.7H1296.9V996.7H1298.4V997.5H1299.9V998.4H1301.4V998.6H1302.9V998.6H1304.4V998.5H1305.9V998.6H1307.4V998.6H1308.9V986.8ZM1311.9 986.8V997.4H1313.4V995.3H1314.9V994.6H1316.4V995.4H1317.9V997.1H1319.4V996.9H1320.9V997.6H1322.3V997.2H1323.8V998H1325.3V986.8ZM1328.3 986.8V994.6H1329.8V994.5H1331.3V995.6H1332.8V995.5H1334.3V995.5H1335.8V986.8ZM1338.8 986.8V997.8H1340.3V998.6H1341.8V998.1H1343.3V996.8H1344.8V997.1H1346.3V998H1347.8V998.4H1349.3V986.8ZM1443.6 986.8V998.6H1445.1V998.6H1446.5V998.6H1448V997.9H1449.5V997.4H1451V998.6H1452.5V996.7H1454V998.3H1455.5V998.2H1457V998.5H1458.5V996.8H1460V997H1461.5V997.2H1463V998.1H1464.5V998.2H1466V998.5H1467.5V998.6H1469V998.6H1470.5V998.6H1472V998.6H1473.5V998.6H1475V998H1476.5V986.8ZM1479.5 986.8V998.6H1481V998.4H1482.5V998.6H1484V998.2H1485.5V998.6H1487V997.3H1488.4V997.8H1489.9V995.2H1491.4V986.8ZM1498.9 986.8V996.4H1500.4V994.6H1501.9V995.6H1503.4V986.8ZM1507.9 986.8V994.3H1509.4V993.1H1510.9V993.6H1512.4V986.8ZM1530.3 986.8V995.6H1531.8V997.1H1533.3V996.4H1534.8V996.9H1536.3V995.9H1537.8V995.6H1539.3V997H1540.8V996.5H1542.3V998.4H1543.8V986.8ZM1548.3 986.8V998.6H1549.8V998H1551.3V998.6H1552.8V998.6H1554.3V998.6H1555.8V997.6H1557.3V997.2H1558.8V997H1560.3V998.1H1561.8V996.1H1563.3V995.6H1564.8V996.2H1566.3V997.3H1567.8V996.6H1569.3V995.5H1570.8V997.5H1572.2V996.2H1573.7V986.8ZM1585.7 986.8V997.8H1587.2V998.6H1588.7V998.6H1590.2V998.6H1591.7V998.6H1593.2V998.6H1594.7V998.2H1596.2V998.6H1597.7V997.6H1599.2V998.4H1600.7V996.3H1602.2V997.5H1603.7V996.6H1605.2V995.5H1606.7V996.1H1608.2V997.3H1609.7V995.9H1611.2V995.2H1612.6V996.4H1614.1V998.1H1615.6V998.5H1617.1V998.6H1618.6V998.6H1620.1V998.6H1621.6V998.6H1623.1V997.4H1624.6V995.4H1626.1V996.3H1627.6V998.1H1629.1V998.5H1630.6V998.6H1632.1V997.8H1633.6V998.2H1635.1V998.1H1636.6V997.9H1638.1V998.2H1639.6V998.6H1641.1V997.8H1642.6V997.4H1644.1V997.3H1645.6V996.1H1647.1V997.4H1648.6V998.6H1650.1V996.4H1651.6V996.7H1653.1V995.3H1654.5V997.5H1656V997.9H1657.5V996.8H1659V997.6H1660.5V996.2H1662V998H1663.5V997.6H1665V996.7H1666.5V998.6H1668V998.6H1669.5V998.5H1671V997H1672.5V996.8H1674V996.3H1675.5V986.8ZM1684.5 986.8V995.7H1686V993.3H1687.5V993.9H1689V995.2H1690.5V996.4H1692V994.4H1693.5V996.8H1695V986.8ZM1732.4 986.8V996.5H1733.9V998.6H1735.4V998.6H1736.9V997.8H1738.3V998.6H1739.8V997.5H1741.3V998.6H1742.8V997.6H1744.3V986.8ZM1748.8 986.8V997.5H1750.3V997.6H1751.8V995.1H1753.3V997H1754.8V997.7H1756.3V996.7H1757.8V986.8Z" fill="#4540a3" stroke="#4540a3" stroke-width="3.4" stroke-linejoin="round"/>
<path d="M1009.6 986.8V978.1H1011.1V977.1H1012.6V977.2H1014.1V976.5H1015.6V975.4H1017.1V977.3H1018.6V976.2H1020.1V977.1H1021.6V977.1H1023.1V978.1H1024.6V977H1026.1V977H1027.6V976.9H1029.1V975.5H1030.5V975.8H1032V975H1033.5V975H1035V975H1036.5V975.4H1038V975H1039.5V975H1041V975H1042.5V975H1044V976.5H1045.5V976H1047V976H1048.5V986.8ZM1053 986.8V979H1054.5V980.4H1056V979.3H1057.5V977.1H1059V976.9H1060.5V978.4H1062V977H1063.5V977.8H1065V978.3H1066.5V976.1H1068V976H1069.5V979.1H1071V978.7H1072.4V979.4H1073.9V979.8H1075.4V978.8H1076.9V979.6H1078.4V981.8H1079.9V980.8H1081.4V979.3H1082.9V980H1084.4V980.6H1085.9V979.7H1087.4V979.3H1088.9V986.8ZM1094.9 986.8V980.5H1096.4V981.5H1097.9V981.1H1099.4V982.2H1100.9V986.8ZM1103.9 986.8V980.9H1105.4V980.1H1106.9V979.9H1108.4V986.8ZM1114.3 986.8V980.4H1115.8V979.7H1117.3V981H1118.8V980H1120.3V979.7H1121.8V981.8H1123.3V982.8H1124.8V982.4H1126.3V982.8H1127.8V986.8ZM1195.2 986.8V980.3H1196.7V979.3H1198.1V979.3H1199.6V980.4H1201.1V980.7H1202.6V986.8ZM1205.6 986.8V981.6H1207.1V981.3H1208.6V982.6H1210.1V986.8ZM1214.6 986.8V982.8H1216.1V983.2H1217.6V986.8ZM1241.5 986.8V980.1H1243V978.6H1244.5V977.8H1246V978.7H1247.5V977.8H1249V979.3H1250.5V979.6H1252V978.1H1253.5V977.2H1255V986.8ZM1308.9 986.8V982.5H1310.4V983.4H1311.9V986.8ZM1325.3 986.8V983.3H1326.8V984.5H1328.3V986.8ZM1335.8 986.8V983.5H1337.3V983.6H1338.8V986.8ZM1349.3 986.8V975H1350.8V977.7H1352.3V976.6H1353.8V978.8H1355.3V977.1H1356.8V978.5H1358.3V980.2H1359.8V979.9H1361.3V977.6H1362.8V977.3H1364.2V975H1365.7V975H1367.2V975.6H1368.7V975.9H1370.2V977H1371.7V977.9H1373.2V977.5H1374.7V978.3H1376.2V978.5H1377.7V976.6H1379.2V978H1380.7V978.6H1382.2V978.5H1383.7V977.4H1385.2V978.4H1386.7V976.3H1388.2V977.2H1389.7V976.8H1391.2V978.7H1392.7V977.4H1394.2V977.4H1395.7V976H1397.2V975.9H1398.7V976.9H1400.2V978.1H1401.7V975.3H1403.2V975.9H1404.6V975.4H1406.1V975H1407.6V975.1H1409.1V975H1410.6V975.2H1412.1V975.5H1413.6V976.1H1415.1V977H1416.6V977.6H1418.1V975.4H1419.6V976.7H1421.1V976.7H1422.6V976.9H1424.1V978.5H1425.6V979.6H1427.1V978.2H1428.6V977H1430.1V978H1431.6V977.1H1433.1V976.1H1434.6V975.2H1436.1V976H1437.6V977.6H1439.1V975H1440.6V975.6H1442.1V976.3H1443.6V986.8ZM1476.5 986.8V981.2H1478V981.9H1479.5V986.8ZM1491.4 986.8V981.4H1492.9V979.9H1494.4V980.8H1495.9V980.2H1497.4V981.9H1498.9V986.8ZM1503.4 986.8V980.8H1504.9V980.9H1506.4V980.5H1507.9V986.8ZM1512.4 986.8V980.6H1513.9V981.4H1515.4V981H1516.9V981H1518.4V980.7H1519.9V981.3H1521.4V981.7H1522.9V980.2H1524.4V981.1H1525.9V980.5H1527.4V980.8H1528.9V980.4H1530.3V986.8ZM1543.8 986.8V980.8H1545.3V980.4H1546.8V980.4H1548.3V986.8ZM1573.7 986.8V984H1575.2V983.6H1576.7V983.3H1578.2V983.1H1579.7V981.4H1581.2V982H1582.7V982.7H1584.2V983H1585.7V986.8ZM1675.5 986.8V982.1H1677V981.5H1678.5V981.4H1680V981.9H1681.5V981.9H1683V982.4H1684.5V986.8ZM1695 986.8V980.5H1696.4V980.3H1697.9V978.6H1699.4V980.1H1700.9V981.5H1702.4V980.8H1703.9V982.3H1705.4V982.1H1706.9V981.5H1708.4V981.2H1709.9V981.8H1711.4V981.1H1712.9V980.9H1714.4V981.1H1715.9V981.4H1717.4V981H1718.9V980.7H1720.4V982.1H1721.9V980.9H1723.4V979.9H1724.9V979.9H1726.4V981H1727.9V981H1729.4V982.2H1730.9V981.2H1732.4V986.8ZM1744.3 986.8V980.9H1745.8V982.2H1747.3V983.4H1748.8V986.8Z" fill="#df2d26" stroke="#df2d26" stroke-width="3.4" stroke-linejoin="round"/>
<line x1="1004.6" y1="970.8" x2="1004.6" y2="1001.2" stroke="#000" stroke-width="1.2"/>
<line x1="1003" y1="970.8" x2="1004.6" y2="970.8" stroke="#000" stroke-width="1.2"/>
<line x1="1003" y1="1001.2" x2="1004.6" y2="1001.2" stroke="#000" stroke-width="1.2"/>
<text x="1001.2" y="977" font-size="8.8" text-anchor="end" stroke="#000" stroke-width="0.21" textLength="3.8" lengthAdjust="spacingAndGlyphs">1</text>
<text x="1001.2" y="1003" font-size="8.8" text-anchor="end" stroke="#000" stroke-width="0.21" textLength="8" lengthAdjust="spacingAndGlyphs">-1</text>
<text x="1001.2" y="990" font-size="8.8" text-anchor="end" stroke="#000" stroke-width="0.21" textLength="5" lengthAdjust="spacingAndGlyphs">0</text>
<text x="984.5" y="992.2" font-size="17.5" text-anchor="end" stroke="#000" stroke-width="0.41" textLength="117.4" lengthAdjust="spacingAndGlyphs">Compartments</text>
<rect x="1008" y="1004" width="3.2" height="2.8" fill="#000"/>
<text x="1009.6" y="1016" font-size="9.2" text-anchor="middle" stroke="#000" stroke-width="0.21" textLength="5.3" lengthAdjust="spacingAndGlyphs">0</text>
<rect x="1195.1" y="1004" width="3.2" height="2.8" fill="#000"/>
<text x="1196.7" y="1016" font-size="9.2" text-anchor="middle" stroke="#000" stroke-width="0.21" textLength="16" lengthAdjust="spacingAndGlyphs">250</text>
<rect x="1382.1" y="1004" width="3.2" height="2.8" fill="#000"/>
<text x="1383.7" y="1016" font-size="9.2" text-anchor="middle" stroke="#000" stroke-width="0.21" textLength="16" lengthAdjust="spacingAndGlyphs">500</text>
<rect x="1569.2" y="1004" width="3.2" height="2.8" fill="#000"/>
<text x="1570.8" y="1016" font-size="9.2" text-anchor="middle" stroke="#000" stroke-width="0.21" textLength="16" lengthAdjust="spacingAndGlyphs">750</text>
<rect x="1756.2" y="1004" width="3.2" height="2.8" fill="#000"/>
<text x="1757.8" y="1016" font-size="9.2" text-anchor="middle" stroke="#000" stroke-width="0.21" textLength="21.4" lengthAdjust="spacingAndGlyphs">1000</text>
<path d="M1010.5 1058.8v-2.8M1011.5 1058.8v-1.6M1012.5 1058.8v-1.4M1013.5 1058.8v-1.6M1014.5 1058.8v-1.4M1015.5 1058.8v-11.9M1017.5 1058.8v-7M1018.5 1058.8v-1.6M1019.5 1058.8v-7M1020.5 1058.8v-1.1M1021.5 1058.8v-8.6M1022.5 1058.8v-6.6M1023.5 1058.8v-4.7M1024.5 1058.8v-2.8M1025.5 1058.8v-10.2M1026.5 1058.8v-4.2M1027.5 1058.8v-21.1M1028.5 1058.8v-6.2M1029.5 1058.8v-5.2M1030.5 1058.8v-5.4M1032.5 1058.8v-15.9M1033.5 1058.8v-28.1M1034.5 1058.8v-6.1M1035.5 1058.8v-14.1M1036.5 1058.8v-16.3M1037.5 1058.8v-7.8M1038.5 1058.8v-6M1039.5 1058.8v-28.1M1040.5 1058.8v-22.9M1041.5 1058.8v-21.9M1042.5 1058.8v-5.8M1043.5 1058.8v-11M1044.5 1058.8v-10M1045.5 1058.8v-28.1M1046.5 1058.8v-9.2M1048.5 1058.8v-24M1049.5 1058.8v-20.5M1050.5 1058.8v-2.3M1051.5 1058.8v-9.3M1052.5 1058.8v-2.4M1053.5 1058.8v-1.9M1054.5 1058.8v-9.6M1055.5 1058.8v-7.1M1056.5 1058.8v-3M1057.5 1058.8v-6.3M1058.5 1058.8v-8.6M1059.5 1058.8v-8.6M1060.5 1058.8v-11.4M1061.5 1058.8v-11.7M1063.5 1058.8v-8.8M1064.5 1058.8v-5.1M1065.5 1058.8v-14.4M1066.5 1058.8v-11M1067.5 1058.8v-3.8M1068.5 1058.8v-8.3M1069.5 1058.8v-10M1070.5 1058.8v-19.7M1071.5 1058.8v-15.3M1072.5 1058.8v-6.8M1073.5 1058.8v-1.9M1074.5 1058.8v-10.8M1075.5 1058.8v-17.5M1076.5 1058.8v-7.5M1077.5 1058.8v-5.4M1079.5 1058.8v-1M1080.5 1058.8v-0.9M1081.5 1058.8v-2M1082.5 1058.8v-4.2M1083.5 1058.8v-2.7M1084.5 1058.8v-6.8M1085.5 1058.8v-3.2M1086.5 1058.8v-1.9M1087.5 1058.8v-2.5M1088.5 1058.8v-4.1M1089.5 1058.8v-0.8M1092.5 1058.8v-1.6M1094.5 1058.8v-0.7M1096.5 1058.8v-14.2M1097.5 1058.8v-3.1M1098.5 1058.8v-0.9M1099.5 1058.8v-1.5M1100.5 1058.8v-2.6M1101.5 1058.8v-1.8M1102.5 1058.8v-4.2M1103.5 1058.8v-2.7M1104.5 1058.8v-6.3M1105.5 1058.8v-2.7M1106.5 1058.8v-8.4M1107.5 1058.8v-5.9M1108.5 1058.8v-2.2M1110.5 1058.8v-3.3M1111.5 1058.8v-2.2M1112.5 1058.8v-1.9M1113.5 1058.8v-1.7M1114.5 1058.8v-2.3M1115.5 1058.8v-3.2M1116.5 1058.8v-16.6M1117.5 1058.8v-1.3M1118.5 1058.8v-2.9M1119.5 1058.8v-6.2M1120.5 1058.8v-2.3M1121.5 1058.8v-13.4M1122.5 1058.8v-14.3M1123.5 1058.8v-3.3M1125.5 1058.8v-5M1126.5 1058.8v-4.6M1127.5 1058.8v-3.8M1128.5 1058.8v-14.2M1129.5 1058.8v-2.8M1130.5 1058.8v-1.7M1131.5 1058.8v-8.8M1132.5 1058.8v-0.8M1133.5 1058.8v-0.9M1134.5 1058.8v-0.8M1135.5 1058.8v-4.2M1136.5 1058.8v-2.4M1137.5 1058.8v-0.6M1138.5 1058.8v-3.1M1139.5 1058.8v-0.8M1141.5 1058.8v-0.5M1142.5 1058.8v-0.5M1143.5 1058.8v-0.8M1144.5 1058.8v-0.4M1145.5 1058.8v-0.9M1146.5 1058.8v-0.6M1147.5 1058.8v-0.5M1148.5 1058.8v-1M1149.5 1058.8v-0.3M1150.5 1058.8v-0.5M1151.5 1058.8v-0.3M1152.5 1058.8v-0.8M1153.5 1058.8v-0.5M1154.5 1058.8v-0.5M1159.5 1058.8v-0.4M1160.5 1058.8v-0.7M1161.5 1058.8v-19.7M1164.5 1058.8v-0.5M1165.5 1058.8v-1M1167.5 1058.8v-0.6M1169.5 1058.8v-0.8M1170.5 1058.8v-0.4M1172.5 1058.8v-0.6M1173.5 1058.8v-2.6M1175.5 1058.8v-0.4M1177.5 1058.8v-0.8M1180.5 1058.8v-1M1181.5 1058.8v-15.6M1182.5 1058.8v-1.2M1183.5 1058.8v-1M1184.5 1058.8v-1.1M1185.5 1058.8v-0.8M1188.5 1058.8v-0.6M1189.5 1058.8v-0.6M1190.5 1058.8v-0.4M1191.5 1058.8v-3M1192.5 1058.8v-1.6M1193.5 1058.8v-0.9M1194.5 1058.8v-1.6M1195.5 1058.8v-2.2M1196.5 1058.8v-3.3M1197.5 1058.8v-4.8M1198.5 1058.8v-8.3M1199.5 1058.8v-3.8M1200.5 1058.8v-6.2M1201.5 1058.8v-5M1203.5 1058.8v-5.9M1204.5 1058.8v-1.7M1205.5 1058.8v-2M1206.5 1058.8v-9.4M1207.5 1058.8v-9.3M1208.5 1058.8v-1.6M1209.5 1058.8v-13.7M1210.5 1058.8v-18.8M1211.5 1058.8v-1.7M1212.5 1058.8v-1.9M1213.5 1058.8v-0.9M1214.5 1058.8v-0.5M1215.5 1058.8v-3.4M1216.5 1058.8v-1.7M1217.5 1058.8v-1.2M1219.5 1058.8v-0.7M1220.5 1058.8v-0.6M1221.5 1058.8v-0.6M1222.5 1058.8v-1.5M1223.5 1058.8v-0.9M1224.5 1058.8v-1.6M1225.5 1058.8v-3.5M1226.5 1058.8v-0.6M1227.5 1058.8v-0.7M1228.5 1058.8v-0.6M1229.5 1058.8v-0.8M1230.5 1058.8v-2.1M1231.5 1058.8v-5.9M1232.5 1058.8v-1.4M1234.5 1058.8v-2.8M1235.5 1058.8v-1.4M1236.5 1058.8v-8.1M1237.5 1058.8v-4.6M1238.5 1058.8v-2.4M1239.5 1058.8v-14.2M1240.5 1058.8v-13M1241.5 1058.8v-15.6M1242.5 1058.8v-7.7M1243.5 1058.8v-9.4M1244.5 1058.8v-24.9M1245.5 1058.8v-20.1M1246.5 1058.8v-7.9M1247.5 1058.8v-22.3M1248.5 1058.8v-6.5M1250.5 1058.8v-19.2M1251.5 1058.8v-11.9M1252.5 1058.8v-11.1M1253.5 1058.8v-17.1M1254.5 1058.8v-5.4M1255.5 1058.8v-10.3M1256.5 1058.8v-6.1M1257.5 1058.8v-3.1M1258.5 1058.8v-22.1M1259.5 1058.8v-3.1M1260.5 1058.8v-6.2M1261.5 1058.8v-6.7M1262.5 1058.8v-6.1M1263.5 1058.8v-16.5M1265.5 1058.8v-6.8M1266.5 1058.8v-5.8M1267.5 1058.8v-2.5M1289.5 1058.8v-0.5M1290.5 1058.8v-0.8M1292.5 1058.8v-0.8M1293.5 1058.8v-0.5M1294.5 1058.8v-0.4M1296.5 1058.8v-0.5M1297.5 1058.8v-1.4M1298.5 1058.8v-0.5M1299.5 1058.8v-0.6M1300.5 1058.8v-2.2M1301.5 1058.8v-1.6M1302.5 1058.8v-1.1M1303.5 1058.8v-2.7M1304.5 1058.8v-1.8M1305.5 1058.8v-2M1306.5 1058.8v-7.3M1307.5 1058.8v-2.8M1308.5 1058.8v-7.6M1309.5 1058.8v-5.2M1310.5 1058.8v-3.8M1312.5 1058.8v-6.5M1313.5 1058.8v-8.9M1314.5 1058.8v-10.4M1315.5 1058.8v-2.8M1316.5 1058.8v-8.2M1317.5 1058.8v-1.4M1318.5 1058.8v-3.6M1319.5 1058.8v-4.1M1320.5 1058.8v-6.5M1321.5 1058.8v-10.4M1322.5 1058.8v-4.8M1323.5 1058.8v-9.7M1324.5 1058.8v-1.5M1325.5 1058.8v-2.6M1327.5 1058.8v-3.1M1328.5 1058.8v-1.5M1329.5 1058.8v-1.1M1330.5 1058.8v-2.5M1331.5 1058.8v-3.5M1332.5 1058.8v-1.1M1333.5 1058.8v-14.9M1334.5 1058.8v-4.4M1335.5 1058.8v-13.8M1336.5 1058.8v-19.5M1337.5 1058.8v-15.3M1338.5 1058.8v-6.9M1339.5 1058.8v-28.1M1340.5 1058.8v-5.1M1341.5 1058.8v-5.1M1343.5 1058.8v-3.8M1344.5 1058.8v-12.9M1345.5 1058.8v-9.4M1346.5 1058.8v-6.3M1347.5 1058.8v-1.7M1348.5 1058.8v-21.2M1349.5 1058.8v-7.5M1350.5 1058.8v-2.5M1351.5 1058.8v-14.6M1352.5 1058.8v-4.6M1353.5 1058.8v-4.9M1354.5 1058.8v-11.7M1355.5 1058.8v-4.3M1356.5 1058.8v-5.9M1358.5 1058.8v-10.4M1359.5 1058.8v-3.2M1360.5 1058.8v-3.4M1361.5 1058.8v-9.6M1362.5 1058.8v-5.7M1363.5 1058.8v-4.3M1364.5 1058.8v-7M1365.5 1058.8v-8.9M1366.5 1058.8v-7.6M1367.5 1058.8v-24.1M1368.5 1058.8v-9.9M1369.5 1058.8v-12.3M1370.5 1058.8v-20.5M1371.5 1058.8v-5.1M1372.5 1058.8v-4.2M1374.5 1058.8v-2.2M1375.5 1058.8v-2.6M1376.5 1058.8v-6.9M1377.5 1058.8v-9.4M1378.5 1058.8v-23.6M1379.5 1058.8v-1.8M1380.5 1058.8v-5.5M1381.5 1058.8v-2.1M1382.5 1058.8v-9.8M1383.5 1058.8v-9.3M1384.5 1058.8v-9.4M1385.5 1058.8v-9.3M1386.5 1058.8v-16.4M1387.5 1058.8v-9.5M1389.5 1058.8v-5.9M1390.5 1058.8v-15.1M1391.5 1058.8v-28.1M1392.5 1058.8v-3.5M1393.5 1058.8v-15.6M1394.5 1058.8v-5.4M1395.5 1058.8v-8.5M1396.5 1058.8v-8.1M1397.5 1058.8v-4.9M1398.5 1058.8v-28.1M1399.5 1058.8v-11M1400.5 1058.8v-6.3M1401.5 1058.8v-26.1M1402.5 1058.8v-13.4M1403.5 1058.8v-7.5M1405.5 1058.8v-4.5M1406.5 1058.8v-10.9M1407.5 1058.8v-2.9M1408.5 1058.8v-6.3M1409.5 1058.8v-5M1410.5 1058.8v-3.3M1411.5 1058.8v-6.2M1412.5 1058.8v-3.5M1413.5 1058.8v-3.8M1414.5 1058.8v-20.1M1415.5 1058.8v-3.6M1416.5 1058.8v-21.7M1417.5 1058.8v-4.8M1418.5 1058.8v-9.4M1420.5 1058.8v-7.7M1421.5 1058.8v-5.4M1422.5 1058.8v-16.1M1423.5 1058.8v-6.2M1424.5 1058.8v-9.8M1425.5 1058.8v-12.8M1426.5 1058.8v-17.5M1427.5 1058.8v-11.7M1428.5 1058.8v-15M1429.5 1058.8v-12.7M1430.5 1058.8v-21.6M1431.5 1058.8v-20.9M1432.5 1058.8v-14.4M1433.5 1058.8v-5.6M1434.5 1058.8v-19.1M1436.5 1058.8v-4.7M1437.5 1058.8v-15.6M1438.5 1058.8v-22.3M1439.5 1058.8v-6.7M1440.5 1058.8v-4.2M1441.5 1058.8v-10.7M1442.5 1058.8v-8.5M1443.5 1058.8v-14.1M1444.5 1058.8v-4.6M1445.5 1058.8v-2.6M1446.5 1058.8v-10.5M1447.5 1058.8v-3.4M1448.5 1058.8v-3.6M1449.5 1058.8v-1.3M1451.5 1058.8v-4.6M1452.5 1058.8v-2.2M1453.5 1058.8v-4.7M1454.5 1058.8v-7.5M1455.5 1058.8v-2.4M1456.5 1058.8v-3.9M1457.5 1058.8v-3.4M1458.5 1058.8v-1.1M1459.5 1058.8v-0.6M1460.5 1058.8v-0.6M1461.5 1058.8v-1.4M1462.5 1058.8v-0.3M1463.5 1058.8v-0.5M1464.5 1058.8v-0.5M1465.5 1058.8v-1.1M1467.5 1058.8v-0.5M1468.5 1058.8v-0.6M1470.5 1058.8v-0.7M1471.5 1058.8v-0.5M1474.5 1058.8v-0.5M1476.5 1058.8v-0.6M1477.5 1058.8v-8.3M1478.5 1058.8v-1.3M1479.5 1058.8v-1.2M1482.5 1058.8v-2.7M1483.5 1058.8v-0.3M1484.5 1058.8v-0.8M1485.5 1058.8v-0.4M1486.5 1058.8v-0.6M1487.5 1058.8v-1.9M1488.5 1058.8v-0.8M1489.5 1058.8v-1.6M1490.5 1058.8v-2.2M1491.5 1058.8v-0.9M1492.5 1058.8v-1.5M1493.5 1058.8v-7.3M1494.5 1058.8v-3.9M1495.5 1058.8v-3.7M1496.5 1058.8v-9.6M1498.5 1058.8v-7.1M1499.5 1058.8v-8.3M1500.5 1058.8v-10.6M1501.5 1058.8v-8.2M1502.5 1058.8v-3.7M1503.5 1058.8v-20.5M1504.5 1058.8v-1.5M1505.5 1058.8v-11.8M1506.5 1058.8v-12.8M1507.5 1058.8v-3.3M1508.5 1058.8v-2.3M1509.5 1058.8v-3M1510.5 1058.8v-5.7M1511.5 1058.8v-1.1M1512.5 1058.8v-1.7M1514.5 1058.8v-11.6M1515.5 1058.8v-3.6M1516.5 1058.8v-5M1517.5 1058.8v-5.2M1518.5 1058.8v-5.8M1519.5 1058.8v-7.5M1520.5 1058.8v-4.8M1521.5 1058.8v-2.1M1522.5 1058.8v-16.2M1523.5 1058.8v-3.1M1524.5 1058.8v-5.2M1525.5 1058.8v-3.8M1526.5 1058.8v-4.8M1527.5 1058.8v-1.8M1529.5 1058.8v-7.1M1530.5 1058.8v-1.2M1531.5 1058.8v-9M1532.5 1058.8v-0.5M1534.5 1058.8v-0.3M1535.5 1058.8v-0.4M1536.5 1058.8v-1.2M1537.5 1058.8v-0.3M1538.5 1058.8v-1.5M1539.5 1058.8v-0.3M1540.5 1058.8v-0.9M1541.5 1058.8v-1.1M1542.5 1058.8v-1.9M1543.5 1058.8v-1M1545.5 1058.8v-5.6M1546.5 1058.8v-1.3M1547.5 1058.8v-1M1548.5 1058.8v-2.7M1549.5 1058.8v-0.7M1550.5 1058.8v-1.8M1551.5 1058.8v-1.1M1552.5 1058.8v-0.6M1553.5 1058.8v-0.3M1555.5 1058.8v-1.2M1556.5 1058.8v-0.3M1557.5 1058.8v-3.9M1558.5 1058.8v-1.4M1560.5 1058.8v-0.4M1561.5 1058.8v-0.5M1562.5 1058.8v-0.8M1563.5 1058.8v-0.3M1565.5 1058.8v-0.5M1566.5 1058.8v-3M1567.5 1058.8v-5.7M1568.5 1058.8v-0.6M1569.5 1058.8v-0.7M1570.5 1058.8v-0.9M1571.5 1058.8v-2M1572.5 1058.8v-2.2M1573.5 1058.8v-1.4M1574.5 1058.8v-9.6M1576.5 1058.8v-7.8M1577.5 1058.8v-8.9M1578.5 1058.8v-5.6M1579.5 1058.8v-24.5M1580.5 1058.8v-3.5M1581.5 1058.8v-10.6M1582.5 1058.8v-28.1M1583.5 1058.8v-4.8M1584.5 1058.8v-4.1M1585.5 1058.8v-6.5M1586.5 1058.8v-1.9M1587.5 1058.8v-0.6M1588.5 1058.8v-0.4M1591.5 1058.8v-0.9M1592.5 1058.8v-0.5M1593.5 1058.8v-1M1594.5 1058.8v-0.5M1595.5 1058.8v-0.6M1596.5 1058.8v-1M1597.5 1058.8v-0.3M1599.5 1058.8v-0.4M1602.5 1058.8v-0.3M1603.5 1058.8v-0.6M1604.5 1058.8v-0.3M1605.5 1058.8v-0.3M1608.5 1058.8v-0.4M1609.5 1058.8v-1.1M1610.5 1058.8v-0.5M1611.5 1058.8v-1M1612.5 1058.8v-0.7M1613.5 1058.8v-0.5M1614.5 1058.8v-1M1615.5 1058.8v-2M1616.5 1058.8v-1M1617.5 1058.8v-0.8M1618.5 1058.8v-1.1M1619.5 1058.8v-14.9M1620.5 1058.8v-1.1M1622.5 1058.8v-4.5M1623.5 1058.8v-1.8M1624.5 1058.8v-11.2M1625.5 1058.8v-2.8M1626.5 1058.8v-3.9M1627.5 1058.8v-6.3M1628.5 1058.8v-2.7M1629.5 1058.8v-1.4M1630.5 1058.8v-10M1631.5 1058.8v-7M1632.5 1058.8v-6.1M1633.5 1058.8v-0.6M1634.5 1058.8v-2.2M1635.5 1058.8v-3.6M1636.5 1058.8v-1M1638.5 1058.8v-1.4M1639.5 1058.8v-0.4M1640.5 1058.8v-1.9M1641.5 1058.8v-1.4M1642.5 1058.8v-1.5M1643.5 1058.8v-1.6M1644.5 1058.8v-0.4M1645.5 1058.8v-2.1M1647.5 1058.8v-0.6M1648.5 1058.8v-1M1649.5 1058.8v-3.3M1650.5 1058.8v-1.6M1651.5 1058.8v-1.1M1653.5 1058.8v-0.5M1654.5 1058.8v-0.6M1655.5 1058.8v-0.7M1656.5 1058.8v-0.8M1657.5 1058.8v-1.1M1658.5 1058.8v-2.9M1659.5 1058.8v-1.2M1660.5 1058.8v-0.8M1661.5 1058.8v-0.7M1662.5 1058.8v-2.1M1663.5 1058.8v-2.4M1664.5 1058.8v-1.2M1665.5 1058.8v-1.5M1666.5 1058.8v-0.5M1667.5 1058.8v-1M1669.5 1058.8v-2M1670.5 1058.8v-2.6M1671.5 1058.8v-0.4M1673.5 1058.8v-0.4M1674.5 1058.8v-0.8M1675.5 1058.8v-0.9M1676.5 1058.8v-3.8M1677.5 1058.8v-0.7M1678.5 1058.8v-1M1679.5 1058.8v-2.1M1680.5 1058.8v-4.1M1681.5 1058.8v-9.7M1682.5 1058.8v-3.1M1684.5 1058.8v-22.9M1685.5 1058.8v-3.5M1686.5 1058.8v-2.2M1687.5 1058.8v-2.4M1688.5 1058.8v-2M1689.5 1058.8v-1.3M1690.5 1058.8v-3.3M1691.5 1058.8v-8.6M1692.5 1058.8v-1.7M1693.5 1058.8v-2M1694.5 1058.8v-3.3M1695.5 1058.8v-7.5M1696.5 1058.8v-25.9M1697.5 1058.8v-5.7M1698.5 1058.8v-7.6M1700.5 1058.8v-3.8M1701.5 1058.8v-5.5M1702.5 1058.8v-3.8M1703.5 1058.8v-6.1M1704.5 1058.8v-6.7M1705.5 1058.8v-3.4M1706.5 1058.8v-3.2M1707.5 1058.8v-4.5M1708.5 1058.8v-11.6M1709.5 1058.8v-12.5M1710.5 1058.8v-6.5M1711.5 1058.8v-7.2M1712.5 1058.8v-13.5M1713.5 1058.8v-9.4M1715.5 1058.8v-28.1M1716.5 1058.8v-24.1M1717.5 1058.8v-8.8M1718.5 1058.8v-8.1M1719.5 1058.8v-2.4M1720.5 1058.8v-3.4M1721.5 1058.8v-2.1M1722.5 1058.8v-3.3M1723.5 1058.8v-2.9M1724.5 1058.8v-6.1M1725.5 1058.8v-7M1726.5 1058.8v-3.6M1727.5 1058.8v-1.6M1728.5 1058.8v-19.7M1729.5 1058.8v-5M1731.5 1058.8v-2.8M1732.5 1058.8v-11.4M1733.5 1058.8v-21.9M1734.5 1058.8v-5.1M1735.5 1058.8v-2.7M1736.5 1058.8v-1.5M1737.5 1058.8v-5.4M1738.5 1058.8v-8.5M1739.5 1058.8v-2.1M1740.5 1058.8v-4.3M1741.5 1058.8v-2.6M1742.5 1058.8v-1.4M1743.5 1058.8v-2.3M1744.5 1058.8v-3.4M1746.5 1058.8v-1.8M1747.5 1058.8v-10.8M1748.5 1058.8v-7.7M1749.5 1058.8v-18.1M1750.5 1058.8v-4.2M1751.5 1058.8v-3.4M1752.5 1058.8v-6.6M1753.5 1058.8v-3.9M1754.5 1058.8v-4.7M1755.5 1058.8v-3.4M1756.5 1058.8v-2.9M1757.5 1058.8v-1.9" fill="none" stroke="#f5a02a" stroke-width="1.0"/>
<line x1="1009.6" y1="1058.4" x2="1757.8" y2="1058.4" stroke="#f5a02a" stroke-width="2.2"/>
<line x1="1004.6" y1="1028.3" x2="1004.6" y2="1058.8" stroke="#000" stroke-width="1.2"/>
<line x1="1003" y1="1028.3" x2="1004.6" y2="1028.3" stroke="#000" stroke-width="1.2"/>
<line x1="1003" y1="1058.8" x2="1004.6" y2="1058.8" stroke="#000" stroke-width="1.2"/>
<text x="1001.2" y="1033.5" font-size="8.8" text-anchor="end" stroke="#000" stroke-width="0.21" textLength="16.5" lengthAdjust="spacingAndGlyphs">12.5</text>
<text x="1001.2" y="1060" font-size="8.8" text-anchor="end" stroke="#000" stroke-width="0.21" textLength="5" lengthAdjust="spacingAndGlyphs">0</text>
<text x="984.5" y="1050.2" font-size="17.5" text-anchor="end" stroke="#000" stroke-width="0.41" textLength="75.7" lengthAdjust="spacingAndGlyphs">H3K4me1</text>
<rect x="1008" y="1060.6" width="3.2" height="2.8" fill="#000"/>
<text x="1009.6" y="1073.2" font-size="9.2" text-anchor="middle" stroke="#000" stroke-width="0.21" textLength="5.3" lengthAdjust="spacingAndGlyphs">0</text>
<rect x="1195.1" y="1060.6" width="3.2" height="2.8" fill="#000"/>
<text x="1196.7" y="1073.2" font-size="9.2" text-anchor="middle" stroke="#000" stroke-width="0.21" textLength="16" lengthAdjust="spacingAndGlyphs">250</text>
<rect x="1382.1" y="1060.6" width="3.2" height="2.8" fill="#000"/>
<text x="1383.7" y="1073.2" font-size="9.2" text-anchor="middle" stroke="#000" stroke-width="0.21" textLength="16" lengthAdjust="spacingAndGlyphs">500</text>
<rect x="1569.2" y="1060.6" width="3.2" height="2.8" fill="#000"/>
<text x="1570.8" y="1073.2" font-size="9.2" text-anchor="middle" stroke="#000" stroke-width="0.21" textLength="16" lengthAdjust="spacingAndGlyphs">750</text>
<rect x="1756.2" y="1060.6" width="3.2" height="2.8" fill="#000"/>
<text x="1757.8" y="1073.2" font-size="9.2" text-anchor="middle" stroke="#000" stroke-width="0.21" textLength="21.4" lengthAdjust="spacingAndGlyphs">1000</text>
<path d="M1010.5 1116.3v-18.9M1011.5 1116.3v-10.6M1012.5 1116.3v-4.8M1013.5 1116.3v-8.4M1014.5 1116.3v-2.7M1015.5 1116.3v-3.1M1017.5 1116.3v-7.4M1018.5 1116.3v-14.8M1019.5 1116.3v-1.3M1020.5 1116.3v-3M1021.5 1116.3v-17.3M1022.5 1116.3v-6M1023.5 1116.3v-3.4M1024.5 1116.3v-6.3M1025.5 1116.3v-5.3M1026.5 1116.3v-2.9M1027.5 1116.3v-8.3M1028.5 1116.3v-11.8M1029.5 1116.3v-2.6M1030.5 1116.3v-3.9M1032.5 1116.3v-8.1M1033.5 1116.3v-13.2M1034.5 1116.3v-1.7M1035.5 1116.3v-16.3M1036.5 1116.3v-1.7M1037.5 1116.3v-12.4M1038.5 1116.3v-4M1039.5 1116.3v-4.5M1040.5 1116.3v-1.9M1041.5 1116.3v-17.8M1042.5 1116.3v-1.8M1043.5 1116.3v-11.3M1044.5 1116.3v-9M1045.5 1116.3v-11.1M1046.5 1116.3v-2.8M1048.5 1116.3v-2.3M1049.5 1116.3v-1.8M1050.5 1116.3v-5M1051.5 1116.3v-3.1M1052.5 1116.3v-2.7M1053.5 1116.3v-0.9M1054.5 1116.3v-2.7M1055.5 1116.3v-9.9M1056.5 1116.3v-5.5M1057.5 1116.3v-3.8M1058.5 1116.3v-14.1M1059.5 1116.3v-5M1060.5 1116.3v-5M1061.5 1116.3v-1.5M1063.5 1116.3v-6.9M1064.5 1116.3v-3.9M1065.5 1116.3v-8.3M1066.5 1116.3v-3.5M1067.5 1116.3v-10.4M1068.5 1116.3v-11.4M1069.5 1116.3v-2.9M1070.5 1116.3v-3.1M1071.5 1116.3v-6.5M1072.5 1116.3v-7.2M1073.5 1116.3v-10M1074.5 1116.3v-4.1M1075.5 1116.3v-13.8M1076.5 1116.3v-6.1M1077.5 1116.3v-13.5M1079.5 1116.3v-9.1M1080.5 1116.3v-13M1081.5 1116.3v-14.5M1082.5 1116.3v-4.7M1083.5 1116.3v-7.9M1084.5 1116.3v-3.9M1085.5 1116.3v-9.1M1086.5 1116.3v-6.3M1087.5 1116.3v-6.5M1088.5 1116.3v-3.3M1089.5 1116.3v-25M1090.5 1116.3v-5.3M1091.5 1116.3v-7.6M1092.5 1116.3v-4.8M1094.5 1116.3v-3.1M1095.5 1116.3v-6.5M1096.5 1116.3v-2.6M1097.5 1116.3v-2.1M1098.5 1116.3v-6.3M1099.5 1116.3v-1.3M1100.5 1116.3v-1.5M1101.5 1116.3v-2.9M1102.5 1116.3v-1.2M1103.5 1116.3v-1.2M1104.5 1116.3v-2.5M1105.5 1116.3v-4M1106.5 1116.3v-3M1107.5 1116.3v-2.5M1108.5 1116.3v-13.9M1110.5 1116.3v-8.2M1111.5 1116.3v-2.4M1112.5 1116.3v-3.3M1113.5 1116.3v-14.2M1114.5 1116.3v-1.4M1115.5 1116.3v-13.9M1116.5 1116.3v-16.8M1117.5 1116.3v-14.7M1118.5 1116.3v-2.3M1119.5 1116.3v-3.6M1120.5 1116.3v-21M1121.5 1116.3v-4.7M1122.5 1116.3v-3.9M1123.5 1116.3v-14.6M1125.5 1116.3v-2.8M1126.5 1116.3v-10M1127.5 1116.3v-7.1M1128.5 1116.3v-9.7M1129.5 1116.3v-10.8M1130.5 1116.3v-3.4M1131.5 1116.3v-2.4M1132.5 1116.3v-2M1133.5 1116.3v-4.9M1134.5 1116.3v-6.7M1135.5 1116.3v-1.5M1136.5 1116.3v-0.6M1137.5 1116.3v-3.1M1138.5 1116.3v-1.2M1139.5 1116.3v-0.4M1141.5 1116.3v-1.1M1142.5 1116.3v-1.1M1143.5 1116.3v-0.6M1144.5 1116.3v-0.5M1145.5 1116.3v-0.6M1146.5 1116.3v-0.7M1147.5 1116.3v-0.6M1148.5 1116.3v-0.3M1149.5 1116.3v-0.3M1150.5 1116.3v-0.4M1153.5 1116.3v-0.3M1157.5 1116.3v-0.5M1161.5 1116.3v-0.5M1162.5 1116.3v-0.4M1163.5 1116.3v-0.6M1165.5 1116.3v-0.7M1166.5 1116.3v-0.3M1167.5 1116.3v-0.6M1168.5 1116.3v-2.8M1169.5 1116.3v-0.5M1170.5 1116.3v-1.6M1172.5 1116.3v-1.5M1173.5 1116.3v-2.5M1174.5 1116.3v-2.6M1175.5 1116.3v-2.6M1176.5 1116.3v-1.1M1177.5 1116.3v-1.1M1178.5 1116.3v-3.4M1179.5 1116.3v-0.5M1180.5 1116.3v-0.3M1181.5 1116.3v-0.5M1184.5 1116.3v-0.9M1185.5 1116.3v-0.5M1186.5 1116.3v-2.3M1188.5 1116.3v-1.5M1189.5 1116.3v-1.9M1190.5 1116.3v-2.6M1191.5 1116.3v-1.6M1192.5 1116.3v-3.8M1193.5 1116.3v-3.7M1194.5 1116.3v-6.4M1195.5 1116.3v-2.3M1196.5 1116.3v-19.6M1197.5 1116.3v-13.2M1198.5 1116.3v-11.2M1199.5 1116.3v-10.4M1200.5 1116.3v-26.2M1201.5 1116.3v-6.9M1203.5 1116.3v-26.6M1204.5 1116.3v-9.7M1205.5 1116.3v-5.9M1206.5 1116.3v-8.2M1207.5 1116.3v-1.6M1208.5 1116.3v-7.6M1209.5 1116.3v-10.1M1210.5 1116.3v-2.6M1211.5 1116.3v-2.2M1212.5 1116.3v-0.7M1213.5 1116.3v-0.8M1214.5 1116.3v-2M1215.5 1116.3v-0.8M1216.5 1116.3v-3.1M1217.5 1116.3v-14.6M1219.5 1116.3v-24.2M1222.5 1116.3v-1M1223.5 1116.3v-0.3M1226.5 1116.3v-0.3M1227.5 1116.3v-0.4M1228.5 1116.3v-0.4M1229.5 1116.3v-0.7M1230.5 1116.3v-1.2M1231.5 1116.3v-1M1232.5 1116.3v-0.5M1234.5 1116.3v-1M1235.5 1116.3v-1.5M1236.5 1116.3v-1.5M1237.5 1116.3v-1M1238.5 1116.3v-3M1239.5 1116.3v-2.6M1240.5 1116.3v-2M1241.5 1116.3v-1.3M1242.5 1116.3v-2.8M1243.5 1116.3v-3M1244.5 1116.3v-3.6M1245.5 1116.3v-5M1246.5 1116.3v-5M1247.5 1116.3v-4.1M1248.5 1116.3v-2.4M1250.5 1116.3v-6.2M1251.5 1116.3v-1.6M1252.5 1116.3v-4.5M1253.5 1116.3v-1.8M1254.5 1116.3v-2M1255.5 1116.3v-1.4M1256.5 1116.3v-0.6M1257.5 1116.3v-0.7M1258.5 1116.3v-2.2M1259.5 1116.3v-0.3M1261.5 1116.3v-0.5M1262.5 1116.3v-0.6M1265.5 1116.3v-0.4M1267.5 1116.3v-22M1290.5 1116.3v-1M1291.5 1116.3v-0.6M1293.5 1116.3v-1.8M1294.5 1116.3v-1M1296.5 1116.3v-0.4M1297.5 1116.3v-0.3M1298.5 1116.3v-1.7M1299.5 1116.3v-2.2M1300.5 1116.3v-1.5M1301.5 1116.3v-1.4M1302.5 1116.3v-0.7M1303.5 1116.3v-2.4M1304.5 1116.3v-23.1M1305.5 1116.3v-0.7M1306.5 1116.3v-1.5M1307.5 1116.3v-0.7M1308.5 1116.3v-2.6M1309.5 1116.3v-18.8M1310.5 1116.3v-1.2M1312.5 1116.3v-1.2M1313.5 1116.3v-3.1M1314.5 1116.3v-1.6M1315.5 1116.3v-2.3M1316.5 1116.3v-2.2M1317.5 1116.3v-2.2M1318.5 1116.3v-2.1M1319.5 1116.3v-1.8M1320.5 1116.3v-1M1321.5 1116.3v-1.1M1322.5 1116.3v-1.4M1323.5 1116.3v-0.5M1324.5 1116.3v-1.7M1325.5 1116.3v-2.2M1327.5 1116.3v-0.6M1328.5 1116.3v-0.6M1329.5 1116.3v-0.8M1330.5 1116.3v-0.5M1331.5 1116.3v-0.7M1332.5 1116.3v-0.6M1335.5 1116.3v-0.3M1336.5 1116.3v-0.3M1337.5 1116.3v-0.6M1338.5 1116.3v-0.9M1339.5 1116.3v-0.5M1340.5 1116.3v-0.7M1341.5 1116.3v-0.5M1343.5 1116.3v-0.4M1344.5 1116.3v-0.6M1345.5 1116.3v-0.7M1346.5 1116.3v-1.7M1347.5 1116.3v-0.8M1348.5 1116.3v-0.6M1349.5 1116.3v-3.4M1350.5 1116.3v-4.9M1351.5 1116.3v-2.7M1352.5 1116.3v-3.7M1353.5 1116.3v-2.5M1354.5 1116.3v-2.9M1355.5 1116.3v-0.8M1356.5 1116.3v-2.2M1358.5 1116.3v-0.6M1359.5 1116.3v-1.7M1360.5 1116.3v-1.8M1361.5 1116.3v-0.7M1362.5 1116.3v-0.9M1363.5 1116.3v-1M1364.5 1116.3v-2.2M1365.5 1116.3v-1M1366.5 1116.3v-13.8M1367.5 1116.3v-0.6M1368.5 1116.3v-1.5M1369.5 1116.3v-0.8M1370.5 1116.3v-1.5M1371.5 1116.3v-0.8M1372.5 1116.3v-2.9M1374.5 1116.3v-2.7M1375.5 1116.3v-2.2M1376.5 1116.3v-1.1M1377.5 1116.3v-8.5M1378.5 1116.3v-4.2M1379.5 1116.3v-23M1380.5 1116.3v-7M1381.5 1116.3v-8.5M1382.5 1116.3v-1.5M1383.5 1116.3v-18.4M1384.5 1116.3v-4.1M1385.5 1116.3v-27.3M1386.5 1116.3v-1.5M1387.5 1116.3v-4.4M1389.5 1116.3v-4.2M1390.5 1116.3v-3.8M1391.5 1116.3v-3M1392.5 1116.3v-4.2M1393.5 1116.3v-2.8M1394.5 1116.3v-13.9M1395.5 1116.3v-10.4M1396.5 1116.3v-7.7M1397.5 1116.3v-13.5M1398.5 1116.3v-15.5M1399.5 1116.3v-25.1M1400.5 1116.3v-9.1M1401.5 1116.3v-4.3M1402.5 1116.3v-17.8M1403.5 1116.3v-2.7M1405.5 1116.3v-3M1406.5 1116.3v-17.9M1407.5 1116.3v-2M1408.5 1116.3v-2.2M1409.5 1116.3v-18.8M1410.5 1116.3v-12.8M1411.5 1116.3v-5.6M1412.5 1116.3v-2.2M1413.5 1116.3v-21.2M1414.5 1116.3v-4.2M1415.5 1116.3v-15.2M1416.5 1116.3v-2.2M1417.5 1116.3v-2M1418.5 1116.3v-16.3M1420.5 1116.3v-15.3M1421.5 1116.3v-26M1422.5 1116.3v-1.9M1423.5 1116.3v-9M1424.5 1116.3v-1.9M1425.5 1116.3v-6.6M1426.5 1116.3v-1.9M1427.5 1116.3v-2M1428.5 1116.3v-11.7M1429.5 1116.3v-6.7M1430.5 1116.3v-6.6M1431.5 1116.3v-3.6M1432.5 1116.3v-1.2M1433.5 1116.3v-15.5M1434.5 1116.3v-9.9M1436.5 1116.3v-2.1M1437.5 1116.3v-5.2M1438.5 1116.3v-2.4M1439.5 1116.3v-17.2M1440.5 1116.3v-7.4M1441.5 1116.3v-4M1442.5 1116.3v-8.7M1443.5 1116.3v-5.4M1444.5 1116.3v-3.2M1445.5 1116.3v-1.6M1446.5 1116.3v-2.8M1447.5 1116.3v-2.8M1448.5 1116.3v-15.2M1449.5 1116.3v-1.6M1451.5 1116.3v-0.4M1452.5 1116.3v-0.6M1453.5 1116.3v-0.4M1456.5 1116.3v-0.4M1457.5 1116.3v-0.3M1458.5 1116.3v-0.3M1461.5 1116.3v-0.7M1462.5 1116.3v-0.4M1463.5 1116.3v-4.5M1464.5 1116.3v-0.6M1465.5 1116.3v-0.8M1467.5 1116.3v-0.3M1468.5 1116.3v-0.5M1469.5 1116.3v-26.1M1470.5 1116.3v-2.3M1471.5 1116.3v-1.7M1472.5 1116.3v-9M1473.5 1116.3v-2M1474.5 1116.3v-3M1475.5 1116.3v-4.2M1476.5 1116.3v-2.6M1477.5 1116.3v-12.4M1478.5 1116.3v-7.5M1479.5 1116.3v-4.2M1480.5 1116.3v-1.2M1482.5 1116.3v-2.8M1483.5 1116.3v-2.7M1484.5 1116.3v-2.5M1485.5 1116.3v-3.3M1486.5 1116.3v-2.5M1487.5 1116.3v-6.6M1488.5 1116.3v-4.9M1489.5 1116.3v-12.1M1490.5 1116.3v-2.3M1491.5 1116.3v-3.4M1492.5 1116.3v-3.3M1493.5 1116.3v-9.5M1494.5 1116.3v-21.7M1495.5 1116.3v-4.7M1496.5 1116.3v-25.6M1498.5 1116.3v-8.9M1499.5 1116.3v-28.1M1500.5 1116.3v-5.2M1501.5 1116.3v-9.8M1502.5 1116.3v-1.6M1503.5 1116.3v-7.2M1504.5 1116.3v-26.7M1505.5 1116.3v-19.4M1506.5 1116.3v-9.2M1507.5 1116.3v-1M1508.5 1116.3v-1.1M1509.5 1116.3v-0.7M1510.5 1116.3v-1M1511.5 1116.3v-2.1M1512.5 1116.3v-5.6M1514.5 1116.3v-1.3M1515.5 1116.3v-1.8M1516.5 1116.3v-2.4M1517.5 1116.3v-3.1M1518.5 1116.3v-9.8M1519.5 1116.3v-10.2M1520.5 1116.3v-3.9M1521.5 1116.3v-20.5M1522.5 1116.3v-2.5M1523.5 1116.3v-12.6M1524.5 1116.3v-13.2M1525.5 1116.3v-28.1M1526.5 1116.3v-6.1M1527.5 1116.3v-4.4M1529.5 1116.3v-6.4M1530.5 1116.3v-13.3M1531.5 1116.3v-20.1M1532.5 1116.3v-2.9M1533.5 1116.3v-3.2M1534.5 1116.3v-2.8M1535.5 1116.3v-2.3M1536.5 1116.3v-5.5M1537.5 1116.3v-8.4M1538.5 1116.3v-2.4M1539.5 1116.3v-8.6M1540.5 1116.3v-4.5M1541.5 1116.3v-4.5M1542.5 1116.3v-9.2M1543.5 1116.3v-2M1545.5 1116.3v-6.8M1546.5 1116.3v-1.8M1547.5 1116.3v-5.5M1548.5 1116.3v-1.2M1549.5 1116.3v-1.1M1550.5 1116.3v-1.6M1551.5 1116.3v-1.4M1552.5 1116.3v-0.6M1553.5 1116.3v-0.5M1554.5 1116.3v-0.4M1555.5 1116.3v-24.2M1556.5 1116.3v-0.7M1557.5 1116.3v-0.7M1558.5 1116.3v-0.3M1560.5 1116.3v-1.1M1561.5 1116.3v-1.5M1562.5 1116.3v-0.3M1563.5 1116.3v-0.7M1564.5 1116.3v-2.9M1565.5 1116.3v-3.4M1566.5 1116.3v-0.8M1567.5 1116.3v-3M1568.5 1116.3v-5M1569.5 1116.3v-3.2M1570.5 1116.3v-4.6M1571.5 1116.3v-1.6M1572.5 1116.3v-10.1M1573.5 1116.3v-2M1574.5 1116.3v-4.2M1576.5 1116.3v-3.1M1577.5 1116.3v-1.7M1578.5 1116.3v-5.7M1579.5 1116.3v-1.7M1580.5 1116.3v-5.6M1581.5 1116.3v-1.7M1582.5 1116.3v-4.5M1583.5 1116.3v-3.4M1584.5 1116.3v-2.7M1585.5 1116.3v-1.8M1586.5 1116.3v-2.3M1587.5 1116.3v-1.7M1588.5 1116.3v-0.5M1589.5 1116.3v-1.2M1591.5 1116.3v-1.7M1592.5 1116.3v-3.4M1593.5 1116.3v-0.5M1594.5 1116.3v-0.4M1595.5 1116.3v-1M1596.5 1116.3v-1.8M1597.5 1116.3v-17.3M1598.5 1116.3v-0.7M1599.5 1116.3v-1M1600.5 1116.3v-0.7M1601.5 1116.3v-2.2M1602.5 1116.3v-1.3M1603.5 1116.3v-1.6M1604.5 1116.3v-0.8M1605.5 1116.3v-2.7M1607.5 1116.3v-1.4M1608.5 1116.3v-3.9M1609.5 1116.3v-0.4M1610.5 1116.3v-0.8M1611.5 1116.3v-0.8M1612.5 1116.3v-0.3M1613.5 1116.3v-0.5M1614.5 1116.3v-1.4M1615.5 1116.3v-0.9M1616.5 1116.3v-0.3M1617.5 1116.3v-0.3M1618.5 1116.3v-0.5M1619.5 1116.3v-0.7M1620.5 1116.3v-1.7M1622.5 1116.3v-1.3M1623.5 1116.3v-1.4M1624.5 1116.3v-1.1M1625.5 1116.3v-2.6M1626.5 1116.3v-0.8M1627.5 1116.3v-2.9M1628.5 1116.3v-1M1629.5 1116.3v-1.4M1630.5 1116.3v-0.9M1631.5 1116.3v-2.8M1634.5 1116.3v-0.4M1635.5 1116.3v-0.7M1636.5 1116.3v-0.5M1638.5 1116.3v-0.3M1639.5 1116.3v-0.3M1640.5 1116.3v-0.4M1641.5 1116.3v-0.3M1644.5 1116.3v-1.3M1645.5 1116.3v-0.3M1646.5 1116.3v-0.3M1647.5 1116.3v-19.7M1653.5 1116.3v-0.3M1654.5 1116.3v-0.5M1657.5 1116.3v-0.3M1659.5 1116.3v-0.5M1660.5 1116.3v-0.3M1662.5 1116.3v-0.4M1665.5 1116.3v-0.3M1669.5 1116.3v-0.3M1670.5 1116.3v-0.7M1671.5 1116.3v-0.6M1672.5 1116.3v-0.8M1673.5 1116.3v-0.4M1675.5 1116.3v-2.1M1676.5 1116.3v-0.8M1677.5 1116.3v-1.4M1678.5 1116.3v-0.9M1679.5 1116.3v-17.9M1680.5 1116.3v-18.6M1681.5 1116.3v-1.2M1682.5 1116.3v-4.7M1684.5 1116.3v-5.7M1685.5 1116.3v-6.5M1686.5 1116.3v-1.2M1687.5 1116.3v-1.2M1688.5 1116.3v-6.9M1689.5 1116.3v-1.7M1690.5 1116.3v-7.4M1691.5 1116.3v-4.3M1692.5 1116.3v-10.4M1693.5 1116.3v-7.8M1694.5 1116.3v-9.4M1695.5 1116.3v-20M1696.5 1116.3v-13.1M1697.5 1116.3v-15.7M1698.5 1116.3v-28.1M1700.5 1116.3v-12.8M1701.5 1116.3v-23.9M1702.5 1116.3v-6.3M1703.5 1116.3v-10.9M1704.5 1116.3v-11.7M1705.5 1116.3v-2.9M1706.5 1116.3v-3M1707.5 1116.3v-3.6M1708.5 1116.3v-6.5M1709.5 1116.3v-13.9M1710.5 1116.3v-6.2M1711.5 1116.3v-20.5M1712.5 1116.3v-1.8M1713.5 1116.3v-7.5M1715.5 1116.3v-3.5M1716.5 1116.3v-3.2M1717.5 1116.3v-4.5M1718.5 1116.3v-8.5M1719.5 1116.3v-5.2M1720.5 1116.3v-4.3M1721.5 1116.3v-1.7M1722.5 1116.3v-1.8M1723.5 1116.3v-5.3M1724.5 1116.3v-4.4M1725.5 1116.3v-6.7M1726.5 1116.3v-1.6M1727.5 1116.3v-4.2M1728.5 1116.3v-1.9M1729.5 1116.3v-2.1M1731.5 1116.3v-1.9M1732.5 1116.3v-6.7M1733.5 1116.3v-1.2M1734.5 1116.3v-2.1M1735.5 1116.3v-1.3M1736.5 1116.3v-5.7M1737.5 1116.3v-3.1M1738.5 1116.3v-1.3M1739.5 1116.3v-8.4M1740.5 1116.3v-1M1741.5 1116.3v-3.5M1742.5 1116.3v-10.9M1743.5 1116.3v-4.7M1744.5 1116.3v-16.9M1746.5 1116.3v-5M1747.5 1116.3v-4.1M1748.5 1116.3v-3.7M1749.5 1116.3v-10.1M1750.5 1116.3v-9.8M1751.5 1116.3v-8.5M1752.5 1116.3v-3.5M1753.5 1116.3v-1.2M1754.5 1116.3v-3.5M1755.5 1116.3v-2.4M1756.5 1116.3v-3.7M1757.5 1116.3v-1.1" fill="none" stroke="#000" stroke-width="1.0"/>
<line x1="1009.6" y1="1116" x2="1757.8" y2="1116" stroke="#000" stroke-width="1.8"/>
<line x1="1004.6" y1="1087.2" x2="1004.6" y2="1116.3" stroke="#000" stroke-width="1.2"/>
<line x1="1003" y1="1087.2" x2="1004.6" y2="1087.2" stroke="#000" stroke-width="1.2"/>
<line x1="1003" y1="1116.3" x2="1004.6" y2="1116.3" stroke="#000" stroke-width="1.2"/>
<text x="1001.2" y="1092.4" font-size="8.8" text-anchor="end" stroke="#000" stroke-width="0.21" textLength="10.2" lengthAdjust="spacingAndGlyphs">15</text>
<text x="1001.2" y="1117.5" font-size="8.8" text-anchor="end" stroke="#000" stroke-width="0.21" textLength="5" lengthAdjust="spacingAndGlyphs">0</text>
<text x="984.5" y="1108.7" font-size="17.5" text-anchor="end" stroke="#000" stroke-width="0.41" textLength="71.7" lengthAdjust="spacingAndGlyphs">ATAC-seq</text>
<rect x="1008" y="1118.1" width="3.2" height="2.8" fill="#000"/>
<text x="1009.6" y="1130.5" font-size="9.2" text-anchor="middle" stroke="#000" stroke-width="0.21" textLength="5.3" lengthAdjust="spacingAndGlyphs">0</text>
<rect x="1195.1" y="1118.1" width="3.2" height="2.8" fill="#000"/>
<text x="1196.7" y="1130.5" font-size="9.2" text-anchor="middle" stroke="#000" stroke-width="0.21" textLength="16" lengthAdjust="spacingAndGlyphs">250</text>
<rect x="1382.1" y="1118.1" width="3.2" height="2.8" fill="#000"/>
<text x="1383.7" y="1130.5" font-size="9.2" text-anchor="middle" stroke="#000" stroke-width="0.21" textLength="16" lengthAdjust="spacingAndGlyphs">500</text>
<rect x="1569.2" y="1118.1" width="3.2" height="2.8" fill="#000"/>
<text x="1570.8" y="1130.5" font-size="9.2" text-anchor="middle" stroke="#000" stroke-width="0.21" textLength="16" lengthAdjust="spacingAndGlyphs">750</text>
<rect x="1756.2" y="1118.1" width="3.2" height="2.8" fill="#000"/>
<text x="1757.8" y="1130.5" font-size="9.2" text-anchor="middle" stroke="#000" stroke-width="0.21" textLength="21.4" lengthAdjust="spacingAndGlyphs">1000</text>
<line x1="1009.6" y1="1159.1" x2="1757.8" y2="1159.1" stroke="#4540a3" stroke-width="1.3"/>
<path d="M1048.5 1159.1V1161.1H1050V1161.2H1051.5V1161.7H1053V1159.1ZM1088.9 1159.1V1163.1H1090.4V1162.1H1091.9V1162.7H1093.4V1163.3H1094.9V1159.1ZM1100.9 1159.1V1161.3H1102.4V1161.3H1103.9V1159.1ZM1108.4 1159.1V1168.6H1109.9V1169.7H1111.4V1167.3H1112.9V1168.8H1114.3V1159.1ZM1127.8 1159.1V1168.5H1129.3V1169.9H1130.8V1169.8H1132.3V1168.4H1133.8V1169.2H1135.3V1169.6H1136.8V1170.8H1138.3V1169.9H1139.8V1170.9H1141.3V1170H1142.8V1168H1144.3V1167.5H1145.8V1168.9H1147.3V1169.5H1148.8V1169.5H1150.3V1169.3H1151.8V1169.1H1153.3V1167.8H1154.8V1169.3H1156.2V1168.3H1157.7V1169.1H1159.2V1169.9H1160.7V1168.3H1162.2V1169.1H1163.7V1170.8H1165.2V1170.9H1166.7V1170.9H1168.2V1170.9H1169.7V1170.8H1171.2V1170.9H1172.7V1170.9H1174.2V1170.2H1175.7V1170.9H1177.2V1170.9H1178.7V1170.9H1180.2V1170.9H1181.7V1170.9H1183.2V1170.9H1184.7V1170.9H1186.2V1170.9H1187.7V1170.9H1189.2V1170H1190.7V1170.9H1192.2V1170.8H1193.7V1170.9H1195.2V1159.1ZM1202.6 1159.1V1170.7H1204.1V1170.9H1205.6V1159.1ZM1210.1 1159.1V1167.6H1211.6V1167.2H1213.1V1166.7H1214.6V1159.1ZM1217.6 1159.1V1170.9H1219.1V1170.9H1220.6V1170.9H1222.1V1170.9H1223.6V1170.9H1225.1V1170.9H1226.6V1170.7H1228.1V1169.7H1229.6V1170.9H1231.1V1168.7H1232.6V1168.6H1234.1V1168.9H1235.6V1169.8H1237.1V1169.7H1238.5V1168.8H1240V1170.7H1241.5V1159.1ZM1255 1159.1V1168.3H1256.5V1169.8H1258V1170.4H1259.5V1168.2H1261V1169.2H1262.5V1170.1H1264V1169.4H1265.5V1169.1H1267V1159.1ZM1287.9 1159.1V1169H1289.4V1169.8H1290.9V1168.7H1292.4V1168.1H1293.9V1169.8H1295.4V1168.7H1296.9V1169.6H1298.4V1169.6H1299.9V1169.7H1301.4V1170.3H1302.9V1169.1H1304.4V1169.4H1305.9V1167.8H1307.4V1167.5H1308.9V1159.1ZM1311.9 1159.1V1167.8H1313.4V1169.1H1314.9V1170.6H1316.4V1170.2H1317.9V1169.9H1319.4V1170.4H1320.9V1170.9H1322.3V1170.9H1323.8V1170.3H1325.3V1159.1ZM1328.3 1159.1V1167.8H1329.8V1166.9H1331.3V1165.8H1332.8V1167.8H1334.3V1168.6H1335.8V1159.1ZM1338.8 1159.1V1169.6H1340.3V1168.5H1341.8V1170.1H1343.3V1169.5H1344.8V1170H1346.3V1170.9H1347.8V1169.9H1349.3V1159.1ZM1443.6 1159.1V1168.8H1445.1V1169.6H1446.5V1168.6H1448V1168.8H1449.5V1170.7H1451V1170.6H1452.5V1169.4H1454V1170.2H1455.5V1170.4H1457V1169.6H1458.5V1170.9H1460V1169.2H1461.5V1170.5H1463V1168.5H1464.5V1169.7H1466V1168H1467.5V1169.2H1469V1168.6H1470.5V1169.6H1472V1168.7H1473.5V1168.4H1475V1169.1H1476.5V1159.1ZM1479.5 1159.1V1169.1H1481V1170.1H1482.5V1167.1H1484V1168.5H1485.5V1168.8H1487V1168.2H1488.4V1168.4H1489.9V1167.9H1491.4V1159.1ZM1498.9 1159.1V1167.2H1500.4V1169.1H1501.9V1170.2H1503.4V1159.1ZM1507.9 1159.1V1164.9H1509.4V1166.3H1510.9V1166H1512.4V1159.1ZM1530.3 1159.1V1169.9H1531.8V1170.2H1533.3V1170.9H1534.8V1170.9H1536.3V1170.3H1537.8V1170.3H1539.3V1168.8H1540.8V1169.9H1542.3V1169.9H1543.8V1159.1ZM1548.3 1159.1V1170.7H1549.8V1170.9H1551.3V1170.5H1552.8V1170.1H1554.3V1168.2H1555.8V1167.8H1557.3V1170.2H1558.8V1170.8H1560.3V1169.7H1561.8V1170H1563.3V1169.3H1564.8V1169.5H1566.3V1170.1H1567.8V1170.9H1569.3V1170.4H1570.8V1170.9H1572.2V1170.9H1573.7V1159.1ZM1585.7 1159.1V1170.9H1587.2V1168.8H1588.7V1169.2H1590.2V1170.2H1591.7V1170H1593.2V1168.4H1594.7V1167H1596.2V1167.5H1597.7V1167.4H1599.2V1169H1600.7V1169.9H1602.2V1169.8H1603.7V1169.5H1605.2V1170.6H1606.7V1169.7H1608.2V1168.9H1609.7V1170.1H1611.2V1170H1612.6V1170.9H1614.1V1170.9H1615.6V1168.8H1617.1V1169.8H1618.6V1170.9H1620.1V1169.7H1621.6V1168.3H1623.1V1169.3H1624.6V1169H1626.1V1169.1H1627.6V1169.1H1629.1V1167.5H1630.6V1167.3H1632.1V1167.3H1633.6V1166.9H1635.1V1168.4H1636.6V1167.5H1638.1V1167.1H1639.6V1166.4H1641.1V1167.8H1642.6V1168.5H1644.1V1169.8H1645.6V1170.9H1647.1V1170.9H1648.6V1170.6H1650.1V1170.9H1651.6V1170.9H1653.1V1169H1654.5V1169.7H1656V1169.8H1657.5V1169.5H1659V1169.6H1660.5V1168.6H1662V1166.7H1663.5V1168.2H1665V1167.9H1666.5V1167.9H1668V1167.5H1669.5V1167.2H1671V1169.4H1672.5V1168.7H1674V1170.4H1675.5V1159.1ZM1684.5 1159.1V1165.4H1686V1165.9H1687.5V1166.3H1689V1168H1690.5V1167.6H1692V1168.6H1693.5V1168.3H1695V1159.1ZM1732.4 1159.1V1170.2H1733.9V1169.9H1735.4V1169.1H1736.9V1169.8H1738.3V1169.7H1739.8V1169.1H1741.3V1170.5H1742.8V1168.3H1744.3V1159.1ZM1748.8 1159.1V1166.9H1750.3V1169.4H1751.8V1169H1753.3V1170.4H1754.8V1169.1H1756.3V1169.8H1757.8V1159.1Z" fill="#4540a3" stroke="#4540a3" stroke-width="3.4" stroke-linejoin="round"/>
<path d="M1009.6 1159.1V1147.9H1011.1V1149H1012.6V1148.9H1014.1V1147.3H1015.6V1148.9H1017.1V1151.1H1018.6V1151.2H1020.1V1150H1021.6V1150H1023.1V1150.3H1024.6V1148.3H1026.1V1150.2H1027.6V1148.9H1029.1V1148.6H1030.5V1150H1032V1150.7H1033.5V1149.2H1035V1149.3H1036.5V1147.3H1038V1147.3H1039.5V1147.3H1041V1147.3H1042.5V1149.1H1044V1147.3H1045.5V1148.3H1047V1148.4H1048.5V1159.1ZM1053 1159.1V1148.4H1054.5V1149.5H1056V1150.1H1057.5V1149.3H1059V1150.3H1060.5V1150.3H1062V1152.2H1063.5V1150.7H1065V1150.6H1066.5V1150H1068V1149.8H1069.5V1152.6H1071V1152.5H1072.4V1153.1H1073.9V1153.7H1075.4V1152.4H1076.9V1153.5H1078.4V1153.2H1079.9V1153H1081.4V1152.1H1082.9V1153H1084.4V1151.7H1085.9V1152H1087.4V1152.3H1088.9V1159.1ZM1094.9 1159.1V1153.8H1096.4V1152H1097.9V1153H1099.4V1153.8H1100.9V1159.1ZM1103.9 1159.1V1153.5H1105.4V1154.7H1106.9V1153.5H1108.4V1159.1ZM1114.3 1159.1V1152.2H1115.8V1152.3H1117.3V1154.2H1118.8V1153H1120.3V1153.5H1121.8V1154.6H1123.3V1155.2H1124.8V1156.2H1126.3V1156.2H1127.8V1159.1ZM1195.2 1159.1V1153.3H1196.7V1154.2H1198.1V1152.7H1199.6V1153.6H1201.1V1153.3H1202.6V1159.1ZM1205.6 1159.1V1154.7H1207.1V1155.1H1208.6V1155.6H1210.1V1159.1ZM1214.6 1159.1V1155.2H1216.1V1155H1217.6V1159.1ZM1241.5 1159.1V1152H1243V1152.9H1244.5V1151.8H1246V1150.8H1247.5V1151.3H1249V1152H1250.5V1150.6H1252V1151.7H1253.5V1152.3H1255V1159.1ZM1308.9 1159.1V1157H1310.4V1156H1311.9V1159.1ZM1325.3 1159.1V1156.7H1326.8V1155.9H1328.3V1159.1ZM1335.8 1159.1V1156H1337.3V1155.4H1338.8V1159.1ZM1349.3 1159.1V1149.8H1350.8V1151.2H1352.3V1149H1353.8V1150.4H1355.3V1151.1H1356.8V1151H1358.3V1148.5H1359.8V1148.9H1361.3V1147.6H1362.8V1150.3H1364.2V1150.4H1365.7V1147.8H1367.2V1149.8H1368.7V1147.3H1370.2V1149.2H1371.7V1150.6H1373.2V1150.5H1374.7V1150.7H1376.2V1148.3H1377.7V1150.2H1379.2V1152.1H1380.7V1151.6H1382.2V1149.8H1383.7V1147.6H1385.2V1147.3H1386.7V1147.6H1388.2V1148.7H1389.7V1148.5H1391.2V1148.1H1392.7V1147.3H1394.2V1149.5H1395.7V1148.9H1397.2V1147.5H1398.7V1148.3H1400.2V1147.3H1401.7V1147.6H1403.2V1148.7H1404.6V1148.3H1406.1V1149.3H1407.6V1148.5H1409.1V1147.3H1410.6V1147.4H1412.1V1149.8H1413.6V1148H1415.1V1150.8H1416.6V1149.8H1418.1V1150H1419.6V1151.2H1421.1V1149.9H1422.6V1149.3H1424.1V1150.6H1425.6V1152.3H1427.1V1150.9H1428.6V1150.2H1430.1V1150H1431.6V1151.1H1433.1V1150.7H1434.6V1151.9H1436.1V1151.7H1437.6V1151.6H1439.1V1151H1440.6V1151.3H1442.1V1150.6H1443.6V1159.1ZM1476.5 1159.1V1154.2H1478V1154.3H1479.5V1159.1ZM1491.4 1159.1V1153.6H1492.9V1153.2H1494.4V1154.1H1495.9V1152.3H1497.4V1152.8H1498.9V1159.1ZM1503.4 1159.1V1152.1H1504.9V1152.7H1506.4V1153.6H1507.9V1159.1ZM1512.4 1159.1V1152.6H1513.9V1153.2H1515.4V1152H1516.9V1153H1518.4V1152.9H1519.9V1152H1521.4V1152.1H1522.9V1153H1524.4V1153.4H1525.9V1153.5H1527.4V1152.9H1528.9V1153.7H1530.3V1159.1ZM1543.8 1159.1V1153.6H1545.3V1153.8H1546.8V1153.4H1548.3V1159.1ZM1573.7 1159.1V1154.8H1575.2V1155.2H1576.7V1154.9H1578.2V1155.7H1579.7V1154.6H1581.2V1154.8H1582.7V1154.5H1584.2V1154.8H1585.7V1159.1ZM1675.5 1159.1V1154.7H1677V1153.9H1678.5V1155.1H1680V1154.8H1681.5V1155.7H1683V1155.5H1684.5V1159.1ZM1695 1159.1V1153.3H1696.4V1152.4H1697.9V1153.1H1699.4V1153H1700.9V1152.6H1702.4V1151.2H1703.9V1151.8H1705.4V1151.4H1706.9V1152.2H1708.4V1151.4H1709.9V1150.1H1711.4V1152.3H1712.9V1151.8H1714.4V1152.5H1715.9V1153.4H1717.4V1151.8H1718.9V1152.8H1720.4V1153.7H1721.9V1152.2H1723.4V1152.9H1724.9V1152.8H1726.4V1152.2H1727.9V1152.8H1729.4V1154.3H1730.9V1152.6H1732.4V1159.1ZM1744.3 1159.1V1155.5H1745.8V1155.1H1747.3V1155.5H1748.8V1159.1Z" fill="#df2d26" stroke="#df2d26" stroke-width="3.4" stroke-linejoin="round"/>
<line x1="1004.6" y1="1143.1" x2="1004.6" y2="1173.5" stroke="#000" stroke-width="1.2"/>
<line x1="1003" y1="1143.1" x2="1004.6" y2="1143.1" stroke="#000" stroke-width="1.2"/>
<line x1="1003" y1="1173.5" x2="1004.6" y2="1173.5" stroke="#000" stroke-width="1.2"/>
<text x="1001.2" y="1149.3" font-size="8.8" text-anchor="end" stroke="#000" stroke-width="0.21" textLength="3.8" lengthAdjust="spacingAndGlyphs">1</text>
<text x="1001.2" y="1175.3" font-size="8.8" text-anchor="end" stroke="#000" stroke-width="0.21" textLength="8" lengthAdjust="spacingAndGlyphs">-1</text>
<text x="1001.2" y="1162.3" font-size="8.8" text-anchor="end" stroke="#000" stroke-width="0.21" textLength="5" lengthAdjust="spacingAndGlyphs">0</text>
<text x="984.5" y="1164.5" font-size="17.5" text-anchor="end" stroke="#000" stroke-width="0.41" textLength="117.4" lengthAdjust="spacingAndGlyphs">Compartments</text>
<rect x="1008" y="1176.3" width="3.2" height="2.8" fill="#000"/>
<text x="1009.6" y="1188.3" font-size="9.2" text-anchor="middle" stroke="#000" stroke-width="0.21" textLength="5.3" lengthAdjust="spacingAndGlyphs">0</text>
<rect x="1195.1" y="1176.3" width="3.2" height="2.8" fill="#000"/>
<text x="1196.7" y="1188.3" font-size="9.2" text-anchor="middle" stroke="#000" stroke-width="0.21" textLength="16" lengthAdjust="spacingAndGlyphs">250</text>
<rect x="1382.1" y="1176.3" width="3.2" height="2.8" fill="#000"/>
<text x="1383.7" y="1188.3" font-size="9.2" text-anchor="middle" stroke="#000" stroke-width="0.21" textLength="16" lengthAdjust="spacingAndGlyphs">500</text>
<rect x="1569.2" y="1176.3" width="3.2" height="2.8" fill="#000"/>
<text x="1570.8" y="1188.3" font-size="9.2" text-anchor="middle" stroke="#000" stroke-width="0.21" textLength="16" lengthAdjust="spacingAndGlyphs">750</text>
<rect x="1756.2" y="1176.3" width="3.2" height="2.8" fill="#000"/>
<text x="1757.8" y="1188.3" font-size="9.2" text-anchor="middle" stroke="#000" stroke-width="0.21" textLength="21.4" lengthAdjust="spacingAndGlyphs">1000</text>
<path d="M1010.5 1231.1v-25.5M1011.5 1231.1v-14M1012.5 1231.1v-4.7M1013.5 1231.1v-13.9M1014.5 1231.1v-3.2M1015.5 1231.1v-3.5M1017.5 1231.1v-8.4M1018.5 1231.1v-22.9M1019.5 1231.1v-5.2M1020.5 1231.1v-2.8M1021.5 1231.1v-7.3M1022.5 1231.1v-7.7M1023.5 1231.1v-11.4M1024.5 1231.1v-15.9M1025.5 1231.1v-4.4M1026.5 1231.1v-3M1027.5 1231.1v-12.4M1028.5 1231.1v-3M1029.5 1231.1v-7.1M1030.5 1231.1v-13.9M1032.5 1231.1v-2.6M1033.5 1231.1v-15M1034.5 1231.1v-6.9M1035.5 1231.1v-7.5M1036.5 1231.1v-12.7M1037.5 1231.1v-9.8M1038.5 1231.1v-28.1M1039.5 1231.1v-18.7M1040.5 1231.1v-3.7M1041.5 1231.1v-9.3M1042.5 1231.1v-23.4M1043.5 1231.1v-13.1M1044.5 1231.1v-5.2M1045.5 1231.1v-3.8M1046.5 1231.1v-7.3M1048.5 1231.1v-4.3M1049.5 1231.1v-9.3M1050.5 1231.1v-21.8M1051.5 1231.1v-4.2M1052.5 1231.1v-10.6M1053.5 1231.1v-6.7M1054.5 1231.1v-5M1055.5 1231.1v-6M1056.5 1231.1v-4.9M1057.5 1231.1v-6.1M1058.5 1231.1v-15.1M1059.5 1231.1v-22.2M1060.5 1231.1v-16.4M1061.5 1231.1v-6.4M1063.5 1231.1v-5.2M1064.5 1231.1v-12.8M1065.5 1231.1v-6.8M1066.5 1231.1v-6.2M1067.5 1231.1v-19.5M1068.5 1231.1v-21.4M1069.5 1231.1v-3.6M1070.5 1231.1v-28.1M1071.5 1231.1v-3.7M1072.5 1231.1v-9.8M1073.5 1231.1v-8.6M1074.5 1231.1v-3.7M1075.5 1231.1v-1.9M1076.5 1231.1v-3.3M1077.5 1231.1v-9M1079.5 1231.1v-6.1M1080.5 1231.1v-2.8M1081.5 1231.1v-12.1M1082.5 1231.1v-6.3M1083.5 1231.1v-3.2M1084.5 1231.1v-2.9M1085.5 1231.1v-3.6M1086.5 1231.1v-5.9M1087.5 1231.1v-25.3M1088.5 1231.1v-3.8M1089.5 1231.1v-3.4M1090.5 1231.1v-10.4M1091.5 1231.1v-1.6M1092.5 1231.1v-4.7M1094.5 1231.1v-4M1095.5 1231.1v-3.4M1096.5 1231.1v-6.2M1097.5 1231.1v-2.4M1098.5 1231.1v-2.7M1099.5 1231.1v-6.4M1100.5 1231.1v-21.7M1101.5 1231.1v-1.7M1102.5 1231.1v-12M1103.5 1231.1v-0.9M1104.5 1231.1v-2.1M1105.5 1231.1v-2.7M1106.5 1231.1v-19.7M1107.5 1231.1v-1.3M1108.5 1231.1v-19.1M1110.5 1231.1v-1.6M1111.5 1231.1v-2.6M1112.5 1231.1v-7.9M1113.5 1231.1v-3.9M1114.5 1231.1v-2.4M1115.5 1231.1v-8.5M1116.5 1231.1v-13.6M1117.5 1231.1v-3.3M1118.5 1231.1v-3.2M1119.5 1231.1v-3.1M1120.5 1231.1v-3.6M1121.5 1231.1v-1.6M1122.5 1231.1v-2.6M1123.5 1231.1v-8.1M1125.5 1231.1v-1.5M1126.5 1231.1v-2.2M1127.5 1231.1v-1.7M1128.5 1231.1v-3.1M1129.5 1231.1v-3.4M1130.5 1231.1v-0.6M1131.5 1231.1v-0.5M1132.5 1231.1v-0.5M1133.5 1231.1v-0.9M1134.5 1231.1v-0.7M1135.5 1231.1v-1.3M1136.5 1231.1v-0.6M1137.5 1231.1v-0.6M1138.5 1231.1v-1.6M1141.5 1231.1v-0.4M1142.5 1231.1v-0.3M1143.5 1231.1v-0.3M1144.5 1231.1v-1.4M1146.5 1231.1v-1.5M1147.5 1231.1v-0.8M1148.5 1231.1v-0.3M1153.5 1231.1v-0.5M1154.5 1231.1v-0.3M1155.5 1231.1v-0.3M1157.5 1231.1v-0.5M1158.5 1231.1v-0.3M1159.5 1231.1v-0.5M1160.5 1231.1v-0.3M1161.5 1231.1v-0.3M1162.5 1231.1v-0.6M1163.5 1231.1v-0.5M1164.5 1231.1v-1.1M1165.5 1231.1v-0.4M1166.5 1231.1v-0.4M1167.5 1231.1v-1.7M1168.5 1231.1v-0.8M1170.5 1231.1v-1.7M1172.5 1231.1v-0.9M1173.5 1231.1v-0.5M1174.5 1231.1v-0.3M1175.5 1231.1v-1.2M1176.5 1231.1v-0.9M1177.5 1231.1v-0.6M1178.5 1231.1v-0.7M1179.5 1231.1v-1.4M1180.5 1231.1v-4.3M1181.5 1231.1v-4.9M1182.5 1231.1v-2.5M1183.5 1231.1v-4.7M1184.5 1231.1v-7.7M1185.5 1231.1v-4.2M1186.5 1231.1v-2.5M1188.5 1231.1v-9.3M1189.5 1231.1v-3.2M1190.5 1231.1v-2.6M1191.5 1231.1v-2.8M1192.5 1231.1v-9.9M1193.5 1231.1v-2.5M1194.5 1231.1v-3.2M1195.5 1231.1v-1.4M1196.5 1231.1v-2.3M1197.5 1231.1v-25.4M1198.5 1231.1v-9.2M1199.5 1231.1v-1.7M1200.5 1231.1v-2.6M1201.5 1231.1v-3.4M1203.5 1231.1v-4M1204.5 1231.1v-5.4M1205.5 1231.1v-4.7M1206.5 1231.1v-1.5M1207.5 1231.1v-17.8M1208.5 1231.1v-4.6M1209.5 1231.1v-1.2M1210.5 1231.1v-1.7M1211.5 1231.1v-1.2M1212.5 1231.1v-0.8M1213.5 1231.1v-1.7M1214.5 1231.1v-2.1M1215.5 1231.1v-1.7M1216.5 1231.1v-6.9M1217.5 1231.1v-3.7M1219.5 1231.1v-0.9M1220.5 1231.1v-2.1M1221.5 1231.1v-4.7M1222.5 1231.1v-4.3M1223.5 1231.1v-0.7M1226.5 1231.1v-0.3M1227.5 1231.1v-0.5M1229.5 1231.1v-0.9M1230.5 1231.1v-0.5M1231.5 1231.1v-0.8M1232.5 1231.1v-0.5M1236.5 1231.1v-1.2M1237.5 1231.1v-0.4M1238.5 1231.1v-9.4M1239.5 1231.1v-1M1240.5 1231.1v-6.4M1241.5 1231.1v-1.9M1242.5 1231.1v-2M1243.5 1231.1v-8.2M1244.5 1231.1v-4.1M1245.5 1231.1v-5.6M1246.5 1231.1v-4.1M1247.5 1231.1v-6.5M1248.5 1231.1v-3.4M1250.5 1231.1v-5.3M1251.5 1231.1v-16.5M1252.5 1231.1v-4.3M1253.5 1231.1v-6.6M1254.5 1231.1v-4.3M1255.5 1231.1v-9M1256.5 1231.1v-1.1M1257.5 1231.1v-1M1258.5 1231.1v-1.5M1259.5 1231.1v-1.4M1260.5 1231.1v-1M1261.5 1231.1v-3.3M1262.5 1231.1v-0.6M1263.5 1231.1v-1.5M1265.5 1231.1v-1.1M1266.5 1231.1v-0.3M1289.5 1231.1v-1.5M1290.5 1231.1v-2.5M1291.5 1231.1v-2.3M1292.5 1231.1v-2.7M1293.5 1231.1v-1.8M1294.5 1231.1v-1.1M1296.5 1231.1v-2.6M1297.5 1231.1v-1.2M1298.5 1231.1v-1.1M1299.5 1231.1v-1.7M1300.5 1231.1v-0.6M1301.5 1231.1v-3.7M1302.5 1231.1v-2.5M1303.5 1231.1v-0.7M1304.5 1231.1v-6.1M1305.5 1231.1v-2.1M1306.5 1231.1v-1.6M1307.5 1231.1v-2.8M1308.5 1231.1v-2.2M1309.5 1231.1v-7.7M1310.5 1231.1v-6.6M1312.5 1231.1v-3.3M1313.5 1231.1v-8.3M1314.5 1231.1v-8.3M1315.5 1231.1v-6.2M1316.5 1231.1v-3.3M1317.5 1231.1v-8.3M1318.5 1231.1v-3.4M1319.5 1231.1v-6M1320.5 1231.1v-1.5M1321.5 1231.1v-4.2M1322.5 1231.1v-1.3M1323.5 1231.1v-3.6M1324.5 1231.1v-2.4M1325.5 1231.1v-2.2M1327.5 1231.1v-2.8M1328.5 1231.1v-3.5M1329.5 1231.1v-0.5M1330.5 1231.1v-3M1331.5 1231.1v-1.2M1332.5 1231.1v-1M1333.5 1231.1v-0.6M1334.5 1231.1v-0.6M1335.5 1231.1v-2.7M1336.5 1231.1v-0.9M1337.5 1231.1v-6.5M1338.5 1231.1v-14M1339.5 1231.1v-3.4M1340.5 1231.1v-3M1341.5 1231.1v-5.2M1343.5 1231.1v-3.7M1344.5 1231.1v-2.3M1345.5 1231.1v-2.5M1346.5 1231.1v-2.2M1347.5 1231.1v-5.8M1348.5 1231.1v-9.7M1349.5 1231.1v-6.9M1350.5 1231.1v-27.3M1351.5 1231.1v-4.4M1352.5 1231.1v-8.1M1353.5 1231.1v-15.2M1354.5 1231.1v-7M1355.5 1231.1v-5.6M1356.5 1231.1v-28.1M1358.5 1231.1v-10.6M1359.5 1231.1v-8.2M1360.5 1231.1v-22.5M1361.5 1231.1v-8.8M1362.5 1231.1v-12.5M1363.5 1231.1v-17.7M1364.5 1231.1v-27M1365.5 1231.1v-18.8M1366.5 1231.1v-3.1M1367.5 1231.1v-8.2M1368.5 1231.1v-23M1369.5 1231.1v-4.4M1370.5 1231.1v-5.7M1371.5 1231.1v-10.8M1372.5 1231.1v-22.1M1374.5 1231.1v-28.1M1375.5 1231.1v-8.5M1376.5 1231.1v-3M1377.5 1231.1v-4M1378.5 1231.1v-14.1M1379.5 1231.1v-6.6M1380.5 1231.1v-6M1381.5 1231.1v-23.6M1382.5 1231.1v-8.4M1383.5 1231.1v-20.6M1384.5 1231.1v-2.1M1385.5 1231.1v-4.3M1386.5 1231.1v-12.1M1387.5 1231.1v-25.2M1389.5 1231.1v-7.6M1390.5 1231.1v-21.4M1391.5 1231.1v-4.5M1392.5 1231.1v-14.3M1393.5 1231.1v-10.4M1394.5 1231.1v-10.7M1395.5 1231.1v-3.9M1396.5 1231.1v-8.9M1397.5 1231.1v-21.1M1398.5 1231.1v-3.1M1399.5 1231.1v-3.9M1400.5 1231.1v-6.9M1401.5 1231.1v-4.6M1402.5 1231.1v-8.7M1403.5 1231.1v-17.1M1405.5 1231.1v-12.6M1406.5 1231.1v-11.7M1407.5 1231.1v-11M1408.5 1231.1v-6.5M1409.5 1231.1v-10.2M1410.5 1231.1v-15M1411.5 1231.1v-12.5M1412.5 1231.1v-12.3M1413.5 1231.1v-6.1M1414.5 1231.1v-24.8M1415.5 1231.1v-17.6M1416.5 1231.1v-13.9M1417.5 1231.1v-9.2M1418.5 1231.1v-28.1M1420.5 1231.1v-7.2M1421.5 1231.1v-14.9M1422.5 1231.1v-8.8M1423.5 1231.1v-2M1424.5 1231.1v-6.4M1425.5 1231.1v-14.5M1426.5 1231.1v-25.9M1427.5 1231.1v-2.7M1428.5 1231.1v-12M1429.5 1231.1v-11.1M1430.5 1231.1v-7.5M1431.5 1231.1v-8.7M1432.5 1231.1v-10.5M1433.5 1231.1v-2.2M1434.5 1231.1v-2.4M1436.5 1231.1v-5.2M1437.5 1231.1v-4.5M1438.5 1231.1v-1.8M1439.5 1231.1v-1.2M1440.5 1231.1v-1.5M1441.5 1231.1v-1.5M1442.5 1231.1v-3.9M1443.5 1231.1v-1.8M1444.5 1231.1v-1.4M1446.5 1231.1v-0.5M1447.5 1231.1v-1M1448.5 1231.1v-0.6M1452.5 1231.1v-0.3M1455.5 1231.1v-0.5M1456.5 1231.1v-0.4M1457.5 1231.1v-2.6M1458.5 1231.1v-1.1M1459.5 1231.1v-3.9M1460.5 1231.1v-4.1M1461.5 1231.1v-2.3M1462.5 1231.1v-4.1M1463.5 1231.1v-3M1464.5 1231.1v-3.5M1465.5 1231.1v-1.6M1467.5 1231.1v-0.6M1468.5 1231.1v-1.9M1469.5 1231.1v-0.6M1470.5 1231.1v-0.8M1471.5 1231.1v-4.2M1472.5 1231.1v-0.5M1473.5 1231.1v-4.4M1474.5 1231.1v-2.8M1475.5 1231.1v-3.8M1476.5 1231.1v-4.2M1477.5 1231.1v-2.9M1478.5 1231.1v-5.8M1479.5 1231.1v-8.9M1480.5 1231.1v-3.3M1482.5 1231.1v-2.4M1483.5 1231.1v-10.5M1484.5 1231.1v-1M1485.5 1231.1v-2.7M1486.5 1231.1v-3.3M1487.5 1231.1v-2.1M1488.5 1231.1v-0.6M1489.5 1231.1v-2.5M1490.5 1231.1v-0.9M1491.5 1231.1v-1.4M1492.5 1231.1v-7.7M1493.5 1231.1v-6.7M1494.5 1231.1v-2.1M1495.5 1231.1v-1.8M1496.5 1231.1v-3M1498.5 1231.1v-19.7M1499.5 1231.1v-6.5M1500.5 1231.1v-0.7M1501.5 1231.1v-2M1502.5 1231.1v-5.5M1503.5 1231.1v-1.7M1504.5 1231.1v-1.1M1505.5 1231.1v-8M1506.5 1231.1v-1.7M1507.5 1231.1v-3.7M1508.5 1231.1v-3.8M1509.5 1231.1v-6.3M1510.5 1231.1v-3.8M1511.5 1231.1v-1.2M1512.5 1231.1v-2.8M1514.5 1231.1v-2M1515.5 1231.1v-6.8M1516.5 1231.1v-3.6M1517.5 1231.1v-4.1M1518.5 1231.1v-5.1M1519.5 1231.1v-10.4M1520.5 1231.1v-3.6M1521.5 1231.1v-3M1522.5 1231.1v-14.4M1523.5 1231.1v-12.6M1524.5 1231.1v-28.1M1525.5 1231.1v-12.7M1526.5 1231.1v-7M1527.5 1231.1v-5.8M1529.5 1231.1v-28.1M1530.5 1231.1v-2.5M1531.5 1231.1v-5.3M1532.5 1231.1v-4.6M1533.5 1231.1v-4.7M1534.5 1231.1v-2.6M1535.5 1231.1v-1.7M1536.5 1231.1v-1.2M1537.5 1231.1v-1.4M1538.5 1231.1v-1.1M1539.5 1231.1v-1.5M1540.5 1231.1v-5.7M1541.5 1231.1v-4M1542.5 1231.1v-11.7M1543.5 1231.1v-6.8M1545.5 1231.1v-3.8M1546.5 1231.1v-4.7M1547.5 1231.1v-2.2M1548.5 1231.1v-7.9M1549.5 1231.1v-5.2M1550.5 1231.1v-2.8M1551.5 1231.1v-4.2M1552.5 1231.1v-3.9M1553.5 1231.1v-3M1554.5 1231.1v-4.2M1555.5 1231.1v-1.6M1556.5 1231.1v-3.3M1557.5 1231.1v-4.8M1558.5 1231.1v-1.5M1560.5 1231.1v-1.9M1561.5 1231.1v-3.2M1562.5 1231.1v-0.4M1563.5 1231.1v-0.3M1564.5 1231.1v-1.4M1565.5 1231.1v-0.5M1566.5 1231.1v-0.4M1567.5 1231.1v-2.3M1568.5 1231.1v-1.1M1569.5 1231.1v-3.7M1570.5 1231.1v-1.5M1571.5 1231.1v-0.8M1572.5 1231.1v-8.5M1573.5 1231.1v-3.3M1574.5 1231.1v-8M1576.5 1231.1v-2.6M1577.5 1231.1v-4.1M1578.5 1231.1v-13.9M1579.5 1231.1v-14.7M1580.5 1231.1v-5.5M1581.5 1231.1v-6.9M1582.5 1231.1v-2M1583.5 1231.1v-10.3M1584.5 1231.1v-5.8M1585.5 1231.1v-2.6M1586.5 1231.1v-1.8M1587.5 1231.1v-2.3M1588.5 1231.1v-0.7M1589.5 1231.1v-0.7M1591.5 1231.1v-0.8M1592.5 1231.1v-26.3M1593.5 1231.1v-2.3M1594.5 1231.1v-1.1M1595.5 1231.1v-23.6M1596.5 1231.1v-0.6M1598.5 1231.1v-1.3M1600.5 1231.1v-0.3M1601.5 1231.1v-0.5M1602.5 1231.1v-0.4M1604.5 1231.1v-0.5M1605.5 1231.1v-1M1608.5 1231.1v-0.7M1609.5 1231.1v-0.5M1610.5 1231.1v-0.5M1611.5 1231.1v-0.3M1613.5 1231.1v-1.6M1614.5 1231.1v-0.9M1616.5 1231.1v-1.4M1617.5 1231.1v-20.9M1618.5 1231.1v-0.3M1620.5 1231.1v-0.3M1622.5 1231.1v-0.6M1623.5 1231.1v-0.5M1624.5 1231.1v-0.3M1625.5 1231.1v-0.3M1626.5 1231.1v-1.6M1627.5 1231.1v-0.3M1628.5 1231.1v-0.3M1629.5 1231.1v-0.5M1630.5 1231.1v-0.6M1631.5 1231.1v-0.5M1633.5 1231.1v-26.3M1634.5 1231.1v-0.4M1635.5 1231.1v-0.9M1636.5 1231.1v-0.3M1638.5 1231.1v-0.3M1640.5 1231.1v-1.5M1642.5 1231.1v-0.7M1644.5 1231.1v-1.7M1645.5 1231.1v-0.9M1646.5 1231.1v-3.5M1647.5 1231.1v-0.9M1648.5 1231.1v-0.5M1649.5 1231.1v-1.2M1650.5 1231.1v-1.7M1651.5 1231.1v-2.5M1653.5 1231.1v-1.4M1654.5 1231.1v-3.3M1655.5 1231.1v-2.7M1656.5 1231.1v-1.2M1657.5 1231.1v-0.8M1658.5 1231.1v-1.8M1659.5 1231.1v-1.9M1660.5 1231.1v-1M1661.5 1231.1v-0.5M1662.5 1231.1v-1.3M1663.5 1231.1v-1.5M1664.5 1231.1v-2.6M1665.5 1231.1v-1.5M1666.5 1231.1v-0.9M1667.5 1231.1v-3M1669.5 1231.1v-1.3M1670.5 1231.1v-1.8M1671.5 1231.1v-2.1M1672.5 1231.1v-0.4M1673.5 1231.1v-1.8M1674.5 1231.1v-0.3M1675.5 1231.1v-0.4M1676.5 1231.1v-1.2M1677.5 1231.1v-3.5M1678.5 1231.1v-23.5M1679.5 1231.1v-2.4M1680.5 1231.1v-1.1M1681.5 1231.1v-2.6M1682.5 1231.1v-3.2M1684.5 1231.1v-3.9M1685.5 1231.1v-1M1686.5 1231.1v-1.5M1687.5 1231.1v-0.8M1688.5 1231.1v-1.4M1689.5 1231.1v-0.8M1690.5 1231.1v-1.6M1691.5 1231.1v-1.3M1692.5 1231.1v-3.4M1693.5 1231.1v-11.5M1694.5 1231.1v-8.6M1695.5 1231.1v-8.1M1696.5 1231.1v-20.7M1697.5 1231.1v-2.5M1698.5 1231.1v-3.6M1700.5 1231.1v-2.8M1701.5 1231.1v-3.7M1702.5 1231.1v-8.9M1703.5 1231.1v-12.2M1704.5 1231.1v-4.4M1705.5 1231.1v-3.8M1706.5 1231.1v-3M1707.5 1231.1v-2.2M1708.5 1231.1v-2.2M1709.5 1231.1v-4.7M1710.5 1231.1v-2.2M1711.5 1231.1v-6.7M1712.5 1231.1v-1.6M1713.5 1231.1v-20.4M1715.5 1231.1v-1.3M1716.5 1231.1v-10.6M1717.5 1231.1v-3M1718.5 1231.1v-2.6M1719.5 1231.1v-2.7M1720.5 1231.1v-6.8M1721.5 1231.1v-11.2M1722.5 1231.1v-7.8M1723.5 1231.1v-10.7M1724.5 1231.1v-2.1M1725.5 1231.1v-8.9M1726.5 1231.1v-3M1727.5 1231.1v-8M1728.5 1231.1v-2.3M1729.5 1231.1v-13.2M1731.5 1231.1v-6.4M1732.5 1231.1v-10M1733.5 1231.1v-2.5M1734.5 1231.1v-1M1735.5 1231.1v-0.7M1736.5 1231.1v-3.3M1737.5 1231.1v-1.1M1738.5 1231.1v-0.3M1739.5 1231.1v-1.3M1740.5 1231.1v-0.5M1741.5 1231.1v-1.5M1742.5 1231.1v-0.3M1746.5 1231.1v-0.9M1747.5 1231.1v-1.2M1748.5 1231.1v-1.8M1749.5 1231.1v-3.1M1755.5 1231.1v-0.4M1756.5 1231.1v-1M1757.5 1231.1v-0.3" fill="none" stroke="#f5a02a" stroke-width="1.0"/>
<line x1="1009.6" y1="1230.7" x2="1757.8" y2="1230.7" stroke="#f5a02a" stroke-width="2.2"/>
<line x1="1004.6" y1="1200.6" x2="1004.6" y2="1231.1" stroke="#000" stroke-width="1.2"/>
<line x1="1003" y1="1200.6" x2="1004.6" y2="1200.6" stroke="#000" stroke-width="1.2"/>
<line x1="1003" y1="1231.1" x2="1004.6" y2="1231.1" stroke="#000" stroke-width="1.2"/>
<text x="1001.2" y="1205.8" font-size="8.8" text-anchor="end" stroke="#000" stroke-width="0.21" textLength="5" lengthAdjust="spacingAndGlyphs">6</text>
<text x="1001.2" y="1232.3" font-size="8.8" text-anchor="end" stroke="#000" stroke-width="0.21" textLength="5" lengthAdjust="spacingAndGlyphs">0</text>
<text x="984.5" y="1222.5" font-size="17.5" text-anchor="end" stroke="#000" stroke-width="0.41" textLength="75.7" lengthAdjust="spacingAndGlyphs">H3K4me1</text>
<rect x="1008" y="1232.9" width="3.2" height="2.8" fill="#000"/>
<text x="1009.6" y="1245.5" font-size="9.2" text-anchor="middle" stroke="#000" stroke-width="0.21" textLength="5.3" lengthAdjust="spacingAndGlyphs">0</text>
<rect x="1195.1" y="1232.9" width="3.2" height="2.8" fill="#000"/>
<text x="1196.7" y="1245.5" font-size="9.2" text-anchor="middle" stroke="#000" stroke-width="0.21" textLength="16" lengthAdjust="spacingAndGlyphs">250</text>
<rect x="1382.1" y="1232.9" width="3.2" height="2.8" fill="#000"/>
<text x="1383.7" y="1245.5" font-size="9.2" text-anchor="middle" stroke="#000" stroke-width="0.21" textLength="16" lengthAdjust="spacingAndGlyphs">500</text>
<rect x="1569.2" y="1232.9" width="3.2" height="2.8" fill="#000"/>
<text x="1570.8" y="1245.5" font-size="9.2" text-anchor="middle" stroke="#000" stroke-width="0.21" textLength="16" lengthAdjust="spacingAndGlyphs">750</text>
<rect x="1756.2" y="1232.9" width="3.2" height="2.8" fill="#000"/>
<text x="1757.8" y="1245.5" font-size="9.2" text-anchor="middle" stroke="#000" stroke-width="0.21" textLength="21.4" lengthAdjust="spacingAndGlyphs">1000</text>
<path d="M1010.5 1288.6v-14.2M1011.5 1288.6v-4.9M1012.5 1288.6v-24.8M1013.5 1288.6v-4.5M1014.5 1288.6v-4.6M1015.5 1288.6v-22.7M1017.5 1288.6v-3.9M1018.5 1288.6v-7.4M1019.5 1288.6v-7.4M1020.5 1288.6v-5.4M1021.5 1288.6v-15.9M1022.5 1288.6v-13.7M1023.5 1288.6v-7.4M1024.5 1288.6v-26.5M1025.5 1288.6v-18.4M1026.5 1288.6v-6.3M1027.5 1288.6v-3.1M1028.5 1288.6v-3.8M1029.5 1288.6v-10.6M1030.5 1288.6v-7.1M1032.5 1288.6v-19.4M1033.5 1288.6v-6.6M1034.5 1288.6v-9.7M1035.5 1288.6v-3M1036.5 1288.6v-3.9M1037.5 1288.6v-3.2M1038.5 1288.6v-13M1039.5 1288.6v-6.6M1040.5 1288.6v-2.8M1041.5 1288.6v-0.9M1042.5 1288.6v-11.2M1043.5 1288.6v-8.6M1044.5 1288.6v-1.7M1045.5 1288.6v-1.7M1046.5 1288.6v-3.6M1048.5 1288.6v-8.4M1049.5 1288.6v-13.3M1050.5 1288.6v-2.3M1051.5 1288.6v-7.6M1052.5 1288.6v-13.5M1053.5 1288.6v-5.2M1054.5 1288.6v-28.1M1055.5 1288.6v-28.1M1056.5 1288.6v-28.1M1057.5 1288.6v-15.3M1058.5 1288.6v-28.1M1059.5 1288.6v-28.1M1060.5 1288.6v-28.1M1061.5 1288.6v-18.9M1063.5 1288.6v-17.6M1064.5 1288.6v-17.1M1065.5 1288.6v-9.3M1066.5 1288.6v-11.2M1067.5 1288.6v-8.5M1068.5 1288.6v-15.4M1069.5 1288.6v-15.7M1070.5 1288.6v-12.3M1071.5 1288.6v-4.1M1072.5 1288.6v-6.9M1073.5 1288.6v-12.4M1074.5 1288.6v-8.4M1075.5 1288.6v-3.7M1076.5 1288.6v-6.6M1077.5 1288.6v-3.5M1079.5 1288.6v-5.4M1080.5 1288.6v-8.4M1081.5 1288.6v-16.6M1082.5 1288.6v-17.8M1083.5 1288.6v-6.9M1084.5 1288.6v-10.7M1085.5 1288.6v-6.8M1086.5 1288.6v-7.1M1087.5 1288.6v-15.6M1088.5 1288.6v-11.6M1089.5 1288.6v-7.4M1090.5 1288.6v-13.3M1091.5 1288.6v-2.4M1092.5 1288.6v-3.6M1094.5 1288.6v-5.5M1095.5 1288.6v-1.4M1096.5 1288.6v-8.7M1097.5 1288.6v-1.3M1098.5 1288.6v-15.3M1099.5 1288.6v-1.3M1100.5 1288.6v-2.9M1101.5 1288.6v-1.4M1102.5 1288.6v-0.4M1103.5 1288.6v-2.7M1104.5 1288.6v-1.3M1105.5 1288.6v-0.5M1106.5 1288.6v-1.7M1107.5 1288.6v-3M1108.5 1288.6v-19M1110.5 1288.6v-0.6M1111.5 1288.6v-0.7M1112.5 1288.6v-0.9M1113.5 1288.6v-0.8M1114.5 1288.6v-1.7M1115.5 1288.6v-1.3M1116.5 1288.6v-2.5M1117.5 1288.6v-6.8M1118.5 1288.6v-2.8M1119.5 1288.6v-4.6M1120.5 1288.6v-4.4M1121.5 1288.6v-2.8M1122.5 1288.6v-2.7M1123.5 1288.6v-16.7M1125.5 1288.6v-1.5M1126.5 1288.6v-1.1M1127.5 1288.6v-3.8M1128.5 1288.6v-2.4M1129.5 1288.6v-2.3M1130.5 1288.6v-1.7M1131.5 1288.6v-0.3M1132.5 1288.6v-0.3M1133.5 1288.6v-0.4M1134.5 1288.6v-0.4M1135.5 1288.6v-0.7M1136.5 1288.6v-0.5M1137.5 1288.6v-0.9M1138.5 1288.6v-0.7M1139.5 1288.6v-1.3M1141.5 1288.6v-0.3M1142.5 1288.6v-0.4M1143.5 1288.6v-0.5M1144.5 1288.6v-1M1145.5 1288.6v-0.9M1146.5 1288.6v-0.5M1147.5 1288.6v-0.4M1149.5 1288.6v-0.5M1152.5 1288.6v-1.4M1153.5 1288.6v-13.5M1155.5 1288.6v-0.5M1157.5 1288.6v-0.9M1159.5 1288.6v-0.3M1162.5 1288.6v-0.4M1163.5 1288.6v-1.6M1165.5 1288.6v-0.9M1172.5 1288.6v-0.6M1174.5 1288.6v-0.7M1175.5 1288.6v-1.8M1176.5 1288.6v-1.2M1177.5 1288.6v-1.2M1178.5 1288.6v-1.8M1179.5 1288.6v-0.6M1180.5 1288.6v-0.7M1181.5 1288.6v-0.8M1182.5 1288.6v-2.2M1183.5 1288.6v-0.8M1184.5 1288.6v-0.6M1185.5 1288.6v-2.1M1186.5 1288.6v-0.7M1188.5 1288.6v-1.4M1189.5 1288.6v-2.5M1190.5 1288.6v-5.4M1191.5 1288.6v-5.2M1192.5 1288.6v-3.5M1193.5 1288.6v-11M1194.5 1288.6v-16M1195.5 1288.6v-1.9M1196.5 1288.6v-8M1197.5 1288.6v-9.5M1198.5 1288.6v-7.1M1199.5 1288.6v-9.5M1200.5 1288.6v-13.6M1201.5 1288.6v-4.5M1203.5 1288.6v-22.1M1204.5 1288.6v-8.5M1205.5 1288.6v-6.5M1206.5 1288.6v-5.8M1207.5 1288.6v-1.7M1208.5 1288.6v-1.5M1209.5 1288.6v-3.4M1210.5 1288.6v-1M1211.5 1288.6v-0.9M1212.5 1288.6v-3.5M1213.5 1288.6v-26.3M1214.5 1288.6v-0.3M1215.5 1288.6v-1.1M1216.5 1288.6v-0.9M1217.5 1288.6v-1.5M1219.5 1288.6v-1.4M1220.5 1288.6v-1.2M1221.5 1288.6v-0.4M1222.5 1288.6v-0.4M1224.5 1288.6v-0.7M1225.5 1288.6v-1.3M1226.5 1288.6v-0.6M1227.5 1288.6v-1.7M1228.5 1288.6v-0.8M1229.5 1288.6v-0.9M1230.5 1288.6v-2.1M1231.5 1288.6v-1.8M1232.5 1288.6v-0.6M1234.5 1288.6v-2.4M1235.5 1288.6v-2.1M1236.5 1288.6v-4.3M1237.5 1288.6v-4.7M1238.5 1288.6v-5.2M1239.5 1288.6v-12.2M1240.5 1288.6v-8M1241.5 1288.6v-4.4M1242.5 1288.6v-3.4M1243.5 1288.6v-15M1244.5 1288.6v-5.4M1245.5 1288.6v-2.9M1246.5 1288.6v-7.5M1247.5 1288.6v-14.2M1248.5 1288.6v-21.1M1250.5 1288.6v-11.2M1251.5 1288.6v-16.3M1252.5 1288.6v-14.1M1253.5 1288.6v-5.2M1254.5 1288.6v-2.8M1255.5 1288.6v-9.3M1256.5 1288.6v-2.4M1257.5 1288.6v-4.5M1258.5 1288.6v-4.1M1259.5 1288.6v-2M1260.5 1288.6v-2.7M1261.5 1288.6v-4.5M1262.5 1288.6v-1.2M1263.5 1288.6v-0.7M1265.5 1288.6v-1.9M1266.5 1288.6v-1.6M1267.5 1288.6v-1.2M1290.5 1288.6v-0.3M1291.5 1288.6v-0.6M1292.5 1288.6v-0.4M1304.5 1288.6v-0.6M1306.5 1288.6v-0.7M1309.5 1288.6v-0.4M1310.5 1288.6v-0.3M1312.5 1288.6v-0.5M1318.5 1288.6v-0.7M1320.5 1288.6v-0.3M1323.5 1288.6v-0.3M1324.5 1288.6v-0.3M1325.5 1288.6v-2.2M1327.5 1288.6v-13.2M1328.5 1288.6v-1.2M1329.5 1288.6v-0.3M1330.5 1288.6v-0.4M1334.5 1288.6v-21.6M1337.5 1288.6v-0.5M1338.5 1288.6v-3.3M1339.5 1288.6v-1.1M1340.5 1288.6v-0.5M1341.5 1288.6v-0.8M1343.5 1288.6v-1.8M1344.5 1288.6v-0.4M1345.5 1288.6v-0.9M1346.5 1288.6v-3.4M1347.5 1288.6v-6.4M1348.5 1288.6v-5.1M1349.5 1288.6v-2.8M1350.5 1288.6v-24M1351.5 1288.6v-9.3M1352.5 1288.6v-4.7M1353.5 1288.6v-28.1M1354.5 1288.6v-2.9M1355.5 1288.6v-3.9M1356.5 1288.6v-21.9M1358.5 1288.6v-17.1M1359.5 1288.6v-23.4M1360.5 1288.6v-2.8M1361.5 1288.6v-14.1M1362.5 1288.6v-27M1363.5 1288.6v-19.6M1364.5 1288.6v-12.1M1365.5 1288.6v-5.8M1366.5 1288.6v-2.5M1367.5 1288.6v-2.1M1368.5 1288.6v-18.7M1369.5 1288.6v-7.1M1370.5 1288.6v-4.7M1371.5 1288.6v-2M1372.5 1288.6v-7.1M1374.5 1288.6v-3.5M1375.5 1288.6v-2.6M1376.5 1288.6v-16.3M1377.5 1288.6v-15M1378.5 1288.6v-2.2M1379.5 1288.6v-4.2M1380.5 1288.6v-2.7M1381.5 1288.6v-4M1382.5 1288.6v-3.9M1383.5 1288.6v-4M1384.5 1288.6v-1.5M1385.5 1288.6v-2.5M1386.5 1288.6v-5M1387.5 1288.6v-3.7M1389.5 1288.6v-1.7M1390.5 1288.6v-1.8M1391.5 1288.6v-4.5M1392.5 1288.6v-1.8M1393.5 1288.6v-6.6M1394.5 1288.6v-2.5M1395.5 1288.6v-22.5M1396.5 1288.6v-28.1M1397.5 1288.6v-9.7M1398.5 1288.6v-15.1M1399.5 1288.6v-3M1400.5 1288.6v-23.7M1401.5 1288.6v-5M1402.5 1288.6v-2.4M1403.5 1288.6v-3.6M1405.5 1288.6v-2.3M1406.5 1288.6v-3.2M1407.5 1288.6v-1.3M1408.5 1288.6v-7.5M1409.5 1288.6v-3.6M1410.5 1288.6v-2.3M1411.5 1288.6v-5.8M1412.5 1288.6v-5.8M1413.5 1288.6v-5.8M1414.5 1288.6v-2.7M1415.5 1288.6v-12.7M1416.5 1288.6v-20M1417.5 1288.6v-7.5M1418.5 1288.6v-5.9M1420.5 1288.6v-8.2M1421.5 1288.6v-3.2M1422.5 1288.6v-2.9M1423.5 1288.6v-2.7M1424.5 1288.6v-5.3M1425.5 1288.6v-5.7M1426.5 1288.6v-7.4M1427.5 1288.6v-6.5M1428.5 1288.6v-18.6M1429.5 1288.6v-6.6M1430.5 1288.6v-22.2M1431.5 1288.6v-6.3M1432.5 1288.6v-2.6M1433.5 1288.6v-20.8M1434.5 1288.6v-3.1M1436.5 1288.6v-23M1437.5 1288.6v-2.4M1438.5 1288.6v-2.5M1439.5 1288.6v-3.9M1440.5 1288.6v-13.9M1441.5 1288.6v-10.8M1442.5 1288.6v-5.1M1443.5 1288.6v-1.7M1444.5 1288.6v-5.6M1445.5 1288.6v-1.5M1446.5 1288.6v-3.9M1447.5 1288.6v-2M1448.5 1288.6v-1.3M1449.5 1288.6v-0.8M1451.5 1288.6v-0.9M1452.5 1288.6v-18.9M1453.5 1288.6v-5.8M1454.5 1288.6v-1.2M1455.5 1288.6v-1.9M1456.5 1288.6v-1M1457.5 1288.6v-0.4M1458.5 1288.6v-0.3M1459.5 1288.6v-0.5M1461.5 1288.6v-0.3M1463.5 1288.6v-0.3M1465.5 1288.6v-0.5M1467.5 1288.6v-0.8M1468.5 1288.6v-0.3M1469.5 1288.6v-1.3M1470.5 1288.6v-1.2M1471.5 1288.6v-0.8M1472.5 1288.6v-1.4M1473.5 1288.6v-1.5M1474.5 1288.6v-0.5M1475.5 1288.6v-0.4M1476.5 1288.6v-2.7M1477.5 1288.6v-5.4M1478.5 1288.6v-1.4M1479.5 1288.6v-0.5M1480.5 1288.6v-0.5M1482.5 1288.6v-0.3M1483.5 1288.6v-0.7M1485.5 1288.6v-0.5M1487.5 1288.6v-0.6M1492.5 1288.6v-1.6M1493.5 1288.6v-19.6M1494.5 1288.6v-1.1M1495.5 1288.6v-2.4M1496.5 1288.6v-0.7M1498.5 1288.6v-0.5M1499.5 1288.6v-1.2M1500.5 1288.6v-1.7M1501.5 1288.6v-0.5M1502.5 1288.6v-0.8M1503.5 1288.6v-0.4M1504.5 1288.6v-1.5M1505.5 1288.6v-1M1506.5 1288.6v-5.7M1507.5 1288.6v-2.6M1508.5 1288.6v-3.2M1509.5 1288.6v-1.1M1510.5 1288.6v-1.7M1511.5 1288.6v-1.7M1512.5 1288.6v-6.4M1514.5 1288.6v-4.9M1515.5 1288.6v-3.1M1516.5 1288.6v-7.5M1517.5 1288.6v-1.6M1518.5 1288.6v-13.6M1519.5 1288.6v-2.5M1520.5 1288.6v-7.4M1521.5 1288.6v-14.6M1522.5 1288.6v-8.4M1523.5 1288.6v-2.2M1524.5 1288.6v-1.9M1525.5 1288.6v-1.3M1526.5 1288.6v-7M1527.5 1288.6v-1.2M1529.5 1288.6v-2M1530.5 1288.6v-15.1M1531.5 1288.6v-1M1532.5 1288.6v-3.4M1533.5 1288.6v-0.6M1534.5 1288.6v-3.4M1535.5 1288.6v-2.7M1536.5 1288.6v-0.5M1537.5 1288.6v-1.9M1538.5 1288.6v-1.1M1539.5 1288.6v-0.9M1540.5 1288.6v-1.9M1541.5 1288.6v-6.5M1542.5 1288.6v-2.8M1543.5 1288.6v-6.1M1545.5 1288.6v-5.4M1546.5 1288.6v-21.8M1547.5 1288.6v-6.9M1548.5 1288.6v-2.2M1549.5 1288.6v-6.3M1550.5 1288.6v-9.8M1551.5 1288.6v-3.6M1552.5 1288.6v-10.7M1553.5 1288.6v-4M1554.5 1288.6v-4.6M1555.5 1288.6v-0.6M1556.5 1288.6v-1.3M1557.5 1288.6v-7.5M1558.5 1288.6v-1.5M1560.5 1288.6v-0.4M1561.5 1288.6v-0.4M1562.5 1288.6v-0.6M1563.5 1288.6v-0.5M1564.5 1288.6v-1.4M1565.5 1288.6v-1M1566.5 1288.6v-0.5M1567.5 1288.6v-1.1M1568.5 1288.6v-6.6M1569.5 1288.6v-2.7M1570.5 1288.6v-1.2M1571.5 1288.6v-2.9M1572.5 1288.6v-4.4M1573.5 1288.6v-2M1574.5 1288.6v-7.8M1576.5 1288.6v-12.6M1577.5 1288.6v-4.6M1578.5 1288.6v-5.5M1579.5 1288.6v-6M1580.5 1288.6v-7.3M1581.5 1288.6v-1.8M1582.5 1288.6v-4.7M1583.5 1288.6v-17.6M1584.5 1288.6v-4.3M1585.5 1288.6v-13.2M1586.5 1288.6v-3.1M1587.5 1288.6v-3.4M1588.5 1288.6v-1.2M1589.5 1288.6v-1.4M1591.5 1288.6v-2.3M1592.5 1288.6v-4.9M1593.5 1288.6v-3.5M1594.5 1288.6v-4.7M1595.5 1288.6v-1.1M1596.5 1288.6v-0.4M1597.5 1288.6v-0.8M1598.5 1288.6v-1M1600.5 1288.6v-0.3M1602.5 1288.6v-0.4M1603.5 1288.6v-0.8M1604.5 1288.6v-2.4M1605.5 1288.6v-1M1607.5 1288.6v-0.4M1608.5 1288.6v-0.4M1609.5 1288.6v-0.7M1610.5 1288.6v-5.7M1611.5 1288.6v-2.4M1612.5 1288.6v-0.6M1613.5 1288.6v-2.7M1614.5 1288.6v-1.3M1615.5 1288.6v-2.1M1616.5 1288.6v-1.6M1617.5 1288.6v-0.3M1619.5 1288.6v-0.3M1622.5 1288.6v-0.5M1623.5 1288.6v-0.3M1624.5 1288.6v-0.8M1625.5 1288.6v-0.3M1626.5 1288.6v-0.7M1628.5 1288.6v-17.1M1631.5 1288.6v-1.1M1633.5 1288.6v-0.3M1636.5 1288.6v-0.3M1639.5 1288.6v-0.6M1640.5 1288.6v-0.3M1642.5 1288.6v-0.3M1645.5 1288.6v-0.8M1646.5 1288.6v-0.3M1653.5 1288.6v-0.5M1655.5 1288.6v-0.3M1656.5 1288.6v-0.5M1659.5 1288.6v-0.4M1667.5 1288.6v-0.5M1670.5 1288.6v-0.4M1671.5 1288.6v-0.5M1672.5 1288.6v-2.2M1673.5 1288.6v-1.2M1674.5 1288.6v-1.9M1675.5 1288.6v-3.6M1676.5 1288.6v-3.6M1677.5 1288.6v-23.1M1678.5 1288.6v-8.1M1679.5 1288.6v-1.7M1680.5 1288.6v-4.2M1681.5 1288.6v-1.7M1682.5 1288.6v-1.3M1684.5 1288.6v-1.6M1685.5 1288.6v-4.5M1686.5 1288.6v-2.8M1687.5 1288.6v-0.5M1688.5 1288.6v-0.5M1689.5 1288.6v-3.2M1690.5 1288.6v-2.4M1691.5 1288.6v-8.2M1692.5 1288.6v-1.3M1693.5 1288.6v-0.5M1694.5 1288.6v-5.9M1695.5 1288.6v-26.7M1696.5 1288.6v-3.6M1697.5 1288.6v-4.8M1698.5 1288.6v-1.4M1700.5 1288.6v-3.2M1701.5 1288.6v-7.7M1702.5 1288.6v-2M1703.5 1288.6v-8.1M1704.5 1288.6v-5.6M1705.5 1288.6v-4.7M1706.5 1288.6v-4.5M1707.5 1288.6v-25.7M1708.5 1288.6v-26.3M1709.5 1288.6v-4.2M1710.5 1288.6v-2.7M1711.5 1288.6v-7.1M1712.5 1288.6v-1.9M1713.5 1288.6v-4.9M1715.5 1288.6v-28.1M1716.5 1288.6v-4.6M1717.5 1288.6v-13.7M1718.5 1288.6v-28.1M1719.5 1288.6v-9.8M1720.5 1288.6v-8.6M1721.5 1288.6v-4.6M1722.5 1288.6v-9M1723.5 1288.6v-27.3M1724.5 1288.6v-2.7M1725.5 1288.6v-3M1726.5 1288.6v-6.4M1727.5 1288.6v-3M1728.5 1288.6v-1.9M1729.5 1288.6v-14.9M1731.5 1288.6v-22.8M1732.5 1288.6v-3.3M1733.5 1288.6v-3M1734.5 1288.6v-7.3M1735.5 1288.6v-7.2M1736.5 1288.6v-11.8M1737.5 1288.6v-2M1738.5 1288.6v-2.3M1739.5 1288.6v-1M1740.5 1288.6v-3.2M1741.5 1288.6v-1.3M1742.5 1288.6v-2.3M1743.5 1288.6v-1.8M1744.5 1288.6v-3.8M1746.5 1288.6v-5.7M1747.5 1288.6v-2.6M1748.5 1288.6v-4.6M1749.5 1288.6v-4.7M1750.5 1288.6v-4.8M1751.5 1288.6v-2.4M1752.5 1288.6v-17M1753.5 1288.6v-1.4M1754.5 1288.6v-2M1755.5 1288.6v-1.8M1756.5 1288.6v-4.5M1757.5 1288.6v-1.3" fill="none" stroke="#000" stroke-width="1.0"/>
<line x1="1009.6" y1="1288.3" x2="1757.8" y2="1288.3" stroke="#000" stroke-width="1.8"/>
<line x1="1004.6" y1="1259.5" x2="1004.6" y2="1288.6" stroke="#000" stroke-width="1.2"/>
<line x1="1003" y1="1259.5" x2="1004.6" y2="1259.5" stroke="#000" stroke-width="1.2"/>
<line x1="1003" y1="1288.6" x2="1004.6" y2="1288.6" stroke="#000" stroke-width="1.2"/>
<text x="1001.2" y="1264.7" font-size="8.8" text-anchor="end" stroke="#000" stroke-width="0.21" textLength="10.2" lengthAdjust="spacingAndGlyphs">10</text>
<text x="1001.2" y="1289.8" font-size="8.8" text-anchor="end" stroke="#000" stroke-width="0.21" textLength="5" lengthAdjust="spacingAndGlyphs">0</text>
<text x="984.5" y="1281" font-size="17.5" text-anchor="end" stroke="#000" stroke-width="0.41" textLength="71.7" lengthAdjust="spacingAndGlyphs">ATAC-seq</text>
<rect x="1008" y="1290.4" width="3.2" height="2.8" fill="#000"/>
<text x="1009.6" y="1302.8" font-size="9.2" text-anchor="middle" stroke="#000" stroke-width="0.21" textLength="5.3" lengthAdjust="spacingAndGlyphs">0</text>
<rect x="1195.1" y="1290.4" width="3.2" height="2.8" fill="#000"/>
<text x="1196.7" y="1302.8" font-size="9.2" text-anchor="middle" stroke="#000" stroke-width="0.21" textLength="16" lengthAdjust="spacingAndGlyphs">250</text>
<rect x="1382.1" y="1290.4" width="3.2" height="2.8" fill="#000"/>
<text x="1383.7" y="1302.8" font-size="9.2" text-anchor="middle" stroke="#000" stroke-width="0.21" textLength="16" lengthAdjust="spacingAndGlyphs">500</text>
<rect x="1569.2" y="1290.4" width="3.2" height="2.8" fill="#000"/>
<text x="1570.8" y="1302.8" font-size="9.2" text-anchor="middle" stroke="#000" stroke-width="0.21" textLength="16" lengthAdjust="spacingAndGlyphs">750</text>
<rect x="1756.2" y="1290.4" width="3.2" height="2.8" fill="#000"/>
<text x="1757.8" y="1302.8" font-size="9.2" text-anchor="middle" stroke="#000" stroke-width="0.21" textLength="21.4" lengthAdjust="spacingAndGlyphs">1000</text>
<path d="M1011.1 1345V1333.6H1012.6V1336.5H1014.1V1339.3H1015.6V1325H1017.1V1336.5H1018.6V1316.5H1020.1V1339.3H1021.6V1339.3H1023.1V1327.9H1024.6V1336.5H1026.1V1330.8H1027.6V1333.6H1029.1V1325H1030.5V1325H1032V1336.5H1033.5V1339.3H1035V1316.5H1036.5V1327.9H1038V1345ZM1041 1345V1325H1042.5V1316.5H1044V1316.5H1045.5V1339.3H1047V1327.9H1048.5V1322.2H1050V1339.3H1051.5V1330.8H1053V1325H1054.5V1333.6H1056V1339.3H1057.5V1345ZM1062 1345V1330.8H1063.5V1322.2H1065V1336.5H1066.5V1330.8H1068V1330.8H1069.5V1345ZM1071 1345V1339.3H1072.4V1339.3H1073.9V1330.8H1075.4V1325H1076.9V1316.5H1078.4V1316.5H1079.9V1316.5H1081.4V1339.3H1082.9V1339.3H1084.4V1345ZM1085.9 1345V1333.6H1087.4V1330.8H1088.9V1339.3H1090.4V1339.3H1091.9V1322.2H1093.4V1345ZM1096.4 1345V1316.5H1097.9V1345ZM1099.4 1345V1327.9H1100.9V1339.3H1102.4V1339.3H1103.9V1339.3H1105.4V1336.5H1106.9V1339.3H1108.4V1339.3H1109.9V1345ZM1111.4 1345V1339.3H1112.9V1322.2H1114.3V1322.2H1115.8V1322.2H1117.3V1345ZM1118.8 1345V1325H1120.3V1339.3H1121.8V1330.8H1123.3V1333.6H1124.8V1336.5H1126.3V1345ZM1127.8 1345V1339.3H1129.3V1345ZM1130.8 1345V1339.3H1132.3V1339.3H1133.8V1330.8H1135.3V1345ZM1144.3 1345V1339.3H1145.8V1330.8H1147.3V1336.5H1148.8V1336.5H1150.3V1322.2H1151.8V1330.8H1153.3V1339.3H1154.8V1339.3H1156.2V1339.3H1157.7V1345ZM1160.7 1345V1339.3H1162.2V1339.3H1163.7V1330.8H1165.2V1327.9H1166.7V1330.8H1168.2V1336.5H1169.7V1339.3H1171.2V1327.9H1172.7V1327.9H1174.2V1339.3H1175.7V1339.3H1177.2V1339.3H1178.7V1345ZM1183.2 1345V1327.9H1184.7V1345ZM1186.2 1345V1333.6H1187.7V1333.6H1189.2V1339.3H1190.7V1327.9H1192.2V1339.3H1193.7V1339.3H1195.2V1339.3H1196.7V1333.6H1198.1V1345ZM1199.6 1345V1322.2H1201.1V1330.8H1202.6V1327.9H1204.1V1339.3H1205.6V1322.2H1207.1V1339.3H1208.6V1345ZM1210.1 1345V1339.3H1211.6V1322.2H1213.1V1339.3H1214.6V1339.3H1216.1V1345ZM1217.6 1345V1339.3H1219.1V1330.8H1220.6V1333.6H1222.1V1345ZM1225.1 1345V1330.8H1226.6V1339.3H1228.1V1330.8H1229.6V1339.3H1231.1V1345ZM1237.1 1345V1327.9H1238.5V1327.9H1240V1327.9H1241.5V1325H1243V1316.5H1244.5V1327.9H1246V1327.9H1247.5V1322.2H1249V1316.5H1250.5V1336.5H1252V1339.3H1253.5V1322.2H1255V1330.8H1256.5V1345ZM1267 1345V1330.8H1268.5V1345ZM1273 1345V1330.8H1274.5V1345ZM1296.9 1345V1336.5H1298.4V1322.2H1299.9V1339.3H1301.4V1339.3H1302.9V1339.3H1304.4V1339.3H1305.9V1336.5H1307.4V1336.5H1308.9V1339.3H1310.4V1316.5H1311.9V1345ZM1313.4 1345V1339.3H1314.9V1333.6H1316.4V1345ZM1320.9 1345V1336.5H1322.3V1339.3H1323.8V1322.2H1325.3V1327.9H1326.8V1325H1328.3V1336.5H1329.8V1339.3H1331.3V1336.5H1332.8V1322.2H1334.3V1333.6H1335.8V1333.6H1337.3V1327.9H1338.8V1339.3H1340.3V1339.3H1341.8V1339.3H1343.3V1333.6H1344.8V1339.3H1346.3V1339.3H1347.8V1327.9H1349.3V1339.3H1350.8V1345ZM1352.3 1345V1333.6H1353.8V1339.3H1355.3V1316.5H1356.8V1339.3H1358.3V1330.8H1359.8V1327.9H1361.3V1325H1362.8V1336.5H1364.2V1316.5H1365.7V1327.9H1367.2V1330.8H1368.7V1339.3H1370.2V1345ZM1371.7 1345V1327.9H1373.2V1330.8H1374.7V1336.5H1376.2V1325H1377.7V1316.5H1379.2V1345ZM1380.7 1345V1322.2H1382.2V1316.5H1383.7V1325H1385.2V1333.6H1386.7V1333.6H1388.2V1345ZM1389.7 1345V1339.3H1391.2V1333.6H1392.7V1316.5H1394.2V1336.5H1395.7V1327.9H1397.2V1330.8H1398.7V1322.2H1400.2V1333.6H1401.7V1316.5H1403.2V1333.6H1404.6V1325H1406.1V1316.5H1407.6V1327.9H1409.1V1333.6H1410.6V1339.3H1412.1V1345ZM1413.6 1345V1325H1415.1V1322.2H1416.6V1339.3H1418.1V1339.3H1419.6V1316.5H1421.1V1330.8H1422.6V1327.9H1424.1V1336.5H1425.6V1336.5H1427.1V1339.3H1428.6V1327.9H1430.1V1327.9H1431.6V1330.8H1433.1V1330.8H1434.6V1339.3H1436.1V1339.3H1437.6V1333.6H1439.1V1327.9H1440.6V1327.9H1442.1V1333.6H1443.6V1336.5H1445.1V1345ZM1451 1345V1336.5H1452.5V1345ZM1454 1345V1336.5H1455.5V1345ZM1469 1345V1339.3H1470.5V1339.3H1472V1339.3H1473.5V1339.3H1475V1339.3H1476.5V1325H1478V1339.3H1479.5V1336.5H1481V1339.3H1482.5V1339.3H1484V1336.5H1485.5V1322.2H1487V1330.8H1488.4V1322.2H1489.9V1322.2H1491.4V1316.5H1492.9V1316.5H1494.4V1330.8H1495.9V1333.6H1497.4V1333.6H1498.9V1339.3H1500.4V1336.5H1501.9V1336.5H1503.4V1330.8H1504.9V1316.5H1506.4V1339.3H1507.9V1339.3H1509.4V1339.3H1510.9V1339.3H1512.4V1336.5H1513.9V1325H1515.4V1327.9H1516.9V1316.5H1518.4V1316.5H1519.9V1316.5H1521.4V1330.8H1522.9V1339.3H1524.4V1339.3H1525.9V1330.8H1527.4V1339.3H1528.9V1339.3H1530.3V1333.6H1531.8V1339.3H1533.3V1336.5H1534.8V1327.9H1536.3V1339.3H1537.8V1336.5H1539.3V1339.3H1540.8V1339.3H1542.3V1345ZM1543.8 1345V1333.6H1545.3V1339.3H1546.8V1336.5H1548.3V1336.5H1549.8V1339.3H1551.3V1339.3H1552.8V1345ZM1561.8 1345V1339.3H1563.3V1330.8H1564.8V1345ZM1566.3 1345V1339.3H1567.8V1336.5H1569.3V1339.3H1570.8V1339.3H1572.2V1322.2H1573.7V1330.8H1575.2V1339.3H1576.7V1333.6H1578.2V1333.6H1579.7V1333.6H1581.2V1333.6H1582.7V1336.5H1584.2V1345ZM1587.2 1345V1330.8H1588.7V1336.5H1590.2V1339.3H1591.7V1339.3H1593.2V1322.2H1594.7V1339.3H1596.2V1333.6H1597.7V1339.3H1599.2V1339.3H1600.7V1336.5H1602.2V1333.6H1603.7V1339.3H1605.2V1336.5H1606.7V1345ZM1608.2 1345V1339.3H1609.7V1322.2H1611.2V1339.3H1612.6V1336.5H1614.1V1339.3H1615.6V1339.3H1617.1V1339.3H1618.6V1336.5H1620.1V1336.5H1621.6V1327.9H1623.1V1322.2H1624.6V1339.3H1626.1V1345ZM1636.6 1345V1330.8H1638.1V1333.6H1639.6V1339.3H1641.1V1345ZM1642.6 1345V1339.3H1644.1V1339.3H1645.6V1339.3H1647.1V1339.3H1648.6V1336.5H1650.1V1339.3H1651.6V1339.3H1653.1V1345ZM1660.5 1345V1339.3H1662V1339.3H1663.5V1339.3H1665V1322.2H1666.5V1339.3H1668V1336.5H1669.5V1322.2H1671V1336.5H1672.5V1339.3H1674V1322.2H1675.5V1322.2H1677V1339.3H1678.5V1330.8H1680V1345ZM1681.5 1345V1339.3H1683V1316.5H1684.5V1330.8H1686V1339.3H1687.5V1345ZM1690.5 1345V1333.6H1692V1336.5H1693.5V1336.5H1695V1327.9H1696.4V1322.2H1697.9V1327.9H1699.4V1339.3H1700.9V1322.2H1702.4V1327.9H1703.9V1339.3H1705.4V1339.3H1706.9V1339.3H1708.4V1336.5H1709.9V1339.3H1711.4V1322.2H1712.9V1333.6H1714.4V1327.9H1715.9V1316.5H1717.4V1316.5H1718.9V1327.9H1720.4V1316.5H1721.9V1339.3H1723.4V1339.3H1724.9V1345ZM1726.4 1345V1339.3H1727.9V1336.5H1729.4V1336.5H1730.9V1327.9H1732.4V1339.3H1733.9V1339.3H1735.4V1339.3H1736.9V1339.3H1738.3V1336.5H1739.8V1333.6H1741.3V1339.3H1742.8V1339.3H1744.3V1322.2H1745.8V1330.8H1747.3V1345ZM1748.8 1345V1339.3H1750.3V1333.6H1751.8V1345Z" fill="#b0b0b0"/>
<line x1="1009.6" y1="1345" x2="1757.8" y2="1345" stroke="#d0d0d0" stroke-width="1"/>
<line x1="1004.6" y1="1316.5" x2="1004.6" y2="1345" stroke="#000" stroke-width="1.2"/>
<line x1="1003" y1="1316.5" x2="1004.6" y2="1316.5" stroke="#000" stroke-width="1.2"/>
<line x1="1003" y1="1345" x2="1004.6" y2="1345" stroke="#000" stroke-width="1.2"/>
<text x="1001.2" y="1321.7" font-size="8.8" text-anchor="end" stroke="#000" stroke-width="0.21" textLength="10.2" lengthAdjust="spacingAndGlyphs">10</text>
<text x="1001.2" y="1346.2" font-size="8.8" text-anchor="end" stroke="#000" stroke-width="0.21" textLength="5" lengthAdjust="spacingAndGlyphs">0</text>
<text x="987.6" y="1341.2" font-size="17.5" text-anchor="end" stroke="#000" stroke-width="0.41" textLength="104" lengthAdjust="spacingAndGlyphs">Gene density</text>
<rect x="1008" y="1346.8" width="3.2" height="2.8" fill="#000"/>
<text x="1009.6" y="1359.8" font-size="9.2" text-anchor="middle" stroke="#000" stroke-width="0.21" textLength="5.3" lengthAdjust="spacingAndGlyphs">0</text>
<rect x="1195.1" y="1346.8" width="3.2" height="2.8" fill="#000"/>
<text x="1196.7" y="1359.8" font-size="9.2" text-anchor="middle" stroke="#000" stroke-width="0.21" textLength="16" lengthAdjust="spacingAndGlyphs">250</text>
<rect x="1382.1" y="1346.8" width="3.2" height="2.8" fill="#000"/>
<text x="1383.7" y="1359.8" font-size="9.2" text-anchor="middle" stroke="#000" stroke-width="0.21" textLength="16" lengthAdjust="spacingAndGlyphs">500</text>
<rect x="1569.2" y="1346.8" width="3.2" height="2.8" fill="#000"/>
<text x="1570.8" y="1359.8" font-size="9.2" text-anchor="middle" stroke="#000" stroke-width="0.21" textLength="16" lengthAdjust="spacingAndGlyphs">750</text>
<rect x="1756.2" y="1346.8" width="3.2" height="2.8" fill="#000"/>
<text x="1757.8" y="1359.8" font-size="9.2" text-anchor="middle" stroke="#000" stroke-width="0.21" textLength="21.4" lengthAdjust="spacingAndGlyphs">1000</text>
<rect x="1350.8" y="611.8" width="91.7" height="773.1" fill="none" stroke="#e0302a" stroke-width="3.2"/>
<rect x="1609.3" y="611.8" width="65.5" height="773.1" fill="none" stroke="#4540a3" stroke-width="3.2"/>
<rect x="1810" y="628.3" width="12.8" height="145.2" fill="#b2e98f"/>
<text x="1827.2" y="700.9" font-size="24" font-weight="bold" text-anchor="middle" stroke="#000" stroke-width="0.30" textLength="48.3" lengthAdjust="spacingAndGlyphs" transform="rotate(90 1827.2 700.9)">NBC</text>
<rect x="1810" y="802.2" width="12.8" height="145.8" fill="#dd2c25"/>
<text x="1827.2" y="875.1" font-size="24" font-weight="bold" text-anchor="middle" stroke="#000" stroke-width="0.30" textLength="63.5" lengthAdjust="spacingAndGlyphs" transform="rotate(90 1827.2 875.1)">GCBC</text>
<rect x="1810" y="973.9" width="12.8" height="146" fill="#956cc7"/>
<text x="1827.2" y="1046.9" font-size="24" font-weight="bold" text-anchor="middle" stroke="#000" stroke-width="0.30" textLength="33" lengthAdjust="spacingAndGlyphs" transform="rotate(90 1827.2 1046.9)">PC</text>
<rect x="1810" y="1149.6" width="12.8" height="144.2" fill="#0a87c4"/>
<text x="1827.2" y="1221.7" font-size="24" font-weight="bold" text-anchor="middle" stroke="#000" stroke-width="0.30" textLength="50" lengthAdjust="spacingAndGlyphs" transform="rotate(90 1827.2 1221.7)">MBC</text>
<text x="1.1" y="1468.7" font-size="43" font-weight="bold" stroke="#000" stroke-width="0.30">f</text>
<text x="47.9" y="1503.9" font-size="22" font-weight="bold" stroke="#000" stroke-width="0.30" textLength="44.5" lengthAdjust="spacingAndGlyphs">NBC</text>
<path d="M48.7 1587C50.9 1582.8 57.8 1568.8 62 1562C66.2 1555.2 69.8 1549.7 74 1546C78.2 1542.3 82.7 1540.3 87 1540C91.3 1539.7 95.8 1541.8 100 1544C104.2 1546.2 108.3 1550 112 1553C115.7 1556 117.3 1558.8 122 1562C126.7 1565.2 133.7 1569.2 140 1572C146.3 1574.8 151.7 1576.2 160 1579C168.3 1581.8 180 1585.3 190 1589C200 1592.7 208.3 1597.3 220 1601C231.7 1604.7 246.7 1608.5 260 1611C273.3 1613.5 281.7 1615.1 300 1616C318.3 1616.9 350 1616.7 370 1616.5C390 1616.3 401.7 1615.4 420 1615C438.3 1614.6 463.3 1614.7 480 1614C496.7 1613.3 506.7 1612.5 520 1611C533.3 1609.5 546.7 1607.7 560 1605C573.3 1602.3 589.2 1597.3 600 1595C610.8 1592.7 617.5 1591 625 1591C632.5 1591 638.3 1592.2 645 1595C651.7 1597.8 658.5 1602.2 665 1608C671.5 1613.8 681.1 1626.3 684.3 1630V1649H48.7Z" fill="#a0e48c" stroke="#333" stroke-width="0.5" stroke-opacity="0.45"/>
<path d="M48.7 1601C51.4 1596.2 59.8 1579.7 65 1572C70.2 1564.3 74.8 1558.8 80 1555C85.2 1551.2 91 1549.3 96 1549C101 1548.7 105.3 1550.7 110 1553C114.7 1555.3 119 1559.5 124 1563C129 1566.5 134 1570.7 140 1574C146 1577.3 151.7 1579.8 160 1583C168.3 1586.2 180 1589.5 190 1593C200 1596.5 208.3 1600.7 220 1604C231.7 1607.3 246.7 1610.7 260 1613C273.3 1615.3 281.7 1617.2 300 1618C318.3 1618.8 350 1618.3 370 1618C390 1617.7 401.7 1616.5 420 1616C438.3 1615.5 463.3 1615.7 480 1615C496.7 1614.3 506.7 1613.5 520 1612C533.3 1610.5 546.7 1608.7 560 1606C573.3 1603.3 589.2 1598.2 600 1596C610.8 1593.8 617 1592.7 625 1593C633 1593.3 641 1594.8 648 1598C655 1601.2 661 1606 667 1612C673 1618 681.4 1630.3 684.3 1634V1649H48.7Z" fill="#91de7d" stroke="#333" stroke-width="0.5" stroke-opacity="0.45"/>
<path d="M48.7 1613C51.9 1607.8 62 1590.5 68 1582C74 1573.5 79.3 1566.5 85 1562C90.7 1557.5 96.8 1555.5 102 1555C107.2 1554.5 111.3 1556.7 116 1559C120.7 1561.3 125.2 1565.7 130 1569C134.8 1572.3 139.2 1575.8 145 1579C150.8 1582.2 157.5 1585.2 165 1588C172.5 1590.8 180.8 1593 190 1596C199.2 1599 208.3 1603 220 1606C231.7 1609 246.7 1611.8 260 1614C273.3 1616.2 281.7 1618.2 300 1619C318.3 1619.8 350 1619.3 370 1619C390 1618.7 401.7 1617.5 420 1617C438.3 1616.5 463.3 1616.7 480 1616C496.7 1615.3 506.7 1614.5 520 1613C533.3 1611.5 546.7 1609.5 560 1607C573.3 1604.5 588.8 1600 600 1598C611.2 1596 618.7 1594.5 627 1595C635.3 1595.5 643 1597.5 650 1601C657 1604.5 663.3 1609.8 669 1616C674.7 1622.2 681.8 1634.3 684.3 1638V1649H48.7Z" fill="#88d874" stroke="#333" stroke-width="0.5" stroke-opacity="0.45"/>
<path d="M48.7 1576C50.6 1572.2 56.1 1560.2 60 1553C63.9 1545.8 68 1537.5 72 1533C76 1528.5 80 1526.5 84 1526C88 1525.5 91.6 1526.8 95.9 1530C100.2 1533.2 105.2 1539.5 109.9 1545C114.6 1550.5 118.9 1557 123.9 1563C128.9 1569 133.9 1575.3 139.9 1581C145.9 1586.7 151.6 1592.5 159.9 1597C168.2 1601.5 179.8 1605 189.8 1608C199.8 1611 208.1 1613 219.8 1615C231.5 1617 246.5 1618.8 259.8 1620C273.1 1621.2 286.4 1622 299.7 1622.5C313 1623 328 1623.2 339.7 1623C351.4 1622.8 356.6 1622.2 370 1621.5C383.4 1620.8 401.7 1619.1 420 1618.5C438.3 1617.9 463.3 1618.7 479.9 1617.9C496.5 1617.2 506.5 1615.7 519.8 1614C533.1 1612.3 546.5 1610.8 559.8 1608C573.1 1605.2 589.8 1600 599.8 1597C609.8 1594 614.4 1591.4 619.7 1590C625 1588.6 626.7 1588.3 631.7 1588.6C636.7 1588.9 644 1589.1 649.7 1592C655.4 1594.9 659.9 1600.5 665.7 1606C671.5 1611.5 681.2 1621.8 684.3 1625V1649H48.7Z" fill="#88a67c"/>
<g clip-path="url(#fc1)">
<path d="M48.7 1587C50.9 1582.8 57.8 1568.8 62 1562C66.2 1555.2 69.8 1549.7 74 1546C78.2 1542.3 82.7 1540.3 87 1540C91.3 1539.7 95.8 1541.8 100 1544C104.2 1546.2 108.3 1550 112 1553C115.7 1556 117.3 1558.8 122 1562C126.7 1565.2 133.7 1569.2 140 1572C146.3 1574.8 151.7 1576.2 160 1579C168.3 1581.8 180 1585.3 190 1589C200 1592.7 208.3 1597.3 220 1601C231.7 1604.7 246.7 1608.5 260 1611C273.3 1613.5 281.7 1615.1 300 1616C318.3 1616.9 350 1616.7 370 1616.5C390 1616.3 401.7 1615.4 420 1615C438.3 1614.6 463.3 1614.7 480 1614C496.7 1613.3 506.7 1612.5 520 1611C533.3 1609.5 546.7 1607.7 560 1605C573.3 1602.3 589.2 1597.3 600 1595C610.8 1592.7 617.5 1591 625 1591C632.5 1591 638.3 1592.2 645 1595C651.7 1597.8 658.5 1602.2 665 1608C671.5 1613.8 681.1 1626.3 684.3 1630V1649H48.7Z" fill="#70a068" stroke="#333" stroke-width="0.5" stroke-opacity="0.3"/>
<path d="M48.7 1601C51.4 1596.2 59.8 1579.7 65 1572C70.2 1564.3 74.8 1558.8 80 1555C85.2 1551.2 91 1549.3 96 1549C101 1548.7 105.3 1550.7 110 1553C114.7 1555.3 119 1559.5 124 1563C129 1566.5 134 1570.7 140 1574C146 1577.3 151.7 1579.8 160 1583C168.3 1586.2 180 1589.5 190 1593C200 1596.5 208.3 1600.7 220 1604C231.7 1607.3 246.7 1610.7 260 1613C273.3 1615.3 281.7 1617.2 300 1618C318.3 1618.8 350 1618.3 370 1618C390 1617.7 401.7 1616.5 420 1616C438.3 1615.5 463.3 1615.7 480 1615C496.7 1614.3 506.7 1613.5 520 1612C533.3 1610.5 546.7 1608.7 560 1606C573.3 1603.3 589.2 1598.2 600 1596C610.8 1593.8 617 1592.7 625 1593C633 1593.3 641 1594.8 648 1598C655 1601.2 661 1606 667 1612C673 1618 681.4 1630.3 684.3 1634V1649H48.7Z" fill="#689c62" stroke="#333" stroke-width="0.5" stroke-opacity="0.3"/>
<path d="M48.7 1613C51.9 1607.8 62 1590.5 68 1582C74 1573.5 79.3 1566.5 85 1562C90.7 1557.5 96.8 1555.5 102 1555C107.2 1554.5 111.3 1556.7 116 1559C120.7 1561.3 125.2 1565.7 130 1569C134.8 1572.3 139.2 1575.8 145 1579C150.8 1582.2 157.5 1585.2 165 1588C172.5 1590.8 180.8 1593 190 1596C199.2 1599 208.3 1603 220 1606C231.7 1609 246.7 1611.8 260 1614C273.3 1616.2 281.7 1618.2 300 1619C318.3 1619.8 350 1619.3 370 1619C390 1618.7 401.7 1617.5 420 1617C438.3 1616.5 463.3 1616.7 480 1616C496.7 1615.3 506.7 1614.5 520 1613C533.3 1611.5 546.7 1609.5 560 1607C573.3 1604.5 588.8 1600 600 1598C611.2 1596 618.7 1594.5 627 1595C635.3 1595.5 643 1597.5 650 1601C657 1604.5 663.3 1609.8 669 1616C674.7 1622.2 681.8 1634.3 684.3 1638V1649H48.7Z" fill="#639a60" stroke="#333" stroke-width="0.5" stroke-opacity="0.3"/>
</g>
<path d="M48.7 1649V1576C50.6 1572.2 56.1 1560.2 60 1553C63.9 1545.8 68 1537.5 72 1533C76 1528.5 80 1526.5 84 1526C88 1525.5 91.6 1526.8 95.9 1530C100.2 1533.2 105.2 1539.5 109.9 1545C114.6 1550.5 118.9 1557 123.9 1563C128.9 1569 133.9 1575.3 139.9 1581C145.9 1586.7 151.6 1592.5 159.9 1597C168.2 1601.5 179.8 1605 189.8 1608C199.8 1611 208.1 1613 219.8 1615C231.5 1617 246.5 1618.8 259.8 1620C273.1 1621.2 286.4 1622 299.7 1622.5C313 1623 328 1623.2 339.7 1623C351.4 1622.8 356.6 1622.2 370 1621.5C383.4 1620.8 401.7 1619.1 420 1618.5C438.3 1617.9 463.3 1618.7 479.9 1617.9C496.5 1617.2 506.5 1615.7 519.8 1614C533.1 1612.3 546.5 1610.8 559.8 1608C573.1 1605.2 589.8 1600 599.8 1597C609.8 1594 614.4 1591.4 619.7 1590C625 1588.6 626.7 1588.3 631.7 1588.6C636.7 1588.9 644 1589.1 649.7 1592C655.4 1594.9 659.9 1600.5 665.7 1606C671.5 1611.5 681.2 1621.8 684.3 1625V1649Z" fill="none" stroke="#000" stroke-width="3" stroke-linejoin="round"/>
<rect x="48.7" y="1650.8" width="635.6" height="27.9" fill="url(#eigH)"/>
<rect x="48.7" y="1678.2" width="219.5" height="27.4" fill="#4540a3"/>
<rect x="268.2" y="1678.2" width="208.5" height="27.4" fill="#2db41e"/>
<rect x="476.7" y="1678.2" width="207.6" height="27.4" fill="#de2c24"/>
<text x="117.2" y="1700.9" font-size="20" font-weight="bold" stroke="#000" stroke-width="0.30" textLength="56" lengthAdjust="spacingAndGlyphs">34.6%</text>
<text x="162.6" y="1700.3" font-size="23.4" font-weight="bold" text-anchor="middle" fill="#fff" stroke="#fff" stroke-width="0.30" textLength="63.2" lengthAdjust="spacingAndGlyphs">34.6%</text>
<text x="382.6" y="1700.3" font-size="23.4" font-weight="bold" text-anchor="middle" fill="#fff" stroke="#fff" stroke-width="0.30" textLength="63.2" lengthAdjust="spacingAndGlyphs">32.7%</text>
<text x="577" y="1700.3" font-size="23.4" font-weight="bold" text-anchor="middle" fill="#fff" stroke="#fff" stroke-width="0.30" textLength="63.2" lengthAdjust="spacingAndGlyphs">32.7%</text>
<text x="47.9" y="1763" font-size="22" font-weight="bold" stroke="#000" stroke-width="0.30" textLength="58" lengthAdjust="spacingAndGlyphs">GCBC</text>
<path d="M48.7 1880C52.2 1875 63.5 1858.3 70 1850C76.5 1841.7 83.3 1834.3 88 1830C92.7 1825.7 94.3 1825.2 98 1824C101.7 1822.8 106.1 1822.7 110 1823C113.9 1823.3 116.4 1824.1 121.4 1825.8C126.4 1827.5 134.2 1830.6 140 1833C145.8 1835.4 150.4 1837.9 156.2 1840.4C162 1842.9 168.5 1845.6 175 1848C181.5 1850.4 182 1852.7 195 1854.9C208 1857.1 237 1859.5 253.1 1861C269.2 1862.5 274 1863.3 291.8 1864C309.6 1864.7 338.6 1865.3 360 1865C381.4 1864.7 400 1863.2 420 1862C440 1860.8 463.3 1859.1 479.9 1857.6C496.5 1856.1 506.5 1854.9 519.8 1853C533.1 1851.1 549.8 1847.1 559.8 1846.4C569.8 1845.7 573.1 1847.4 579.8 1849C586.5 1850.6 593.4 1853.2 600 1856C606.6 1858.8 613 1861.8 619.7 1866C626.4 1870.2 633.3 1876 640 1881C646.7 1886 652.4 1891.8 659.7 1896C667 1900.2 679.7 1904.3 683.7 1906V1908.4H48.7Z" fill="#f5785f" stroke="#333" stroke-width="0.5" stroke-opacity="0.45"/>
<path d="M48.7 1877C52.2 1871.8 63.1 1854.5 70 1846C76.9 1837.5 85 1830 90 1826C95 1822 95.4 1822 100 1822C104.6 1822 111.3 1823.7 117.5 1825.8C123.7 1827.9 130.5 1831.5 136.9 1834.6C143.3 1837.7 148.1 1841 156.2 1844.2C164.3 1847.4 175.6 1851.6 185.3 1853.9C195 1856.2 203 1856.3 214.3 1857.8C225.6 1859.2 240.2 1861.1 253.1 1862.6C266 1864 274 1865.6 291.8 1866.5C309.6 1867.4 338.6 1868.2 360 1868C381.4 1867.8 400 1866.2 420 1865C440 1863.8 463.3 1862.5 480 1861C496.7 1859.5 506.7 1857.8 520 1856C533.3 1854.2 549.8 1850.7 559.8 1850C569.8 1849.3 573.3 1850.5 580 1852C586.7 1853.5 593.3 1856.2 600 1859C606.7 1861.8 613.3 1865 620 1869C626.7 1873 633.3 1878.3 640 1883C646.7 1887.7 652.7 1893 660 1897C667.3 1901 680 1905.3 684 1907V1908.4H48.7Z" fill="#e0553e" stroke="#333" stroke-width="0.5" stroke-opacity="0.45"/>
<path d="M48.7 1882C52.6 1877 64.8 1860.3 72 1852C79.2 1843.7 86.7 1836 92 1832C97.3 1828 99.3 1828.2 104 1828C108.7 1827.8 114 1829 120 1831C126 1833 133.3 1837 140 1840C146.7 1843 151.7 1846 160 1849C168.3 1852 174.5 1855.2 190 1858C205.5 1860.8 234.8 1864.2 253.1 1866C271.4 1867.8 282.2 1868.3 300 1869C317.8 1869.7 340 1870.2 360 1870C380 1869.8 400 1869 420 1868C440 1867 463.3 1865.3 480 1864C496.7 1862.7 506.7 1861.7 520 1860C533.3 1858.3 549.2 1854.8 560 1854C570.8 1853.2 577.5 1853.7 585 1855C592.5 1856.3 598.3 1859 605 1862C611.7 1865 618.3 1868.8 625 1873C631.7 1877.2 638.3 1882.7 645 1887C651.7 1891.3 658.5 1895.7 665 1899C671.5 1902.3 680.8 1905.7 684 1907V1908.4H48.7Z" fill="#c93a2a" stroke="#333" stroke-width="0.5" stroke-opacity="0.45"/>
<path d="M48.7 1858.8C50.5 1855.7 55.7 1846.7 59.4 1840.4C63.1 1834.1 67.3 1826.2 71 1821C74.7 1815.8 78.5 1812.1 81.6 1809.4C84.7 1806.8 86.3 1805.3 89.4 1805.1C92.5 1804.9 96 1805.8 100 1808.4C104 1811.1 109.1 1816.3 113.6 1821C118.1 1825.7 122.7 1832 127.2 1836.5C131.7 1841 135.9 1844.7 140.7 1848.1C145.5 1851.5 149.7 1854.2 156.2 1856.8C162.7 1859.4 169.8 1861.7 179.5 1863.6C189.2 1865.5 202 1867 214.3 1868.4C226.6 1869.9 240.2 1871.3 253.1 1872.3C266 1873.3 278.9 1873.8 291.8 1874.3C304.7 1874.8 319.2 1875.2 330.6 1875.2C342 1875.2 345.1 1874.8 360 1874.3C374.9 1873.8 400 1872.9 420 1872C440 1871.1 463.3 1869.9 479.9 1869C496.5 1868.1 508.1 1867.7 519.8 1866.4C531.4 1865.1 539.8 1863.4 549.8 1861C559.8 1858.6 569.8 1854.6 579.8 1852C589.8 1849.4 601.4 1845.9 609.7 1845.6C618 1845.3 623 1846.6 629.7 1850C636.4 1853.4 643 1860 649.7 1866C656.4 1872 664 1880.8 669.7 1886C675.4 1891.2 681.7 1895.2 684.1 1897V1908.4H48.7Z" fill="#a55a4b"/>
<g clip-path="url(#fc2)">
<path d="M48.7 1880C52.2 1875 63.5 1858.3 70 1850C76.5 1841.7 83.3 1834.3 88 1830C92.7 1825.7 94.3 1825.2 98 1824C101.7 1822.8 106.1 1822.7 110 1823C113.9 1823.3 116.4 1824.1 121.4 1825.8C126.4 1827.5 134.2 1830.6 140 1833C145.8 1835.4 150.4 1837.9 156.2 1840.4C162 1842.9 168.5 1845.6 175 1848C181.5 1850.4 182 1852.7 195 1854.9C208 1857.1 237 1859.5 253.1 1861C269.2 1862.5 274 1863.3 291.8 1864C309.6 1864.7 338.6 1865.3 360 1865C381.4 1864.7 400 1863.2 420 1862C440 1860.8 463.3 1859.1 479.9 1857.6C496.5 1856.1 506.5 1854.9 519.8 1853C533.1 1851.1 549.8 1847.1 559.8 1846.4C569.8 1845.7 573.1 1847.4 579.8 1849C586.5 1850.6 593.4 1853.2 600 1856C606.6 1858.8 613 1861.8 619.7 1866C626.4 1870.2 633.3 1876 640 1881C646.7 1886 652.4 1891.8 659.7 1896C667 1900.2 679.7 1904.3 683.7 1906V1908.4H48.7Z" fill="#a0463a" stroke="#333" stroke-width="0.5" stroke-opacity="0.3"/>
<path d="M48.7 1877C52.2 1871.8 63.1 1854.5 70 1846C76.9 1837.5 85 1830 90 1826C95 1822 95.4 1822 100 1822C104.6 1822 111.3 1823.7 117.5 1825.8C123.7 1827.9 130.5 1831.5 136.9 1834.6C143.3 1837.7 148.1 1841 156.2 1844.2C164.3 1847.4 175.6 1851.6 185.3 1853.9C195 1856.2 203 1856.3 214.3 1857.8C225.6 1859.2 240.2 1861.1 253.1 1862.6C266 1864 274 1865.6 291.8 1866.5C309.6 1867.4 338.6 1868.2 360 1868C381.4 1867.8 400 1866.2 420 1865C440 1863.8 463.3 1862.5 480 1861C496.7 1859.5 506.7 1857.8 520 1856C533.3 1854.2 549.8 1850.7 559.8 1850C569.8 1849.3 573.3 1850.5 580 1852C586.7 1853.5 593.3 1856.2 600 1859C606.7 1861.8 613.3 1865 620 1869C626.7 1873 633.3 1878.3 640 1883C646.7 1887.7 652.7 1893 660 1897C667.3 1901 680 1905.3 684 1907V1908.4H48.7Z" fill="#9c2e27" stroke="#333" stroke-width="0.5" stroke-opacity="0.3"/>
<path d="M48.7 1882C52.6 1877 64.8 1860.3 72 1852C79.2 1843.7 86.7 1836 92 1832C97.3 1828 99.3 1828.2 104 1828C108.7 1827.8 114 1829 120 1831C126 1833 133.3 1837 140 1840C146.7 1843 151.7 1846 160 1849C168.3 1852 174.5 1855.2 190 1858C205.5 1860.8 234.8 1864.2 253.1 1866C271.4 1867.8 282.2 1868.3 300 1869C317.8 1869.7 340 1870.2 360 1870C380 1869.8 400 1869 420 1868C440 1867 463.3 1865.3 480 1864C496.7 1862.7 506.7 1861.7 520 1860C533.3 1858.3 549.2 1854.8 560 1854C570.8 1853.2 577.5 1853.7 585 1855C592.5 1856.3 598.3 1859 605 1862C611.7 1865 618.3 1868.8 625 1873C631.7 1877.2 638.3 1882.7 645 1887C651.7 1891.3 658.5 1895.7 665 1899C671.5 1902.3 680.8 1905.7 684 1907V1908.4H48.7Z" fill="#9b2520" stroke="#333" stroke-width="0.5" stroke-opacity="0.3"/>
</g>
<path d="M48.7 1908.4V1858.8C50.5 1855.7 55.7 1846.7 59.4 1840.4C63.1 1834.1 67.3 1826.2 71 1821C74.7 1815.8 78.5 1812.1 81.6 1809.4C84.7 1806.8 86.3 1805.3 89.4 1805.1C92.5 1804.9 96 1805.8 100 1808.4C104 1811.1 109.1 1816.3 113.6 1821C118.1 1825.7 122.7 1832 127.2 1836.5C131.7 1841 135.9 1844.7 140.7 1848.1C145.5 1851.5 149.7 1854.2 156.2 1856.8C162.7 1859.4 169.8 1861.7 179.5 1863.6C189.2 1865.5 202 1867 214.3 1868.4C226.6 1869.9 240.2 1871.3 253.1 1872.3C266 1873.3 278.9 1873.8 291.8 1874.3C304.7 1874.8 319.2 1875.2 330.6 1875.2C342 1875.2 345.1 1874.8 360 1874.3C374.9 1873.8 400 1872.9 420 1872C440 1871.1 463.3 1869.9 479.9 1869C496.5 1868.1 508.1 1867.7 519.8 1866.4C531.4 1865.1 539.8 1863.4 549.8 1861C559.8 1858.6 569.8 1854.6 579.8 1852C589.8 1849.4 601.4 1845.9 609.7 1845.6C618 1845.3 623 1846.6 629.7 1850C636.4 1853.4 643 1860 649.7 1866C656.4 1872 664 1880.8 669.7 1886C675.4 1891.2 681.7 1895.2 684.1 1897V1908.4Z" fill="none" stroke="#000" stroke-width="3" stroke-linejoin="round"/>
<rect x="48.7" y="1910.3" width="635.6" height="29.9" fill="url(#eigH)"/>
<rect x="48.7" y="1939.7" width="183.9" height="27.6" fill="#4540a3"/>
<rect x="232.6" y="1939.7" width="249.6" height="27.6" fill="#2db41e"/>
<rect x="482.2" y="1939.7" width="202.1" height="27.6" fill="#de2c24"/>
<text x="162.6" y="1962.2" font-size="23.4" font-weight="bold" text-anchor="middle" fill="#fff" stroke="#fff" stroke-width="0.30" textLength="63.2" lengthAdjust="spacingAndGlyphs">29.0%</text>
<text x="382.6" y="1962.2" font-size="23.4" font-weight="bold" text-anchor="middle" fill="#fff" stroke="#fff" stroke-width="0.30" textLength="63.2" lengthAdjust="spacingAndGlyphs">39.2%</text>
<text x="577" y="1962.2" font-size="23.4" font-weight="bold" text-anchor="middle" fill="#fff" stroke="#fff" stroke-width="0.30" textLength="63.2" lengthAdjust="spacingAndGlyphs">31.8%</text>
<text x="47.9" y="2024.5" font-size="22" font-weight="bold" stroke="#000" stroke-width="0.30" textLength="27.5" lengthAdjust="spacingAndGlyphs">PC</text>
<path d="M48.7 2108C50.9 2104 57.1 2090.3 62 2084C66.9 2077.7 73 2072.7 78 2070C83 2067.3 87.3 2067.2 92 2068C96.7 2068.8 101.3 2071.7 106 2075C110.7 2078.3 114.2 2082.8 119.9 2088C125.6 2093.2 133.2 2101 139.9 2106C146.6 2111 149.9 2114.8 159.9 2118C169.9 2121.2 183.2 2123.5 199.8 2125C216.5 2126.5 239.8 2126.8 259.8 2127C279.8 2127.2 303.3 2126.7 320 2126C336.7 2125.3 343.3 2124.3 360 2123C376.7 2121.7 400 2120.3 420 2118C440 2115.7 463.3 2112.3 479.9 2109C496.5 2105.7 509.8 2100.9 519.8 2098C529.8 2095.1 533.8 2092.4 539.8 2091.6C545.8 2090.8 550.8 2091.3 555.8 2093C560.8 2094.7 564.9 2099.2 569.8 2102C574.7 2104.8 580 2107 585 2110C590 2113 594.2 2115.7 600 2120C605.8 2124.3 613.3 2131 620 2136C626.7 2141 633.3 2146 640 2150C646.7 2154 652.7 2157.3 660 2160C667.3 2162.7 680 2165 684 2166V2167.8H48.7Z" fill="#a08cd7" stroke="#333" stroke-width="0.5" stroke-opacity="0.45"/>
<path d="M48.7 2112C51.2 2107.7 58.8 2092.8 64 2086C69.2 2079.2 76 2073.5 80 2071C84 2068.5 84.7 2069.8 88 2071C91.3 2072.2 95.2 2074.5 100 2078C104.8 2081.5 110.8 2087 117 2092C123.2 2097 129.8 2103.3 137 2108C144.2 2112.7 149.4 2116.8 159.9 2120C170.4 2123.2 183.2 2125.5 199.8 2127C216.5 2128.5 239.8 2128.8 259.8 2129C279.8 2129.2 303.3 2128.5 320 2128C336.7 2127.5 343.3 2127.2 360 2126C376.7 2124.8 400 2123.2 420 2121C440 2118.8 463.3 2115.8 479.9 2113C496.5 2110.2 508.1 2106.3 519.8 2104C531.4 2101.7 542.3 2099.7 549.8 2099C557.3 2098.3 560 2098.7 565 2100C570 2101.3 574.5 2104 580 2107C585.5 2110 591.3 2113 598 2118C604.7 2123 612.2 2131.2 620 2137C627.8 2142.8 637.5 2148.8 645 2153C652.5 2157.2 658.5 2159.8 665 2162C671.5 2164.2 680.8 2165.3 684 2166V2167.8H48.7Z" fill="#9169cd" stroke="#333" stroke-width="0.5" stroke-opacity="0.45"/>
<path d="M48.7 2118C51.6 2113.7 60.5 2098.8 66 2092C71.5 2085.2 77.7 2079.7 82 2077C86.3 2074.3 88.3 2075 92 2076C95.7 2077 99.3 2079.7 104 2083C108.7 2086.3 114 2091.3 120 2096C126 2100.7 133.3 2106.8 140 2111C146.7 2115.2 150 2118.2 160 2121C170 2123.8 183.3 2126.5 200 2128C216.7 2129.5 240 2129.7 260 2130C280 2130.3 303.3 2130.3 320 2130C336.7 2129.7 343.3 2129 360 2128C376.7 2127 400 2125.8 420 2124C440 2122.2 463.3 2119.5 480 2117C496.7 2114.5 508 2111.2 520 2109C532 2106.8 543.7 2104.5 552 2104C560.3 2103.5 563.7 2104.3 570 2106C576.3 2107.7 583.3 2110.5 590 2114C596.7 2117.5 602.5 2121.8 610 2127C617.5 2132.2 626.7 2139.5 635 2145C643.3 2150.5 651.8 2156.5 660 2160C668.2 2163.5 680 2165 684 2166V2167.8H48.7Z" fill="#8258c0" stroke="#333" stroke-width="0.5" stroke-opacity="0.45"/>
<path d="M48.4 2095C50.3 2091.2 56.4 2078.2 60 2072C63.6 2065.8 67 2061.2 70 2058C73 2054.8 75 2053.2 78 2053C81 2052.8 84.3 2054.2 88 2057C91.7 2059.8 95.3 2064.2 100 2070C104.7 2075.8 110.9 2085.8 115.9 2092C120.9 2098.2 124.2 2102.3 129.9 2107C135.6 2111.7 141.6 2116.5 149.9 2120C158.2 2123.5 168.2 2125.8 179.9 2128C191.6 2130.2 206.5 2132 219.8 2133C233.1 2134 246.5 2133.8 259.8 2134C273.1 2134.2 288.1 2134.4 299.7 2134.5C311.3 2134.6 319.6 2134.6 329.7 2134.3C339.8 2134.1 344.9 2133.7 360 2133C375.1 2132.3 400 2131.2 420 2130C440 2128.8 463.3 2127.7 479.9 2126C496.5 2124.3 508.1 2122.5 519.8 2120C531.4 2117.5 540.5 2113.8 549.8 2111C559.1 2108.2 568.8 2104.7 575.8 2103C582.8 2101.3 586.1 2100.7 591.8 2101C597.4 2101.3 603.4 2101.8 609.7 2105C616 2108.2 623 2114.2 629.7 2120C636.4 2125.8 643 2133.7 649.7 2140C656.4 2146.3 663.9 2154 669.7 2158C675.5 2162 682.2 2163 684.7 2164V2167.8H48.4Z" fill="#8c73aa"/>
<g clip-path="url(#fc3)">
<path d="M48.7 2108C50.9 2104 57.1 2090.3 62 2084C66.9 2077.7 73 2072.7 78 2070C83 2067.3 87.3 2067.2 92 2068C96.7 2068.8 101.3 2071.7 106 2075C110.7 2078.3 114.2 2082.8 119.9 2088C125.6 2093.2 133.2 2101 139.9 2106C146.6 2111 149.9 2114.8 159.9 2118C169.9 2121.2 183.2 2123.5 199.8 2125C216.5 2126.5 239.8 2126.8 259.8 2127C279.8 2127.2 303.3 2126.7 320 2126C336.7 2125.3 343.3 2124.3 360 2123C376.7 2121.7 400 2120.3 420 2118C440 2115.7 463.3 2112.3 479.9 2109C496.5 2105.7 509.8 2100.9 519.8 2098C529.8 2095.1 533.8 2092.4 539.8 2091.6C545.8 2090.8 550.8 2091.3 555.8 2093C560.8 2094.7 564.9 2099.2 569.8 2102C574.7 2104.8 580 2107 585 2110C590 2113 594.2 2115.7 600 2120C605.8 2124.3 613.3 2131 620 2136C626.7 2141 633.3 2146 640 2150C646.7 2154 652.7 2157.3 660 2160C667.3 2162.7 680 2165 684 2166V2167.8H48.7Z" fill="#7c5ea0" stroke="#333" stroke-width="0.5" stroke-opacity="0.3"/>
<path d="M48.7 2112C51.2 2107.7 58.8 2092.8 64 2086C69.2 2079.2 76 2073.5 80 2071C84 2068.5 84.7 2069.8 88 2071C91.3 2072.2 95.2 2074.5 100 2078C104.8 2081.5 110.8 2087 117 2092C123.2 2097 129.8 2103.3 137 2108C144.2 2112.7 149.4 2116.8 159.9 2120C170.4 2123.2 183.2 2125.5 199.8 2127C216.5 2128.5 239.8 2128.8 259.8 2129C279.8 2129.2 303.3 2128.5 320 2128C336.7 2127.5 343.3 2127.2 360 2126C376.7 2124.8 400 2123.2 420 2121C440 2118.8 463.3 2115.8 479.9 2113C496.5 2110.2 508.1 2106.3 519.8 2104C531.4 2101.7 542.3 2099.7 549.8 2099C557.3 2098.3 560 2098.7 565 2100C570 2101.3 574.5 2104 580 2107C585.5 2110 591.3 2113 598 2118C604.7 2123 612.2 2131.2 620 2137C627.8 2142.8 637.5 2148.8 645 2153C652.5 2157.2 658.5 2159.8 665 2162C671.5 2164.2 680.8 2165.3 684 2166V2167.8H48.7Z" fill="#744f9a" stroke="#333" stroke-width="0.5" stroke-opacity="0.3"/>
<path d="M48.7 2118C51.6 2113.7 60.5 2098.8 66 2092C71.5 2085.2 77.7 2079.7 82 2077C86.3 2074.3 88.3 2075 92 2076C95.7 2077 99.3 2079.7 104 2083C108.7 2086.3 114 2091.3 120 2096C126 2100.7 133.3 2106.8 140 2111C146.7 2115.2 150 2118.2 160 2121C170 2123.8 183.3 2126.5 200 2128C216.7 2129.5 240 2129.7 260 2130C280 2130.3 303.3 2130.3 320 2130C336.7 2129.7 343.3 2129 360 2128C376.7 2127 400 2125.8 420 2124C440 2122.2 463.3 2119.5 480 2117C496.7 2114.5 508 2111.2 520 2109C532 2106.8 543.7 2104.5 552 2104C560.3 2103.5 563.7 2104.3 570 2106C576.3 2107.7 583.3 2110.5 590 2114C596.7 2117.5 602.5 2121.8 610 2127C617.5 2132.2 626.7 2139.5 635 2145C643.3 2150.5 651.8 2156.5 660 2160C668.2 2163.5 680 2165 684 2166V2167.8H48.7Z" fill="#6e4a96" stroke="#333" stroke-width="0.5" stroke-opacity="0.3"/>
</g>
<path d="M48.4 2167.8V2095C50.3 2091.2 56.4 2078.2 60 2072C63.6 2065.8 67 2061.2 70 2058C73 2054.8 75 2053.2 78 2053C81 2052.8 84.3 2054.2 88 2057C91.7 2059.8 95.3 2064.2 100 2070C104.7 2075.8 110.9 2085.8 115.9 2092C120.9 2098.2 124.2 2102.3 129.9 2107C135.6 2111.7 141.6 2116.5 149.9 2120C158.2 2123.5 168.2 2125.8 179.9 2128C191.6 2130.2 206.5 2132 219.8 2133C233.1 2134 246.5 2133.8 259.8 2134C273.1 2134.2 288.1 2134.4 299.7 2134.5C311.3 2134.6 319.6 2134.6 329.7 2134.3C339.8 2134.1 344.9 2133.7 360 2133C375.1 2132.3 400 2131.2 420 2130C440 2128.8 463.3 2127.7 479.9 2126C496.5 2124.3 508.1 2122.5 519.8 2120C531.4 2117.5 540.5 2113.8 549.8 2111C559.1 2108.2 568.8 2104.7 575.8 2103C582.8 2101.3 586.1 2100.7 591.8 2101C597.4 2101.3 603.4 2101.8 609.7 2105C616 2108.2 623 2114.2 629.7 2120C636.4 2125.8 643 2133.7 649.7 2140C656.4 2146.3 663.9 2154 669.7 2158C675.5 2162 682.2 2163 684.7 2164V2167.8Z" fill="none" stroke="#000" stroke-width="3" stroke-linejoin="round"/>
<rect x="48.7" y="2168.8" width="635.6" height="31.1" fill="url(#eigH)"/>
<rect x="48.7" y="2199.4" width="192.4" height="28.5" fill="#4540a3"/>
<rect x="241.1" y="2199.4" width="242.3" height="28.5" fill="#2db41e"/>
<rect x="483.4" y="2199.4" width="200.9" height="28.5" fill="#de2c24"/>
<text x="162.6" y="2221.5" font-size="23.4" font-weight="bold" text-anchor="middle" fill="#fff" stroke="#fff" stroke-width="0.30" textLength="63.2" lengthAdjust="spacingAndGlyphs">30.3%</text>
<text x="382.6" y="2221.5" font-size="23.4" font-weight="bold" text-anchor="middle" fill="#fff" stroke="#fff" stroke-width="0.30" textLength="63.2" lengthAdjust="spacingAndGlyphs">38.1%</text>
<text x="577" y="2221.5" font-size="23.4" font-weight="bold" text-anchor="middle" fill="#fff" stroke="#fff" stroke-width="0.30" textLength="63.2" lengthAdjust="spacingAndGlyphs">31.6%</text>
<text x="47.9" y="2283" font-size="22" font-weight="bold" stroke="#000" stroke-width="0.30" textLength="49.6" lengthAdjust="spacingAndGlyphs">MBC</text>
<path d="M48.7 2365C50.9 2360.5 57.1 2345.5 62 2338C66.9 2330.5 73 2323.7 78 2320C83 2316.3 87.5 2316 92 2316C96.5 2316 101.2 2318.3 105 2320C108.8 2321.7 111.5 2323.7 115 2326C118.5 2328.3 121.7 2331.5 125.9 2334C130.1 2336.5 134.3 2338.3 140 2341C145.7 2343.7 153.2 2346.8 159.9 2350C166.6 2353.2 173.3 2356.8 180 2360C186.7 2363.2 189.8 2365.2 199.8 2369C209.8 2372.8 226.5 2379.7 239.8 2383C253.1 2386.3 266.4 2387.7 279.8 2389C293.2 2390.3 306.6 2390.3 320 2391C333.4 2391.7 343.3 2392.8 360 2393C376.7 2393.2 400 2392.5 420 2392C440 2391.5 459.9 2391.3 479.9 2390C499.9 2388.7 523.1 2386.8 539.8 2384C556.4 2381.2 568.1 2376.3 579.8 2373C591.4 2369.7 602.4 2365.4 609.7 2364.4C617 2363.4 618.7 2365.2 623.7 2367C628.8 2368.8 634 2371.2 640 2375C646 2378.8 652.7 2384.2 660 2390C667.3 2395.8 680 2406.7 684 2410V2427.1H48.7Z" fill="#8ccbea" stroke="#333" stroke-width="0.5" stroke-opacity="0.45"/>
<path d="M48.7 2372C51.2 2367 58.8 2350.2 64 2342C69.2 2333.8 75.7 2327 80 2323C84.3 2319 86.7 2318.2 90 2318C93.3 2317.8 96.3 2320 100 2322C103.7 2324 107.8 2327.2 112 2330C116.2 2332.8 120.3 2336 125 2339C129.7 2342 134.2 2344.8 140 2348C145.8 2351.2 151.7 2354.3 160 2358C168.3 2361.7 180 2366.2 190 2370C200 2373.8 208.3 2377.8 220 2381C231.7 2384.2 243.3 2387 260 2389C276.7 2391 303.3 2392 320 2393C336.7 2394 343.3 2394.8 360 2395C376.7 2395.2 400 2394.5 420 2394C440 2393.5 460 2393.3 480 2392C500 2390.7 523.3 2388.5 540 2386C556.7 2383.5 568 2379.8 580 2377C592 2374.2 603.7 2370.2 612 2369C620.3 2367.8 624 2368.5 630 2370C636 2371.5 642 2374 648 2378C654 2382 660 2388.2 666 2394C672 2399.8 681 2409.8 684 2413V2427.1H48.7Z" fill="#34a6d8" stroke="#333" stroke-width="0.5" stroke-opacity="0.45"/>
<path d="M48.7 2385C51.6 2379.8 60.1 2362 66 2354C71.9 2346 78 2340.7 84 2337C90 2333.3 96.8 2332.2 102 2332C107.2 2331.8 110.7 2333.8 115 2336C119.3 2338.2 123 2341.7 128 2345C133 2348.3 138.8 2352.5 145 2356C151.2 2359.5 157.5 2362.8 165 2366C172.5 2369.2 180.8 2372 190 2375C199.2 2378 208.3 2381.3 220 2384C231.7 2386.7 243.3 2389.2 260 2391C276.7 2392.8 303.3 2394 320 2395C336.7 2396 343.3 2396.8 360 2397C376.7 2397.2 400 2396.5 420 2396C440 2395.5 460 2395.2 480 2394C500 2392.8 523.3 2391.2 540 2389C556.7 2386.8 567.7 2383.7 580 2381C592.3 2378.3 605.2 2374.3 614 2373C622.8 2371.7 626.7 2371.5 633 2373C639.3 2374.5 645.8 2377.8 652 2382C658.2 2386.2 664.7 2392.3 670 2398C675.3 2403.7 681.7 2413 684 2416V2427.1H48.7Z" fill="#1898d0" stroke="#333" stroke-width="0.5" stroke-opacity="0.45"/>
<path d="M48.4 2347C50.3 2342.8 56.4 2329 60 2322C63.6 2315 66.3 2309.3 70 2305C73.7 2300.7 78 2296.7 82 2296C86 2295.3 89.6 2296.8 93.9 2301C98.2 2305.2 102.9 2313.7 107.9 2321C112.9 2328.3 118.6 2338 123.9 2345C129.2 2352 133.9 2358 139.9 2363C145.9 2368 151.6 2371.3 159.9 2375C168.2 2378.7 179.8 2382 189.8 2385C199.8 2388 208.1 2391 219.8 2393C231.5 2395 246.5 2396.1 259.8 2397C273.1 2397.9 283 2398.1 299.7 2398.5C316.4 2398.9 339.9 2399.6 360 2399.5C380.1 2399.4 400 2398.8 420 2398C440 2397.2 463.3 2396 479.9 2395C496.5 2394 506.5 2393.5 519.8 2392C533.1 2390.5 548.1 2388.3 559.8 2386C571.5 2383.7 580.5 2380.5 589.8 2378C599.1 2375.5 608.7 2372.4 615.7 2371C622.7 2369.6 626 2369.1 631.7 2369.4C637.4 2369.7 643.4 2369.6 649.7 2373C656 2376.4 664 2384.8 669.7 2390C675.4 2395.2 681.7 2401.7 684.1 2404V2427.1H48.4Z" fill="#6ea2d4"/>
<g clip-path="url(#fc4)">
<path d="M48.7 2365C50.9 2360.5 57.1 2345.5 62 2338C66.9 2330.5 73 2323.7 78 2320C83 2316.3 87.5 2316 92 2316C96.5 2316 101.2 2318.3 105 2320C108.8 2321.7 111.5 2323.7 115 2326C118.5 2328.3 121.7 2331.5 125.9 2334C130.1 2336.5 134.3 2338.3 140 2341C145.7 2343.7 153.2 2346.8 159.9 2350C166.6 2353.2 173.3 2356.8 180 2360C186.7 2363.2 189.8 2365.2 199.8 2369C209.8 2372.8 226.5 2379.7 239.8 2383C253.1 2386.3 266.4 2387.7 279.8 2389C293.2 2390.3 306.6 2390.3 320 2391C333.4 2391.7 343.3 2392.8 360 2393C376.7 2393.2 400 2392.5 420 2392C440 2391.5 459.9 2391.3 479.9 2390C499.9 2388.7 523.1 2386.8 539.8 2384C556.4 2381.2 568.1 2376.3 579.8 2373C591.4 2369.7 602.4 2365.4 609.7 2364.4C617 2363.4 618.7 2365.2 623.7 2367C628.8 2368.8 634 2371.2 640 2375C646 2378.8 652.7 2384.2 660 2390C667.3 2395.8 680 2406.7 684 2410V2427.1H48.7Z" fill="#4e9bd0" stroke="#333" stroke-width="0.5" stroke-opacity="0.3"/>
<path d="M48.7 2372C51.2 2367 58.8 2350.2 64 2342C69.2 2333.8 75.7 2327 80 2323C84.3 2319 86.7 2318.2 90 2318C93.3 2317.8 96.3 2320 100 2322C103.7 2324 107.8 2327.2 112 2330C116.2 2332.8 120.3 2336 125 2339C129.7 2342 134.2 2344.8 140 2348C145.8 2351.2 151.7 2354.3 160 2358C168.3 2361.7 180 2366.2 190 2370C200 2373.8 208.3 2377.8 220 2381C231.7 2384.2 243.3 2387 260 2389C276.7 2391 303.3 2392 320 2393C336.7 2394 343.3 2394.8 360 2395C376.7 2395.2 400 2394.5 420 2394C440 2393.5 460 2393.3 480 2392C500 2390.7 523.3 2388.5 540 2386C556.7 2383.5 568 2379.8 580 2377C592 2374.2 603.7 2370.2 612 2369C620.3 2367.8 624 2368.5 630 2370C636 2371.5 642 2374 648 2378C654 2382 660 2388.2 666 2394C672 2399.8 681 2409.8 684 2413V2427.1H48.7Z" fill="#1c8ec8" stroke="#333" stroke-width="0.5" stroke-opacity="0.3"/>
<path d="M48.7 2385C51.6 2379.8 60.1 2362 66 2354C71.9 2346 78 2340.7 84 2337C90 2333.3 96.8 2332.2 102 2332C107.2 2331.8 110.7 2333.8 115 2336C119.3 2338.2 123 2341.7 128 2345C133 2348.3 138.8 2352.5 145 2356C151.2 2359.5 157.5 2362.8 165 2366C172.5 2369.2 180.8 2372 190 2375C199.2 2378 208.3 2381.3 220 2384C231.7 2386.7 243.3 2389.2 260 2391C276.7 2392.8 303.3 2394 320 2395C336.7 2396 343.3 2396.8 360 2397C376.7 2397.2 400 2396.5 420 2396C440 2395.5 460 2395.2 480 2394C500 2392.8 523.3 2391.2 540 2389C556.7 2386.8 567.7 2383.7 580 2381C592.3 2378.3 605.2 2374.3 614 2373C622.8 2371.7 626.7 2371.5 633 2373C639.3 2374.5 645.8 2377.8 652 2382C658.2 2386.2 664.7 2392.3 670 2398C675.3 2403.7 681.7 2413 684 2416V2427.1H48.7Z" fill="#078bc6" stroke="#333" stroke-width="0.5" stroke-opacity="0.3"/>
</g>
<path d="M48.4 2427.1V2347C50.3 2342.8 56.4 2329 60 2322C63.6 2315 66.3 2309.3 70 2305C73.7 2300.7 78 2296.7 82 2296C86 2295.3 89.6 2296.8 93.9 2301C98.2 2305.2 102.9 2313.7 107.9 2321C112.9 2328.3 118.6 2338 123.9 2345C129.2 2352 133.9 2358 139.9 2363C145.9 2368 151.6 2371.3 159.9 2375C168.2 2378.7 179.8 2382 189.8 2385C199.8 2388 208.1 2391 219.8 2393C231.5 2395 246.5 2396.1 259.8 2397C273.1 2397.9 283 2398.1 299.7 2398.5C316.4 2398.9 339.9 2399.6 360 2399.5C380.1 2399.4 400 2398.8 420 2398C440 2397.2 463.3 2396 479.9 2395C496.5 2394 506.5 2393.5 519.8 2392C533.1 2390.5 548.1 2388.3 559.8 2386C571.5 2383.7 580.5 2380.5 589.8 2378C599.1 2375.5 608.7 2372.4 615.7 2371C622.7 2369.6 626 2369.1 631.7 2369.4C637.4 2369.7 643.4 2369.6 649.7 2373C656 2376.4 664 2384.8 669.7 2390C675.4 2395.2 681.7 2401.7 684.1 2404V2427.1Z" fill="none" stroke="#000" stroke-width="3" stroke-linejoin="round"/>
<rect x="48.7" y="2428.5" width="635.6" height="32" fill="url(#eigH)"/>
<rect x="48.7" y="2460" width="230.1" height="27.2" fill="#4540a3"/>
<rect x="278.8" y="2460" width="211.4" height="27.2" fill="#2db41e"/>
<rect x="490.2" y="2460" width="194.1" height="27.2" fill="#de2c24"/>
<text x="162.6" y="2483" font-size="23.4" font-weight="bold" text-anchor="middle" fill="#fff" stroke="#fff" stroke-width="0.30" textLength="63.2" lengthAdjust="spacingAndGlyphs">36.2%</text>
<text x="382.6" y="2483" font-size="23.4" font-weight="bold" text-anchor="middle" fill="#fff" stroke="#fff" stroke-width="0.30" textLength="63.2" lengthAdjust="spacingAndGlyphs">33.2%</text>
<text x="577" y="2483" font-size="23.4" font-weight="bold" text-anchor="middle" fill="#fff" stroke="#fff" stroke-width="0.30" textLength="63.2" lengthAdjust="spacingAndGlyphs">30.6%</text>
<text x="733" y="1701.3" font-size="20" font-weight="bold" text-anchor="middle" stroke="#000" stroke-width="0.30" textLength="132.3" lengthAdjust="spacingAndGlyphs" transform="rotate(-90 733 1701.3)">B-cell samples</text>
<text x="733" y="1996.5" font-size="20" font-weight="bold" text-anchor="middle" stroke="#000" stroke-width="0.30" textLength="225.8" lengthAdjust="spacingAndGlyphs" transform="rotate(-90 733 1996.5)">Eigenvector coefficients</text>
<text x="733" y="2264.9" font-size="20" font-weight="bold" text-anchor="middle" stroke="#000" stroke-width="0.30" textLength="226.8" lengthAdjust="spacingAndGlyphs" transform="rotate(-90 733 2264.9)">Compartment definition</text>
<rect x="748.7" y="1560.7" width="18.6" height="18.2" fill="#cdf0ad"/>
<line x1="748.7" y1="1578.9" x2="767.3" y2="1578.9" stroke="#000" stroke-width="0.4" stroke-opacity="0.35"/>
<rect x="748.7" y="1578.9" width="18.6" height="18.2" fill="#c8eeaa"/>
<line x1="748.7" y1="1597" x2="767.3" y2="1597" stroke="#000" stroke-width="0.4" stroke-opacity="0.35"/>
<rect x="748.7" y="1597" width="18.6" height="18.2" fill="#b5e89a"/>
<rect x="748.7" y="1615.2" width="18.6" height="18.2" fill="#8ba67c"/>
<rect x="748.7" y="1633.3" width="18.6" height="18.2" fill="#f88070"/>
<line x1="748.7" y1="1651.5" x2="767.3" y2="1651.5" stroke="#000" stroke-width="0.4" stroke-opacity="0.35"/>
<rect x="748.7" y="1651.5" width="18.6" height="18.2" fill="#f67858"/>
<line x1="748.7" y1="1669.7" x2="767.3" y2="1669.7" stroke="#000" stroke-width="0.4" stroke-opacity="0.35"/>
<rect x="748.7" y="1669.7" width="18.6" height="18.2" fill="#d96b50"/>
<rect x="748.7" y="1687.8" width="18.6" height="18.2" fill="#a25544"/>
<rect x="748.7" y="1706" width="18.6" height="18.2" fill="#9f8ed6"/>
<line x1="748.7" y1="1724.1" x2="767.3" y2="1724.1" stroke="#000" stroke-width="0.4" stroke-opacity="0.35"/>
<rect x="748.7" y="1724.1" width="18.6" height="18.2" fill="#b89fe0"/>
<line x1="748.7" y1="1742.3" x2="767.3" y2="1742.3" stroke="#000" stroke-width="0.4" stroke-opacity="0.35"/>
<rect x="748.7" y="1742.3" width="18.6" height="18.2" fill="#a98ad8"/>
<rect x="748.7" y="1760.5" width="18.6" height="18.2" fill="#8f73ad"/>
<rect x="748.7" y="1778.6" width="18.6" height="18.2" fill="#bde3f3"/>
<line x1="748.7" y1="1796.8" x2="767.3" y2="1796.8" stroke="#000" stroke-width="0.4" stroke-opacity="0.35"/>
<rect x="748.7" y="1796.8" width="18.6" height="18.2" fill="#8fcbe8"/>
<line x1="748.7" y1="1814.9" x2="767.3" y2="1814.9" stroke="#000" stroke-width="0.4" stroke-opacity="0.35"/>
<rect x="748.7" y="1814.9" width="18.6" height="18.2" fill="#6ab2da"/>
<rect x="748.7" y="1833.1" width="18.6" height="18.2" fill="#0387c8"/>
<text x="771.3" y="1574.8" font-size="14" stroke="#000" stroke-width="0.33" textLength="71.8" lengthAdjust="spacingAndGlyphs">NBC (rep1)</text>
<text x="771.3" y="1592.9" font-size="14" stroke="#000" stroke-width="0.33" textLength="71.8" lengthAdjust="spacingAndGlyphs">NBC (rep2)</text>
<text x="771.3" y="1611.1" font-size="14" stroke="#000" stroke-width="0.33" textLength="71.8" lengthAdjust="spacingAndGlyphs">NBC (rep3)</text>
<rect x="749.6" y="1616.1" width="16.8" height="16.4" fill="none" stroke="#111" stroke-width="2.6"/>
<text x="771.3" y="1629.3" font-size="14" stroke="#000" stroke-width="0.33" textLength="27.5" lengthAdjust="spacingAndGlyphs">NBC</text>
<text x="771.3" y="1647.4" font-size="14" stroke="#000" stroke-width="0.33" textLength="80.1" lengthAdjust="spacingAndGlyphs">GCBC (rep1)</text>
<text x="771.3" y="1665.6" font-size="14" stroke="#000" stroke-width="0.33" textLength="80.1" lengthAdjust="spacingAndGlyphs">GCBC (rep2)</text>
<text x="771.3" y="1683.7" font-size="14" stroke="#000" stroke-width="0.33" textLength="80.1" lengthAdjust="spacingAndGlyphs">GCBC (rep3)</text>
<rect x="749.6" y="1688.7" width="16.8" height="16.4" fill="none" stroke="#111" stroke-width="2.6"/>
<text x="771.3" y="1701.9" font-size="14" stroke="#000" stroke-width="0.33" textLength="35.8" lengthAdjust="spacingAndGlyphs">GCBC</text>
<text x="771.3" y="1720.1" font-size="14" stroke="#000" stroke-width="0.33" textLength="60.4" lengthAdjust="spacingAndGlyphs">PC (rep1)</text>
<text x="771.3" y="1738.2" font-size="14" stroke="#000" stroke-width="0.33" textLength="60.4" lengthAdjust="spacingAndGlyphs">PC (rep2)</text>
<text x="771.3" y="1756.4" font-size="14" stroke="#000" stroke-width="0.33" textLength="60.4" lengthAdjust="spacingAndGlyphs">PC (rep3)</text>
<rect x="749.6" y="1761.4" width="16.8" height="16.4" fill="none" stroke="#111" stroke-width="2.6"/>
<text x="771.3" y="1774.5" font-size="14" stroke="#000" stroke-width="0.33" textLength="16.3" lengthAdjust="spacingAndGlyphs">PC</text>
<text x="771.3" y="1792.7" font-size="14" stroke="#000" stroke-width="0.33" textLength="75" lengthAdjust="spacingAndGlyphs">MBC (rep1)</text>
<text x="771.3" y="1810.9" font-size="14" stroke="#000" stroke-width="0.33" textLength="75" lengthAdjust="spacingAndGlyphs">MBC (rep2)</text>
<text x="771.3" y="1829" font-size="14" stroke="#000" stroke-width="0.33" textLength="75" lengthAdjust="spacingAndGlyphs">MBC (rep3)</text>
<rect x="749.6" y="1834" width="16.8" height="16.4" fill="none" stroke="#111" stroke-width="2.6"/>
<text x="771.3" y="1847.2" font-size="14" stroke="#000" stroke-width="0.33" textLength="31" lengthAdjust="spacingAndGlyphs">MBC</text>
<rect x="750.2" y="1938.8" width="18.5" height="85.9" fill="url(#eigV)"/>
<line x1="750.2" y1="1974.6" x2="768.7" y2="1974.6" stroke="#fff" stroke-width="0.8" stroke-opacity="0.7"/>
<text x="776" y="1950" font-size="14" stroke="#000" stroke-width="0.33">1</text>
<text x="776" y="1988.2" font-size="14" stroke="#000" stroke-width="0.33">0</text>
<text x="772.5" y="2026.2" font-size="14" stroke="#000" stroke-width="0.33">-1</text>
<rect x="749.8" y="2216.5" width="18.7" height="31.7" fill="#de2c24"/>
<rect x="749.8" y="2248.2" width="18.7" height="31.4" fill="#2db41e"/>
<rect x="749.8" y="2279.6" width="18.7" height="31.6" fill="#4540a3"/>
<text x="773.5" y="2236.3" font-size="14" stroke="#000" stroke-width="0.33">A</text>
<text x="775.5" y="2270.4" font-size="14" stroke="#000" stroke-width="0.33">I</text>
<text x="773.5" y="2302.8" font-size="14" stroke="#000" stroke-width="0.33">B</text>
<text x="865.3" y="1468.9" font-size="43" font-weight="bold" stroke="#000" stroke-width="0.30" textLength="24.2" lengthAdjust="spacingAndGlyphs">g</text>
<rect x="1005.1" y="1497.2" width="247.4" height="53.9" fill="#b3b3b3"/>
<text x="1128.8" y="1530.8" font-size="21" text-anchor="middle" stroke="#000" stroke-width="0.42" textLength="105.7" lengthAdjust="spacingAndGlyphs">H3K4me3</text>
<rect x="1005.1" y="1551.1" width="247.4" height="208" fill="#fff"/>
<line x1="1025.3" y1="1560.1" x2="1025.3" y2="1622.9" stroke="#7a7a7a" stroke-width="1"/>
<line x1="1025.3" y1="1737.3" x2="1025.3" y2="1746.6" stroke="#7a7a7a" stroke-width="1"/>
<rect x="1018.7" y="1622.9" width="13.2" height="114.4" fill="#de2c24" stroke="#555" stroke-width="0.6"/>
<line x1="1018.7" y1="1706.4" x2="1031.9" y2="1706.4" stroke="#222" stroke-width="1.6"/>
<line x1="1040" y1="1705.4" x2="1040" y2="1727.7" stroke="#7a7a7a" stroke-width="1"/>
<line x1="1040" y1="1742.1" x2="1040" y2="1746.6" stroke="#7a7a7a" stroke-width="1"/>
<rect x="1033.5" y="1727.7" width="13.2" height="14.4" fill="#2db41e" stroke="#555" stroke-width="0.6"/>
<line x1="1033.5" y1="1740.3" x2="1046.7" y2="1740.3" stroke="#222" stroke-width="1.6"/>
<line x1="1054.8" y1="1731.7" x2="1054.8" y2="1738.4" stroke="#7a7a7a" stroke-width="1"/>
<line x1="1054.8" y1="1742.3" x2="1054.8" y2="1746.6" stroke="#7a7a7a" stroke-width="1"/>
<rect x="1048.2" y="1738.4" width="13.2" height="3.9" fill="#4540a3" stroke="#555" stroke-width="0.6"/>
<line x1="1048.2" y1="1741.2" x2="1061.4" y2="1741.2" stroke="#222" stroke-width="1.6"/>
<line x1="1084.5" y1="1560.1" x2="1084.5" y2="1626.2" stroke="#7a7a7a" stroke-width="1"/>
<line x1="1084.5" y1="1741" x2="1084.5" y2="1747.9" stroke="#7a7a7a" stroke-width="1"/>
<rect x="1077.9" y="1626.2" width="13.2" height="114.8" fill="#de2c24" stroke="#555" stroke-width="0.6"/>
<line x1="1077.9" y1="1716.1" x2="1091.1" y2="1716.1" stroke="#222" stroke-width="1.6"/>
<line x1="1099.2" y1="1715.3" x2="1099.2" y2="1733.5" stroke="#7a7a7a" stroke-width="1"/>
<line x1="1099.2" y1="1745.9" x2="1099.2" y2="1747.9" stroke="#7a7a7a" stroke-width="1"/>
<rect x="1092.7" y="1733.5" width="13.2" height="12.4" fill="#2db41e" stroke="#555" stroke-width="0.6"/>
<line x1="1092.7" y1="1744.8" x2="1105.9" y2="1744.8" stroke="#222" stroke-width="1.6"/>
<line x1="1114" y1="1740.9" x2="1114" y2="1743.6" stroke="#7a7a7a" stroke-width="1"/>
<line x1="1114" y1="1746.6" x2="1114" y2="1747.9" stroke="#7a7a7a" stroke-width="1"/>
<rect x="1107.4" y="1743.6" width="13.2" height="2.9" fill="#4540a3" stroke="#555" stroke-width="0.6"/>
<line x1="1107.4" y1="1745" x2="1120.6" y2="1745" stroke="#222" stroke-width="1.6"/>
<line x1="1143.7" y1="1560.1" x2="1143.7" y2="1626.2" stroke="#7a7a7a" stroke-width="1"/>
<line x1="1143.7" y1="1730.8" x2="1143.7" y2="1743.4" stroke="#7a7a7a" stroke-width="1"/>
<rect x="1137.1" y="1626.2" width="13.2" height="104.6" fill="#de2c24" stroke="#555" stroke-width="0.6"/>
<line x1="1137.1" y1="1698.4" x2="1150.3" y2="1698.4" stroke="#222" stroke-width="1.6"/>
<line x1="1158.5" y1="1689.6" x2="1158.5" y2="1717.7" stroke="#7a7a7a" stroke-width="1"/>
<line x1="1158.5" y1="1737.1" x2="1158.5" y2="1744.1" stroke="#7a7a7a" stroke-width="1"/>
<rect x="1151.9" y="1717.7" width="13.2" height="19.4" fill="#2db41e" stroke="#555" stroke-width="0.6"/>
<line x1="1151.9" y1="1734.1" x2="1165.1" y2="1734.1" stroke="#222" stroke-width="1.6"/>
<line x1="1173.2" y1="1721.6" x2="1173.2" y2="1730.8" stroke="#7a7a7a" stroke-width="1"/>
<line x1="1173.2" y1="1737.6" x2="1173.2" y2="1744.1" stroke="#7a7a7a" stroke-width="1"/>
<rect x="1166.6" y="1730.8" width="13.2" height="6.8" fill="#4540a3" stroke="#555" stroke-width="0.6"/>
<line x1="1166.6" y1="1734.4" x2="1179.8" y2="1734.4" stroke="#222" stroke-width="1.6"/>
<line x1="1202.9" y1="1560.1" x2="1202.9" y2="1618.9" stroke="#7a7a7a" stroke-width="1"/>
<line x1="1202.9" y1="1729.6" x2="1202.9" y2="1743.6" stroke="#7a7a7a" stroke-width="1"/>
<rect x="1196.3" y="1618.9" width="13.2" height="110.7" fill="#de2c24" stroke="#555" stroke-width="0.6"/>
<line x1="1196.3" y1="1693.6" x2="1209.5" y2="1693.6" stroke="#222" stroke-width="1.6"/>
<line x1="1217.7" y1="1679" x2="1217.7" y2="1713.2" stroke="#7a7a7a" stroke-width="1"/>
<line x1="1217.7" y1="1735.9" x2="1217.7" y2="1744.1" stroke="#7a7a7a" stroke-width="1"/>
<rect x="1211.1" y="1713.2" width="13.2" height="22.7" fill="#2db41e" stroke="#555" stroke-width="0.6"/>
<line x1="1211.1" y1="1732.7" x2="1224.3" y2="1732.7" stroke="#222" stroke-width="1.6"/>
<line x1="1232.4" y1="1719.7" x2="1232.4" y2="1729.6" stroke="#7a7a7a" stroke-width="1"/>
<line x1="1232.4" y1="1737.1" x2="1232.4" y2="1744.1" stroke="#7a7a7a" stroke-width="1"/>
<rect x="1225.8" y="1729.6" width="13.2" height="7.4" fill="#4540a3" stroke="#555" stroke-width="0.6"/>
<line x1="1225.8" y1="1735" x2="1239" y2="1735" stroke="#222" stroke-width="1.6"/>
<rect x="1005.1" y="1551.1" width="247.4" height="208" fill="none" stroke="#333" stroke-width="1.5"/>
<rect x="1273.3" y="1497.2" width="247.4" height="53.9" fill="#b3b3b3"/>
<text x="1399" y="1530.8" font-size="21" text-anchor="middle" stroke="#000" stroke-width="0.42" textLength="106.2" lengthAdjust="spacingAndGlyphs">H3K4me1</text>
<rect x="1273.3" y="1551.1" width="247.4" height="208" fill="#fff"/>
<line x1="1293.5" y1="1560.1" x2="1293.5" y2="1623.1" stroke="#7a7a7a" stroke-width="1"/>
<line x1="1293.5" y1="1692.4" x2="1293.5" y2="1737.2" stroke="#7a7a7a" stroke-width="1"/>
<rect x="1286.9" y="1623.1" width="13.2" height="69.2" fill="#de2c24" stroke="#555" stroke-width="0.6"/>
<line x1="1286.9" y1="1662" x2="1300.1" y2="1662" stroke="#222" stroke-width="1.6"/>
<line x1="1308.2" y1="1627.1" x2="1308.2" y2="1684.2" stroke="#7a7a7a" stroke-width="1"/>
<line x1="1308.2" y1="1722.4" x2="1308.2" y2="1737.2" stroke="#7a7a7a" stroke-width="1"/>
<rect x="1301.6" y="1684.2" width="13.2" height="38.2" fill="#2db41e" stroke="#555" stroke-width="0.6"/>
<line x1="1301.6" y1="1708.3" x2="1314.8" y2="1708.3" stroke="#222" stroke-width="1.6"/>
<line x1="1323" y1="1683.5" x2="1323" y2="1709.4" stroke="#7a7a7a" stroke-width="1"/>
<line x1="1323" y1="1726.3" x2="1323" y2="1737.2" stroke="#7a7a7a" stroke-width="1"/>
<rect x="1316.4" y="1709.4" width="13.2" height="16.9" fill="#4540a3" stroke="#555" stroke-width="0.6"/>
<line x1="1316.4" y1="1722" x2="1329.6" y2="1722" stroke="#222" stroke-width="1.6"/>
<line x1="1352.7" y1="1560.1" x2="1352.7" y2="1611.3" stroke="#7a7a7a" stroke-width="1"/>
<line x1="1352.7" y1="1684.2" x2="1352.7" y2="1743.9" stroke="#7a7a7a" stroke-width="1"/>
<rect x="1346.1" y="1611.3" width="13.2" height="72.8" fill="#de2c24" stroke="#555" stroke-width="0.6"/>
<line x1="1346.1" y1="1650.2" x2="1359.3" y2="1650.2" stroke="#222" stroke-width="1.6"/>
<line x1="1367.4" y1="1600.9" x2="1367.4" y2="1682.6" stroke="#7a7a7a" stroke-width="1"/>
<line x1="1367.4" y1="1737.2" x2="1367.4" y2="1745" stroke="#7a7a7a" stroke-width="1"/>
<rect x="1360.8" y="1682.6" width="13.2" height="54.6" fill="#2db41e" stroke="#555" stroke-width="0.6"/>
<line x1="1360.8" y1="1721.1" x2="1374" y2="1721.1" stroke="#222" stroke-width="1.6"/>
<line x1="1382.2" y1="1724.3" x2="1382.2" y2="1735.4" stroke="#7a7a7a" stroke-width="1"/>
<line x1="1382.2" y1="1742.3" x2="1382.2" y2="1746" stroke="#7a7a7a" stroke-width="1"/>
<rect x="1375.6" y="1735.4" width="13.2" height="6.8" fill="#4540a3" stroke="#555" stroke-width="0.6"/>
<line x1="1375.6" y1="1741.1" x2="1388.8" y2="1741.1" stroke="#222" stroke-width="1.6"/>
<line x1="1411.9" y1="1560.1" x2="1411.9" y2="1618.8" stroke="#7a7a7a" stroke-width="1"/>
<line x1="1411.9" y1="1686.5" x2="1411.9" y2="1736.5" stroke="#7a7a7a" stroke-width="1"/>
<rect x="1405.3" y="1618.8" width="13.2" height="67.6" fill="#de2c24" stroke="#555" stroke-width="0.6"/>
<line x1="1405.3" y1="1656.1" x2="1418.5" y2="1656.1" stroke="#222" stroke-width="1.6"/>
<line x1="1426.6" y1="1618.8" x2="1426.6" y2="1681.9" stroke="#7a7a7a" stroke-width="1"/>
<line x1="1426.6" y1="1723.6" x2="1426.6" y2="1737.9" stroke="#7a7a7a" stroke-width="1"/>
<rect x="1420" y="1681.9" width="13.2" height="41.7" fill="#2db41e" stroke="#555" stroke-width="0.6"/>
<line x1="1420" y1="1708.9" x2="1433.2" y2="1708.9" stroke="#222" stroke-width="1.6"/>
<line x1="1441.4" y1="1690.6" x2="1441.4" y2="1714.8" stroke="#7a7a7a" stroke-width="1"/>
<line x1="1441.4" y1="1730.5" x2="1441.4" y2="1740.3" stroke="#7a7a7a" stroke-width="1"/>
<rect x="1434.8" y="1714.8" width="13.2" height="15.7" fill="#4540a3" stroke="#555" stroke-width="0.6"/>
<line x1="1434.8" y1="1726.3" x2="1448" y2="1726.3" stroke="#222" stroke-width="1.6"/>
<line x1="1471.1" y1="1560.1" x2="1471.1" y2="1623.1" stroke="#7a7a7a" stroke-width="1"/>
<line x1="1471.1" y1="1688.1" x2="1471.1" y2="1730.8" stroke="#7a7a7a" stroke-width="1"/>
<rect x="1464.5" y="1623.1" width="13.2" height="65" fill="#de2c24" stroke="#555" stroke-width="0.6"/>
<line x1="1464.5" y1="1660.7" x2="1477.7" y2="1660.7" stroke="#222" stroke-width="1.6"/>
<line x1="1485.8" y1="1617.2" x2="1485.8" y2="1674.4" stroke="#7a7a7a" stroke-width="1"/>
<line x1="1485.8" y1="1712.9" x2="1485.8" y2="1731.7" stroke="#7a7a7a" stroke-width="1"/>
<rect x="1479.2" y="1674.4" width="13.2" height="38.5" fill="#2db41e" stroke="#555" stroke-width="0.6"/>
<line x1="1479.2" y1="1700.2" x2="1492.5" y2="1700.2" stroke="#222" stroke-width="1.6"/>
<line x1="1500.6" y1="1664.6" x2="1500.6" y2="1697.9" stroke="#7a7a7a" stroke-width="1"/>
<line x1="1500.6" y1="1720.1" x2="1500.6" y2="1734.6" stroke="#7a7a7a" stroke-width="1"/>
<rect x="1494" y="1697.9" width="13.2" height="22.3" fill="#4540a3" stroke="#555" stroke-width="0.6"/>
<line x1="1494" y1="1714.2" x2="1507.2" y2="1714.2" stroke="#222" stroke-width="1.6"/>
<rect x="1273.3" y="1551.1" width="247.4" height="208" fill="none" stroke="#333" stroke-width="1.5"/>
<rect x="1541.4" y="1497.2" width="247.4" height="53.9" fill="#b3b3b3"/>
<text x="1665.1" y="1530.8" font-size="21" text-anchor="middle" stroke="#000" stroke-width="0.42" textLength="95.8" lengthAdjust="spacingAndGlyphs">H3K27ac</text>
<rect x="1541.4" y="1551.1" width="247.4" height="208" fill="#fff"/>
<line x1="1561.6" y1="1560.1" x2="1561.6" y2="1628.6" stroke="#7a7a7a" stroke-width="1"/>
<line x1="1561.6" y1="1708.1" x2="1561.6" y2="1734.1" stroke="#7a7a7a" stroke-width="1"/>
<rect x="1555" y="1628.6" width="13.2" height="79.4" fill="#de2c24" stroke="#555" stroke-width="0.6"/>
<line x1="1555" y1="1676.7" x2="1568.2" y2="1676.7" stroke="#222" stroke-width="1.6"/>
<line x1="1576.3" y1="1664.6" x2="1576.3" y2="1698.3" stroke="#7a7a7a" stroke-width="1"/>
<line x1="1576.3" y1="1721" x2="1576.3" y2="1734.1" stroke="#7a7a7a" stroke-width="1"/>
<rect x="1569.8" y="1698.3" width="13.2" height="22.7" fill="#2db41e" stroke="#555" stroke-width="0.6"/>
<line x1="1569.8" y1="1715.8" x2="1583" y2="1715.8" stroke="#222" stroke-width="1.6"/>
<line x1="1591.1" y1="1690.6" x2="1591.1" y2="1710.6" stroke="#7a7a7a" stroke-width="1"/>
<line x1="1591.1" y1="1723.6" x2="1591.1" y2="1734.1" stroke="#7a7a7a" stroke-width="1"/>
<rect x="1584.5" y="1710.6" width="13.2" height="13" fill="#4540a3" stroke="#555" stroke-width="0.6"/>
<line x1="1584.5" y1="1719.5" x2="1597.7" y2="1719.5" stroke="#222" stroke-width="1.6"/>
<line x1="1620.8" y1="1560.1" x2="1620.8" y2="1624.2" stroke="#7a7a7a" stroke-width="1"/>
<line x1="1620.8" y1="1694" x2="1620.8" y2="1732.2" stroke="#7a7a7a" stroke-width="1"/>
<rect x="1614.2" y="1624.2" width="13.2" height="69.8" fill="#de2c24" stroke="#555" stroke-width="0.6"/>
<line x1="1614.2" y1="1665.2" x2="1627.4" y2="1665.2" stroke="#222" stroke-width="1.6"/>
<line x1="1635.5" y1="1649.2" x2="1635.5" y2="1690.6" stroke="#7a7a7a" stroke-width="1"/>
<line x1="1635.5" y1="1718.4" x2="1635.5" y2="1732.2" stroke="#7a7a7a" stroke-width="1"/>
<rect x="1629" y="1690.6" width="13.2" height="27.8" fill="#2db41e" stroke="#555" stroke-width="0.6"/>
<line x1="1629" y1="1710.6" x2="1642.2" y2="1710.6" stroke="#222" stroke-width="1.6"/>
<line x1="1650.3" y1="1681.9" x2="1650.3" y2="1708.9" stroke="#7a7a7a" stroke-width="1"/>
<line x1="1650.3" y1="1727.4" x2="1650.3" y2="1738.4" stroke="#7a7a7a" stroke-width="1"/>
<rect x="1643.7" y="1708.9" width="13.2" height="18.4" fill="#4540a3" stroke="#555" stroke-width="0.6"/>
<line x1="1643.7" y1="1721.5" x2="1656.9" y2="1721.5" stroke="#222" stroke-width="1.6"/>
<line x1="1680" y1="1560.1" x2="1680" y2="1627.1" stroke="#7a7a7a" stroke-width="1"/>
<line x1="1680" y1="1692.9" x2="1680" y2="1728.4" stroke="#7a7a7a" stroke-width="1"/>
<rect x="1673.4" y="1627.1" width="13.2" height="65.8" fill="#de2c24" stroke="#555" stroke-width="0.6"/>
<line x1="1673.4" y1="1664.6" x2="1686.6" y2="1664.6" stroke="#222" stroke-width="1.6"/>
<line x1="1694.8" y1="1631.9" x2="1694.8" y2="1680.9" stroke="#7a7a7a" stroke-width="1"/>
<line x1="1694.8" y1="1713.3" x2="1694.8" y2="1728.4" stroke="#7a7a7a" stroke-width="1"/>
<rect x="1688.2" y="1680.9" width="13.2" height="32.3" fill="#2db41e" stroke="#555" stroke-width="0.6"/>
<line x1="1688.2" y1="1703.2" x2="1701.4" y2="1703.2" stroke="#222" stroke-width="1.6"/>
<line x1="1709.5" y1="1659.7" x2="1709.5" y2="1696" stroke="#7a7a7a" stroke-width="1"/>
<line x1="1709.5" y1="1720.1" x2="1709.5" y2="1734.1" stroke="#7a7a7a" stroke-width="1"/>
<rect x="1702.9" y="1696" width="13.2" height="24.2" fill="#4540a3" stroke="#555" stroke-width="0.6"/>
<line x1="1702.9" y1="1713.3" x2="1716.1" y2="1713.3" stroke="#222" stroke-width="1.6"/>
<line x1="1739.2" y1="1560.1" x2="1739.2" y2="1635.2" stroke="#7a7a7a" stroke-width="1"/>
<line x1="1739.2" y1="1695.2" x2="1739.2" y2="1724.6" stroke="#7a7a7a" stroke-width="1"/>
<rect x="1732.6" y="1635.2" width="13.2" height="60" fill="#de2c24" stroke="#555" stroke-width="0.6"/>
<line x1="1732.6" y1="1670.1" x2="1745.8" y2="1670.1" stroke="#222" stroke-width="1.6"/>
<line x1="1753.9" y1="1630.9" x2="1753.9" y2="1677.3" stroke="#7a7a7a" stroke-width="1"/>
<line x1="1753.9" y1="1707.7" x2="1753.9" y2="1725.5" stroke="#7a7a7a" stroke-width="1"/>
<rect x="1747.3" y="1677.3" width="13.2" height="30.3" fill="#2db41e" stroke="#555" stroke-width="0.6"/>
<line x1="1747.3" y1="1696.9" x2="1760.5" y2="1696.9" stroke="#222" stroke-width="1.6"/>
<line x1="1768.7" y1="1635.7" x2="1768.7" y2="1680" stroke="#7a7a7a" stroke-width="1"/>
<line x1="1768.7" y1="1709.4" x2="1768.7" y2="1729.8" stroke="#7a7a7a" stroke-width="1"/>
<rect x="1762.1" y="1680" width="13.2" height="29.4" fill="#4540a3" stroke="#555" stroke-width="0.6"/>
<line x1="1762.1" y1="1697.9" x2="1775.3" y2="1697.9" stroke="#222" stroke-width="1.6"/>
<rect x="1541.4" y="1551.1" width="247.4" height="208" fill="none" stroke="#333" stroke-width="1.5"/>
<line x1="994.5" y1="1749.8" x2="1005.1" y2="1749.8" stroke="#333" stroke-width="2"/>
<text x="990.5" y="1756.4" font-size="18.5" text-anchor="end" stroke="#000" stroke-width="0.42" textLength="10.8" lengthAdjust="spacingAndGlyphs">0</text>
<line x1="994.5" y1="1702.3" x2="1005.1" y2="1702.3" stroke="#333" stroke-width="2"/>
<text x="990.5" y="1708.9" font-size="18.5" text-anchor="end" stroke="#000" stroke-width="0.42" textLength="21.6" lengthAdjust="spacingAndGlyphs">50</text>
<line x1="994.5" y1="1654.7" x2="1005.1" y2="1654.7" stroke="#333" stroke-width="2"/>
<text x="990.5" y="1661.3" font-size="18.5" text-anchor="end" stroke="#000" stroke-width="0.42" textLength="32.4" lengthAdjust="spacingAndGlyphs">100</text>
<line x1="994.5" y1="1607.2" x2="1005.1" y2="1607.2" stroke="#333" stroke-width="2"/>
<text x="990.5" y="1613.8" font-size="18.5" text-anchor="end" stroke="#000" stroke-width="0.42" textLength="32.4" lengthAdjust="spacingAndGlyphs">150</text>
<line x1="994.5" y1="1559.6" x2="1005.1" y2="1559.6" stroke="#333" stroke-width="2"/>
<text x="990.5" y="1566.2" font-size="18.5" text-anchor="end" stroke="#000" stroke-width="0.42" textLength="32.4" lengthAdjust="spacingAndGlyphs">200</text>
<rect x="1005.1" y="1778.7" width="247.4" height="53.9" fill="#b3b3b3"/>
<text x="1128.8" y="1812.3" font-size="21" text-anchor="middle" stroke="#000" stroke-width="0.42" textLength="119.2" lengthAdjust="spacingAndGlyphs">H3K36me3</text>
<rect x="1005.1" y="1832.6" width="247.4" height="208" fill="#fff"/>
<line x1="1025.3" y1="1841.1" x2="1025.3" y2="1902.2" stroke="#7a7a7a" stroke-width="1"/>
<line x1="1025.3" y1="2002.9" x2="1025.3" y2="2022.6" stroke="#7a7a7a" stroke-width="1"/>
<rect x="1018.7" y="1902.2" width="13.2" height="100.6" fill="#de2c24" stroke="#555" stroke-width="0.6"/>
<line x1="1018.7" y1="1960.3" x2="1031.9" y2="1960.3" stroke="#222" stroke-width="1.6"/>
<line x1="1040" y1="1943.8" x2="1040" y2="1984.7" stroke="#7a7a7a" stroke-width="1"/>
<line x1="1040" y1="2011.1" x2="1040" y2="2022.6" stroke="#7a7a7a" stroke-width="1"/>
<rect x="1033.5" y="1984.7" width="13.2" height="26.4" fill="#2db41e" stroke="#555" stroke-width="0.6"/>
<line x1="1033.5" y1="2006.8" x2="1046.7" y2="2006.8" stroke="#222" stroke-width="1.6"/>
<line x1="1054.8" y1="1992.4" x2="1054.8" y2="2004.6" stroke="#7a7a7a" stroke-width="1"/>
<line x1="1054.8" y1="2012.2" x2="1054.8" y2="2021.8" stroke="#7a7a7a" stroke-width="1"/>
<rect x="1048.2" y="2004.6" width="13.2" height="7.6" fill="#4540a3" stroke="#555" stroke-width="0.6"/>
<line x1="1048.2" y1="2009" x2="1061.4" y2="2009" stroke="#222" stroke-width="1.6"/>
<line x1="1084.5" y1="1841.1" x2="1084.5" y2="1920.9" stroke="#7a7a7a" stroke-width="1"/>
<line x1="1084.5" y1="2013.1" x2="1084.5" y2="2026.4" stroke="#7a7a7a" stroke-width="1"/>
<rect x="1077.9" y="1920.9" width="13.2" height="92.2" fill="#de2c24" stroke="#555" stroke-width="0.6"/>
<line x1="1077.9" y1="1981.7" x2="1091.1" y2="1981.7" stroke="#222" stroke-width="1.6"/>
<line x1="1099.2" y1="1991.9" x2="1099.2" y2="2010" stroke="#7a7a7a" stroke-width="1"/>
<line x1="1099.2" y1="2021.9" x2="1099.2" y2="2027.5" stroke="#7a7a7a" stroke-width="1"/>
<rect x="1092.7" y="2010" width="13.2" height="11.9" fill="#2db41e" stroke="#555" stroke-width="0.6"/>
<line x1="1092.7" y1="2018.7" x2="1105.9" y2="2018.7" stroke="#222" stroke-width="1.6"/>
<line x1="1114" y1="2012.7" x2="1114" y2="2018.6" stroke="#7a7a7a" stroke-width="1"/>
<line x1="1114" y1="2022.9" x2="1114" y2="2028" stroke="#7a7a7a" stroke-width="1"/>
<rect x="1107.4" y="2018.6" width="13.2" height="4.4" fill="#4540a3" stroke="#555" stroke-width="0.6"/>
<line x1="1107.4" y1="2020.8" x2="1120.6" y2="2020.8" stroke="#222" stroke-width="1.6"/>
<line x1="1143.7" y1="1841.1" x2="1143.7" y2="1911.8" stroke="#7a7a7a" stroke-width="1"/>
<line x1="1143.7" y1="1986.4" x2="1143.7" y2="2011.6" stroke="#7a7a7a" stroke-width="1"/>
<rect x="1137.1" y="1911.8" width="13.2" height="74.7" fill="#de2c24" stroke="#555" stroke-width="0.6"/>
<line x1="1137.1" y1="1956.6" x2="1150.3" y2="1956.6" stroke="#222" stroke-width="1.6"/>
<line x1="1158.5" y1="1933.3" x2="1158.5" y2="1972.2" stroke="#7a7a7a" stroke-width="1"/>
<line x1="1158.5" y1="1998.5" x2="1158.5" y2="2013.7" stroke="#7a7a7a" stroke-width="1"/>
<rect x="1151.9" y="1972.2" width="13.2" height="26.2" fill="#2db41e" stroke="#555" stroke-width="0.6"/>
<line x1="1151.9" y1="1991.9" x2="1165.1" y2="1991.9" stroke="#222" stroke-width="1.6"/>
<line x1="1173.2" y1="1956.6" x2="1173.2" y2="1982.8" stroke="#7a7a7a" stroke-width="1"/>
<line x1="1173.2" y1="2000" x2="1173.2" y2="2015.1" stroke="#7a7a7a" stroke-width="1"/>
<rect x="1166.6" y="1982.8" width="13.2" height="17.2" fill="#4540a3" stroke="#555" stroke-width="0.6"/>
<line x1="1166.6" y1="1995.2" x2="1179.8" y2="1995.2" stroke="#222" stroke-width="1.6"/>
<line x1="1202.9" y1="1841.1" x2="1202.9" y2="1894.6" stroke="#7a7a7a" stroke-width="1"/>
<line x1="1202.9" y1="1998.5" x2="1202.9" y2="2022.6" stroke="#7a7a7a" stroke-width="1"/>
<rect x="1196.3" y="1894.6" width="13.2" height="103.8" fill="#de2c24" stroke="#555" stroke-width="0.6"/>
<line x1="1196.3" y1="1948.8" x2="1209.5" y2="1948.8" stroke="#222" stroke-width="1.6"/>
<line x1="1217.7" y1="1941.1" x2="1217.7" y2="1985.4" stroke="#7a7a7a" stroke-width="1"/>
<line x1="1217.7" y1="2014.8" x2="1217.7" y2="2023.2" stroke="#7a7a7a" stroke-width="1"/>
<rect x="1211.1" y="1985.4" width="13.2" height="29.5" fill="#2db41e" stroke="#555" stroke-width="0.6"/>
<line x1="1211.1" y1="2009" x2="1224.3" y2="2009" stroke="#222" stroke-width="1.6"/>
<line x1="1232.4" y1="1999.7" x2="1232.4" y2="2010.6" stroke="#7a7a7a" stroke-width="1"/>
<line x1="1232.4" y1="2017.8" x2="1232.4" y2="2025.6" stroke="#7a7a7a" stroke-width="1"/>
<rect x="1225.8" y="2010.6" width="13.2" height="7.2" fill="#4540a3" stroke="#555" stroke-width="0.6"/>
<line x1="1225.8" y1="2014.8" x2="1239" y2="2014.8" stroke="#222" stroke-width="1.6"/>
<rect x="1005.1" y="1832.6" width="247.4" height="208" fill="none" stroke="#333" stroke-width="1.5"/>
<rect x="1273.3" y="1778.7" width="247.4" height="53.9" fill="#b3b3b3"/>
<text x="1397" y="1812.3" font-size="21" text-anchor="middle" stroke="#000" stroke-width="0.42" textLength="105.6" lengthAdjust="spacingAndGlyphs">H3K9me3</text>
<rect x="1273.3" y="1832.6" width="247.4" height="208" fill="#fff"/>
<line x1="1293.5" y1="1888.7" x2="1293.5" y2="1953.2" stroke="#7a7a7a" stroke-width="1"/>
<line x1="1293.5" y1="1996.2" x2="1293.5" y2="2020.5" stroke="#7a7a7a" stroke-width="1"/>
<rect x="1286.9" y="1953.2" width="13.2" height="43" fill="#de2c24" stroke="#555" stroke-width="0.6"/>
<line x1="1286.9" y1="1978.8" x2="1300.1" y2="1978.8" stroke="#222" stroke-width="1.6"/>
<line x1="1308.2" y1="1880.5" x2="1308.2" y2="1944.1" stroke="#7a7a7a" stroke-width="1"/>
<line x1="1308.2" y1="1986" x2="1308.2" y2="2015.9" stroke="#7a7a7a" stroke-width="1"/>
<rect x="1301.6" y="1944.1" width="13.2" height="41.9" fill="#2db41e" stroke="#555" stroke-width="0.6"/>
<line x1="1301.6" y1="1969.7" x2="1314.8" y2="1969.7" stroke="#222" stroke-width="1.6"/>
<line x1="1323" y1="1872.9" x2="1323" y2="1935.2" stroke="#7a7a7a" stroke-width="1"/>
<line x1="1323" y1="1977.2" x2="1323" y2="2010" stroke="#7a7a7a" stroke-width="1"/>
<rect x="1316.4" y="1935.2" width="13.2" height="41.9" fill="#4540a3" stroke="#555" stroke-width="0.6"/>
<line x1="1316.4" y1="1961.8" x2="1329.6" y2="1961.8" stroke="#222" stroke-width="1.6"/>
<line x1="1352.7" y1="1899.5" x2="1352.7" y2="1963.1" stroke="#7a7a7a" stroke-width="1"/>
<line x1="1352.7" y1="2005.1" x2="1352.7" y2="2023.1" stroke="#7a7a7a" stroke-width="1"/>
<rect x="1346.1" y="1963.1" width="13.2" height="42" fill="#de2c24" stroke="#555" stroke-width="0.6"/>
<line x1="1346.1" y1="1989.4" x2="1359.3" y2="1989.4" stroke="#222" stroke-width="1.6"/>
<line x1="1367.4" y1="1919.1" x2="1367.4" y2="1972.3" stroke="#7a7a7a" stroke-width="1"/>
<line x1="1367.4" y1="2007.4" x2="1367.4" y2="2023.1" stroke="#7a7a7a" stroke-width="1"/>
<rect x="1360.8" y="1972.3" width="13.2" height="35.1" fill="#2db41e" stroke="#555" stroke-width="0.6"/>
<line x1="1360.8" y1="1994.6" x2="1374" y2="1994.6" stroke="#222" stroke-width="1.6"/>
<line x1="1382.2" y1="1841.1" x2="1382.2" y2="1899.2" stroke="#7a7a7a" stroke-width="1"/>
<line x1="1382.2" y1="1971.3" x2="1382.2" y2="2021.5" stroke="#7a7a7a" stroke-width="1"/>
<rect x="1375.6" y="1899.2" width="13.2" height="72.1" fill="#4540a3" stroke="#555" stroke-width="0.6"/>
<line x1="1375.6" y1="1933" x2="1388.8" y2="1933" stroke="#222" stroke-width="1.6"/>
<line x1="1411.9" y1="1917.6" x2="1411.9" y2="1968" stroke="#7a7a7a" stroke-width="1"/>
<line x1="1411.9" y1="2002.1" x2="1411.9" y2="2017.5" stroke="#7a7a7a" stroke-width="1"/>
<rect x="1405.3" y="1968" width="13.2" height="34.1" fill="#de2c24" stroke="#555" stroke-width="0.6"/>
<line x1="1405.3" y1="1989.4" x2="1418.5" y2="1989.4" stroke="#222" stroke-width="1.6"/>
<line x1="1426.6" y1="1920.4" x2="1426.6" y2="1968" stroke="#7a7a7a" stroke-width="1"/>
<line x1="1426.6" y1="2000.1" x2="1426.6" y2="2017.5" stroke="#7a7a7a" stroke-width="1"/>
<rect x="1420" y="1968" width="13.2" height="32.1" fill="#2db41e" stroke="#555" stroke-width="0.6"/>
<line x1="1420" y1="1988" x2="1433.2" y2="1988" stroke="#222" stroke-width="1.6"/>
<line x1="1441.4" y1="1841.1" x2="1441.4" y2="1903.8" stroke="#7a7a7a" stroke-width="1"/>
<line x1="1441.4" y1="1963.5" x2="1441.4" y2="2012.7" stroke="#7a7a7a" stroke-width="1"/>
<rect x="1434.8" y="1903.8" width="13.2" height="59.7" fill="#4540a3" stroke="#555" stroke-width="0.6"/>
<line x1="1434.8" y1="1935.2" x2="1448" y2="1935.2" stroke="#222" stroke-width="1.6"/>
<line x1="1471.1" y1="1896.8" x2="1471.1" y2="1954.9" stroke="#7a7a7a" stroke-width="1"/>
<line x1="1471.1" y1="1993.5" x2="1471.1" y2="2014.3" stroke="#7a7a7a" stroke-width="1"/>
<rect x="1464.5" y="1954.9" width="13.2" height="38.6" fill="#de2c24" stroke="#555" stroke-width="0.6"/>
<line x1="1464.5" y1="1978.2" x2="1477.7" y2="1978.2" stroke="#222" stroke-width="1.6"/>
<line x1="1485.8" y1="1882.8" x2="1485.8" y2="1944.1" stroke="#7a7a7a" stroke-width="1"/>
<line x1="1485.8" y1="1984.4" x2="1485.8" y2="2011.6" stroke="#7a7a7a" stroke-width="1"/>
<rect x="1479.2" y="1944.1" width="13.2" height="40.3" fill="#2db41e" stroke="#555" stroke-width="0.6"/>
<line x1="1479.2" y1="1970.3" x2="1492.5" y2="1970.3" stroke="#222" stroke-width="1.6"/>
<line x1="1500.6" y1="1868.4" x2="1500.6" y2="1932.6" stroke="#7a7a7a" stroke-width="1"/>
<line x1="1500.6" y1="1975.2" x2="1500.6" y2="2004.4" stroke="#7a7a7a" stroke-width="1"/>
<rect x="1494" y="1932.6" width="13.2" height="42.6" fill="#4540a3" stroke="#555" stroke-width="0.6"/>
<line x1="1494" y1="1959.9" x2="1507.2" y2="1959.9" stroke="#222" stroke-width="1.6"/>
<rect x="1273.3" y="1832.6" width="247.4" height="208" fill="none" stroke="#333" stroke-width="1.5"/>
<rect x="1541.4" y="1778.7" width="247.4" height="53.9" fill="#b3b3b3"/>
<text x="1665.1" y="1812.3" font-size="21" text-anchor="middle" stroke="#000" stroke-width="0.42" textLength="119.6" lengthAdjust="spacingAndGlyphs">H3K27me3</text>
<rect x="1541.4" y="1832.6" width="247.4" height="208" fill="#fff"/>
<line x1="1561.6" y1="1870" x2="1561.6" y2="1948" stroke="#7a7a7a" stroke-width="1"/>
<line x1="1561.6" y1="2000.2" x2="1561.6" y2="2023.1" stroke="#7a7a7a" stroke-width="1"/>
<rect x="1555" y="1948" width="13.2" height="52.2" fill="#de2c24" stroke="#555" stroke-width="0.6"/>
<line x1="1555" y1="1977.9" x2="1568.2" y2="1977.9" stroke="#222" stroke-width="1.6"/>
<line x1="1576.3" y1="1861.7" x2="1576.3" y2="1932" stroke="#7a7a7a" stroke-width="1"/>
<line x1="1576.3" y1="1979.1" x2="1576.3" y2="2021.5" stroke="#7a7a7a" stroke-width="1"/>
<rect x="1569.8" y="1932" width="13.2" height="47.1" fill="#2db41e" stroke="#555" stroke-width="0.6"/>
<line x1="1569.8" y1="1959.2" x2="1583" y2="1959.2" stroke="#222" stroke-width="1.6"/>
<line x1="1591.1" y1="1892.3" x2="1591.1" y2="1951.3" stroke="#7a7a7a" stroke-width="1"/>
<line x1="1591.1" y1="1991" x2="1591.1" y2="2015.6" stroke="#7a7a7a" stroke-width="1"/>
<rect x="1584.5" y="1951.3" width="13.2" height="39.7" fill="#4540a3" stroke="#555" stroke-width="0.6"/>
<line x1="1584.5" y1="1976.5" x2="1597.7" y2="1976.5" stroke="#222" stroke-width="1.6"/>
<line x1="1620.8" y1="1841.1" x2="1620.8" y2="1931" stroke="#7a7a7a" stroke-width="1"/>
<line x1="1620.8" y1="2002.1" x2="1620.8" y2="2025.4" stroke="#7a7a7a" stroke-width="1"/>
<rect x="1614.2" y="1931" width="13.2" height="71.1" fill="#de2c24" stroke="#555" stroke-width="0.6"/>
<line x1="1614.2" y1="1971" x2="1627.4" y2="1971" stroke="#222" stroke-width="1.6"/>
<line x1="1635.5" y1="1858.4" x2="1635.5" y2="1936.5" stroke="#7a7a7a" stroke-width="1"/>
<line x1="1635.5" y1="1988.4" x2="1635.5" y2="2025.4" stroke="#7a7a7a" stroke-width="1"/>
<rect x="1629" y="1936.5" width="13.2" height="51.9" fill="#2db41e" stroke="#555" stroke-width="0.6"/>
<line x1="1629" y1="1967.7" x2="1642.2" y2="1967.7" stroke="#222" stroke-width="1.6"/>
<line x1="1650.3" y1="1937.9" x2="1650.3" y2="1980.5" stroke="#7a7a7a" stroke-width="1"/>
<line x1="1650.3" y1="2009" x2="1650.3" y2="2020" stroke="#7a7a7a" stroke-width="1"/>
<rect x="1643.7" y="1980.5" width="13.2" height="28.5" fill="#4540a3" stroke="#555" stroke-width="0.6"/>
<line x1="1643.7" y1="2002.1" x2="1656.9" y2="2002.1" stroke="#222" stroke-width="1.6"/>
<line x1="1680" y1="1841.1" x2="1680" y2="1932" stroke="#7a7a7a" stroke-width="1"/>
<line x1="1680" y1="1995.9" x2="1680" y2="2022.1" stroke="#7a7a7a" stroke-width="1"/>
<rect x="1673.4" y="1932" width="13.2" height="63.9" fill="#de2c24" stroke="#555" stroke-width="0.6"/>
<line x1="1673.4" y1="1967.4" x2="1686.6" y2="1967.4" stroke="#222" stroke-width="1.6"/>
<line x1="1694.8" y1="1855.8" x2="1694.8" y2="1930.3" stroke="#7a7a7a" stroke-width="1"/>
<line x1="1694.8" y1="1979.6" x2="1694.8" y2="2021.5" stroke="#7a7a7a" stroke-width="1"/>
<rect x="1688.2" y="1930.3" width="13.2" height="49.3" fill="#2db41e" stroke="#555" stroke-width="0.6"/>
<line x1="1688.2" y1="1958.8" x2="1701.4" y2="1958.8" stroke="#222" stroke-width="1.6"/>
<line x1="1709.5" y1="1921.7" x2="1709.5" y2="1972.3" stroke="#7a7a7a" stroke-width="1"/>
<line x1="1709.5" y1="2005.4" x2="1709.5" y2="2016.7" stroke="#7a7a7a" stroke-width="1"/>
<rect x="1702.9" y="1972.3" width="13.2" height="33.1" fill="#4540a3" stroke="#555" stroke-width="0.6"/>
<line x1="1702.9" y1="1995.9" x2="1716.1" y2="1995.9" stroke="#222" stroke-width="1.6"/>
<line x1="1739.2" y1="1864" x2="1739.2" y2="1944.5" stroke="#7a7a7a" stroke-width="1"/>
<line x1="1739.2" y1="1997.9" x2="1739.2" y2="2021.5" stroke="#7a7a7a" stroke-width="1"/>
<rect x="1732.6" y="1944.5" width="13.2" height="53.4" fill="#de2c24" stroke="#555" stroke-width="0.6"/>
<line x1="1732.6" y1="1975.7" x2="1745.8" y2="1975.7" stroke="#222" stroke-width="1.6"/>
<line x1="1753.9" y1="1860.1" x2="1753.9" y2="1930.7" stroke="#7a7a7a" stroke-width="1"/>
<line x1="1753.9" y1="1977.2" x2="1753.9" y2="2020.8" stroke="#7a7a7a" stroke-width="1"/>
<rect x="1747.3" y="1930.7" width="13.2" height="46.5" fill="#2db41e" stroke="#555" stroke-width="0.6"/>
<line x1="1747.3" y1="1957.6" x2="1760.5" y2="1957.6" stroke="#222" stroke-width="1.6"/>
<line x1="1768.7" y1="1895.3" x2="1768.7" y2="1954.3" stroke="#7a7a7a" stroke-width="1"/>
<line x1="1768.7" y1="1993.5" x2="1768.7" y2="2016.7" stroke="#7a7a7a" stroke-width="1"/>
<rect x="1762.1" y="1954.3" width="13.2" height="39.3" fill="#4540a3" stroke="#555" stroke-width="0.6"/>
<line x1="1762.1" y1="1978.5" x2="1775.3" y2="1978.5" stroke="#222" stroke-width="1.6"/>
<rect x="1541.4" y="1832.6" width="247.4" height="208" fill="none" stroke="#333" stroke-width="1.5"/>
<line x1="994.5" y1="2031.3" x2="1005.1" y2="2031.3" stroke="#333" stroke-width="2"/>
<text x="990.5" y="2037.9" font-size="18.5" text-anchor="end" stroke="#000" stroke-width="0.42" textLength="10.8" lengthAdjust="spacingAndGlyphs">0</text>
<line x1="994.5" y1="1983.8" x2="1005.1" y2="1983.8" stroke="#333" stroke-width="2"/>
<text x="990.5" y="1990.4" font-size="18.5" text-anchor="end" stroke="#000" stroke-width="0.42" textLength="21.6" lengthAdjust="spacingAndGlyphs">50</text>
<line x1="994.5" y1="1936.2" x2="1005.1" y2="1936.2" stroke="#333" stroke-width="2"/>
<text x="990.5" y="1942.8" font-size="18.5" text-anchor="end" stroke="#000" stroke-width="0.42" textLength="32.4" lengthAdjust="spacingAndGlyphs">100</text>
<line x1="994.5" y1="1888.7" x2="1005.1" y2="1888.7" stroke="#333" stroke-width="2"/>
<text x="990.5" y="1895.2" font-size="18.5" text-anchor="end" stroke="#000" stroke-width="0.42" textLength="32.4" lengthAdjust="spacingAndGlyphs">150</text>
<line x1="994.5" y1="1841.1" x2="1005.1" y2="1841.1" stroke="#333" stroke-width="2"/>
<text x="990.5" y="1847.7" font-size="18.5" text-anchor="end" stroke="#000" stroke-width="0.42" textLength="32.4" lengthAdjust="spacingAndGlyphs">200</text>
<rect x="1005.1" y="2060.4" width="247.4" height="53.9" fill="#b3b3b3"/>
<text x="1132.7" y="2094" font-size="21" text-anchor="middle" stroke="#000" stroke-width="0.42" textLength="97.3" lengthAdjust="spacingAndGlyphs">ATAC-seq</text>
<rect x="1005.1" y="2114.3" width="247.4" height="208" fill="#fff"/>
<line x1="1025.3" y1="2122.8" x2="1025.3" y2="2187" stroke="#7a7a7a" stroke-width="1"/>
<line x1="1025.3" y1="2270.7" x2="1025.3" y2="2304.4" stroke="#7a7a7a" stroke-width="1"/>
<rect x="1018.7" y="2187" width="13.2" height="83.7" fill="#de2c24" stroke="#555" stroke-width="0.6"/>
<line x1="1018.7" y1="2233.6" x2="1031.9" y2="2233.6" stroke="#222" stroke-width="1.6"/>
<line x1="1040" y1="2220.3" x2="1040" y2="2264.2" stroke="#7a7a7a" stroke-width="1"/>
<line x1="1040" y1="2293.8" x2="1040" y2="2304.4" stroke="#7a7a7a" stroke-width="1"/>
<rect x="1033.5" y="2264.2" width="13.2" height="29.6" fill="#2db41e" stroke="#555" stroke-width="0.6"/>
<line x1="1033.5" y1="2284.9" x2="1046.7" y2="2284.9" stroke="#222" stroke-width="1.6"/>
<line x1="1054.8" y1="2262" x2="1054.8" y2="2281.9" stroke="#7a7a7a" stroke-width="1"/>
<line x1="1054.8" y1="2294.9" x2="1054.8" y2="2304" stroke="#7a7a7a" stroke-width="1"/>
<rect x="1048.2" y="2281.9" width="13.2" height="13" fill="#4540a3" stroke="#555" stroke-width="0.6"/>
<line x1="1048.2" y1="2290.8" x2="1061.4" y2="2290.8" stroke="#222" stroke-width="1.6"/>
<line x1="1084.5" y1="2122.8" x2="1084.5" y2="2179" stroke="#7a7a7a" stroke-width="1"/>
<line x1="1084.5" y1="2259.7" x2="1084.5" y2="2304.9" stroke="#7a7a7a" stroke-width="1"/>
<rect x="1077.9" y="2179" width="13.2" height="80.7" fill="#de2c24" stroke="#555" stroke-width="0.6"/>
<line x1="1077.9" y1="2222.2" x2="1091.1" y2="2222.2" stroke="#222" stroke-width="1.6"/>
<line x1="1099.2" y1="2196" x2="1099.2" y2="2254.7" stroke="#7a7a7a" stroke-width="1"/>
<line x1="1099.2" y1="2293.8" x2="1099.2" y2="2304.4" stroke="#7a7a7a" stroke-width="1"/>
<rect x="1092.7" y="2254.7" width="13.2" height="39.1" fill="#2db41e" stroke="#555" stroke-width="0.6"/>
<line x1="1092.7" y1="2281.6" x2="1105.9" y2="2281.6" stroke="#222" stroke-width="1.6"/>
<line x1="1114" y1="2262" x2="1114" y2="2283.3" stroke="#7a7a7a" stroke-width="1"/>
<line x1="1114" y1="2297.2" x2="1114" y2="2304.9" stroke="#7a7a7a" stroke-width="1"/>
<rect x="1107.4" y="2283.3" width="13.2" height="13.9" fill="#4540a3" stroke="#555" stroke-width="0.6"/>
<line x1="1107.4" y1="2292.7" x2="1120.6" y2="2292.7" stroke="#222" stroke-width="1.6"/>
<line x1="1143.7" y1="2122.8" x2="1143.7" y2="2182.7" stroke="#7a7a7a" stroke-width="1"/>
<line x1="1143.7" y1="2261.5" x2="1143.7" y2="2301.6" stroke="#7a7a7a" stroke-width="1"/>
<rect x="1137.1" y="2182.7" width="13.2" height="78.7" fill="#de2c24" stroke="#555" stroke-width="0.6"/>
<line x1="1137.1" y1="2226.6" x2="1150.3" y2="2226.6" stroke="#222" stroke-width="1.6"/>
<line x1="1158.5" y1="2198.9" x2="1158.5" y2="2253.8" stroke="#7a7a7a" stroke-width="1"/>
<line x1="1158.5" y1="2290.2" x2="1158.5" y2="2302.1" stroke="#7a7a7a" stroke-width="1"/>
<rect x="1151.9" y="2253.8" width="13.2" height="36.4" fill="#2db41e" stroke="#555" stroke-width="0.6"/>
<line x1="1151.9" y1="2279" x2="1165.1" y2="2279" stroke="#222" stroke-width="1.6"/>
<line x1="1173.2" y1="2255.9" x2="1173.2" y2="2279" stroke="#7a7a7a" stroke-width="1"/>
<line x1="1173.2" y1="2294.9" x2="1173.2" y2="2302.5" stroke="#7a7a7a" stroke-width="1"/>
<rect x="1166.6" y="2279" width="13.2" height="15.9" fill="#4540a3" stroke="#555" stroke-width="0.6"/>
<line x1="1166.6" y1="2290.2" x2="1179.8" y2="2290.2" stroke="#222" stroke-width="1.6"/>
<line x1="1202.9" y1="2122.8" x2="1202.9" y2="2181" stroke="#7a7a7a" stroke-width="1"/>
<line x1="1202.9" y1="2263.9" x2="1202.9" y2="2304.4" stroke="#7a7a7a" stroke-width="1"/>
<rect x="1196.3" y="2181" width="13.2" height="82.9" fill="#de2c24" stroke="#555" stroke-width="0.6"/>
<line x1="1196.3" y1="2224.9" x2="1209.5" y2="2224.9" stroke="#222" stroke-width="1.6"/>
<line x1="1217.7" y1="2212.3" x2="1217.7" y2="2261.1" stroke="#7a7a7a" stroke-width="1"/>
<line x1="1217.7" y1="2293.2" x2="1217.7" y2="2304.9" stroke="#7a7a7a" stroke-width="1"/>
<rect x="1211.1" y="2261.1" width="13.2" height="32.1" fill="#2db41e" stroke="#555" stroke-width="0.6"/>
<line x1="1211.1" y1="2283.8" x2="1224.3" y2="2283.8" stroke="#222" stroke-width="1.6"/>
<line x1="1232.4" y1="2269.5" x2="1232.4" y2="2285.7" stroke="#7a7a7a" stroke-width="1"/>
<line x1="1232.4" y1="2296.7" x2="1232.4" y2="2305.9" stroke="#7a7a7a" stroke-width="1"/>
<rect x="1225.8" y="2285.7" width="13.2" height="11" fill="#4540a3" stroke="#555" stroke-width="0.6"/>
<line x1="1225.8" y1="2292.6" x2="1239" y2="2292.6" stroke="#222" stroke-width="1.6"/>
<rect x="1005.1" y="2114.3" width="247.4" height="208" fill="none" stroke="#333" stroke-width="1.5"/>
<line x1="1040.4" y1="2322.3" x2="1040.4" y2="2329.3" stroke="#333" stroke-width="2"/>
<text x="1048.4" y="2395.7" font-size="22" font-weight="bold" stroke="#000" stroke-width="0.30" textLength="42.9" lengthAdjust="spacingAndGlyphs" transform="rotate(-90 1048.4 2395.7)">NBC</text>
<line x1="1099.6" y1="2322.3" x2="1099.6" y2="2329.3" stroke="#333" stroke-width="2"/>
<text x="1107.6" y="2395.7" font-size="22" font-weight="bold" stroke="#000" stroke-width="0.30" textLength="57.1" lengthAdjust="spacingAndGlyphs" transform="rotate(-90 1107.6 2395.7)">GCBC</text>
<line x1="1158.8" y1="2322.3" x2="1158.8" y2="2329.3" stroke="#333" stroke-width="2"/>
<text x="1166.8" y="2395.7" font-size="22" font-weight="bold" stroke="#000" stroke-width="0.30" textLength="28.6" lengthAdjust="spacingAndGlyphs" transform="rotate(-90 1166.8 2395.7)">PC</text>
<line x1="1218" y1="2322.3" x2="1218" y2="2329.3" stroke="#333" stroke-width="2"/>
<text x="1226" y="2395.7" font-size="22" font-weight="bold" stroke="#000" stroke-width="0.30" textLength="50.3" lengthAdjust="spacingAndGlyphs" transform="rotate(-90 1226 2395.7)">MBC</text>
<rect x="1273.3" y="2060.4" width="247.4" height="53.9" fill="#b3b3b3"/>
<text x="1408.3" y="2094" font-size="21" text-anchor="middle" stroke="#000" stroke-width="0.42" textLength="92.6" lengthAdjust="spacingAndGlyphs">RNA-seq</text>
<rect x="1273.3" y="2114.3" width="247.4" height="208" fill="#fff"/>
<line x1="1293.5" y1="2122.8" x2="1293.5" y2="2219.3" stroke="#7a7a7a" stroke-width="1"/>
<line x1="1293.5" y1="2304.3" x2="1293.5" y2="2313" stroke="#7a7a7a" stroke-width="1"/>
<rect x="1286.9" y="2219.3" width="13.2" height="84.9" fill="#de2c24" stroke="#555" stroke-width="0.6"/>
<line x1="1286.9" y1="2274.2" x2="1300.1" y2="2274.2" stroke="#222" stroke-width="1.6"/>
<line x1="1308.2" y1="2262.5" x2="1308.2" y2="2290.8" stroke="#7a7a7a" stroke-width="1"/>
<line x1="1308.2" y1="2308.9" x2="1308.2" y2="2313" stroke="#7a7a7a" stroke-width="1"/>
<rect x="1301.6" y="2290.8" width="13.2" height="18.1" fill="#2db41e" stroke="#555" stroke-width="0.6"/>
<line x1="1301.6" y1="2306.8" x2="1314.8" y2="2306.8" stroke="#222" stroke-width="1.6"/>
<line x1="1323" y1="2300.1" x2="1323" y2="2306.3" stroke="#7a7a7a" stroke-width="1"/>
<line x1="1323" y1="2309.6" x2="1323" y2="2312.5" stroke="#7a7a7a" stroke-width="1"/>
<rect x="1316.4" y="2306.3" width="13.2" height="3.2" fill="#4540a3" stroke="#555" stroke-width="0.6"/>
<line x1="1316.4" y1="2308.2" x2="1329.6" y2="2308.2" stroke="#222" stroke-width="1.6"/>
<line x1="1352.7" y1="2122.8" x2="1352.7" y2="2205.7" stroke="#7a7a7a" stroke-width="1"/>
<line x1="1352.7" y1="2294.4" x2="1352.7" y2="2312" stroke="#7a7a7a" stroke-width="1"/>
<rect x="1346.1" y="2205.7" width="13.2" height="88.6" fill="#de2c24" stroke="#555" stroke-width="0.6"/>
<line x1="1346.1" y1="2259" x2="1359.3" y2="2259" stroke="#222" stroke-width="1.6"/>
<line x1="1367.4" y1="2256.5" x2="1367.4" y2="2288.1" stroke="#7a7a7a" stroke-width="1"/>
<line x1="1367.4" y1="2308.2" x2="1367.4" y2="2312" stroke="#7a7a7a" stroke-width="1"/>
<rect x="1360.8" y="2288.1" width="13.2" height="20.2" fill="#2db41e" stroke="#555" stroke-width="0.6"/>
<line x1="1360.8" y1="2305.4" x2="1374" y2="2305.4" stroke="#222" stroke-width="1.6"/>
<line x1="1382.2" y1="2299.1" x2="1382.2" y2="2305.9" stroke="#7a7a7a" stroke-width="1"/>
<line x1="1382.2" y1="2308.9" x2="1382.2" y2="2312" stroke="#7a7a7a" stroke-width="1"/>
<rect x="1375.6" y="2305.9" width="13.2" height="3" fill="#4540a3" stroke="#555" stroke-width="0.6"/>
<line x1="1375.6" y1="2307.8" x2="1388.8" y2="2307.8" stroke="#222" stroke-width="1.6"/>
<line x1="1411.9" y1="2122.8" x2="1411.9" y2="2213.5" stroke="#7a7a7a" stroke-width="1"/>
<line x1="1411.9" y1="2297.2" x2="1411.9" y2="2312" stroke="#7a7a7a" stroke-width="1"/>
<rect x="1405.3" y="2213.5" width="13.2" height="83.7" fill="#de2c24" stroke="#555" stroke-width="0.6"/>
<line x1="1405.3" y1="2266" x2="1418.5" y2="2266" stroke="#222" stroke-width="1.6"/>
<line x1="1426.6" y1="2245.9" x2="1426.6" y2="2283" stroke="#7a7a7a" stroke-width="1"/>
<line x1="1426.6" y1="2307.8" x2="1426.6" y2="2312" stroke="#7a7a7a" stroke-width="1"/>
<rect x="1420" y="2283" width="13.2" height="24.7" fill="#2db41e" stroke="#555" stroke-width="0.6"/>
<line x1="1420" y1="2303.6" x2="1433.2" y2="2303.6" stroke="#222" stroke-width="1.6"/>
<line x1="1441.4" y1="2296.2" x2="1441.4" y2="2304" stroke="#7a7a7a" stroke-width="1"/>
<line x1="1441.4" y1="2308.9" x2="1441.4" y2="2312" stroke="#7a7a7a" stroke-width="1"/>
<rect x="1434.8" y="2304" width="13.2" height="4.9" fill="#4540a3" stroke="#555" stroke-width="0.6"/>
<line x1="1434.8" y1="2307.3" x2="1448" y2="2307.3" stroke="#222" stroke-width="1.6"/>
<line x1="1471.1" y1="2122.8" x2="1471.1" y2="2215.7" stroke="#7a7a7a" stroke-width="1"/>
<line x1="1471.1" y1="2303.3" x2="1471.1" y2="2313" stroke="#7a7a7a" stroke-width="1"/>
<rect x="1464.5" y="2215.7" width="13.2" height="87.6" fill="#de2c24" stroke="#555" stroke-width="0.6"/>
<line x1="1464.5" y1="2271.7" x2="1477.7" y2="2271.7" stroke="#222" stroke-width="1.6"/>
<line x1="1485.8" y1="2265.3" x2="1485.8" y2="2291.9" stroke="#7a7a7a" stroke-width="1"/>
<line x1="1485.8" y1="2308.9" x2="1485.8" y2="2313" stroke="#7a7a7a" stroke-width="1"/>
<rect x="1479.2" y="2291.9" width="13.2" height="17" fill="#2db41e" stroke="#555" stroke-width="0.6"/>
<line x1="1479.2" y1="2305.4" x2="1492.5" y2="2305.4" stroke="#222" stroke-width="1.6"/>
<line x1="1500.6" y1="2299.1" x2="1500.6" y2="2305.9" stroke="#7a7a7a" stroke-width="1"/>
<line x1="1500.6" y1="2308.9" x2="1500.6" y2="2312.5" stroke="#7a7a7a" stroke-width="1"/>
<rect x="1494" y="2305.9" width="13.2" height="3" fill="#4540a3" stroke="#555" stroke-width="0.6"/>
<line x1="1494" y1="2307.8" x2="1507.2" y2="2307.8" stroke="#222" stroke-width="1.6"/>
<rect x="1273.3" y="2114.3" width="247.4" height="208" fill="none" stroke="#333" stroke-width="1.5"/>
<line x1="1308.6" y1="2322.3" x2="1308.6" y2="2329.3" stroke="#333" stroke-width="2"/>
<text x="1316.6" y="2395.7" font-size="22" font-weight="bold" stroke="#000" stroke-width="0.30" textLength="42.9" lengthAdjust="spacingAndGlyphs" transform="rotate(-90 1316.6 2395.7)">NBC</text>
<line x1="1367.8" y1="2322.3" x2="1367.8" y2="2329.3" stroke="#333" stroke-width="2"/>
<text x="1375.8" y="2395.7" font-size="22" font-weight="bold" stroke="#000" stroke-width="0.30" textLength="57.1" lengthAdjust="spacingAndGlyphs" transform="rotate(-90 1375.8 2395.7)">GCBC</text>
<line x1="1427" y1="2322.3" x2="1427" y2="2329.3" stroke="#333" stroke-width="2"/>
<text x="1435" y="2395.7" font-size="22" font-weight="bold" stroke="#000" stroke-width="0.30" textLength="28.6" lengthAdjust="spacingAndGlyphs" transform="rotate(-90 1435 2395.7)">PC</text>
<line x1="1486.2" y1="2322.3" x2="1486.2" y2="2329.3" stroke="#333" stroke-width="2"/>
<text x="1494.2" y="2395.7" font-size="22" font-weight="bold" stroke="#000" stroke-width="0.30" textLength="50.3" lengthAdjust="spacingAndGlyphs" transform="rotate(-90 1494.2 2395.7)">MBC</text>
<rect x="1541.4" y="2060.4" width="247.4" height="53.9" fill="#b3b3b3"/>
<text x="1665.1" y="2094" font-size="21" text-anchor="middle" stroke="#000" stroke-width="0.42" textLength="66.8" lengthAdjust="spacingAndGlyphs">WGBS</text>
<rect x="1541.4" y="2114.3" width="247.4" height="208" fill="#fff"/>
<line x1="1561.6" y1="2127" x2="1561.6" y2="2144.9" stroke="#7a7a7a" stroke-width="1"/>
<line x1="1561.6" y1="2197.8" x2="1561.6" y2="2275.4" stroke="#7a7a7a" stroke-width="1"/>
<rect x="1555" y="2144.9" width="13.2" height="52.9" fill="#de2c24" stroke="#555" stroke-width="0.6"/>
<line x1="1555" y1="2171.5" x2="1568.2" y2="2171.5" stroke="#222" stroke-width="1.6"/>
<line x1="1576.3" y1="2127" x2="1576.3" y2="2133.5" stroke="#7a7a7a" stroke-width="1"/>
<line x1="1576.3" y1="2168.1" x2="1576.3" y2="2220.6" stroke="#7a7a7a" stroke-width="1"/>
<rect x="1569.8" y="2133.5" width="13.2" height="34.6" fill="#2db41e" stroke="#555" stroke-width="0.6"/>
<line x1="1569.8" y1="2140.3" x2="1583" y2="2140.3" stroke="#222" stroke-width="1.6"/>
<line x1="1591.1" y1="2127" x2="1591.1" y2="2134.2" stroke="#7a7a7a" stroke-width="1"/>
<line x1="1591.1" y1="2142.2" x2="1591.1" y2="2154.8" stroke="#7a7a7a" stroke-width="1"/>
<rect x="1584.5" y="2134.2" width="13.2" height="8" fill="#4540a3" stroke="#555" stroke-width="0.6"/>
<line x1="1584.5" y1="2136.9" x2="1597.7" y2="2136.9" stroke="#222" stroke-width="1.6"/>
<line x1="1620.8" y1="2127.4" x2="1620.8" y2="2161.6" stroke="#7a7a7a" stroke-width="1"/>
<line x1="1620.8" y1="2213" x2="1620.8" y2="2289.1" stroke="#7a7a7a" stroke-width="1"/>
<rect x="1614.2" y="2161.6" width="13.2" height="51.4" fill="#de2c24" stroke="#555" stroke-width="0.6"/>
<line x1="1614.2" y1="2186.7" x2="1627.4" y2="2186.7" stroke="#222" stroke-width="1.6"/>
<line x1="1635.5" y1="2127.4" x2="1635.5" y2="2159.3" stroke="#7a7a7a" stroke-width="1"/>
<line x1="1635.5" y1="2189.8" x2="1635.5" y2="2234.3" stroke="#7a7a7a" stroke-width="1"/>
<rect x="1629" y="2159.3" width="13.2" height="30.4" fill="#2db41e" stroke="#555" stroke-width="0.6"/>
<line x1="1629" y1="2168.8" x2="1642.2" y2="2168.8" stroke="#222" stroke-width="1.6"/>
<line x1="1650.3" y1="2145.6" x2="1650.3" y2="2162" stroke="#7a7a7a" stroke-width="1"/>
<line x1="1650.3" y1="2173.4" x2="1650.3" y2="2189.8" stroke="#7a7a7a" stroke-width="1"/>
<rect x="1643.7" y="2162" width="13.2" height="11.4" fill="#4540a3" stroke="#555" stroke-width="0.6"/>
<line x1="1643.7" y1="2165.8" x2="1656.9" y2="2165.8" stroke="#222" stroke-width="1.6"/>
<line x1="1680" y1="2131.6" x2="1680" y2="2173" stroke="#7a7a7a" stroke-width="1"/>
<line x1="1680" y1="2221" x2="1680" y2="2293.2" stroke="#7a7a7a" stroke-width="1"/>
<rect x="1673.4" y="2173" width="13.2" height="47.9" fill="#de2c24" stroke="#555" stroke-width="0.6"/>
<line x1="1673.4" y1="2196.2" x2="1686.6" y2="2196.2" stroke="#222" stroke-width="1.6"/>
<line x1="1694.8" y1="2131.6" x2="1694.8" y2="2173" stroke="#7a7a7a" stroke-width="1"/>
<line x1="1694.8" y1="2201.6" x2="1694.8" y2="2244.2" stroke="#7a7a7a" stroke-width="1"/>
<rect x="1688.2" y="2173" width="13.2" height="28.5" fill="#2db41e" stroke="#555" stroke-width="0.6"/>
<line x1="1688.2" y1="2183.7" x2="1701.4" y2="2183.7" stroke="#222" stroke-width="1.6"/>
<line x1="1709.5" y1="2164.3" x2="1709.5" y2="2180.3" stroke="#7a7a7a" stroke-width="1"/>
<line x1="1709.5" y1="2191.7" x2="1709.5" y2="2209.5" stroke="#7a7a7a" stroke-width="1"/>
<rect x="1702.9" y="2180.3" width="13.2" height="11.4" fill="#4540a3" stroke="#555" stroke-width="0.6"/>
<line x1="1702.9" y1="2185.6" x2="1716.1" y2="2185.6" stroke="#222" stroke-width="1.6"/>
<line x1="1739.2" y1="2127.4" x2="1739.2" y2="2166.9" stroke="#7a7a7a" stroke-width="1"/>
<line x1="1739.2" y1="2213" x2="1739.2" y2="2280.7" stroke="#7a7a7a" stroke-width="1"/>
<rect x="1732.6" y="2166.9" width="13.2" height="46" fill="#de2c24" stroke="#555" stroke-width="0.6"/>
<line x1="1732.6" y1="2189.8" x2="1745.8" y2="2189.8" stroke="#222" stroke-width="1.6"/>
<line x1="1753.9" y1="2127" x2="1753.9" y2="2170" stroke="#7a7a7a" stroke-width="1"/>
<line x1="1753.9" y1="2199.7" x2="1753.9" y2="2244.2" stroke="#7a7a7a" stroke-width="1"/>
<rect x="1747.3" y="2170" width="13.2" height="29.7" fill="#2db41e" stroke="#555" stroke-width="0.6"/>
<line x1="1747.3" y1="2183.7" x2="1760.5" y2="2183.7" stroke="#222" stroke-width="1.6"/>
<line x1="1768.7" y1="2160.5" x2="1768.7" y2="2180.3" stroke="#7a7a7a" stroke-width="1"/>
<line x1="1768.7" y1="2194.3" x2="1768.7" y2="2214.9" stroke="#7a7a7a" stroke-width="1"/>
<rect x="1762.1" y="2180.3" width="13.2" height="14.1" fill="#4540a3" stroke="#555" stroke-width="0.6"/>
<line x1="1762.1" y1="2186.7" x2="1775.3" y2="2186.7" stroke="#222" stroke-width="1.6"/>
<rect x="1541.4" y="2114.3" width="247.4" height="208" fill="none" stroke="#333" stroke-width="1.5"/>
<line x1="1576.7" y1="2322.3" x2="1576.7" y2="2329.3" stroke="#333" stroke-width="2"/>
<text x="1584.7" y="2395.7" font-size="22" font-weight="bold" stroke="#000" stroke-width="0.30" textLength="42.9" lengthAdjust="spacingAndGlyphs" transform="rotate(-90 1584.7 2395.7)">NBC</text>
<line x1="1635.9" y1="2322.3" x2="1635.9" y2="2329.3" stroke="#333" stroke-width="2"/>
<text x="1643.9" y="2395.7" font-size="22" font-weight="bold" stroke="#000" stroke-width="0.30" textLength="57.1" lengthAdjust="spacingAndGlyphs" transform="rotate(-90 1643.9 2395.7)">GCBC</text>
<line x1="1695.1" y1="2322.3" x2="1695.1" y2="2329.3" stroke="#333" stroke-width="2"/>
<text x="1703.1" y="2395.7" font-size="22" font-weight="bold" stroke="#000" stroke-width="0.30" textLength="28.6" lengthAdjust="spacingAndGlyphs" transform="rotate(-90 1703.1 2395.7)">PC</text>
<line x1="1754.3" y1="2322.3" x2="1754.3" y2="2329.3" stroke="#333" stroke-width="2"/>
<text x="1762.3" y="2395.7" font-size="22" font-weight="bold" stroke="#000" stroke-width="0.30" textLength="50.3" lengthAdjust="spacingAndGlyphs" transform="rotate(-90 1762.3 2395.7)">MBC</text>
<line x1="994.5" y1="2313" x2="1005.1" y2="2313" stroke="#333" stroke-width="2"/>
<text x="990.5" y="2319.6" font-size="18.5" text-anchor="end" stroke="#000" stroke-width="0.42" textLength="10.8" lengthAdjust="spacingAndGlyphs">0</text>
<line x1="994.5" y1="2265.4" x2="1005.1" y2="2265.4" stroke="#333" stroke-width="2"/>
<text x="990.5" y="2272" font-size="18.5" text-anchor="end" stroke="#000" stroke-width="0.42" textLength="21.6" lengthAdjust="spacingAndGlyphs">50</text>
<line x1="994.5" y1="2217.9" x2="1005.1" y2="2217.9" stroke="#333" stroke-width="2"/>
<text x="990.5" y="2224.5" font-size="18.5" text-anchor="end" stroke="#000" stroke-width="0.42" textLength="32.4" lengthAdjust="spacingAndGlyphs">100</text>
<line x1="994.5" y1="2170.3" x2="1005.1" y2="2170.3" stroke="#333" stroke-width="2"/>
<text x="990.5" y="2176.9" font-size="18.5" text-anchor="end" stroke="#000" stroke-width="0.42" textLength="32.4" lengthAdjust="spacingAndGlyphs">150</text>
<line x1="994.5" y1="2122.8" x2="1005.1" y2="2122.8" stroke="#333" stroke-width="2"/>
<text x="990.5" y="2129.4" font-size="18.5" text-anchor="end" stroke="#000" stroke-width="0.42" textLength="32.4" lengthAdjust="spacingAndGlyphs">200</text>
<line x1="1788.8" y1="2316.9" x2="1796.5" y2="2316.9" stroke="#333" stroke-width="2"/>
<text x="1804.4" y="2323.5" font-size="18.5" stroke="#000" stroke-width="0.42" textLength="27.5" lengthAdjust="spacingAndGlyphs">0.5</text>
<line x1="1788.8" y1="2278.9" x2="1796.5" y2="2278.9" stroke="#333" stroke-width="2"/>
<text x="1804.4" y="2285.5" font-size="18.5" stroke="#000" stroke-width="0.42" textLength="27.5" lengthAdjust="spacingAndGlyphs">0.6</text>
<line x1="1788.8" y1="2240.8" x2="1796.5" y2="2240.8" stroke="#333" stroke-width="2"/>
<text x="1804.4" y="2247.4" font-size="18.5" stroke="#000" stroke-width="0.42" textLength="27.5" lengthAdjust="spacingAndGlyphs">0.7</text>
<line x1="1788.8" y1="2202.8" x2="1796.5" y2="2202.8" stroke="#333" stroke-width="2"/>
<text x="1804.4" y="2209.4" font-size="18.5" stroke="#000" stroke-width="0.42" textLength="27.5" lengthAdjust="spacingAndGlyphs">0.8</text>
<line x1="1788.8" y1="2164.7" x2="1796.5" y2="2164.7" stroke="#333" stroke-width="2"/>
<text x="1804.4" y="2171.3" font-size="18.5" stroke="#000" stroke-width="0.42" textLength="27.5" lengthAdjust="spacingAndGlyphs">0.9</text>
<line x1="1788.8" y1="2126.7" x2="1796.5" y2="2126.7" stroke="#333" stroke-width="2"/>
<text x="1804.4" y="2133.3" font-size="18.5" stroke="#000" stroke-width="0.42" textLength="27.5" lengthAdjust="spacingAndGlyphs">1.0</text>
<text x="930.9" y="1950.6" font-size="18.5" text-anchor="middle" stroke="#000" stroke-width="0.42" textLength="397" lengthAdjust="spacingAndGlyphs" transform="rotate(-90 930.9 1950.6)">Normalized signal at 100Kb of resolution</text>
<text x="1399.4" y="2441.4" font-size="19.5" font-weight="bold" text-anchor="middle" stroke="#000" stroke-width="0.30" textLength="224" lengthAdjust="spacingAndGlyphs">Compartment definition</text>
<line x1="1319.1" y1="2455.7" x2="1319.1" y2="2495.7" stroke="#7a7a7a" stroke-width="1"/>
<rect x="1302.8" y="2465.4" width="32.6" height="22.9" fill="#de2c24" stroke="#555" stroke-width="0.6"/>
<line x1="1302.8" y1="2476.9" x2="1335.4" y2="2476.9" stroke="#222" stroke-width="1.4"/>
<text x="1344.6" y="2484.3" font-size="16" stroke="#000" stroke-width="0.37">A</text>
<line x1="1392" y1="2455.7" x2="1392" y2="2495.7" stroke="#7a7a7a" stroke-width="1"/>
<rect x="1375.4" y="2465.4" width="33.2" height="22.9" fill="#2db41e" stroke="#555" stroke-width="0.6"/>
<line x1="1375.4" y1="2476.9" x2="1408.6" y2="2476.9" stroke="#222" stroke-width="1.4"/>
<text x="1417" y="2484.3" font-size="16" stroke="#000" stroke-width="0.37">I</text>
<line x1="1459.5" y1="2455.7" x2="1459.5" y2="2495.7" stroke="#7a7a7a" stroke-width="1"/>
<rect x="1442.9" y="2465.4" width="33.1" height="22.9" fill="#4540a3" stroke="#555" stroke-width="0.6"/>
<line x1="1442.9" y1="2476.9" x2="1476" y2="2476.9" stroke="#222" stroke-width="1.4"/>
<text x="1485.7" y="2484.3" font-size="16" stroke="#000" stroke-width="0.37">B</text>
</svg></body></html>
